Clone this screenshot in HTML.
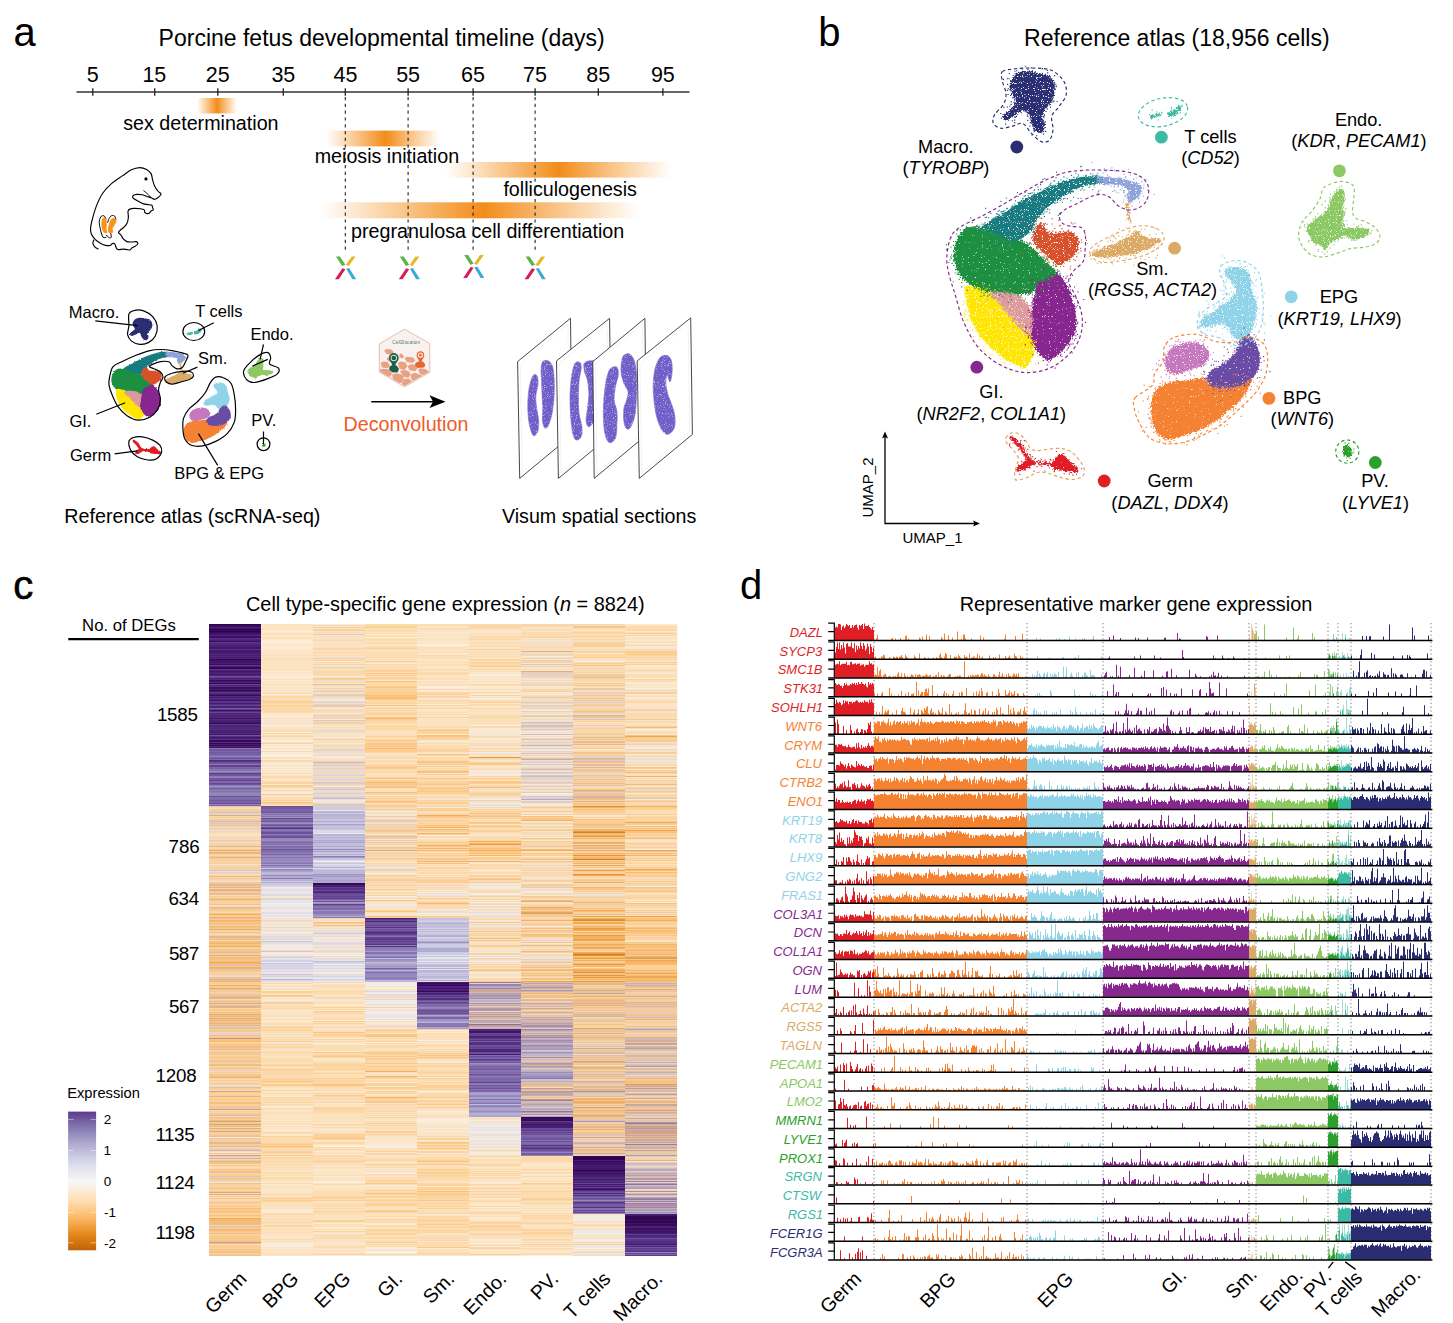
<!DOCTYPE html><html><head><meta charset="utf-8"><title>Figure</title><style>html,body{margin:0;padding:0;background:#fff}svg{display:block}text{font-family:"Liberation Sans",sans-serif;white-space:pre}</style></head><body>
<svg width="1453" height="1323" viewBox="0 0 1453 1323" font-family="Liberation Sans, sans-serif">
<rect width="1453" height="1323" fill="#fff"/>
<g id="pa">
<text x="13.40" y="45.70" font-size="40">a</text>
<text x="158.60" y="46.00" font-size="23">Porcine fetus developmental timeline (days)</text>
<path d="M76.5 92H689.5" stroke="#333" stroke-width="1.6" fill="none"/>
<path d="M92.8 88.3V95.8M154.7 88.3V95.8M217.8 88.3V95.8M283.3 88.3V95.8M345.3 88.3V95.8M408.1 88.3V95.8M473.1 88.3V95.8M535.1 88.3V95.8M598.3 88.3V95.8M662.9 88.3V95.8" stroke="#222" stroke-width="1.3" fill="none"/>
<text x="86.83" y="82.00" font-size="21.5">5</text>
<text x="142.39" y="82.00" font-size="21.5">15</text>
<text x="205.76" y="82.00" font-size="21.5">25</text>
<text x="271.39" y="82.00" font-size="21.5">35</text>
<text x="333.56" y="82.00" font-size="21.5">45</text>
<text x="396.17" y="82.00" font-size="21.5">55</text>
<text x="461.06" y="82.00" font-size="21.5">65</text>
<text x="523.06" y="82.00" font-size="21.5">75</text>
<text x="586.34" y="82.00" font-size="21.5">85</text>
<text x="650.89" y="82.00" font-size="21.5">95</text>
<defs>
<linearGradient id="g1" x1="0" x2="1" y1="0" y2="0"><stop offset="0" stop-color="#F7931E" stop-opacity="0"/><stop offset="0.50" stop-color="#F28C1A" stop-opacity="1"/><stop offset="1" stop-color="#F7931E" stop-opacity="0"/></linearGradient>
<linearGradient id="g2" x1="0" x2="1" y1="0" y2="0"><stop offset="0" stop-color="#F7931E" stop-opacity="0"/><stop offset="0.52" stop-color="#F28C1A" stop-opacity="1"/><stop offset="1" stop-color="#F7931E" stop-opacity="0"/></linearGradient>
<linearGradient id="g3" x1="0" x2="1" y1="0" y2="0"><stop offset="0" stop-color="#F7931E" stop-opacity="0"/><stop offset="0.50" stop-color="#F28C1A" stop-opacity="1"/><stop offset="1" stop-color="#F7931E" stop-opacity="0"/></linearGradient>
<linearGradient id="g4" x1="0" x2="1" y1="0" y2="0"><stop offset="0" stop-color="#F7931E" stop-opacity="0"/><stop offset="0.51" stop-color="#F28C1A" stop-opacity="1"/><stop offset="1" stop-color="#F7931E" stop-opacity="0"/></linearGradient>
</defs>
<rect x="197" y="98" width="40" height="15.4" fill="url(#g1)"/>
<rect x="326" y="130.6" width="114" height="15.8" fill="url(#g2)"/>
<rect x="446" y="162" width="225" height="15.6" fill="url(#g3)"/>
<rect x="321" y="202.3" width="318" height="16" fill="url(#g4)"/>
<text x="123.16" y="129.80" font-size="19.7">sex determination</text>
<text x="314.67" y="162.90" font-size="19.7">meiosis initiation</text>
<text x="503.40" y="196.40" font-size="19.7">folliculogenesis</text>
<text x="351.02" y="237.80" font-size="19.7">pregranulosa cell differentiation</text>
<path d="M345.3 97V252M408.1 97V252M473.1 97V252M535.1 97V252" stroke="#222" stroke-width="1.1" stroke-dasharray="3.2 3.6" fill="none"/>
<g transform="translate(345.6 267.0)">
<path d="M-9.6-10.6L-5.7-10.6L-0.2-2.2L-3.5-0.9Z" fill="#5DB346"/>
<path d="M6.1-10.6L10-10.6L3.2-0.9L0.2-1.9Z" fill="#E3B92A"/>
<path d="M-3.2 1.3L-0.2 2.2L-6.9 12.3L-10.6 12.3Z" fill="#D81A55"/>
<path d="M0.6 1.8L3.5 0.9L10.6 12.3L6.8 12.3Z" fill="#3FA9D6"/>
</g>
<g transform="translate(409.4 267.0)">
<path d="M-9.6-10.6L-5.7-10.6L-0.2-2.2L-3.5-0.9Z" fill="#5DB346"/>
<path d="M6.1-10.6L10-10.6L3.2-0.9L0.2-1.9Z" fill="#E3B92A"/>
<path d="M-3.2 1.3L-0.2 2.2L-6.9 12.3L-10.6 12.3Z" fill="#D81A55"/>
<path d="M0.6 1.8L3.5 0.9L10.6 12.3L6.8 12.3Z" fill="#3FA9D6"/>
</g>
<g transform="translate(473.8 265.6)">
<path d="M-9.6-10.6L-5.7-10.6L-0.2-2.2L-3.5-0.9Z" fill="#5DB346"/>
<path d="M6.1-10.6L10-10.6L3.2-0.9L0.2-1.9Z" fill="#E3B92A"/>
<path d="M-3.2 1.3L-0.2 2.2L-6.9 12.3L-10.6 12.3Z" fill="#D81A55"/>
<path d="M0.6 1.8L3.5 0.9L10.6 12.3L6.8 12.3Z" fill="#3FA9D6"/>
</g>
<g transform="translate(535.2 267.0)">
<path d="M-9.6-10.6L-5.7-10.6L-0.2-2.2L-3.5-0.9Z" fill="#5DB346"/>
<path d="M6.1-10.6L10-10.6L3.2-0.9L0.2-1.9Z" fill="#E3B92A"/>
<path d="M-3.2 1.3L-0.2 2.2L-6.9 12.3L-10.6 12.3Z" fill="#D81A55"/>
<path d="M0.6 1.8L3.5 0.9L10.6 12.3L6.8 12.3Z" fill="#3FA9D6"/>
</g>
<path d="M139.71 167.56C142.23 167.5 144.63 168.44 146.52 169.45C148.41 170.46 150.04 171.9 151.05 173.61C152.06 175.31 152 177.64 152.56 179.65C153.13 181.67 153.57 183.81 154.45 185.7C155.33 187.59 156.76 189.58 157.85 190.99C158.95 192.4 160.9 193.16 161.03 194.16C161.15 195.17 159.64 196.18 158.61 197.04C157.58 197.89 156.09 199.18 154.83 199.3C153.57 199.43 152.44 198.3 151.05 197.79C149.66 197.29 148.03 196.79 146.52 196.28C145 195.78 143.62 195.08 141.98 194.77C140.34 194.45 138.14 194.27 136.69 194.39C135.24 194.52 133.92 194.96 133.29 195.53C132.66 196.09 132.22 196.91 132.91 197.79C133.6 198.67 135.68 199.81 137.45 200.82C139.21 201.82 141.73 203.21 143.49 203.84C145.26 204.47 146.64 204.34 148.03 204.6C149.41 204.85 151.05 204.85 151.81 205.35C152.56 205.86 152.31 206.86 152.56 207.62C152.81 208.37 153.57 209.32 153.32 209.89C153.07 210.45 151.68 210.52 151.05 211.02C150.42 211.52 150.29 212.49 149.54 212.91C148.78 213.33 147.33 213.64 146.52 213.51C145.7 213.39 145 212.76 144.63 212.15C144.25 211.55 144.94 210.45 144.25 209.89C143.56 209.32 142.11 209 140.47 208.75C138.83 208.5 136.19 208.31 134.42 208.37C132.66 208.44 130.96 208.63 129.89 209.13C128.82 209.63 128.25 210.01 128 211.4C127.75 212.78 128.56 215.43 128.37 217.45C128.19 219.46 127.62 221.85 126.86 223.49C126.11 225.13 124.97 226.14 123.84 227.27C122.71 228.41 120.94 229.41 120.06 230.29C119.18 231.18 118.42 231.81 118.55 232.56C118.67 233.32 120.06 233.82 120.82 234.83C121.57 235.84 122.08 237.48 123.08 238.61C124.09 239.74 125.35 241.07 126.86 241.63C128.37 242.2 130.58 242.01 132.15 242.01C133.73 242.01 135.37 241.32 136.31 241.63C137.26 241.95 138.01 243.14 137.82 243.9C137.63 244.66 136.12 245.54 135.18 246.17C134.23 246.8 133.04 247.05 132.15 247.68C131.27 248.31 130.77 249.63 129.89 249.95C129 250.26 128 249.7 126.86 249.57C125.73 249.44 124.6 249.19 123.08 249.19C121.57 249.19 118.99 249.95 117.79 249.57C116.6 249.19 116.41 247.87 115.9 246.92C115.4 245.98 115.34 244.47 114.77 243.9C114.2 243.33 113.26 243.27 112.5 243.52C111.75 243.77 111.37 245.1 110.23 245.41C109.1 245.73 107.34 245.79 105.7 245.41C104.06 245.03 102.17 244.15 100.41 243.14C98.64 242.14 96.63 240.88 95.12 239.37C93.61 237.85 92.09 235.96 91.34 234.07C90.58 232.18 90.33 230.8 90.58 228.03C90.83 225.26 91.84 221.22 92.85 217.45C93.86 213.67 94.99 209.38 96.63 205.35C98.27 201.32 100.16 196.91 102.68 193.26C105.2 189.6 108.47 186.33 111.75 183.43C115.02 180.53 119.05 178.14 122.33 175.87C125.6 173.61 128.5 171.21 131.4 169.83C134.3 168.44 137.19 167.62 139.71 167.56Z" fill="#fff" stroke="#000" stroke-width="1.15" stroke-linejoin="round"/>
<circle cx="146.0" cy="178.9" r="1.6"/>
<path d="M143.49 190.61C144.12 191.12 146.01 192.5 147.27 193.64C148.53 194.77 150.42 196.79 151.05 197.41" fill="none" stroke="#000" stroke-width="1"/>
<path d="M93.98 239.74C93.79 240.31 92.72 241.95 92.85 243.14C92.98 244.34 93.79 245.92 94.74 246.92C95.68 247.93 97.89 248.81 98.52 249.19" fill="none" stroke="#000" stroke-width="1.1"/>
<path d="M106.46 237.1C105.89 237.12 104.06 238.51 103.05 237.25C102.05 235.99 101.04 232.21 100.41 229.54C99.78 226.87 99.09 223.47 99.27 221.22C99.46 218.98 100.66 216.9 101.54 216.08C102.42 215.27 103.81 215.71 104.57 216.31C105.32 216.92 105.83 219.15 106.08 219.71" fill="none" stroke="#000" stroke-width="1"/>
<path d="M106.08 234.83C106.52 235.27 107.88 237.03 108.72 237.48C109.57 237.92 110.83 238.29 111.14 237.48C111.46 236.66 110.7 233.38 110.61 232.56" fill="none" stroke="#000" stroke-width="1"/>
<path d="M107.59 222.74C107.84 222.04 108.41 219.78 109.1 218.58C109.79 217.38 110.8 215.93 111.75 215.56C112.69 215.18 114.08 215.62 114.77 216.31C115.46 217 115.71 219.15 115.9 219.71" fill="none" stroke="#000" stroke-width="1"/>
<path d="M102.68 218.2C103.39 217.42 105.01 217.04 105.7 218.05C106.39 219.06 106.71 222.33 106.83 224.25C106.96 226.16 106.37 228.13 106.46 229.54C106.54 230.95 107.74 232.18 107.36 232.71C106.98 233.24 105.09 233.37 104.19 232.71C103.28 232.06 102.39 230.45 101.92 228.78C101.45 227.12 101.26 224.5 101.39 222.74C101.52 220.97 101.96 218.98 102.68 218.2Z" fill="#F7931E"/>
<path d="M112.5 218.2C113.38 217.89 114.87 218.08 115.53 218.58C116.18 219.08 116.66 220.03 116.43 221.22C116.21 222.42 114.79 224.5 114.16 225.76C113.53 227.02 112.84 227.71 112.65 228.78C112.46 229.85 113.56 231.47 113.03 232.18C112.5 232.9 110.35 233.41 109.48 233.09C108.61 232.78 107.94 231.64 107.82 230.29C107.69 228.95 108.32 226.64 108.72 225C109.13 223.37 109.6 221.6 110.23 220.47C110.86 219.33 111.62 218.52 112.5 218.2Z" fill="#F7931E"/>
</g>
<g id="pa2">
<defs><filter id="rough2" x="-5%" y="-5%" width="110%" height="110%"><feTurbulence type="fractalNoise" baseFrequency="0.7" numOctaves="2" seed="5" result="n"/><feDisplacementMap in="SourceGraphic" in2="n" scale="2.2" xChannelSelector="R" yChannelSelector="G"/></filter></defs>
<g filter="url(#rough2)">
<path d="M134 322.1C134.4 321.5 134.8 320.3 135.9 319.8C137 319.2 139.1 318.8 140.7 318.8C142.3 318.8 144 319.3 145.4 319.6C146.9 319.9 148.4 319.9 149.4 320.5C150.4 321.2 151.1 322.5 151.3 323.7C151.5 324.9 151.3 326.6 150.8 327.7C150.4 328.8 149.2 329.6 148.5 330.6C147.7 331.5 146.7 332.3 146.6 333.3C146.4 334.3 147.5 335.5 147.5 336.5C147.5 337.4 147.1 338.6 146.6 339C146 339.4 144.7 339.2 144 338.6C143.3 338 142.6 336.6 142.1 335.7C141.6 334.7 141.7 333.5 141.1 332.9C140.6 332.2 139.6 331.6 138.8 331.7C137.9 331.7 137 332.7 135.9 333.3C134.8 333.8 133 334.9 132.1 335C131.3 335.1 130.7 334.4 131 333.8C131.3 333.1 133.2 332.1 134 331.3C134.9 330.5 135.9 329.8 135.9 328.9C136 328 134.9 327 134.5 326.1C134.1 325.3 133.6 324.4 133.6 323.7C133.5 323.1 133.6 322.8 134 322.1Z" fill="#2A2D72" stroke="#2A2D72" stroke-width="2" stroke-linejoin="round"/>
<path d="M122.7 370.9C123.3 370.3 125.7 368.7 127.4 367.6C129.1 366.6 131.2 365.8 132.9 364.9C134.6 363.9 135.8 363.1 137.6 362.1C139.4 361.1 141.8 359.9 143.9 358.9C145.9 358 148 357.2 150.1 356.5C152.2 355.7 154.4 355 156.4 354.5C158.3 353.9 160 353.5 161.8 353.3C163.7 353.2 166.2 353.1 167.3 353.3C168.5 353.5 168.7 354.2 168.7 354.6C168.7 355 168.3 355.3 167.3 355.6C166.3 355.9 164.2 355.9 162.6 356.3C161.1 356.7 159.4 357.3 157.9 357.9C156.5 358.6 155.3 359.3 154 360C152.7 360.8 151.3 361.6 150.1 362.4C148.9 363.2 148 363.9 147 364.9C146 365.8 145.1 366.7 144.2 367.9C143.4 369 143 370.7 141.9 371.8C140.8 372.9 139.1 374 137.6 374.4C136.1 374.9 134.5 374.8 132.9 374.4C131.3 374.1 129.6 372.9 128.2 372.3C126.8 371.8 125.2 371.4 124.3 371.2C123.4 371 122.2 371.5 122.7 370.9Z" fill="#197B82" stroke="#197B82" stroke-width="3" stroke-linejoin="round"/>
<path d="M167.2 353.2C167.9 352.9 170.9 353.4 172.8 353.6C174.7 353.8 176.7 354 178.3 354.3C179.9 354.6 181.3 354.9 182.3 355.4C183.3 355.9 184.1 356.6 184.3 357.2C184.5 357.9 183.9 358.7 183.4 359.3C183 360 182.1 360.7 181.4 361.2C180.7 361.6 179.7 362 179.2 361.9C178.7 361.7 178.3 360.7 178.3 360C178.3 359.4 179.3 358.6 179.1 358C178.8 357.4 177.8 356.9 176.7 356.6C175.7 356.2 174.2 356 172.8 355.9C171.4 355.7 169.2 356.2 168.3 355.7C167.3 355.3 166.4 353.5 167.2 353.2Z" fill="#8FA3DB" stroke="#8FA3DB" stroke-width="3" stroke-linejoin="round"/>
<path d="M112.8 379.2C112.9 377.5 113.5 375.6 114.1 374.3C114.8 372.9 115.8 371.8 116.9 371.1C117.9 370.4 119.3 370.1 120.4 370.1C121.5 370.1 122.2 370.8 123.5 371.1C124.8 371.5 126.6 371.7 128.2 372.2C129.8 372.7 131.3 373.9 132.9 374.3C134.5 374.7 136 374.2 137.6 374.6C139.2 375.1 140.9 376.1 142.3 377.1C143.7 378.1 144.9 379.4 146.2 380.6C147.5 381.7 149.1 383.1 150.1 384.1C151.1 385 152.6 385.4 152.3 386.1C152 386.8 149.8 387.6 148.5 388.2C147.3 388.8 145.8 389.1 144.8 389.8C143.8 390.5 143.6 392 142.4 392.6C141.2 393.1 139.4 392.9 137.6 392.9C135.7 392.9 133.4 392.6 131.3 392.6C129.3 392.5 126.9 392.9 125.1 392.6C123.3 392.2 121.8 391.3 120.4 390.5C119 389.7 117.6 388.7 116.5 387.7C115.4 386.6 114.4 385.6 113.7 384.2C113.1 382.8 112.7 380.8 112.8 379.2Z" fill="#1F8F40" stroke="#1F8F40" stroke-width="3" stroke-linejoin="round"/>
<path d="M142.7 373C143 371.7 144.9 368.9 145.8 368.7C146.7 368.5 147.1 371 147.9 371.6C148.8 372.2 149.7 372.3 150.9 372.3C152 372.4 153.5 371.9 154.8 371.9C156.1 372 157.8 372 158.7 372.6C159.6 373.2 160.1 374.7 160.3 375.7C160.4 376.7 160.2 377.7 159.7 378.5C159.2 379.3 158.1 379.9 157.3 380.6C156.5 381.2 155.6 381.9 154.8 382.4C154 382.9 153.4 383.6 152.6 383.5C151.8 383.4 151.1 382.4 150.1 381.7C149.2 381 148 380 147 379.2C145.9 378.3 144.6 377.5 143.9 376.5C143.1 375.5 142.4 374.3 142.7 373Z" fill="#D9512C" stroke="#D9512C" stroke-width="3" stroke-linejoin="round"/>
<path d="M117.5 390.3C118 389.9 119 390.3 120.4 390.7C121.8 391 124.4 391.7 125.9 392.4C127.3 393.2 127.8 394.1 129 395.2C130.2 396.4 131.6 398 132.9 399.4C134.2 400.8 135.4 402.3 136.8 403.6C138.3 404.9 140.4 405.9 141.5 407.1C142.6 408.3 143 409.4 143.2 410.6C143.4 411.8 143.3 413 142.8 414.2C142.2 415.4 141.1 417.2 140.1 417.7C139.1 418.2 138 417.4 136.8 417C135.6 416.6 134.3 416.1 132.9 415.3C131.5 414.4 129.8 413.3 128.2 412.1C126.6 410.9 124.9 409.4 123.5 407.9C122.1 406.4 120.9 404.8 120 403C119.1 401.3 118.5 399.1 118 397.5C117.6 395.8 117.4 394.5 117.3 393.3C117.2 392.1 117 390.8 117.5 390.3Z" fill="#FFE600" stroke="#FFE600" stroke-width="3" stroke-linejoin="round"/>
<path d="M125.9 392.4C126.3 392 129.5 392.3 131.3 392.4C133.2 392.5 135.1 392.3 136.8 393.1C138.5 393.9 140.5 395.8 141.5 397.3C142.5 398.8 142.8 400.6 142.8 402.2C142.9 403.8 142.7 406.6 141.7 406.9C140.7 407.1 138.3 404.8 136.8 403.6C135.4 402.4 134.2 400.8 132.9 399.4C131.6 398 130.2 396.4 129 395.2C127.8 394.1 125.5 392.9 125.9 392.4Z" fill="#DD9A9E" stroke="#DD9A9E" stroke-width="3" stroke-linejoin="round"/>
<path d="M144.6 389.6C145.5 388.7 147.3 388.5 148.5 387.9C149.8 387.3 151.2 386 152.2 386.1C153.3 386.3 154.1 387.8 155 388.9C155.8 390.1 156.7 391.5 157.3 393.1C158 394.8 158.6 397 158.9 398.7C159.2 400.5 159.5 402.1 159.3 403.6C159.1 405.1 158.4 406.5 157.7 407.8C157 409.1 156.1 410.2 155 411.3C153.9 412.3 152.2 413.5 151.1 414.2C149.9 414.9 148.9 415.4 147.9 415.3C147 415.1 146.2 414.4 145.4 413.5C144.6 412.6 143.8 411.2 143.1 410C142.4 408.9 141.5 407.8 141.4 406.5C141.2 405.3 142.1 403.9 142.3 402.3C142.5 400.8 142.5 399 142.7 397.5C142.9 395.9 143.1 394.6 143.5 393.3C143.8 392 143.8 390.5 144.6 389.6Z" fill="#87288F" stroke="#87288F" stroke-width="3" stroke-linejoin="round"/>
<path d="M165.7 380.7C166.3 380 168.8 379.1 170.3 378.4C171.8 377.7 173.2 377.2 174.7 376.4C176.1 375.6 177.8 374.7 179.1 373.8C180.3 373 181.4 371.6 182.1 371.5C182.9 371.4 182.7 372.7 183.5 373.1C184.2 373.6 185.3 374 186.5 374.4C187.8 374.7 190.9 374.8 191.1 375.4C191.3 376 189.1 377.1 187.8 377.9C186.6 378.7 184.9 379.5 183.5 380.1C182 380.6 180.5 381.1 179.1 381.5C177.6 381.8 176.1 381.9 174.7 382.1C173.2 382.3 171.6 382.7 170.3 382.7C168.9 382.7 167.3 382.5 166.6 382.2C165.8 381.9 165.1 381.3 165.7 380.7Z" fill="#DDAA66" stroke="#DDAA66" stroke-width="2" stroke-linejoin="round"/>
<path d="M179.5 362.7C179.6 361.9 180.3 361.8 180.7 362.5C181 363.2 181 365.5 181.3 367.1C181.7 368.6 182.5 371 182.5 371.8C182.5 372.6 181.7 372.7 181.3 372C181 371.3 180.5 368.9 180.2 367.3C179.9 365.8 179.4 363.5 179.5 362.7Z" fill="#DDAA66" stroke="#DDAA66" stroke-width="0.6" stroke-linejoin="round"/>
<path d="M187.4 333.7C187.7 333.4 188.9 333.1 189.7 332.9C190.4 332.7 191.6 332.6 192 332.7C192.4 332.8 192.5 333.2 192.2 333.5C191.8 333.8 190.7 334.1 189.9 334.3C189.1 334.5 188 334.8 187.6 334.7C187.2 334.6 187.1 334 187.4 333.7Z" fill="#3CBBA4" stroke="#3CBBA4" stroke-width="1.4" stroke-linejoin="round"/>
<path d="M194.9 332.5C195.2 332.1 196.4 331.8 197.3 331.3C198.1 330.8 199.3 329.7 199.9 329.5C200.5 329.3 201.1 329.6 200.9 330.1C200.7 330.6 199.5 331.9 198.8 332.5C198.1 333.1 197.4 333.7 196.7 333.9C196.1 334.1 195.4 333.9 195.1 333.7C194.8 333.5 194.5 332.9 194.9 332.5Z" fill="#3CBBA4" stroke="#3CBBA4" stroke-width="1.6" stroke-linejoin="round"/>
<path d="M215.3 385.2C215.9 384.6 218.3 384.1 219.7 384.1C221.1 384.1 222.7 384.5 223.7 385.2C224.7 385.8 225.2 386.8 225.6 388C226.1 389.1 225.8 390.8 226.1 392C226.5 393.2 227.3 394 227.6 395.3C228 396.5 228.3 398 228.2 399.3C228.1 400.6 227.4 402.1 226.8 403.3C226.3 404.6 225.7 405.7 224.9 406.6C224 407.4 222.9 408.2 221.9 408.4C220.9 408.5 219.6 408.2 218.7 407.5C217.9 406.9 217.7 405.1 216.7 404.3C215.8 403.6 214.1 403.1 212.8 403C211.5 403 210.1 403.8 208.8 403.9C207.6 404.1 205.7 404.3 205.2 403.9C204.7 403.5 205.1 402.1 205.9 401.3C206.6 400.6 208.5 400 209.8 399.3C211.1 398.6 212.5 397.7 213.8 396.9C215.1 396.1 216.7 395.3 217.7 394.4C218.7 393.6 219.7 392.9 219.7 392C219.7 391.1 218.4 390 217.7 389.2C217.1 388.4 216.2 387.8 215.8 387.2C215.3 386.5 214.6 385.7 215.3 385.2Z" fill="#8FD3E8" stroke="#8FD3E8" stroke-width="3" stroke-linejoin="round"/>
<path d="M185.4 428.4C185.8 426.8 186.6 425.4 188.1 424.4C189.5 423.4 192 422.7 194 422.3C196 421.9 198 422.1 199.9 421.9C201.9 421.7 204.2 420.9 205.9 421.1C207.5 421.4 208.3 423 209.8 423.6C211.3 424.1 212.9 424.5 214.8 424.5C216.6 424.5 219 424.2 220.9 423.7C222.8 423.2 225.7 421 226 421.5C226.4 422.1 224.2 425.4 222.9 426.9C221.5 428.5 219.7 429.6 217.9 431C216.1 432.3 214.1 433.8 212 435C209.9 436.2 207.4 437.4 205.1 438.3C202.7 439.1 200.1 439.7 198 440.3C195.8 440.8 193.8 441.7 192 441.5C190.3 441.3 188.5 440.3 187.4 439.1C186.3 437.9 185.7 436 185.4 434.2C185.1 432.4 185 430 185.4 428.4Z" fill="#F58231" stroke="#F58231" stroke-width="3" stroke-linejoin="round"/>
<path d="M190.8 415.5C191 414.2 191.8 412.4 193 411.4C194.2 410.5 196.1 410 198 409.6C199.8 409.3 202.2 408.9 203.9 409.2C205.6 409.5 207.3 410.5 208 411.4C208.8 412.3 209 413.7 208.5 414.7C208 415.6 206.5 416.6 205.1 417.2C203.6 417.9 201.5 418.1 199.9 418.5C198.4 418.9 197.3 419.6 196 419.7C194.6 419.7 192.7 419.6 191.8 418.9C191 418.2 190.6 416.7 190.8 415.5Z" fill="#C678BE" stroke="#C678BE" stroke-width="3" stroke-linejoin="round"/>
<path d="M224.7 406.8C225.8 406.9 227 408.6 227.8 409.8C228.6 411 229.1 412.5 229.3 413.9C229.5 415.2 229.4 416.7 228.8 417.9C228.2 419.1 227.2 420.3 225.8 421.3C224.5 422.3 222.7 423.2 220.9 423.7C219.1 424.3 216.6 424.5 214.8 424.5C212.9 424.5 211 424.3 209.8 423.7C208.6 423.1 207.6 422 207.6 421.1C207.6 420.2 208.6 419.1 209.8 418.3C211 417.5 213.2 417.2 214.8 416.3C216.3 415.4 218.1 414.2 219.2 413C220.3 411.9 220.3 410.4 221.2 409.4C222.1 408.4 223.5 406.8 224.7 406.8Z" fill="#6B4BA5" stroke="#6B4BA5" stroke-width="3" stroke-linejoin="round"/>
<path d="M133.4 440.7C133.6 440.6 134.6 440.9 135.3 441.4C136.1 441.8 137.1 442.8 137.8 443.6C138.4 444.4 138.9 445.3 139.4 446.1C139.9 446.9 140.3 447.8 141 448.3C141.7 448.9 142.5 449.2 143.4 449.4C144.4 449.7 145.6 449.7 146.7 449.8C147.8 449.8 149.1 450.1 149.9 449.8C150.7 449.5 150.9 448.4 151.5 448C152.2 447.5 153.3 447 154 447.1C154.7 447.2 155.1 448.1 155.8 448.7C156.4 449.3 157.1 450 157.8 450.5C158.5 451.1 159.5 451.5 159.8 452C160.1 452.5 160.4 453.4 159.8 453.6C159.2 453.8 157.5 453.4 156.4 453.2C155.3 453.1 154.1 453 153.2 452.9C152.2 452.7 151.3 452.8 150.7 452.5C150.1 452.2 150.3 451.5 149.5 451.3C148.7 451 147 451 145.9 450.8C144.8 450.7 143.8 450.2 143 450.3C142.2 450.4 141.8 451 141 451.4C140.3 451.8 139.4 452.6 138.6 452.9C137.8 453.2 136.5 453.4 136.2 453.2C135.8 453 136 452.2 136.4 451.6C136.8 451 138 450.2 138.6 449.8C139.1 449.4 139.9 449.6 139.8 449.1C139.7 448.5 138.8 447.3 138.2 446.5C137.6 445.6 136.9 444.7 136.2 443.9C135.5 443.2 134.4 442.6 134 442.1C133.5 441.6 133.2 440.8 133.4 440.7Z" fill="#E01E26" stroke="#E01E26" stroke-width="1.6" stroke-linejoin="round"/>
<path d="M260.7 359.3C261.3 359.1 262 359.2 262.4 359.6C262.7 360 262.7 361 262.6 361.7C262.6 362.5 262.1 363.5 262.1 364.3C262.1 365.2 262.4 366 262.4 366.9C262.3 367.7 261.7 368.8 261.8 369.5C262 370.2 262.5 370.9 263.4 371.2C264.3 371.4 265.6 370.9 267 371C268.4 371 271 371.3 271.7 371.6C272.4 371.9 271.7 372.5 271.2 373C270.7 373.4 269.6 374 268.6 374.3C267.6 374.5 266.3 374.6 265.4 374.5C264.4 374.3 263.7 373.4 262.8 373.4C261.8 373.4 260.7 374.3 259.7 374.7C258.6 375.1 257.2 375.5 256.5 376C255.9 376.5 256 377.7 255.5 377.7C255 377.7 254.1 376.6 253.3 376.2C252.5 375.8 251.4 375.8 250.7 375.3C250.1 374.9 249.8 374 249.4 373.3C249 372.6 248.3 371.8 248.4 371.2C248.5 370.5 249 370 249.8 369.5C250.6 368.9 252 368.3 252.9 367.7C253.9 367.2 254.8 366.7 255.5 366C256.2 365.3 256.5 364.3 257.1 363.5C257.6 362.6 258 361.6 258.6 360.9C259.2 360.2 260.1 359.5 260.7 359.3Z" fill="#8CC863" stroke="#8CC863" stroke-width="2.2" stroke-linejoin="round"/>
<rect x="262" y="443" width="3.4" height="3.6" fill="#2CA02C"/>
</g>
<g fill="none" stroke="#000" stroke-width="1.2">
<path d="M128.9 314.1C129.9 311.6 132.2 310.8 134.7 310.3C137.2 309.7 140.7 309.9 143.7 310.9C146.7 312 150.4 314.2 152.7 316.7C154.9 319.2 156.8 322.5 157.2 325.7C157.6 328.9 156.7 333.2 155.3 336C153.9 338.8 151.4 341 148.8 342.4C146.3 343.8 142.7 344.6 139.8 344.3C137 344.1 133.5 342.7 131.5 341.1C129.5 339.5 128.1 337.3 127.6 334.7C127.2 332.1 128.7 329.1 128.9 325.7C129.1 322.3 128 316.7 128.9 314.1Z"/>
<path d="M109.6 377.1C110.3 374.1 110.8 369.4 112.9 366.8C114.9 364.3 118 363.6 121.9 361.7C125.7 359.8 131.5 357.1 136 355.3C140.5 353.4 144.8 351.7 148.8 350.8C152.9 349.8 156.3 349.5 160.4 349.5C164.5 349.5 169.4 350.1 173.3 350.8C177.1 351.4 181.1 352.6 183.5 353.3C186 354.1 187.7 353.9 188 355.3C188.4 356.7 186.4 359.7 185.5 361.7C184.5 363.7 183.7 366.3 182.3 367.5C180.9 368.7 178.8 369.1 177.1 368.8C175.4 368.4 173.4 366.7 172 365.6C170.6 364.4 170.7 362.3 168.8 361.7C166.8 361.1 163.3 361.2 160.4 361.7C157.5 362.2 153.2 364.1 151.4 364.9C149.6 365.8 149.1 366.2 149.5 366.8C149.9 367.5 152.2 367.9 154 368.8C155.8 369.6 158.9 370.6 160.4 372C161.9 373.4 163 375.4 163 377.1C163 378.8 161.2 380.1 160.4 382.3C159.7 384.4 158.5 387.2 158.5 390C158.5 392.8 160.5 395.8 160.4 399C160.3 402.2 159.6 406.3 157.8 409.3C156.1 412.3 153.3 415.1 150.1 417C146.9 418.8 142.4 420.4 138.6 420.2C134.7 420 130.4 417.9 127 415.7C123.6 413.4 120.5 410.1 118 406.7C115.5 403.3 113.7 398.8 112.2 395.1C110.7 391.5 109.4 387.8 109 384.8C108.6 381.8 109 380.1 109.6 377.1Z"/>
<path d="M164.9 377.1C165.8 375.6 169.1 374.2 172 373.3C174.9 372.3 179 371.6 182.3 371.3C185.5 371.1 189.4 371.1 191.3 372C193.1 372.8 193.6 375.2 193.2 376.5C192.8 377.8 190.9 378.7 188.7 379.7C186.4 380.7 182.5 381.5 179.7 382.3C176.9 383 174.1 384.2 172 384.2C169.8 384.2 168 383.4 166.8 382.3C165.7 381.1 164.1 378.6 164.9 377.1Z"/>
<path d="M215.7 377.1C217.8 376.4 220.8 376.7 223.4 377.8C226 378.8 229.3 380.7 231.1 383.5C232.9 386.4 233.6 390.8 234.3 395.1C235.1 399.4 235.6 404.8 235.6 409.3C235.6 413.8 235.7 418 234.3 422.1C232.9 426.2 230.4 430.5 227.2 433.7C224.1 436.9 219.8 439.4 215.7 441.4C211.6 443.4 206.9 445.2 202.8 445.9C198.8 446.5 194.3 446.4 191.3 445.2C188.3 444.1 186.2 441.6 184.8 438.8C183.4 436 183.1 432 182.9 428.5C182.7 425.1 182.6 421.5 183.5 418.3C184.5 415 186.3 412 188.7 409.3C191 406.5 194.9 404.3 197.7 401.5C200.5 398.8 203.3 395.8 205.4 392.5C207.5 389.3 208.8 384.8 210.5 382.3C212.3 379.7 213.5 377.9 215.7 377.1Z"/>
<path d="M128.9 441.4C129.3 439.2 131.2 438.3 133.4 437.5C135.7 436.8 139.2 436.5 142.4 436.9C145.6 437.3 149.8 438.7 152.7 440.1C155.6 441.5 158.3 443.3 159.8 445.2C161.3 447.2 162.2 449.4 161.7 451.7C161.2 453.9 158.9 457.3 156.6 458.7C154.2 460.1 150.8 460.3 147.6 460C144.3 459.7 140.1 458.4 137.3 456.8C134.5 455.2 132.2 453 130.8 450.4C129.5 447.8 128.5 443.5 128.9 441.4Z"/>
<path d="M243.7 370.9C244.3 368 247.7 365 250.4 362.3C253.2 359.5 257.2 356.2 260.1 354.6C263 353 266 352.2 267.8 352.6C269.5 353.1 270.3 355.5 270.7 357.5C271 359.4 268.4 362.4 269.7 364.2C271 366 277.1 366.4 278.4 368C279.7 369.7 279.2 372.1 277.4 373.8C275.6 375.6 271.6 377.2 267.8 378.6C263.9 380.1 257.8 382.3 254.3 382.5C250.7 382.7 248.3 381.5 246.6 379.6C244.8 377.7 243 373.8 243.7 370.9Z"/>
<ellipse cx="193.8" cy="331.5" rx="10.9" ry="9"/><circle cx="263.5" cy="444.2" r="6.4"/>
<path d="M95.3 320.8L137.7 325.7M213.8 322.8L198.4 330.5M263.5 344.5L260.1 359.4M252.4 366.1L267.8 359.4M197.4 367.1L183 373.3M96.3 414.3L125.2 402.7M114.6 453.8L137.7 450.9M198.4 433.6L217.7 465.4M263.5 431.6V444.2"/>
</g>
<text x="68.84" y="317.90" font-size="16.5">Macro.</text>
<text x="195.13" y="317.40" font-size="16.5">T cells</text>
<text x="250.44" y="339.70" font-size="16.5">Endo.</text>
<text x="198.06" y="364.20" font-size="16.5">Sm.</text>
<text x="69.38" y="427.40" font-size="16.5">GI.</text>
<text x="251.34" y="425.90" font-size="16.5">PV.</text>
<text x="69.97" y="460.60" font-size="16.5">Germ</text>
<text x="174.24" y="479.20" font-size="16.5">BPG &amp; EPG</text>
<text x="64.37" y="522.50" font-size="19.7">Reference atlas (scRNA-seq)</text>
<text x="501.90" y="522.70" font-size="19.7">Visum spatial sections</text>
<text x="343.57" y="431.00" font-size="19.7" fill="#F15A29">Deconvolution</text>
<path d="M371.3 401.7H438" stroke="#000" stroke-width="1.6" fill="none"/><path d="M445.5 401.7L429.5 395.3L433 401.7L429.5 408.1Z"/>
<defs><filter id="bl" x="-10%" y="-10%" width="120%" height="120%"><feGaussianBlur stdDeviation="0.35"/></filter></defs>
<g filter="url(#bl)">
<polygon points="404.5,329.1 429.8,343.5 429.8,372.2 404.5,386.9 379.4,372.2 379.4,343.8" fill="#F8F1EF" stroke="#E2BFB0" stroke-width="1"/>
<clipPath id="hx"><polygon points="404.5,329.9 429.1,343.9 429.1,371.7 404.5,386.0 380.1,371.7 380.1,344.2"/></clipPath>
<g clip-path="url(#hx)">
<polygon points="384.2,350.6 386.4,348.9 391.5,349.5 393.8,352.3 391.0,354.6 386.4,354.0" fill="#E6A283"/>
<polygon points="399.5,354.0 401.7,353.4 404.0,356.3 402.9,358.5 399.5,357.4" fill="#E6A283"/>
<polygon points="404.6,358.0 407.4,356.8 413.1,357.4 415.4,360.8 412.0,363.1 406.8,362.0" fill="#E6A283"/>
<polygon points="380.8,363.1 383.0,361.4 387.6,362.0 389.8,365.4 387.6,368.2 381.9,367.6" fill="#E6A283"/>
<polygon points="397.8,363.1 401.2,361.4 405.7,362.5 407.4,366.5 404.6,369.9 399.5,368.8" fill="#E6A283"/>
<polygon points="407.4,365.9 410.8,364.2 415.9,364.8 417.6,368.2 415.4,371.0 409.7,370.5" fill="#E6A283"/>
<polygon points="378.5,369.9 383.0,368.8 388.7,369.3 392.1,373.3 390.4,376.7 387.0,376.7 378.5,374.4" fill="#E6A283"/>
<polygon points="400.0,371.0 404.0,369.9 408.5,371.0 410.8,374.4 408.5,377.8 403.4,376.7" fill="#E6A283"/>
<polygon points="418.2,369.3 421.0,368.2 425.6,369.3 430.1,372.2 430.1,376.7 419.9,373.9" fill="#E6A283"/>
<polygon points="392.1,374.4 396.6,373.3 401.7,374.4 404.0,377.8 402.3,382.4 397.2,383.5 392.7,379.0" fill="#E6A283"/>
<polygon points="410.8,374.4 414.8,372.7 419.3,374.4 424.4,376.7 414.8,382.4 410.8,378.4" fill="#E6A283"/>
<polygon points="404.0,379.0 408.5,378.4 414.2,382.9 405.1,388.0 401.7,384.1" fill="#E6A283"/>
<polygon points="386.4,359.1 388.7,356.8 390.4,359.7 389.3,362.0" fill="#E6A283"/>
<polygon points="381.3,376.7 391.0,377.8 396.6,384.1 387.0,382.4" fill="#E6A283"/>
<polygon points="418.8,374.4 426.7,376.7 421.0,380.1" fill="#E6A283"/>
</g>
<polygon points="389.3,367.1 392.7,364.5 396.6,365.4 398.9,368.8 397.8,372.2 392.7,372.4 389.3,369.9" fill="#1F5C4A"/>
<polygon points="390.1,360.8 397.5,360.8 394.9,365.4 392.7,365.4" fill="#1F5C4A"/>
<circle cx="393.81" cy="357.98" r="4.9" fill="#1F5C4A"/><circle cx="393.81" cy="357.98" r="3.2" fill="#E8DCCB"/><circle cx="393.81" cy="357.98" r="2.3" fill="#1F5C4A"/>
<polygon points="415.4,363.1 418.2,361.4 423.3,361.7 425.3,364.8 424.1,367.6 417.6,367.9 415.1,365.4" fill="#E8662E"/>
<polygon points="417.5,357.4 423.4,357.4 421.3,362.2 419.6,362.2" fill="#E8662E"/>
<circle cx="420.45" cy="355.15" r="3.8" fill="#E8662E"/><circle cx="420.45" cy="355.15" r="2.6" fill="#FBE6D8"/><circle cx="420.45" cy="355.15" r="1.3" fill="#E8662E"/>
<text x="406.17" y="344.49" font-size="4.9" text-anchor="middle" fill="#5E7D75">Cell2location</text>
</g>
<defs><filter id="tis" x="-10%" y="-10%" width="120%" height="120%"><feTurbulence type="fractalNoise" baseFrequency="0.9" numOctaves="2" seed="2" result="n"/><feColorMatrix in="n" type="matrix" values="0 0 0 0 1  0 0 0 0 1  0 0 0 0 1  2.4 0 0 0 -1.45" result="w"/><feComposite in="w" in2="SourceGraphic" operator="in" result="ws"/><feMerge><feMergeNode in="SourceGraphic"/><feMergeNode in="ws"/></feMerge><feGaussianBlur stdDeviation="0.3"/></filter></defs>
<polygon points="517.6,361.6 570.5,318.3 571.9,435.1 519.7,478.4" fill="#fff" stroke="#333" stroke-width="0.9"/>
<polygon points="520.3,364.2 567.9,323.9 569.2,432.5 522.2,472.8" fill="none" stroke="#EEEDF6" stroke-width="0.7"/>
<g filter="url(#tis)">
<path d="M533.7 374.9C534.8 373.8 536.5 374.7 537.2 376.3C537.9 378 538.1 381.5 537.9 384.7C537.6 388 536 392.2 535.8 395.9C535.5 399.6 536 403.1 536.5 407.1C536.9 411.1 538.3 415.7 538.6 419.7C538.8 423.6 538.7 428.2 537.9 430.9C537.1 433.6 535 436.2 533.7 435.8C532.4 435.3 531.1 431.7 530.2 428.1C529.2 424.5 528.4 419.2 528.1 414.1C527.7 409 527.7 402.4 528.1 397.3C528.4 392.2 529.2 387.1 530.2 383.3C531.1 379.6 532.5 376.1 533.7 374.9Z" fill="#6F5FCA" stroke="#8A68CC" stroke-width="0.7"/>
<path d="M542.8 361.6C544 360.2 546.7 360.1 548.4 360.9C550 361.8 551.6 363.3 552.6 366.5C553.5 369.8 554 375.4 554.2 380.5C554.5 385.7 554.3 391.7 554 397.3C553.6 402.9 552.8 409.4 551.9 414.1C550.9 418.8 549.5 422.9 548.4 425.3C547.2 427.6 545.8 428.8 544.9 428.1C543.9 427.4 542.8 424.3 542.5 421.1C542.1 417.8 542.8 412.9 542.8 408.5C542.7 404.1 542.2 399.2 542.1 394.5C541.9 389.8 541.8 384.7 541.6 380.5C541.5 376.3 540.9 372.5 541.1 369.3C541.3 366.2 541.6 363 542.8 361.6Z" fill="#6F5FCA" stroke="#8A68CC" stroke-width="0.7"/>
</g>
<polygon points="556.5,360.9 609.6,318.3 611.0,435.1 558.4,478.4" fill="#fff" stroke="#333" stroke-width="0.9"/>
<polygon points="559.2,363.6 607.0,323.9 608.3,432.5 561.0,472.8" fill="none" stroke="#EEEDF6" stroke-width="0.7"/>
<g filter="url(#tis)">
<path d="M574.9 363.7C576.3 361.2 578.8 361.6 579.8 362.3C580.9 363 581.3 364.9 581.2 367.9C581.1 371 579.6 375.6 579.1 380.5C578.7 385.4 578.4 391.7 578.4 397.3C578.4 402.9 578.5 409.2 579.1 414.1C579.7 419 581.6 422.9 581.9 426.7C582.3 430.4 582.2 434.3 581.2 436.5C580.3 438.7 577.7 440.4 576.3 440C574.9 439.5 573.8 437.5 572.8 433.7C571.9 429.8 571.2 422.9 570.7 416.9C570.3 410.8 569.9 403.8 570 397.3C570.2 390.8 570.6 383.3 571.4 377.7C572.2 372.1 573.5 366.3 574.9 363.7Z" fill="#6F5FCA" stroke="#8A68CC" stroke-width="0.7"/>
<path d="M584 363.7C584.7 361.9 587.2 361.2 588.9 360.9C590.7 360.7 593.3 359.5 594.5 362.3C595.7 365.1 595.7 371 595.9 377.7C596.1 384.5 596.1 395.9 595.9 402.9C595.7 409.9 595.7 415.7 594.5 419.7C593.3 423.6 590.3 426.4 588.9 426.7C587.5 426.9 586.4 424.1 586.1 421.1C585.9 418.1 587.1 412.9 587.5 408.5C588 404.1 588.9 399.2 588.9 394.5C588.9 389.8 588.2 384.3 587.5 380.5C586.8 376.8 585.3 374.9 584.7 372.1C584.1 369.3 583.3 365.6 584 363.7Z" fill="#6F5FCA" stroke="#8A68CC" stroke-width="0.7"/>
</g>
<polygon points="592.8,361.6 644.9,318.3 646.3,435.1 594.2,478.4" fill="#fff" stroke="#333" stroke-width="0.9"/>
<polygon points="595.5,364.2 642.3,323.9 643.6,432.5 596.8,472.8" fill="none" stroke="#EEEDF6" stroke-width="0.7"/>
<g filter="url(#tis)">
<path d="M611.3 367.9C612.7 367.1 615.7 366.1 616.9 367.2C618.1 368.4 618.5 371.8 618.3 374.9C618.1 378.1 616.2 381.9 615.5 386.1C614.8 390.3 613.9 395.9 614.1 400.1C614.3 404.3 616.4 407.1 616.9 411.3C617.4 415.5 617.1 420.9 616.9 425.3C616.7 429.7 616.7 435 615.5 437.9C614.3 440.8 611.5 443 609.9 442.8C608.3 442.5 606.7 439.8 605.7 436.5C604.7 433.1 604 428.1 603.6 422.5C603.3 416.9 603.3 409.4 603.6 402.9C604 396.4 604.9 388.4 605.7 383.3C606.5 378.2 607.6 374.7 608.5 372.1C609.4 369.6 609.9 368.8 611.3 367.9Z" fill="#6F5FCA" stroke="#8A68CC" stroke-width="0.7"/>
<path d="M623.9 355.3C625.2 354.2 627.7 353 629.5 354C631.2 354.9 633.2 357.4 634.4 360.9C635.5 364.4 636.1 369.3 636.5 374.9C636.8 380.5 636.7 388 636.5 394.5C636.2 401 636 408.7 635.1 414.1C634.1 419.5 632.3 424.2 630.9 426.7C629.5 429.1 627.8 429.7 626.7 428.8C625.5 427.8 624.3 424.5 623.9 421.1C623.4 417.7 623.4 412 623.9 408.5C624.3 405 626 402.9 626.7 400.1C627.4 397.3 628.5 394.5 628.1 391.7C627.6 388.9 625 386.6 623.9 383.3C622.7 380.1 621.4 375.9 621.1 372.1C620.7 368.4 621.3 363.7 621.8 360.9C622.2 358.1 622.6 356.5 623.9 355.3Z" fill="#6F5FCA" stroke="#8A68CC" stroke-width="0.7"/>
</g>
<polygon points="637.2,360.9 690.7,317.9 692.4,434.4 639.3,478.4" fill="#fff" stroke="#333" stroke-width="0.9"/>
<polygon points="639.9,363.5 688.2,323.5 689.7,431.8 641.8,472.8" fill="none" stroke="#EEEDF6" stroke-width="0.7"/>
<g filter="url(#tis)">
<path d="M660.2 357.4C662.2 355.4 665.4 355 667.2 355.6C669.1 356.2 670.6 358.2 671.4 360.9C672.2 363.7 672.4 368.6 672.1 372.1C671.9 375.6 670.9 381.5 670 381.9C669.2 382.4 667.9 374.7 667.2 374.9C666.5 375.2 665.7 380.1 665.8 383.3C666 386.6 666.9 390.8 667.9 394.5C669 398.2 671 402 672.1 405.7C673.3 409.4 674.6 413.2 674.9 416.9C675.3 420.6 675.4 425.2 674.2 428.1C673.1 431 670 434.1 667.9 434.4C665.8 434.6 663.5 432.4 661.6 429.5C659.8 426.6 658 421.8 656.7 416.9C655.5 412 654.5 405.7 654 400.1C653.4 394.5 653 388.7 653.3 383.3C653.5 378 654.2 372.2 655.3 367.9C656.5 363.6 658.3 359.5 660.2 357.4Z" fill="#6F5FCA" stroke="#8A68CC" stroke-width="0.7"/>
</g>
</g>
<g id="pb">
<text x="818.30" y="45.70" font-size="40">b</text>
<text x="1024.10" y="46.20" font-size="23">Reference atlas (18,956 cells)</text>
<defs><filter id="rough" x="-5%" y="-5%" width="110%" height="110%"><feTurbulence type="fractalNoise" baseFrequency="0.55" numOctaves="2" seed="3" result="n"/><feDisplacementMap in="SourceGraphic" in2="n" scale="5" xChannelSelector="R" yChannelSelector="G" result="d"/><feTurbulence type="fractalNoise" baseFrequency="0.85" numOctaves="1" seed="8" result="m"/><feColorMatrix in="m" type="matrix" values="0 0 0 0 1  0 0 0 0 1  0 0 0 0 1  0 0 9 0 -6.1" result="w"/><feComposite in="w" in2="d" operator="in" result="ws"/><feMerge><feMergeNode in="d"/><feMergeNode in="ws"/></feMerge></filter><filter id="roughs" x="-5%" y="-5%" width="110%" height="110%"><feTurbulence type="fractalNoise" baseFrequency="0.55" numOctaves="2" seed="3" result="n"/><feDisplacementMap in="SourceGraphic" in2="n" scale="5" xChannelSelector="R" yChannelSelector="G" result="d"/><feTurbulence type="fractalNoise" baseFrequency="0.85" numOctaves="1" seed="8" result="m"/><feColorMatrix in="m" type="matrix" values="0 0 0 0 1  0 0 0 0 1  0 0 0 0 1  0 0 9 0 -5.55" result="w"/><feComposite in="w" in2="d" operator="in" result="ws"/><feMerge><feMergeNode in="d"/><feMergeNode in="ws"/></feMerge></filter></defs>
<g filter="url(#rough)">
<path d="M953.7 253.2C953.8 248.3 955.4 242.7 957.2 238.8C959 234.8 961.6 231.6 964.4 229.5C967.1 227.4 970.8 226.4 973.7 226.4C976.6 226.4 978.5 228.5 981.9 229.5C985.4 230.5 990.2 231 994.3 232.6C998.5 234.1 1002.6 237.6 1006.7 238.8C1010.8 240 1015 238.4 1019.1 239.8C1023.2 241.2 1027.7 244.1 1031.5 247C1035.3 250 1038.4 253.9 1041.8 257.4C1045.3 260.8 1049.5 264.9 1052.1 267.7C1054.8 270.4 1058.6 271.8 1057.9 273.9C1057.2 275.9 1051.3 278.3 1048 280.1C1044.7 281.9 1040.8 282.5 1038.1 284.6C1035.4 286.8 1035.1 291.3 1031.9 292.9C1028.7 294.4 1024 293.9 1019.1 293.9C1014.2 293.9 1008.1 293 1002.6 292.9C997.1 292.7 990.9 293.9 986.1 292.9C981.3 291.8 977.5 289.1 973.7 286.7C969.9 284.3 966.3 281.5 963.4 278.4C960.4 275.3 957.7 272.3 956.1 268.1C954.5 263.9 953.5 258.1 953.7 253.2Z" fill="#1F8F40"/>
<path d="M1037.7 284.2C1039.9 281.6 1044.7 280.8 1048 279C1051.3 277.3 1054.9 273.4 1057.7 273.9C1060.5 274.4 1062.7 278.7 1064.9 282.1C1067.2 285.6 1069.4 289.7 1071.1 294.5C1072.9 299.3 1074.4 305.9 1075.3 311C1076.1 316.2 1076.8 321 1076.3 325.5C1075.8 330 1074.1 334.1 1072.2 337.9C1070.3 341.7 1067.9 345 1064.9 348.2C1062 351.4 1057.7 354.9 1054.6 356.9C1051.5 358.8 1048.8 360.3 1046.4 360C1043.9 359.6 1041.9 357.4 1039.8 354.8C1037.6 352.2 1035.3 347.9 1033.6 344.5C1031.8 341.1 1029.4 338 1029 334.2C1028.7 330.4 1030.9 326.3 1031.5 321.8C1032.1 317.3 1032 311.8 1032.5 307.3C1033 302.9 1033.7 298.8 1034.6 294.9C1035.5 291.1 1035.5 286.9 1037.7 284.2Z" fill="#87288F"/>
<path d="M1151.7 400.1C1152.8 395.1 1154.8 391 1158.3 387.9C1161.8 384.9 1168 383.1 1172.9 381.8C1177.7 380.6 1182.6 381.2 1187.5 380.6C1192.3 380 1198 377.4 1202 378.2C1206.1 379 1208.1 383.8 1211.8 385.5C1215.4 387.2 1219.4 388.3 1223.9 388.4C1228.4 388.5 1234.4 387.5 1239 386C1243.6 384.5 1250.8 377.8 1251.6 379.4C1252.4 381 1247.1 391 1243.8 395.7C1240.5 400.4 1236.1 403.8 1231.7 407.8C1227.2 411.9 1222.4 416.3 1217.1 420C1211.8 423.6 1205.8 427.1 1200.1 429.7C1194.3 432.3 1187.9 434.2 1182.6 435.8C1177.3 437.4 1172.4 440 1168 439.4C1163.7 438.8 1159.3 435.8 1156.6 432.1C1153.9 428.5 1152.6 422.9 1151.7 417.6C1150.9 412.2 1150.7 405 1151.7 400.1Z" fill="#F58231"/>
<path d="M1248.2 335.2C1250.9 335.4 1254.1 340.7 1256 344.2C1257.9 347.7 1259.2 352.3 1259.6 356.3C1260 360.4 1259.8 364.8 1258.4 368.5C1257 372.2 1254.4 375.8 1251.1 378.7C1247.9 381.6 1243.5 384.4 1239 386C1234.4 387.6 1228.4 388.4 1223.9 388.4C1219.4 388.4 1214.7 387.7 1211.8 386C1208.8 384.3 1206.4 380.9 1206.4 378.2C1206.4 375.5 1208.8 372.1 1211.8 369.7C1214.7 367.3 1220.1 366.3 1223.9 363.6C1227.8 361 1232.2 357.3 1234.8 353.9C1237.5 350.5 1237.5 346.1 1239.7 343C1241.9 339.9 1245.5 335 1248.2 335.2Z" fill="#6B4BA5"/>
<path d="M1010.2 436.3C1010.8 436 1013.3 436.9 1015.2 438.2C1017 439.5 1019.7 442.2 1021.4 444.4C1023.1 446.6 1024.1 449.4 1025.5 451.6C1026.9 453.9 1027.9 456.3 1029.6 457.8C1031.4 459.4 1033.4 460.2 1035.8 460.9C1038.2 461.6 1041.3 461.8 1044.1 461.9C1046.8 462.1 1050.3 462.8 1052.3 461.9C1054.4 461.1 1054.8 458.1 1056.5 456.8C1058.2 455.5 1060.9 454 1062.7 454.3C1064.5 454.6 1065.6 457.2 1067.2 458.8C1068.8 460.5 1070.6 462.5 1072.4 464C1074.1 465.6 1076.7 466.7 1077.5 468.1C1078.4 469.6 1079 472.1 1077.5 472.7C1076.1 473.3 1071.7 472 1068.9 471.6C1066 471.3 1063 471 1060.6 470.6C1058.2 470.3 1056 470.3 1054.4 469.6C1052.9 468.8 1053.4 466.9 1051.3 466.1C1049.2 465.3 1044.8 465.3 1042 464.8C1039.3 464.4 1036.9 463.1 1034.8 463.4C1032.7 463.7 1031.5 465.3 1029.6 466.5C1027.7 467.7 1025.5 469.8 1023.4 470.6C1021.4 471.5 1018.2 472.2 1017.2 471.6C1016.3 471.1 1016.8 468.7 1017.9 467.1C1018.9 465.5 1022 463.1 1023.4 461.9C1024.9 460.7 1026.7 461.4 1026.5 459.9C1026.4 458.3 1024 455.1 1022.4 452.7C1020.9 450.2 1019 447.5 1017.2 445.4C1015.5 443.4 1012.8 441.8 1011.7 440.3C1010.5 438.7 1009.6 436.7 1010.2 436.3Z" fill="#E01E26"/>
<path d="M1344 446C1344.6 445 1345.7 443.8 1346.5 444C1347.3 444.2 1348.2 446.2 1349 447C1349.8 447.8 1351.2 447.7 1351.5 449C1351.8 450.3 1351.5 453.6 1351 455C1350.5 456.4 1349.3 457.3 1348.5 457.5C1347.7 457.7 1346.8 456.5 1346 456C1345.2 455.5 1344 455.5 1343.5 454.5C1343 453.5 1342.9 451.4 1343 450C1343.1 448.6 1343.4 447 1344 446Z" fill="#2CA02C"/>
</g>
<g filter="url(#roughs)">
<path d="M979.9 228.9C981.3 227.1 987.8 222.2 992.3 219.2C996.7 216.2 1002.2 213.7 1006.7 210.9C1011.2 208.2 1014.3 205.6 1019.1 202.7C1023.9 199.7 1030.1 196.1 1035.6 193.4C1041.1 190.6 1046.6 188.3 1052.1 186.1C1057.6 183.9 1063.5 181.7 1068.7 180.1C1073.8 178.6 1078.3 177.4 1083.1 176.8C1087.9 176.3 1094.5 176.2 1097.6 176.8C1100.6 177.5 1101.3 179.5 1101.3 180.6C1101.3 181.7 1100.2 182.6 1097.6 183.4C1094.9 184.3 1089.3 184.5 1085.2 185.7C1081 186.9 1076.6 188.6 1072.8 190.5C1069 192.3 1065.9 194.5 1062.5 196.7C1059 198.9 1055.2 201.3 1052.1 203.7C1049 206.1 1046.5 208.2 1043.9 210.9C1041.3 213.6 1038.9 216.3 1036.7 219.8C1034.4 223.2 1033.4 228.3 1030.5 231.6C1027.5 234.8 1023.1 237.9 1019.1 239.2C1015.1 240.5 1010.8 240.2 1006.7 239.2C1002.6 238.2 998.1 234.6 994.3 233C990.5 231.4 986.4 230.4 984 229.7C981.6 229 978.5 230.6 979.9 228.9Z" fill="#197B82"/>
<path d="M1097.2 176.4C1099.1 175.4 1107.1 177.1 1112 177.7C1116.9 178.2 1122.3 178.8 1126.5 179.7C1130.7 180.6 1134.6 181.6 1137.2 183C1139.9 184.5 1141.9 186.5 1142.4 188.4C1142.9 190.3 1141.4 192.7 1140.1 194.6C1138.8 196.5 1136.6 198.7 1134.7 200C1132.9 201.2 1130.3 202.6 1128.9 202C1127.6 201.5 1126.5 198.6 1126.5 196.7C1126.4 194.8 1129.2 192.4 1128.5 190.7C1127.8 189 1125.1 187.4 1122.3 186.3C1119.6 185.3 1115.7 184.7 1112 184.3C1108.3 183.9 1102.5 185.2 1100 183.9C1097.6 182.6 1095.2 177.5 1097.2 176.4Z" fill="#8FA3DB"/>
<path d="M1032.5 235.1C1033.4 231.2 1038.5 223 1040.8 222.3C1043.1 221.6 1044.1 229.1 1046.4 230.9C1048.6 232.7 1051.2 232.9 1054.2 233C1057.2 233.1 1061.1 231.6 1064.5 231.8C1068 231.9 1072.4 232 1074.9 233.8C1077.3 235.7 1078.6 240 1079 242.9C1079.4 245.8 1078.6 248.8 1077.3 251.2C1076 253.6 1073.3 255.4 1071.1 257.4C1069 259.3 1066.6 261.3 1064.5 262.7C1062.5 264.2 1060.8 266.4 1058.7 266C1056.7 265.7 1054.6 262.8 1052.1 260.7C1049.7 258.5 1046.6 255.8 1043.9 253.2C1041.1 250.7 1037.5 248.4 1035.6 245.4C1033.7 242.4 1031.7 238.9 1032.5 235.1Z" fill="#D9512C"/>
<path d="M966 286.3C967.4 285 970 286.3 973.7 287.3C977.4 288.3 984.4 290.2 988.1 292.5C991.9 294.7 993.3 297.3 996.4 300.7C999.5 304.2 1003.3 309 1006.7 313.1C1010.2 317.2 1013.3 321.7 1017 325.5C1020.8 329.3 1026.6 332.4 1029.4 335.8C1032.3 339.3 1033.4 342.6 1034 346.1C1034.5 349.7 1034.1 353.4 1032.7 356.9C1031.4 360.4 1028.3 365.8 1025.7 367.2C1023.1 368.6 1020.2 366.3 1017 365.1C1013.9 363.9 1010.5 362.4 1006.7 360C1002.9 357.6 998.5 354.3 994.3 350.7C990.2 347.1 985.6 342.8 981.9 338.3C978.3 333.8 975.1 329 972.7 323.8C970.2 318.7 968.7 312.1 967.5 307.3C966.3 302.5 965.7 298.5 965.4 294.9C965.2 291.4 964.7 287.5 966 286.3Z" fill="#FFE600"/>
<path d="M988.1 292.5C989.2 291.1 997.8 292.1 1002.6 292.5C1007.4 292.8 1012.6 292.1 1017 294.5C1021.5 296.9 1026.8 302.4 1029.4 306.9C1032.1 311.4 1032.9 316.7 1032.9 321.4C1033 326.1 1032.5 334.5 1029.8 335.2C1027.2 335.9 1020.9 329.2 1017 325.5C1013.2 321.8 1010.2 317.2 1006.7 313.1C1003.3 309 999.5 304.2 996.4 300.7C993.3 297.3 987.1 293.8 988.1 292.5Z" fill="#DD9A9E"/>
<path d="M1010.8 81.3C1011.8 79.3 1012.8 75.8 1015.6 74.1C1018.4 72.4 1023.7 71.3 1027.7 71.2C1031.7 71.1 1036 72.7 1039.7 73.6C1043.4 74.5 1047.3 74.4 1049.8 76.5C1052.3 78.6 1054 82.5 1054.6 86.1C1055.2 89.7 1054.6 94.7 1053.4 98.2C1052.2 101.6 1049.2 104 1047.4 106.8C1045.6 109.7 1043 112.1 1042.6 115C1042.2 118 1045 121.8 1045 124.7C1045 127.6 1044.1 131.3 1042.6 132.4C1041.1 133.5 1038 132.9 1036.1 131.2C1034.2 129.5 1032.5 125.2 1031.3 122.3C1030.1 119.4 1030.3 115.8 1028.9 113.8C1027.5 111.8 1025.1 110 1022.9 110.2C1020.6 110.4 1018.4 113.4 1015.6 115C1012.8 116.7 1008.1 120.1 1006 120.3C1003.9 120.6 1002.3 118.4 1003.1 116.5C1003.9 114.6 1008.7 111.5 1010.8 109C1012.9 106.6 1015.4 104.4 1015.6 101.8C1015.8 99.2 1013 96 1012 93.4C1011 90.7 1009.8 88.1 1009.6 86.1C1009.4 84.1 1009.8 83.3 1010.8 81.3Z" fill="#2A2D72"/>
<path d="M1150.5 116C1151.3 115.3 1154.1 114.5 1155.8 114.1C1157.6 113.7 1160.2 113.4 1161.1 113.6C1162.1 113.8 1162.4 114.9 1161.6 115.5C1160.8 116.2 1158.1 117 1156.3 117.4C1154.5 117.9 1152 118.7 1151 118.4C1150 118.2 1149.7 116.7 1150.5 116Z" fill="#3CBBA4"/>
<path d="M1167.9 113.1C1168.7 112.1 1171.5 111.4 1173.4 110.2C1175.3 109 1178 106.4 1179.4 105.9C1180.8 105.4 1182.2 106.1 1181.8 107.3C1181.4 108.5 1178.6 111.6 1177 113.1C1175.4 114.6 1173.6 116 1172.2 116.5C1170.8 117 1169.1 116.6 1168.3 116C1167.6 115.4 1167 114.1 1167.9 113.1Z" fill="#3CBBA4"/>
<path d="M1092.2 252.8C1093.9 251.3 1100.7 249.2 1104.8 247.5C1108.8 245.8 1112.8 244.5 1116.8 242.7C1120.8 240.9 1125.4 238.6 1128.8 236.7C1132.3 234.8 1135.3 231.4 1137.3 231.1C1139.3 230.9 1138.9 233.9 1140.9 235C1142.9 236.1 1145.8 237 1149.3 237.9C1152.8 238.8 1161.2 238.9 1161.8 240.3C1162.4 241.7 1156.4 244.5 1152.9 246.3C1149.4 248.2 1144.9 250 1140.9 251.4C1136.9 252.8 1132.9 253.9 1128.8 254.8C1124.8 255.6 1120.8 255.7 1116.8 256.2C1112.8 256.7 1108.4 257.6 1104.8 257.6C1101.1 257.7 1096.7 257.2 1094.6 256.4C1092.5 255.6 1090.5 254.3 1092.2 252.8Z" fill="#DDAA66"/>
<path d="M1125.6 203.3C1125.8 201.7 1127.2 201.4 1127.7 202.9C1128.3 204.3 1128.4 208.9 1128.9 211.9C1129.5 215 1131 219.6 1131 221.2C1131 222.8 1129.6 223.1 1128.9 221.6C1128.3 220.2 1127.4 215.4 1126.9 212.4C1126.3 209.3 1125.5 204.9 1125.6 203.3Z" fill="#DDAA66"/>
<path d="M1225.1 270.1C1226.7 268.5 1232.6 266.9 1236.1 266.9C1239.5 266.9 1243.3 268.1 1245.8 270.1C1248.2 272 1249.6 275.1 1250.6 278.6C1251.6 282 1251 287.1 1251.8 290.7C1252.7 294.4 1254.6 296.8 1255.5 300.5C1256.3 304.1 1257.3 308.6 1256.9 312.6C1256.6 316.7 1254.9 321.1 1253.5 324.7C1252.2 328.4 1250.7 332 1248.7 334.5C1246.7 337 1243.9 339.3 1241.4 339.8C1238.9 340.3 1235.7 339.4 1233.6 337.4C1231.5 335.4 1231.2 329.9 1228.8 327.7C1226.3 325.4 1222.3 324 1219 323.8C1215.8 323.6 1212.4 326 1209.3 326.5C1206.2 326.9 1201.6 327.7 1200.3 326.5C1199.1 325.2 1200.1 321 1202 318.7C1203.9 316.4 1208.5 314.8 1211.8 312.6C1215 310.4 1218.2 307.7 1221.5 305.3C1224.7 302.9 1228.8 300.5 1231.2 298C1233.6 295.6 1236.1 293.4 1236.1 290.7C1236.1 288.1 1232.8 284.7 1231.2 282.2C1229.6 279.8 1227.3 278.2 1226.3 276.2C1225.3 274.1 1223.5 271.6 1225.1 270.1Z" fill="#8FD3E8"/>
<path d="M1165.1 361.2C1165.6 357.5 1167.5 352 1170.5 349C1173.4 346.1 1178.1 344.8 1182.6 343.7C1187.1 342.6 1193 341.6 1197.2 342.5C1201.3 343.4 1205.5 346.3 1207.4 349C1209.3 351.8 1209.8 355.8 1208.6 358.8C1207.4 361.7 1203.6 364.6 1200.1 366.5C1196.6 368.4 1191.2 369 1187.5 370.2C1183.7 371.4 1181.1 373.6 1177.7 373.8C1174.4 374 1169.6 373.5 1167.5 371.4C1165.4 369.3 1164.6 364.9 1165.1 361.2Z" fill="#C678BE"/>
<path d="M1339.4 189.6C1341.1 188.9 1343 189.3 1343.9 190.6C1344.7 191.9 1344.7 195 1344.6 197.6C1344.5 200.1 1343.3 203.2 1343.2 206C1343.1 208.8 1344 211.5 1343.9 214.3C1343.8 217.1 1342 220.4 1342.5 222.7C1343 225.1 1344.4 227.5 1346.7 228.3C1349 229.1 1352.7 227.4 1356.5 227.6C1360.2 227.8 1367.2 228.6 1369 229.7C1370.9 230.8 1369 232.7 1367.6 234.2C1366.2 235.6 1363.3 237.6 1360.7 238.4C1358 239.2 1354.6 239.5 1352 239.1C1349.4 238.6 1347.6 235.5 1345 235.6C1342.4 235.7 1339.4 238.4 1336.6 239.8C1333.8 241.2 1330.1 242.3 1328.2 244C1326.4 245.6 1326.9 249.4 1325.4 249.6C1324 249.7 1321.7 245.9 1319.6 244.7C1317.4 243.4 1314.3 243.4 1312.6 241.9C1310.8 240.3 1310.1 237.6 1309.1 235.3C1308.1 233 1306.1 230.4 1306.3 228.3C1306.5 226.2 1308.1 224.6 1310.1 222.7C1312.1 220.9 1315.9 219 1318.5 217.1C1321 215.3 1323.6 213.9 1325.4 211.5C1327.3 209.2 1328.2 206 1329.6 203.2C1331 200.4 1332.2 197 1333.8 194.8C1335.5 192.5 1337.7 190.3 1339.4 189.6Z" fill="#8CC863"/>
</g>
<g stroke-linecap="square" stroke-width="1.15" fill="none">
<path d="M976.6 226.4h0M978 226.6h0M979.7 226.2h0M974.3 219.4h0M982.8 226.4h0M983.9 226.1h0M983.9 224.4h0M984.7 223h0M987.2 224.8h0M988.2 224.6h0M985.1 217.7h0M986.5 217.3h0M988.6 217.7h0M992.2 220.3h0M985.7 208.4h0M993 218.2h0M990.9 213.3h0M994.9 217.8h0M996.6 218.8h0M997.5 218.2h0M996.6 213.6h0M997.8 214.4h0M998 211.5h0M1001.8 216.3h0M999.2 210.3h0M1001.1 211.6h0M1001.9 211.9h0M1003.4 211.4h0M1006.2 214.1h0M1004.9 210.5h0M1001 201.4h0M1006.7 208.4h0M1007.3 208.6h0M1009.6 210.2h0M1012.5 209.4h0M1011.4 207.1h0M1006.3 198h0M1014.5 204h0M1017.3 206.4h0M1015.5 200.9h0M1018 202.5h0M1019.5 203.9h0M1019.3 202.1h0M1018 196.4h0M1020.9 201.2h0M1017.5 192.6h0M1022.7 198.9h0M1023 198.3h0M1024.1 196.2h0M1025.3 195.6h0M1024.9 192.3h0M1028.3 195.7h0M1028.3 193.5h0M1029.8 193.6h0M1030.7 193.3h0M1032.2 192.9h0M1034.1 195.3h0M1034.4 193h0M1034.1 190.2h0M1034.5 189.8h0M1038.8 193.4h0M1038.5 189.6h0M1037.8 187h0M1040.7 189.4h0M1043.3 191.8h0M1040.6 184.6h0M1044.4 191.1h0M1045.1 188.6h0M1042.9 179.4h0M1048 188.1h0M1044.7 178.5h0M1048.9 186.4h0M1050.1 185.4h0M1050.2 184.8h0M1050.8 183.4h0M1054.5 186.7h0M1054 180.9h0M1054.7 181h0M1057.2 183.7h0M1056.1 177.8h0M1058.6 181.9h0M1056.5 172.1h0M1061.1 182.9h0M1060.9 180h0M1062.8 181.2h0M1063.7 180.8h0M1063.9 176.9h0M1066.2 181.5h0M1067.6 183.1h0M1067 178.2h0M1069.5 181.7h0M1069.4 179.6h0M1071.3 181h0M1072.2 179.4h0M1071.5 175.4h0M1073.9 177.3h0M1075.2 179.5h0M1076.5 179.2h0M1075.8 173.2h0M1078 176.8h0M1078.5 174.9h0M1080.6 178.2h0M1080.7 171h0M1080.5 166.7h0M1081.6 166.2h0M1084.1 178.9h0M1085.3 176.6h0M1086.1 175.4h0M1087.3 179h0M1088.6 177.1h0M1090.8 173.9h0M1092.5 176.9h0M1093.1 176.1h0M1094.5 178.5h0M1095.4 176.3h0M1095.8 175.8h0M1096.9 175.5h0M1099.9 176.2h0M1101.2 177.6h0M1098.5 179.5h0M1102.3 179.4h0M1109.1 182.4h0M1102.2 182h0M1100.3 182h0M1099.4 183.8h0M1097.4 180.9h0M1098.5 191.7h0M1098 193.5h0M1094.2 184.9h0M1092.6 189.7h0M1091.1 184.2h0M1089.9 186h0M1089.1 187.5h0M1087.2 185.2h0M1084.6 184.3h0M1083.3 186.5h0M1084 190.1h0M1082.1 188.5h0M1080.9 190.1h0M1078.9 187.4h0M1077.6 186.6h0M1081.1 198.2h0M1075.9 188.1h0M1074.8 187.7h0M1078.2 198.5h0M1073.4 191.6h0M1073 191.9h0M1073.5 197.2h0M1070.5 193.5h0M1068.2 193.2h0M1067.1 194h0M1070.9 200.7h0M1067.3 198.6h0M1063 194.1h0M1065 198.5h0M1063.5 198.8h0M1060.9 195.9h0M1061.3 199.2h0M1062.3 202.1h0M1060.2 200.5h0M1057.4 200.6h0M1057.5 202.5h0M1054.1 200.3h0M1055.8 203h0M1054.5 203.1h0M1060.5 212.9h0M1059.5 213.6h0M1049.4 202.4h0M1058.3 215.3h0M1048.5 205.2h0M1049.8 209.7h0M1047.8 208.8h0M1047.4 209.3h0M1049.5 213h0M1046.9 211.7h0M1045 212h0M1043.6 213.8h0M1044.4 216.5h0M1039.4 214.8h0M1041.6 218.4h0M1039.9 217.7h0M1045.2 223.3h0M1036.5 219h0M1044.3 225.4h0M1035.6 221h0M1033.1 221.3h0M1036.1 223.8h0M1034.4 224.5h0M1033.9 225.2h0M1035.5 227h0M1034.6 228.2h0M1037.6 230.6h0M1032.2 229.2h0M1033.3 231.6h0M1035.3 233.8h0M1038 239.4h0M1029.2 232.7h0M1024.7 233.1h0M1030 242.9h0M1029.3 243.9h0M1023.5 236.8h0M1022 237.3h0M1021.9 240h0M1020.4 238.8h0M1019.4 238.6h0M1017.5 238.6h0M1017.1 239.6h0M1015.7 240.8h0M1015.2 242.4h0M1013.6 243.4h0M1012.6 241.7h0M1011.6 243.2h0M1009.9 240.5h0M1008.1 240.9h0M1006.9 243.5h0M1003.9 247.3h0M1006 238.6h0M1004.6 238.3h0M1000.8 243.4h0M999.4 244.9h0M1002.7 235.7h0M1000.4 236.5h0M998.1 239.9h0M998.2 237.3h0M991.7 245.8h0M996.8 235.7h0M992.5 240.4h0M993.3 236.6h0M990.7 239.3h0M991.9 232.5h0M990.1 231.6h0M988.8 231.3h0M987.6 230.8h0M986.7 228.6h0M983.5 230.5h0M982.9 235.6h0M980 234.6h0M978.4 229.5h0" stroke="#197B82"/>
<path d="M1092.2 162.5h0M1097.2 174.1h0M1097.9 173h0M1098.7 176.1h0M1103 172.9h0M1104.4 168.9h0M1105.5 170.8h0M1107.3 170.1h0M1107.5 175.1h0M1108.2 177h0M1111.9 167.8h0M1112 179h0M1114.2 169.7h0M1115 170.8h0M1114.8 178.3h0M1118.4 177.2h0M1120.1 177.9h0M1120.4 179.4h0M1124 174.3h0M1125.3 177.3h0M1125.8 176.9h0M1128.7 169.2h0M1130.4 174.8h0M1133.6 179.3h0M1133.5 182.7h0M1136.3 178h0M1139.4 176.5h0M1139 183.5h0M1141.9 181.6h0M1146 179.4h0M1143.8 185.2h0M1143.7 187.8h0M1147.7 190.1h0M1154.3 194.5h0M1142.2 193.2h0M1143.6 196.1h0M1146.7 199.1h0M1140.3 195.7h0M1138.9 197.8h0M1138 198.9h0M1139.5 202.1h0M1133.1 198.6h0M1132.1 201.9h0M1130.5 203h0M1128.3 212.4h0M1129.7 201h0M1123.9 200h0M1124.9 196.4h0M1126 195.4h0M1127.5 194.6h0M1120.3 189.6h0M1123.6 192.1h0M1128.1 188.9h0M1124.1 192.7h0M1124.4 190.6h0M1123.4 190.5h0M1121.9 188.2h0M1121.5 185.2h0M1118.3 192.7h0M1117.8 186.6h0M1115.8 192h0M1114.7 190.3h0M1114.2 186.9h0M1112.8 191.3h0M1112.2 182.5h0M1110.9 186.1h0M1108.3 184.7h0M1106.9 183.3h0M1106.1 182.3h0M1104.6 185h0M1104.3 184.6h0M1100.3 190.2h0M1098.5 190.8h0M1094.7 187.2h0M1098.8 180.8h0M1097.2 180.9h0M1097.2 179.1h0M1091 177.8h0M1093.1 174h0" stroke="#8FA3DB"/>
<path d="M1033.7 232.4h0M1020.9 222.6h0M1026.4 224.2h0M1037.3 228.6h0M1033.4 225.1h0M1039.1 227.2h0M1039.6 226.7h0M1036.1 221.4h0M1038 217.6h0M1040.7 223.8h0M1052.2 218.8h0M1043.7 223.8h0M1047 224.3h0M1058.7 220.4h0M1044.3 228.2h0M1045.8 229.6h0M1047 229.2h0M1049.8 231.2h0M1052 224h0M1052.8 231.1h0M1054.6 228.5h0M1055.5 232.7h0M1055.8 232h0M1059.7 234.6h0M1059.6 226h0M1060.1 225.4h0M1061.9 228.6h0M1063.7 231.4h0M1064.9 232.7h0M1067.1 231.7h0M1068.3 230h0M1068.7 231.1h0M1071.4 222.9h0M1073 223.9h0M1075.2 223h0M1072.2 234.4h0M1074.5 233h0M1084.6 230.2h0M1077.2 236.2h0M1085 234.1h0M1077.4 238.4h0M1076.2 239.7h0M1081.4 239.9h0M1086.4 240.3h0M1081.6 242.2h0M1076.9 244.4h0M1077.8 247.4h0M1080.6 248.4h0M1080.9 250.8h0M1078.7 253h0M1076.8 256.6h0M1072.9 256.6h0M1075.3 260.3h0M1073.6 259.5h0M1069.9 259.3h0M1069.8 261.4h0M1070.5 266.2h0M1070.2 268.8h0M1063.7 266.2h0M1051.3 278.1h0M1056 266.6h0M1056 265.3h0M1055.9 260.3h0M1049.3 265.4h0M1049.2 263h0M1047.2 263.1h0M1047.4 259.9h0M1047.3 258.4h0M1045.7 259.5h0M1046.5 256.8h0M1044 257.2h0M1044 255.8h0M1045.1 253.5h0M1044.6 252.3h0M1043.4 251.6h0M1041.7 252.7h0M1039.6 252.2h0M1034.2 252.9h0M1037.4 246.3h0M1023 253.2h0M1031.5 244h0M1029.9 242.8h0M1031.3 238.2h0M1032.3 237.1h0" stroke="#D9512C"/>
<path d="M946.5 249.8h0M947.1 249h0M951 247h0M946.5 244.8h0M953.4 245.4h0M953.6 241.5h0M956.2 242.1h0M951.1 237.4h0M957.4 236.2h0M956.5 234h0M957.2 230.3h0M957.7 228.7h0M960.3 229.9h0M963.6 231.2h0M963.4 229.9h0M965.4 230.1h0M965.9 229.3h0M966.6 228.1h0M966.4 226.9h0M968.8 227.9h0M969.7 229.1h0M970.6 217.8h0M972.3 222.6h0M974.3 226.8h0M975.6 226.9h0M976.9 225.4h0M978.6 227.3h0M979.7 227.7h0M982.1 224.1h0M984.5 226.9h0M984.3 231.1h0M986.3 229.7h0M987.1 228.4h0M988.1 228.9h0M989.3 228.6h0M991.2 226.2h0M991.5 230.2h0M992.1 231.4h0M995.8 226.1h0M995.5 233.1h0M997.8 230.4h0M998 234.3h0M1000.9 235.5h0M1002.6 235.4h0M1004.1 237.1h0M1007 233.1h0M1004.9 239.4h0M1007 239.4h0M1008.2 237.9h0M1009.3 231.3h0M1013.9 235.8h0M1016.2 239.6h0M1018.9 229.6h0M1018.3 238h0M1020.5 236.2h0M1021.1 238.4h0M1020.8 240.6h0M1022.7 241.7h0M1022.4 243.1h0M1024.4 241.9h0M1026.9 242.3h0M1027.7 244.2h0M1033.9 236h0M1029.4 244.2h0M1033.7 249h0M1037.8 248.9h0M1035.1 252.2h0M1036.2 252.5h0M1036.7 253.2h0M1042 257.1h0M1042.9 258.2h0M1044.2 257.9h0M1043.2 260.8h0M1046.3 258.8h0M1049.6 257.3h0M1048 260h0M1049 261.9h0M1053.3 265.3h0M1053.7 268.3h0M1056.2 266.5h0M1057.3 269.9h0M1057.9 271.4h0M1056.8 272.7h0M1060 273.4h0M1059.7 275h0M1061.8 278.5h0M1055.2 274.7h0M1060.2 284.4h0M1054.2 276.6h0M1053.5 278.2h0M1052.1 276.9h0M1049.8 280.8h0M1049 284.3h0M1046.1 281.6h0M1044.2 279.9h0M1043.1 280.3h0M1042.7 281.7h0M1043.4 288.6h0M1038.4 285.3h0M1041.1 288.6h0M1040.8 289.9h0M1036.2 289.4h0M1035.7 290.7h0M1034.2 290.7h0M1040 298.5h0M1032.4 294.8h0M1030 291.4h0M1025.4 299h0M1022.8 292.6h0M1021.1 295.3h0M1020.2 292.7h0M1018.6 294.7h0M1017.9 296h0M1017.4 295h0M1014.9 292.3h0M1014.5 292.9h0M1011.4 299.8h0M1011.2 294.1h0M1010.2 296.1h0M1008.3 302.3h0M1005.7 294h0M1002.7 296.7h0M1000.1 294.5h0M999.3 295.5h0M998.8 291.4h0M994.8 293.9h0M994.1 292.4h0M992.9 296.1h0M992.3 297.2h0M989.2 295h0M987.8 296.1h0M985.6 292.3h0M984 295.3h0M984 293.2h0M981 296.4h0M981.7 292.5h0M981.2 290.4h0M979.1 289.8h0M974.9 288.3h0M975 286.7h0M973.8 287.5h0M973.5 284.6h0M972.3 285.4h0M967.3 290.3h0M971 283.3h0M968.9 282.9h0M966.5 282.3h0M961.7 286.9h0M961.8 282.6h0M962.5 279.8h0M962.8 277.1h0M959.1 279.3h0M960.3 277.3h0M953.3 281.7h0M958.8 274.6h0M957.2 274.5h0M955.1 273h0M955.6 269.6h0M956.2 267.8h0M953.7 265.5h0M956.9 263.6h0M952.1 263.4h0M948.9 262.5h0M950 260h0M951.3 258.4h0M950.7 256.8h0M951.5 255h0M954.7 254.3h0" stroke="#1F8F40"/>
<path d="M965.9 281.1h0M972.6 281.2h0M972.1 286.9h0M973.6 287.5h0M976.8 283h0M977.3 287.4h0M978.5 287.5h0M979.4 287.8h0M982.9 284.2h0M985.1 289.4h0M987.1 288.3h0M989.4 285.4h0M988.3 291.8h0M990.7 291.8h0M991.1 292.7h0M995 289.8h0M990.8 295.9h0M994.2 294.5h0M993.3 296h0M992.2 298.2h0M997.3 296.8h0M998.7 301.2h0M998.8 302.5h0M999.6 302.3h0M1001.6 306.4h0M1003.9 306.2h0M1001.4 308.8h0M1005.1 307.4h0M1008.4 307.7h0M1005.9 312.5h0M1006.7 312.9h0M1007.4 315.5h0M1012.4 312.7h0M1009.8 316.5h0M1011 316.7h0M1012.7 316.1h0M1012.9 317.2h0M1011.6 319.5h0M1014.8 320.6h0M1015.9 321.3h0M1015.9 324.7h0M1018.1 324.6h0M1022.3 322.6h0M1020.3 327.2h0M1020.2 328.7h0M1019.8 329.8h0M1023.9 326.7h0M1023.7 328.3h0M1024.5 330.9h0M1026.7 331.9h0M1032 327.5h0M1028.8 334h0M1029.1 334.6h0M1030.2 334.9h0M1031.2 336.3h0M1030.8 339.2h0M1031.8 340.1h0M1034.1 340.7h0M1035.8 341.8h0M1036.4 342.2h0M1033.6 346.8h0M1034.2 349.6h0M1034.2 351.3h0M1032.3 352.2h0M1032.2 353.4h0M1038.8 355.9h0M1041.8 360.8h0M1031.1 357.3h0M1035.5 363.6h0M1029.8 360.9h0M1027.7 364.4h0M1032.8 370.4h0M1026.2 365.4h0M1027.1 369.9h0M1024.1 366h0M1022.9 372.5h0M1022.3 368.5h0M1020.3 367.5h0M1017.3 364.9h0M1016.2 364.5h0M1009.7 372.2h0M1012.7 362.4h0M1012.4 361.7h0M1010 364.3h0M1010.8 359.8h0M1008.3 360.1h0M1005.4 362.7h0M1006.3 359.6h0M1003.3 362.5h0M1003.8 358.6h0M1000.9 359.2h0M1000.6 354.9h0M997.1 350.8h0M992.2 355h0M990 355.4h0M993.3 350h0M985.5 353.9h0M989.9 347.9h0M984.3 351.2h0M983.9 346.6h0M979.4 346h0M983.6 339.9h0M982.7 338.3h0M982.9 337.8h0M979.4 339.5h0M980.5 334.1h0M973.5 336.8h0M976.3 331h0M972.6 329.9h0M969.9 327.9h0M967.9 320.9h0M965.8 320.3h0M967.8 319.3h0M970.2 316.9h0M969.1 315.6h0M964.5 316.6h0M966.3 314.5h0M964.3 314.4h0M963.8 312h0M965.6 310.8h0M965.2 310.1h0M967.1 304.6h0M963.2 304.4h0M965.2 303.2h0M965.9 301.5h0M963.2 301.4h0M965.8 296.1h0M964.9 294.1h0M964.5 292.7h0M964.5 290h0M967.3 288.9h0M963.7 285.2h0" stroke="#FFE600"/>
<path d="M983.6 286.8h0M994.1 290.9h0M995.1 293h0M999.7 289h0M1002 284.3h0M1003.8 290.7h0M1006.8 292.3h0M1010.2 288.6h0M1015.4 281.9h0M1024.3 284.9h0M1023.3 288.6h0M1022.2 297.6h0M1024.1 300.2h0M1026.6 304.3h0M1031.5 305.6h0M1030.4 308.2h0M1031.5 309.2h0M1038.5 312.4h0M1044.4 316.9h0M1036.8 319.2h0M1037.7 334.3h0M1031 332.4h0M1030.9 347h0M1025 335.1h0M1019.2 326.4h0M1013.9 327.6h0M1012.5 321.3h0M1003.1 327.3h0M1009.4 316h0M1009.7 314.8h0M1005.9 312h0M996.8 318.5h0M1003.1 310.8h0M1003 306.6h0M1002.2 304.6h0M993.9 310.1h0M998.4 302.9h0M996.7 300.4h0M992.5 296.7h0M987.8 300.1h0M988.7 295.1h0" stroke="#DD9A9E"/>
<path d="M1033.4 279.8h0M1037.4 281.6h0M1038.6 282.4h0M1039.3 281.6h0M1040.9 281.3h0M1045.2 281h0M1047.1 278.6h0M1048.1 277.6h0M1043.7 268.6h0M1049.2 275.2h0M1052 274h0M1055.2 277h0M1054.9 274.9h0M1056.8 273.4h0M1059 271.2h0M1059 275h0M1059.6 277.1h0M1060.5 277.9h0M1063.5 276.7h0M1067.1 276.1h0M1066 278.3h0M1072.4 275.3h0M1070.2 278.2h0M1067 282.3h0M1066.3 287.2h0M1068.7 287.3h0M1074.6 286.9h0M1070.4 290h0M1077.9 291.9h0M1073.1 296h0M1074.9 296.5h0M1076.2 298.4h0M1071.1 300.5h0M1083.7 299.5h0M1077.9 302.9h0M1073.9 305.1h0M1077.5 305.7h0M1076 306.8h0M1075.2 308.6h0M1075.1 315.8h0M1076.5 319.8h0M1076.1 320.8h0M1077.6 322.1h0M1085.5 322.4h0M1077.6 323.6h0M1076.3 324.2h0M1074.4 327.2h0M1074.2 327.9h0M1076.3 331.1h0M1075.7 332h0M1077.4 334.3h0M1074.3 334.2h0M1075.8 335.7h0M1075.7 338.5h0M1074.4 340.1h0M1070 339.4h0M1073 343.8h0M1071 344.1h0M1068.7 344.4h0M1069.8 346h0M1068.4 347.3h0M1068.1 348.2h0M1072.2 353h0M1067 349.9h0M1064.6 352.2h0M1060.9 354.3h0M1061.9 356.5h0M1060.4 355.6h0M1057.1 353.6h0M1056.5 355.3h0M1053.8 355.8h0M1055.1 368.1h0M1050.5 360.6h0M1048.8 359.3h0M1048.8 362h0M1047.2 364.9h0M1045.9 358.1h0M1043.4 360.4h0M1038.5 363h0M1037.2 353h0M1032.9 354.9h0M1037.5 348.5h0M1036.4 347.4h0M1032.4 344.7h0M1033 342.9h0M1030.9 343h0M1025.3 344.6h0M1031.2 338.6h0M1028.5 337.8h0M1028.5 336.7h0M1029.3 335.1h0M1027 333.4h0M1025.1 331.4h0M1026.3 327.9h0M1025.6 327.1h0M1030.2 327.6h0M1031.3 326.3h0M1031.2 323h0M1032.6 319h0M1030.8 316.6h0M1031.2 315.5h0M1029.6 312.4h0M1028.5 310.3h0M1033.8 308.9h0M1032.6 307.5h0M1030 305.7h0M1032.3 304.1h0M1031.9 302.6h0M1032.6 301.8h0M1034.2 300.1h0M1033.8 299.3h0M1032.1 297.7h0M1028.1 295.1h0M1026.9 292.5h0M1031.9 292.7h0M1029.6 290.9h0M1036.5 289.5h0M1036.8 288.8h0M1035 287h0M1037.4 287h0M1032.2 283.3h0M1031 280.2h0" stroke="#87288F"/>
<path d="M1011.2 80.9h0M1007.3 78.7h0M1009 78.7h0M1013.1 77.6h0M1009.3 73.5h0M1015.2 73.8h0M1015 71.2h0M1016.7 70.7h0M1018.6 72.4h0M1022.1 71.7h0M1022.5 68.9h0M1025.3 66.2h0M1027.1 72.6h0M1027.9 69.6h0M1031.3 67.9h0M1032.5 70.8h0M1035.4 71.9h0M1039.7 73.6h0M1042.5 68.6h0M1044.4 75.3h0M1045.5 74.3h0M1047.5 70.5h0M1047.7 72.8h0M1049.4 75.7h0M1054.6 75.6h0M1051.4 80.3h0M1053.6 80.7h0M1054.6 82.8h0M1054.7 84.3h0M1056.1 85h0M1054 86.5h0M1056.2 86.6h0M1054.9 88.8h0M1053.2 95.6h0M1057.1 101.5h0M1054 100.8h0M1053 101.8h0M1050.3 101.7h0M1049.2 101.9h0M1049.5 104.7h0M1050.5 107.1h0M1046.7 106.7h0M1047.3 108.9h0M1046.1 111.5h0M1043.5 111.2h0M1044.4 114.9h0M1044.2 116h0M1043.8 117.7h0M1043 121.2h0M1044.8 122h0M1045 122.3h0M1045.6 131.4h0M1043.6 131.4h0M1043.5 134.1h0M1041.7 132.7h0M1039.2 132.4h0M1036.6 135.7h0M1031.9 135h0M1034.4 131.3h0M1034 130.5h0M1034.1 129.7h0M1033.5 128.5h0M1032.8 126.1h0M1029.8 126h0M1031.9 122.8h0M1030.4 122.6h0M1027.8 120.4h0M1030 118.2h0M1027.9 116.3h0M1030.1 114.8h0M1027.3 115h0M1027.7 112.5h0M1026.6 111.8h0M1025.5 111.7h0M1024 110.8h0M1021.2 109.3h0M1021.3 112.7h0M1019.1 111.3h0M1016.5 116.3h0M1015.6 117.1h0M1014.6 117h0M1014.7 120.1h0M1014.8 122.6h0M1012.3 120.7h0M1008.7 120.2h0M1005.6 124.1h0M1001.4 118.2h0M996.6 112.2h0M1000.8 113.5h0M1003.1 114.5h0M1006.4 112h0M1003.9 107.4h0M1007.4 107h0M1009.8 106.2h0M1012.3 107.5h0M1011.1 104.4h0M1011.3 101.8h0M1014.1 102.4h0M1014.7 100.1h0M1015.6 98.7h0M1012.6 97.9h0M1014 94.4h0M1010.6 95.5h0M1008.1 94.5h0M1011.2 90.8h0M1010.4 90.1h0M1007.6 90.4h0M1008.3 88.7h0M1010.1 87.1h0M1009.9 86h0M1007.6 84.3h0M1003.4 79.3h0" stroke="#2A2D72"/>
<path d="M1149.5 114.5h0M1151.6 115.6h0M1152.2 110h0M1156.9 112h0M1159.3 113.1h0M1161.8 112.3h0M1158.3 120h0M1151.4 118.9h0" stroke="#3CBBA4"/>
<path d="M1168.2 113.2h0M1168.9 113h0M1170.9 111.3h0M1171.3 109.1h0M1171.6 107.3h0M1177.5 107.5h0M1178.2 107.3h0M1178.6 105.3h0M1179.7 106.4h0M1181.8 105.4h0M1179.6 110.2h0M1180.2 112.8h0M1176.9 113.2h0M1176.8 114.1h0M1175.5 115.7h0M1174.4 115.3h0M1168.8 116.2h0" stroke="#3CBBA4"/>
<path d="M1087.4 243.5h0M1092.8 252h0M1093.9 250.8h0M1094.3 249.9h0M1095.6 251.4h0M1097 249.5h0M1098 246.4h0M1098.8 245.6h0M1102.7 249.3h0M1103.6 247.4h0M1104.5 246.3h0M1105.6 246.7h0M1108.1 241.7h0M1111.2 244.9h0M1110.4 240.3h0M1110 237.8h0M1112.5 241.5h0M1113.5 236.3h0M1114.3 236.9h0M1115.7 238.6h0M1118.6 241.6h0M1119.6 240.8h0M1118.8 235.9h0M1122.8 239.9h0M1122.4 237.1h0M1119.3 229.1h0M1125.8 239.3h0M1126.1 238h0M1127.3 238.1h0M1126.8 235.5h0M1128.4 234.6h0M1128.9 231.9h0M1129.7 230.6h0M1133.2 233h0M1134 231.7h0M1135.9 230.4h0M1137.3 232.1h0M1141.3 229.1h0M1139.4 231.5h0M1140.4 232.1h0M1141.1 234.6h0M1145 229.5h0M1146.3 238.6h0M1147.4 238.7h0M1149.7 234.8h0M1151.4 238.1h0M1155 228.1h0M1156 234.3h0M1157.2 238.7h0M1160.3 240h0M1161 240.2h0M1158.7 246h0M1158.1 248.5h0M1154.8 244.6h0M1154.3 247.5h0M1157.5 255.4h0M1154 250.4h0M1156 257.9h0M1149.7 248.3h0M1147.5 248.4h0M1148.2 253.2h0M1149 257.4h0M1144.1 249.3h0M1145.1 259.5h0M1140.3 251h0M1140.7 258.6h0M1141.3 261.6h0M1138.7 263.5h0M1135.3 255.8h0M1133.6 252.2h0M1133.4 255.4h0M1134.2 265h0M1130.8 254.8h0M1126.7 254.9h0M1126 257.8h0M1125.6 259.7h0M1125 262.4h0M1122.5 255h0M1119.8 257.7h0M1119.5 258.6h0M1116.7 256.2h0M1114.3 260.1h0M1112.2 263.9h0M1111.1 262.2h0M1110 259.5h0M1108.9 255.9h0M1108.1 258.5h0M1106.1 255.9h0M1106 257.3h0M1104.6 257.2h0M1103.6 261.2h0M1101.2 262.8h0M1097.3 263.3h0M1095.6 255.6h0M1091.2 258.8h0M1089.3 256.2h0" stroke="#DDAA66"/>
<path d="M1123.4 202.4h0M1128.6 202.6h0M1129.2 203.8h0M1128.3 204.8h0M1132.2 205.8h0M1129.2 207.5h0M1129.4 212h0M1130.2 213h0M1131.2 221.6h0M1126.2 228h0M1126.1 220h0M1127.3 218.3h0M1127.4 211.1h0M1126.6 209.3h0M1126.2 207.5h0M1125.7 204.6h0" stroke="#DDAA66"/>
<path d="M1225.8 268.9h0M1222.2 256h0M1224.9 258.1h0M1228.9 266.6h0M1231.3 267.1h0M1235.1 267.9h0M1236.4 262.5h0M1240.1 263.9h0M1240.5 267.5h0M1241.3 266.5h0M1244.3 267.2h0M1245.5 266.7h0M1246.9 266.2h0M1245.7 270.5h0M1248.3 270.7h0M1247.8 274.3h0M1249.3 273.8h0M1254.6 272.9h0M1248.9 278h0M1250.4 278.8h0M1256.3 279.5h0M1255.9 280.8h0M1253.1 282.4h0M1252 283.1h0M1253.9 284.9h0M1256.1 286.2h0M1252.9 289.5h0M1251 292.4h0M1252.8 292.2h0M1255.9 292.2h0M1251.8 295.7h0M1255.1 296.3h0M1264.3 293.2h0M1258 297.3h0M1256.1 299.1h0M1255.6 301h0M1256.9 301.8h0M1255.6 303.6h0M1255.5 304.9h0M1254.4 305.7h0M1255.5 307.7h0M1257 308.7h0M1259.3 309h0M1256.4 311.3h0M1259.1 313.2h0M1270.8 316.2h0M1261.8 315.2h0M1262.4 318h0M1256.7 319.2h0M1263.9 322.8h0M1265.2 324.6h0M1254.9 322.2h0M1256.4 324.4h0M1253.7 324.6h0M1255.5 326.8h0M1264.5 332.9h0M1252.2 328.8h0M1249.9 330.6h0M1251.2 332.5h0M1255 338.2h0M1249.2 335h0M1247.3 335h0M1249.6 338.8h0M1247.8 338.4h0M1246.7 339h0M1246.2 343.1h0M1243 340.6h0M1241.1 341.7h0M1239.1 344.5h0M1237.3 346.2h0M1232.9 352.3h0M1233.6 344.1h0M1231.1 346.1h0M1232.8 340.1h0M1231.7 337.3h0M1233.1 335.5h0M1230.8 332.9h0M1230.4 331.6h0M1227.5 332h0M1229.2 329.7h0M1222.1 334.2h0M1227.6 329.1h0M1227.1 329h0M1227.9 326h0M1225.3 327.4h0M1224.3 327.3h0M1222.8 328.7h0M1222.8 324.6h0M1220.7 324.9h0M1220.4 322.7h0M1218.7 323.7h0M1217.8 322.4h0M1219.7 337.6h0M1215.2 326.3h0M1216 331.4h0M1212.2 327.3h0M1211.4 327.5h0M1210 330.3h0M1207.7 326.2h0M1207.4 330.3h0M1205.6 333.7h0M1203.9 332.8h0M1201 331.4h0M1199.8 327.8h0M1198.7 327.4h0M1200 326.1h0M1201.3 321.3h0M1201.7 320.2h0M1197.9 314.8h0M1199.2 313.6h0M1199.3 312.1h0M1202.9 314.9h0M1204.4 314.9h0M1205.7 315.1h0M1207 314.1h0M1207.3 311.7h0M1209.6 314.1h0M1212 313.9h0M1208 307.8h0M1208.3 304.1h0M1206.9 300.9h0M1213.7 308.1h0M1215 306.5h0M1219.1 309.3h0M1216.4 303.2h0M1219.9 305.6h0M1219.7 303.9h0M1222.4 302.8h0M1226.1 299.7h0M1230.3 298.1h0M1228.2 295h0M1229.1 293.9h0M1232.8 296.2h0M1235.5 296.8h0M1233.8 294.2h0M1233.5 292.9h0M1236.7 292.7h0M1223 290.6h0M1231.4 291.8h0M1223 294.6h0M1225.1 293.9h0M1226.5 293.7h0M1234.5 287.3h0M1230.9 288.1h0M1224.9 291h0M1232.7 284.5h0M1233.8 282h0M1220.4 290.4h0M1223.9 285.6h0M1226.1 282.1h0M1226.7 279.9h0M1223.2 280.5h0M1220.3 276.1h0M1223.8 273.7h0M1219.5 271.2h0M1224.9 271.3h0" stroke="#8FD3E8"/>
<path d="M1147.3 399.3h0M1148.5 398.4h0M1148.3 396.3h0M1153.5 397.3h0M1152.3 395.5h0M1153.7 392.6h0M1144.2 385.3h0M1149.3 386.5h0M1155.3 387.9h0M1158.9 386.7h0M1159.8 386h0M1160.1 383.5h0M1162.4 384h0M1162.6 381.3h0M1164.9 382.6h0M1169.4 376.2h0M1169.7 372.7h0M1173.3 382h0M1175.1 381.3h0M1178.4 381.1h0M1178.5 373.8h0M1180.5 382.1h0M1181.7 383h0M1182.1 381.2h0M1184.8 380.4h0M1186.4 381.7h0M1190 381.6h0M1190.4 379.3h0M1190.7 374.8h0M1194.2 375.7h0M1196.8 379.5h0M1197 378.2h0M1198.5 379.5h0M1200.9 364.9h0M1201.3 373.7h0M1202.2 376.9h0M1203.3 377.5h0M1204.3 379.1h0M1205.8 378.6h0M1204 381.4h0M1207.4 380h0M1207.9 379.8h0M1209.7 384.4h0M1213.5 386.9h0M1215 386h0M1216.7 383.4h0M1218.4 386.8h0M1220.9 379.8h0M1220.4 385h0M1222 387.7h0M1223.3 386.7h0M1224.4 382h0M1225.2 385.2h0M1226.3 386.5h0M1227.5 386h0M1232.9 385h0M1233.5 384.8h0M1234.7 386.7h0M1235.2 383.8h0M1233.3 374.2h0M1237.6 383.4h0M1238.3 384.3h0M1235.4 374.6h0M1237.2 374.1h0M1243.7 381.4h0M1241.9 374.5h0M1247.6 381.3h0M1246.1 375.7h0M1250.2 380.4h0M1250.9 378.1h0M1251 379.7h0M1251.8 379.7h0M1259.2 381.7h0M1251 380.4h0M1253.4 382h0M1257.1 386.3h0M1251.5 386.5h0M1260.1 393.3h0M1250.7 389.6h0M1247.6 389.3h0M1246.2 391.4h0M1245.7 393.6h0M1245.1 394h0M1246 396.4h0M1243.1 396.8h0M1239.5 399h0M1240.2 401h0M1238.8 401.4h0M1243.2 407.3h0M1237.2 403.2h0M1236.3 404.7h0M1238.7 409.3h0M1235.6 408.6h0M1241.1 416.3h0M1233.5 409.1h0M1233.5 410.9h0M1230.9 410h0M1228.6 408.9h0M1228.2 415.8h0M1227.1 417.1h0M1222.5 416.3h0M1227.2 424.6h0M1221.2 418.8h0M1220.3 419.5h0M1224.7 426h0M1220 422.1h0M1220.9 424.9h0M1215.3 419.9h0M1213.6 422.4h0M1216.9 428.5h0M1217.9 433.3h0M1211.2 424.2h0M1212.2 428.2h0M1208.2 424.5h0M1208.2 426.6h0M1207.6 430.4h0M1206.5 431.2h0M1203.6 428.6h0M1202.1 427.8h0M1201.5 433.1h0M1200.5 433.9h0M1198.8 435h0M1196.3 433.3h0M1196.3 439h0M1194.6 437.4h0M1191.4 431.1h0M1193.7 440.3h0M1190 433.5h0M1189.3 435h0M1188.2 432.1h0M1187.3 435.9h0M1186.8 444.9h0M1182.1 434.5h0M1184.3 442.9h0M1180.2 434.8h0M1179.2 436.6h0M1178.6 437.7h0M1177.1 436h0M1174.1 437.2h0M1174.2 440.5h0M1172.1 438.8h0M1171.4 438.9h0M1170.8 442h0M1169.4 441.5h0M1168.5 439.1h0M1168.2 439h0M1165.6 444.1h0M1166.1 439.8h0M1164.7 439.6h0M1163.3 437h0M1159.9 440.8h0M1159.7 439.2h0M1159.7 436h0M1158.9 436.1h0M1158.5 435h0M1158.9 433h0M1156.9 433.6h0M1156.6 432.7h0M1153.6 432.5h0M1153.8 432.3h0M1142.3 431.2h0M1151.3 426.6h0M1146.2 427.3h0M1152.2 423.9h0M1150.9 423.2h0M1152.6 421.6h0M1151.6 419.9h0M1150.1 418.9h0M1148.8 418.3h0M1150.1 417.2h0M1148.2 414.4h0M1150.7 412.1h0M1138.6 412h0M1152.4 409.8h0M1148.7 408.2h0M1150.5 407.1h0M1149.8 404h0M1143.3 401h0M1153.2 401.5h0" stroke="#F58231"/>
<path d="M1159.1 360.3h0M1162.7 359.1h0M1165.7 358.8h0M1163.8 355.3h0M1164.9 354.1h0M1167.9 351.2h0M1166.1 344.7h0M1169.7 346.1h0M1172.3 348.2h0M1172 345.7h0M1173.9 347.7h0M1173.8 345.8h0M1175 344.4h0M1176.5 346.4h0M1175.8 341.3h0M1177.8 341.3h0M1178.5 339.5h0M1180.3 341.9h0M1183.2 341.7h0M1185.5 343.7h0M1188.3 342.4h0M1189.2 342.3h0M1190 341.9h0M1191.9 344.3h0M1194.2 341.2h0M1195.7 340.8h0M1197.1 343.2h0M1200.2 339.7h0M1202.9 341.1h0M1204.6 339.9h0M1203.5 343.9h0M1203.6 347.5h0M1204.3 347.9h0M1207.7 346.9h0M1205.3 349.6h0M1208.3 351.4h0M1207.7 352.9h0M1213.3 352.7h0M1210.7 354.7h0M1212.5 359.1h0M1208.2 360.1h0M1206.8 359.1h0M1214.6 370.5h0M1206 363.9h0M1203.6 362.5h0M1204.4 364.6h0M1203.5 365.9h0M1201.6 366.4h0M1200.7 366.7h0M1201.5 380.6h0M1195.2 367.5h0M1193.7 367.6h0M1192.3 369h0M1189.7 370.7h0M1189.7 373h0M1188 371h0M1190.3 379.5h0M1184.8 372h0M1185 375.6h0M1182.3 373.1h0M1180.2 371.4h0M1179.9 386.1h0M1176.3 378.1h0M1174.7 374.8h0M1170.5 381.7h0M1169.4 378.2h0M1170.1 373.3h0M1166.2 374.6h0M1161.2 377.1h0M1165 370.5h0M1167.2 368.7h0M1153 369.5h0M1158.5 364.8h0M1156.6 363.5h0M1164.7 362.2h0" stroke="#C678BE"/>
<path d="M1248.5 334.6h0M1249.1 334.4h0M1254.2 334.7h0M1252 337.8h0M1254.2 340.1h0M1255.6 342.7h0M1264.4 339.8h0M1258.8 344.9h0M1256.6 347.8h0M1257.8 349.9h0M1259.3 353h0M1263.6 356.6h0M1264.1 360.7h0M1258.3 361.5h0M1261.2 362.5h0M1259 365.8h0M1270 371.6h0M1261.2 370h0M1257.4 371.2h0M1257.1 372.5h0M1259.8 377.5h0M1254.9 374.8h0M1257.5 377.8h0M1253.6 376.7h0M1252.8 377.5h0M1250 378.1h0M1250.3 379.9h0M1250 382.3h0M1248.4 384.2h0M1246.6 383h0M1245.9 385h0M1244.7 385.6h0M1244.1 386h0M1241.4 383.2h0M1239.6 385.3h0M1239.4 385.6h0M1235.6 385.4h0M1235.1 385.5h0M1234.9 390.3h0M1233.2 387.5h0M1230.8 389.7h0M1230.7 396.7h0M1228.9 386.3h0M1228.2 389.1h0M1226.9 390.8h0M1224.8 386.5h0M1224.2 387.9h0M1222.3 391.2h0M1220.6 400.7h0M1219.9 391.4h0M1219.6 388.2h0M1218.1 388.1h0M1217.7 387.5h0M1212.8 393.5h0M1213.9 389.6h0M1213.4 387.1h0M1212.3 386.3h0M1207.1 390.2h0M1209.3 385.2h0M1205.5 380h0M1204.8 378.5h0M1208.2 376.9h0M1204.1 374.4h0M1204.5 372.2h0M1203.8 371.3h0M1201.5 362h0M1211.4 371h0M1211.4 365.3h0M1213.6 364.8h0M1214.6 361.2h0M1216.3 361.2h0M1218.6 361.7h0M1223.5 366h0M1222.9 362.2h0M1222.8 360.3h0M1225.2 362h0M1225.9 360.6h0M1228 362.7h0M1224 355.7h0M1231.5 359.1h0M1228.4 352.4h0M1232.6 354.6h0M1227.5 349.4h0M1235.1 354.1h0M1224.3 347h0M1234.5 350.8h0M1236.5 349.7h0M1234.7 348.2h0M1238.7 347.3h0M1239.9 346.8h0M1239 344.7h0M1237.4 343.1h0M1239.2 342.1h0M1239.4 341.6h0M1240.4 340.5h0M1242.9 337.6h0M1241.4 334.4h0M1244.8 336.6h0M1244 327.9h0M1247.7 335.5h0" stroke="#6B4BA5"/>
<path d="M1339.3 187.4h0M1341.3 186.1h0M1341.7 189.8h0M1343.5 191.7h0M1345.5 199.3h0M1343.7 202h0M1342 206h0M1346 208.6h0M1344.9 211.5h0M1345 212.8h0M1343.2 216.5h0M1346.5 220.7h0M1343.7 220.9h0M1342 222.3h0M1342 222.9h0M1344.3 224.6h0M1347.4 224.2h0M1348.7 229.4h0M1349.1 227.5h0M1351.9 229.4h0M1352.9 229.2h0M1353.9 224.2h0M1356.6 226.5h0M1358.6 225.6h0M1361.4 224.8h0M1365.5 230h0M1369 228.9h0M1368.4 229.5h0M1371.6 230.6h0M1370.9 233.1h0M1370.1 233.7h0M1368.1 234.5h0M1366.7 234.7h0M1358.4 238.6h0M1356.1 240h0M1354.1 240.2h0M1353.1 239.8h0M1351.6 240.1h0M1348.7 238.2h0M1348.1 236.9h0M1346.2 237.2h0M1344.2 237.7h0M1342.4 237.8h0M1341.3 238.4h0M1338.3 241h0M1335.3 241.5h0M1334.1 245h0M1329.3 243.4h0M1328.6 244.1h0M1328.5 245h0M1327.6 246.3h0M1330.2 247.9h0M1327.3 251.8h0M1324.8 254.1h0M1322.7 252h0M1324.3 248.9h0M1323.9 247h0M1318.3 251.4h0M1318.1 249.5h0M1320.3 244.1h0M1316 245.3h0M1313.4 242.2h0M1312.7 240.2h0M1308.5 241.8h0M1309 240.5h0M1309.6 234.5h0M1308.4 233.1h0M1308.1 231.3h0M1304.4 226.7h0M1304.6 224.9h0M1303 221.5h0M1307.9 224.7h0M1309.5 224.8h0M1314.1 221.3h0M1313.3 219.2h0M1315.1 218.9h0M1315.5 216.8h0M1317.7 213.5h0M1320.4 215.9h0M1321.5 215h0M1321.7 214.8h0M1323.6 213.1h0M1325.3 207.6h0M1322 204.6h0M1328.2 205h0M1325.3 201.1h0M1330 200.1h0M1331 199.2h0M1329.7 197.2h0M1330.6 194.3h0M1335 195.7h0M1334.5 191.7h0M1336.5 190.8h0M1336.8 189.4h0" stroke="#8CC863"/>
<path d="M1010.5 436.6h0M1012.2 436h0M1015.3 439.1h0M1018 441.2h0M1020.8 440.5h0M1024.4 440.6h0M1021.3 444.5h0M1022.9 445.2h0M1023.6 445.5h0M1023.4 447.1h0M1025.1 448.1h0M1027.8 449.3h0M1026.6 451h0M1027.4 453.5h0M1029.6 454.7h0M1030.4 454.9h0M1030.3 457h0M1032 457h0M1032.6 456.7h0M1035.3 458.5h0M1038.5 460.5h0M1039.8 461h0M1041.2 459.3h0M1042.9 461.3h0M1045.1 460.1h0M1050.1 459.2h0M1050.8 460.1h0M1053.3 460h0M1055.5 459.6h0M1056.1 457.4h0M1058 456.4h0M1056.4 451.5h0M1061.8 454.6h0M1064 456h0M1065.3 457.4h0M1066.8 459.3h0M1069.1 459.8h0M1071.2 462.5h0M1072.8 463.6h0M1073.9 463.6h0M1076.1 466.3h0M1077 467.9h0M1081.6 468.7h0M1076.5 474.1h0M1072.9 475.1h0M1069.3 474.1h0M1067.2 470.5h0M1064.2 473.7h0M1061 470h0M1059.3 470.7h0M1054.3 471.6h0M1049.5 468h0M1045 471h0M1041.7 466.3h0M1040.7 464.8h0M1039.5 464.8h0M1039.3 462.9h0M1037.1 466.6h0M1034.7 463.8h0M1034.8 465h0M1033.5 464.4h0M1034 471.1h0M1029.7 467.9h0M1025.5 469.8h0M1019.8 474.3h0M1016 470.9h0M1021.6 461.3h0M1025.9 459.7h0M1026.1 458h0M1024.1 455.8h0M1022.3 453h0M1022.1 451.9h0M1018.4 450.1h0M1018.4 446.2h0M1016.1 444.6h0M1015.6 443.7h0M1013 443h0M1009.5 445.3h0M1009.7 443.8h0M1010.8 439.2h0M1010 437.9h0M1010.5 437.2h0" stroke="#E01E26"/>
<path d="M1345.1 442.8h0M1348.8 443.3h0M1349.2 447.1h0M1350.1 447.8h0M1353.9 449h0M1353.7 452h0M1352.2 453.1h0M1350.5 454.4h0M1350.1 458.3h0M1347.2 460.6h0M1346.3 458h0M1343.8 456h0M1343.7 449.3h0" stroke="#2CA02C"/>
</g>
<g fill="none" stroke-width="1.15" stroke-dasharray="3.4 2.6">
<path d="M946.8 257.4C947.2 251.2 948.6 241.9 951 236.7C953.4 231.6 956.1 229.8 961.3 226.4C966.5 223 975.1 219.7 981.9 216.1C988.8 212.5 995.7 208.7 1002.6 204.7C1009.5 200.8 1016.4 196.3 1023.2 192.3C1030.1 188.4 1037 184.2 1043.9 181C1050.8 177.7 1057.6 174.5 1064.5 172.7C1071.4 170.9 1078.3 170.6 1085.2 170.2C1092.1 169.8 1098.9 170 1105.8 170.2C1112.7 170.5 1120.6 170.6 1126.5 171.7C1132.3 172.8 1137.3 174.4 1140.9 176.8C1144.5 179.3 1147.1 182.3 1148.2 186.1C1149.2 189.9 1148.7 195.9 1147.1 199.6C1145.6 203.2 1142 206.1 1138.9 207.8C1135.8 209.5 1132 210.2 1128.5 209.9C1125.1 209.5 1121.3 207.8 1118.2 205.7C1115.1 203.7 1112.7 199.4 1110 197.5C1107.2 195.6 1104.8 194.6 1101.7 194.4C1098.6 194.2 1095.5 194.9 1091.4 196.5C1087.2 198 1081.4 201.4 1076.9 203.7C1072.4 205.9 1067.5 207.8 1064.5 209.9C1061.6 211.9 1059.7 213.8 1059.4 216.1C1059 218.3 1060.6 221.6 1062.5 223.3C1064.4 225 1067.6 225.7 1070.7 226.4C1073.8 227.1 1078.6 226.1 1081 227.4C1083.5 228.8 1084.5 231 1085.2 234.7C1085.9 238.3 1085.5 244.6 1085.2 249.1C1084.8 253.6 1085.2 257.7 1083.1 261.5C1081 265.3 1075.2 268.4 1072.8 271.8C1070.4 275.3 1068.3 278.4 1068.7 282.1C1069 285.9 1072.8 289.7 1074.9 294.5C1076.9 299.3 1079.8 305.5 1081 311C1082.3 316.6 1082.8 322.1 1082.1 327.6C1081.4 333.1 1079.8 338.9 1076.9 344.1C1074 349.2 1069.3 354.4 1064.5 358.5C1059.7 362.7 1054.2 366.5 1048 368.9C1041.8 371.2 1033.9 372.6 1027.4 372.6C1020.8 372.6 1015 371.2 1008.8 368.9C1002.6 366.5 995.7 362.7 990.2 358.5C984.7 354.4 980.2 350.3 975.7 344.1C971.3 337.9 966.8 329.6 963.4 321.4C959.9 313.1 957.5 302.4 955.1 294.5C952.7 286.6 950.3 280.1 948.9 273.9C947.5 267.7 946.5 263.6 946.8 257.4Z" stroke="#87288F"/>
<path d="M1002.4 71.7C1004.6 69.6 1010.2 69.4 1015.6 68.8C1021 68.2 1028.9 67.8 1034.9 68.1C1040.9 68.3 1046.9 68.3 1051.8 70.5C1056.6 72.7 1061.4 77.3 1063.8 81.3C1066.2 85.3 1067 90.3 1066.2 94.6C1065.4 98.8 1061.4 103 1059 106.6C1056.6 110.2 1052.8 112.4 1051.8 116.2C1050.8 120.1 1053.4 125.5 1053 129.5C1052.6 133.5 1051.4 138.3 1049.3 140.3C1047.3 142.3 1043.9 142.7 1040.9 141.5C1037.9 140.3 1034.3 136.1 1031.3 133.1C1028.3 130.1 1025.9 124.7 1022.9 123.5C1019.8 122.3 1016.8 125.1 1013.2 125.9C1009.6 126.7 1004.5 128.7 1001.2 128.3C997.9 127.9 994.6 125.7 993.5 123.5C992.3 121.3 992.7 118.3 994.4 115C996.1 111.8 1001.7 107.8 1003.6 104.2C1005.5 100.6 1006.2 97.2 1006 93.4C1005.8 89.5 1003 84.9 1002.4 81.3C1001.8 77.7 1000.2 73.8 1002.4 71.7Z" stroke="#2A2D72"/>
<path d="M1090.3 254.8C1089.1 252.1 1089.5 249.3 1092.7 246.3C1095.9 243.3 1103.5 239.7 1109.6 236.7C1115.6 233.7 1122.8 230.1 1128.8 228.3C1134.9 226.4 1140.5 225.4 1145.7 225.8C1150.9 226.2 1157.1 228.3 1160.2 230.7C1163.2 233.1 1164.6 237.1 1163.8 240.3C1163 243.5 1159.6 247.1 1155.3 249.9C1151.1 252.7 1144.9 255.2 1138.5 257.2C1132.1 259.1 1123.2 260.7 1116.8 261.5C1110.4 262.3 1104.3 263.1 1099.9 262C1095.5 260.9 1091.5 257.4 1090.3 254.8Z" stroke="#DDAA66"/>
<path d="M1220.7 266.4C1222.6 264.3 1227 261.8 1231.2 261.1C1235.4 260.4 1241.3 260.4 1245.8 262.1C1250.2 263.8 1255.3 267.3 1257.9 271.3C1260.5 275.3 1260.7 279.8 1261.6 285.9C1262.5 292 1263.3 301.3 1263.3 307.7C1263.3 314.2 1262.9 319.9 1261.6 324.7C1260.3 329.6 1258.5 333.5 1255.5 336.9C1252.5 340.3 1247.4 344.2 1243.3 345.4C1239.3 346.6 1235.6 345.6 1231.2 344.2C1226.7 342.8 1221.1 338.5 1216.6 336.9C1212.2 335.3 1207.7 336.3 1204.5 334.5C1201.2 332.6 1197.8 329.4 1197.2 326C1196.6 322.5 1198 317.5 1200.8 313.8C1203.7 310.2 1209.9 307.1 1214.2 304.1C1218.4 301.1 1224.7 299.2 1226.3 295.6C1228 292 1224.9 285.9 1223.9 282.2C1222.9 278.6 1220.8 276.4 1220.3 273.7C1219.7 271.1 1218.9 268.5 1220.7 266.4Z" stroke="#8FD3E8"/>
<path d="M1135.2 397.6C1138.3 394 1149 389.5 1152.2 385.5C1155.5 381.4 1152.8 377.4 1154.7 373.3C1156.5 369.3 1161.5 365.6 1163.2 361.2C1164.8 356.7 1162.4 350.7 1164.4 346.6C1166.4 342.6 1169.8 338.9 1175.3 336.9C1180.8 334.9 1190.3 333.7 1197.2 334.5C1204.1 335.3 1210.1 340.5 1216.6 341.8C1223.1 343 1230.8 342.6 1236.1 341.8C1241.3 340.9 1243.7 336.7 1248.2 336.9C1252.7 337.1 1259.5 339.7 1262.8 343C1266 346.2 1267.2 350.9 1267.6 356.3C1268 361.8 1267.2 369.7 1265.2 375.8C1263.2 381.8 1259.5 387.5 1255.5 392.8C1251.4 398 1246.6 402.1 1240.9 407.4C1235.2 412.6 1228.8 419.3 1221.5 424.4C1214.2 429.4 1205.3 434.5 1197.2 437.7C1189.1 441 1180.6 443.6 1172.9 443.8C1165.2 444 1156.7 442.6 1151 438.9C1145.4 435.3 1141.7 427.2 1138.9 421.9C1136 416.7 1134.6 411.4 1134 407.4C1133.4 403.3 1132.2 401.3 1135.2 397.6Z" stroke="#F58231"/>
<path d="M1328.2 185C1331 183.7 1335.9 181.9 1339.4 181.5C1342.9 181.2 1346.8 181.9 1349.2 182.9C1351.6 184 1353.4 184.7 1354.1 187.8C1354.8 190.9 1353.6 197.6 1353.4 201.8C1353.2 206 1352.2 210.2 1352.7 212.9C1353.2 215.7 1354 217 1356.2 218.5C1358.4 220 1362.7 220.4 1366 222C1369.2 223.7 1373.4 225.9 1375.7 228.3C1378.1 230.8 1379.9 234.1 1379.9 236.7C1379.9 239.3 1378.3 241.9 1375.7 243.7C1373.2 245.4 1368.8 246.4 1364.6 247.2C1360.4 248 1355.2 247.5 1350.6 248.6C1345.9 249.6 1341.3 252.1 1336.6 253.5C1332 254.9 1327.1 256.8 1322.7 257C1318.2 257.1 1313.6 256.1 1310.1 254.2C1306.6 252.2 1303.6 248.2 1301.7 245.1C1299.8 241.9 1298.6 239 1298.6 235.3C1298.6 231.6 1299.6 226.7 1301.7 222.7C1303.8 218.8 1308.4 215.5 1311.5 211.5C1314.5 207.6 1318 202.7 1319.9 199C1321.7 195.2 1321.3 191.5 1322.7 189.2C1324 186.9 1325.4 186.3 1328.2 185Z" stroke="#8CC863"/>
<path d="M1005.9 438.2C1006.6 436.5 1008.8 433.7 1011 433C1013.3 432.3 1016.9 432.9 1019.3 434.1C1021.7 435.3 1023.6 437.9 1025.5 440.3C1027.4 442.7 1028.6 446.8 1030.7 448.5C1032.7 450.2 1035 450.5 1037.9 450.6C1040.8 450.7 1044.4 449.5 1048.2 449.1C1052 448.8 1056.8 448.1 1060.6 448.5C1064.4 448.9 1067.8 449.7 1070.9 451.6C1074 453.5 1076.9 457 1079.2 459.9C1081.4 462.8 1083.8 466.4 1084.3 469.2C1084.9 471.9 1084.2 474.7 1082.3 476.4C1080.4 478.1 1076.6 479.3 1073 479.5C1069.4 479.7 1064.7 478.5 1060.6 477.4C1056.5 476.4 1052 474.2 1048.2 473.3C1044.4 472.4 1041 471.7 1037.9 472.3C1034.8 472.8 1032.4 475.2 1029.6 476.4C1026.9 477.6 1023.8 479 1021.4 479.5C1019 480 1016.3 480.7 1015.2 479.5C1014.1 478.3 1014.4 474.8 1014.8 472.3C1015.1 469.7 1016.7 466.4 1017.2 464C1017.8 461.6 1019 460.2 1018.3 457.8C1017.6 455.4 1015 452 1013.1 449.6C1011.2 447.1 1008.1 445.3 1006.9 443.4C1005.7 441.5 1005.2 439.9 1005.9 438.2Z" stroke="#E0A060"/>
<ellipse cx="1163" cy="112.2" rx="25" ry="14" transform="rotate(-12 1163 112.2)" stroke="#3CBBA4"/>
<circle cx="1347.3" cy="451.6" r="11.6" stroke="#2CA02C"/>
</g>
<circle cx="1016.8" cy="147.0" r="6.4" fill="#2A2D72"/>
<circle cx="1161.4" cy="137.2" r="6.4" fill="#3CBBA4"/>
<circle cx="1339.4" cy="170.8" r="6.4" fill="#8CC863"/>
<circle cx="1174.6" cy="248.2" r="6.4" fill="#DDAA66"/>
<circle cx="1291.2" cy="296.8" r="6.4" fill="#8FD3E8"/>
<circle cx="1268.9" cy="398.4" r="6.4" fill="#F58231"/>
<circle cx="976.8" cy="367.2" r="6.4" fill="#87288F"/>
<circle cx="1104.2" cy="481.0" r="6.4" fill="#E01E26"/>
<circle cx="1375.3" cy="462.5" r="6.4" fill="#2CA02C"/>
<text x="918.07" y="153.10" font-size="18.2">Macro.</text>
<text x="902.50" y="174.00" font-size="18.2">(<tspan font-style="italic">TYROBP</tspan>)</text>
<text x="1184.30" y="143.20" font-size="18.2">T cells</text>
<text x="1181.15" y="164.40" font-size="18.2">(<tspan font-style="italic">CD52</tspan>)</text>
<text x="1334.89" y="125.60" font-size="18.2">Endo.</text>
<text x="1291.23" y="146.60" font-size="18.2">(<tspan font-style="italic">KDR</tspan>, <tspan font-style="italic">PECAM1</tspan>)</text>
<text x="1136.23" y="275.20" font-size="18.2">Sm.</text>
<text x="1088.04" y="295.70" font-size="18.2">(<tspan font-style="italic">RGS5</tspan>, <tspan font-style="italic">ACTA2</tspan>)</text>
<text x="1319.71" y="302.90" font-size="18.2">EPG</text>
<text x="1277.54" y="324.70" font-size="18.2">(<tspan font-style="italic">KRT19, LHX9</tspan>)</text>
<text x="1283.01" y="403.70" font-size="18.2">BPG</text>
<text x="1270.45" y="425.10" font-size="18.2">(<tspan font-style="italic">WNT6</tspan>)</text>
<text x="979.24" y="397.80" font-size="18.2">GI.</text>
<text x="916.53" y="420.00" font-size="18.2">(<tspan font-style="italic">NR2F2</tspan>, <tspan font-style="italic">COL1A1</tspan>)</text>
<text x="1147.39" y="487.00" font-size="18.2">Germ</text>
<text x="1111.33" y="508.70" font-size="18.2">(<tspan font-style="italic">DAZL</tspan>, <tspan font-style="italic">DDX4</tspan>)</text>
<text x="1361.24" y="487.00" font-size="18.2">PV.</text>
<text x="1341.92" y="508.70" font-size="18.2">(<tspan font-style="italic">LYVE1</tspan>)</text>
<path d="M885 434V523.5H977" stroke="#000" stroke-width="1.3" fill="none"/>
<path d="M885 431.5L882 438.5L885 437L888 438.5ZM980 523.5L973 520.5L974.5 523.5L973 526.5Z" fill="#000"/>
<text x="902.54" y="542.90" font-size="15">UMAP_1</text>
<text x="0" y="0" font-size="15" text-anchor="middle" transform="translate(872.8 487.5) rotate(-90)">UMAP_2</text>
</g>
<g id="pc">
<text x="13.30" y="599.3" font-size="40" stroke="#000" stroke-width="0.6">c</text>
<text x="246.00" y="611.30" font-size="19.9">Cell type-specific gene expression (<tspan font-style="italic">n</tspan> = 8824)</text>
<text x="82.12" y="631.20" font-size="16.7">No. of DEGs</text>
<path d="M68.3 639.2H198.8" stroke="#000" stroke-width="2.3"/>
<text x="156.99" y="721.40" font-size="18.8" letter-spacing="-0.31">1585</text>
<text x="168.56" y="853.00" font-size="18.8" letter-spacing="-0.11">786</text>
<text x="168.56" y="904.50" font-size="18.8" letter-spacing="-0.40">634</text>
<text x="169.05" y="960.10" font-size="18.8" letter-spacing="-0.63">587</text>
<text x="169.05" y="1012.50" font-size="18.8" letter-spacing="-0.43">567</text>
<text x="155.39" y="1082.10" font-size="18.8" letter-spacing="-0.12">1208</text>
<text x="155.39" y="1141.20" font-size="18.8" letter-spacing="-0.39">1135</text>
<text x="155.39" y="1188.70" font-size="18.8" letter-spacing="-0.36">1124</text>
<text x="155.39" y="1238.60" font-size="18.8" letter-spacing="-0.27">1198</text>
<rect x="209.2" y="624" width="468.0" height="632" fill="#FBDDB8"/>
<g shape-rendering="crispEdges">
<path d="M209.2 624h52v1h-52zM209.2 629h52v1h-52zM209.2 690h52v1h-52zM573.2 1157h52v1h-52zM573.2 1159h52v1h-52zM573.2 1170h52v1h-52zM625.2 1218h52v1h-52z" fill="#300654"/>
<path d="M209.2 625h52v1h-52zM209.2 630h52v1h-52zM209.2 632h52v1h-52zM209.2 680h52v1h-52zM209.2 695h52v1h-52zM209.2 723h52v1h-52zM209.2 745h52v1h-52zM313.2 884h52v1h-52zM417.2 983h52v1h-52zM521.2 1119h52v1h-52zM625.2 1224h52v2h-52zM625.2 1229h52v1h-52z" fill="#360C5A"/>
<path d="M209.2 626h52v1h-52zM209.2 637h52v1h-52zM209.2 641h52v1h-52zM209.2 664h52v1h-52zM209.2 687h52v2h-52zM521.2 1118h52v1h-52zM573.2 1164h52v1h-52zM625.2 1220h52v1h-52z" fill="#3C0C60"/>
<path d="M209.2 627h52v1h-52zM209.2 639h52v1h-52zM209.2 658h52v1h-52zM209.2 682h52v1h-52zM313.2 892h52v1h-52zM365.2 932h52v1h-52zM417.2 986h52v1h-52zM417.2 994h52v1h-52z" fill="#4E247E"/>
<path d="M209.2 628h52v1h-52zM209.2 633h52v1h-52zM209.2 636h52v1h-52zM209.2 660h52v1h-52zM209.2 700h52v1h-52zM209.2 710h52v1h-52zM209.2 718h52v1h-52zM417.2 984h52v1h-52zM469.2 1032h52v1h-52zM573.2 1163h52v1h-52zM573.2 1171h52v1h-52zM573.2 1173h52v1h-52zM573.2 1189h52v1h-52zM625.2 1223h52v1h-52zM625.2 1232h52v1h-52z" fill="#3C1266"/>
<path d="M209.2 631h52v1h-52zM573.2 1158h52v1h-52z" fill="#30004E"/>
<path d="M209.2 634h52v1h-52zM209.2 652h52v1h-52zM209.2 657h52v1h-52zM209.2 703h52v1h-52zM417.2 982h52v1h-52zM573.2 1167h52v1h-52zM625.2 1244h52v1h-52z" fill="#481872"/>
<path d="M209.2 635h52v1h-52zM209.2 670h52v1h-52zM209.2 673h52v1h-52zM209.2 675h52v1h-52zM209.2 685h52v1h-52zM209.2 699h52v1h-52zM209.2 707h52v1h-52zM209.2 713h52v1h-52zM209.2 716h52v1h-52zM209.2 730h52v1h-52zM209.2 746h52v1h-52zM313.2 885h52v1h-52zM365.2 921h52v1h-52zM417.2 989h52v1h-52zM469.2 1030h52v1h-52zM469.2 1037h52v1h-52zM469.2 1049h52v1h-52zM521.2 1123h52v1h-52zM573.2 1180h52v1h-52zM573.2 1193h52v1h-52zM625.2 1235h52v1h-52zM625.2 1246h52v1h-52z" fill="#4E2478"/>
<path d="M209.2 638h52v1h-52zM469.2 1059h52v1h-52z" fill="#5A308A"/>
<path d="M209.2 640h52v1h-52zM209.2 653h52v1h-52zM209.2 655h52v1h-52zM209.2 663h52v1h-52zM209.2 666h52v1h-52zM209.2 689h52v1h-52zM209.2 697h52v1h-52zM209.2 706h52v1h-52zM209.2 720h52v2h-52zM209.2 726h52v1h-52zM209.2 731h52v2h-52zM209.2 738h52v1h-52zM417.2 990h52v1h-52zM417.2 993h52v1h-52zM469.2 1054h52v1h-52zM573.2 1165h52v1h-52zM573.2 1175h52v2h-52zM573.2 1182h52v1h-52zM573.2 1186h52v1h-52zM625.2 1214h52v1h-52zM625.2 1227h52v1h-52zM625.2 1230h52v1h-52z" fill="#481E72"/>
<path d="M209.2 642h52v1h-52zM209.2 649h52v1h-52zM209.2 739h52v1h-52zM365.2 944h52v1h-52zM417.2 992h52v1h-52zM417.2 996h52v1h-52zM469.2 1042h52v1h-52zM521.2 1130h52v1h-52zM521.2 1145h52v1h-52zM573.2 1202h52v1h-52zM625.2 1251h52v1h-52z" fill="#5A3684"/>
<path d="M209.2 643h52v1h-52zM209.2 696h52v1h-52zM209.2 733h52v1h-52zM625.2 1241h52v1h-52z" fill="#542A84"/>
<path d="M209.2 644h52v1h-52zM209.2 693h52v1h-52zM209.2 725h52v1h-52zM209.2 727h52v1h-52zM417.2 999h52v1h-52zM469.2 1050h52v1h-52zM573.2 1177h52v1h-52zM625.2 1236h52v1h-52zM625.2 1243h52v1h-52z" fill="#4E2A7E"/>
<path d="M209.2 645h52v1h-52zM209.2 672h52v1h-52zM365.2 918h52v1h-52zM469.2 1036h52v1h-52zM469.2 1051h52v1h-52zM521.2 1126h52v2h-52zM573.2 1160h52v1h-52zM625.2 1233h52v1h-52z" fill="#481E78"/>
<path d="M209.2 646h52v1h-52zM625.2 1226h52v1h-52z" fill="#4E1E78"/>
<path d="M209.2 647h52v1h-52zM209.2 661h52v1h-52zM209.2 691h52v1h-52zM573.2 1174h52v1h-52zM573.2 1179h52v1h-52z" fill="#421866"/>
<path d="M209.2 648h52v1h-52z" fill="#421872"/>
<path d="M209.2 650h52v2h-52zM209.2 674h52v1h-52zM209.2 681h52v1h-52zM209.2 722h52v1h-52zM209.2 737h52v1h-52zM313.2 886h52v1h-52zM417.2 988h52v1h-52zM573.2 1166h52v1h-52zM573.2 1168h52v1h-52zM573.2 1184h52v1h-52zM573.2 1188h52v1h-52zM625.2 1215h52v1h-52z" fill="#42186C"/>
<path d="M209.2 654h52v1h-52zM209.2 656h52v1h-52zM209.2 698h52v1h-52zM209.2 728h52v2h-52zM469.2 1029h52v1h-52z" fill="#4E2A78"/>
<path d="M209.2 659h52v1h-52zM209.2 667h52v2h-52zM209.2 683h52v1h-52zM209.2 743h52v1h-52zM313.2 883h52v1h-52zM521.2 1117h52v1h-52zM573.2 1156h52v1h-52zM625.2 1216h52v1h-52z" fill="#360654"/>
<path d="M209.2 662h52v1h-52zM209.2 747h52v1h-52zM469.2 1031h52v1h-52z" fill="#42126C"/>
<path d="M209.2 665h52v1h-52zM313.2 898h52v1h-52zM365.2 919h52v1h-52zM365.2 934h52v1h-52zM365.2 941h52v1h-52zM469.2 1034h52v1h-52zM625.2 1234h52v1h-52zM625.2 1250h52v1h-52z" fill="#603C90"/>
<path d="M209.2 669h52v1h-52z" fill="#5A3084"/>
<path d="M209.2 671h52v1h-52zM209.2 734h52v1h-52zM521.2 1124h52v1h-52zM573.2 1162h52v1h-52zM573.2 1169h52v1h-52zM625.2 1228h52v1h-52z" fill="#421266"/>
<path d="M209.2 676h52v1h-52zM209.2 762h52v1h-52zM261.2 832h52v1h-52zM261.2 849h52v1h-52zM313.2 901h52v1h-52zM417.2 997h52v1h-52zM469.2 1039h52v1h-52zM469.2 1046h52v1h-52zM469.2 1052h52v1h-52zM469.2 1074h52v1h-52z" fill="#6C4E96"/>
<path d="M209.2 677h52v1h-52zM209.2 684h52v1h-52zM209.2 765h52v1h-52zM573.2 1203h52v1h-52z" fill="#664290"/>
<path d="M209.2 678h52v1h-52zM209.2 694h52v1h-52zM209.2 744h52v1h-52zM521.2 1125h52v1h-52z" fill="#481E6C"/>
<path d="M209.2 679h52v1h-52zM209.2 711h52v1h-52zM209.2 714h52v1h-52zM209.2 717h52v1h-52zM209.2 719h52v1h-52zM209.2 760h52v1h-52zM469.2 1043h52v1h-52zM573.2 1190h52v1h-52zM625.2 1237h52v1h-52z" fill="#542A7E"/>
<path d="M209.2 686h52v1h-52zM209.2 742h52v1h-52zM365.2 927h52v1h-52zM417.2 998h52v1h-52zM573.2 1195h52v1h-52z" fill="#54307E"/>
<path d="M209.2 692h52v1h-52zM521.2 1121h52v1h-52z" fill="#5A3C84"/>
<path d="M209.2 701h52v2h-52zM209.2 724h52v1h-52zM209.2 761h52v1h-52zM261.2 828h52v1h-52zM313.2 889h52v1h-52zM365.2 939h52v1h-52zM469.2 1040h52v1h-52zM573.2 1185h52v1h-52zM625.2 1239h52v2h-52z" fill="#5A368A"/>
<path d="M209.2 704h52v1h-52zM313.2 888h52v1h-52zM313.2 891h52v1h-52zM365.2 946h52v1h-52zM469.2 1044h52v1h-52zM521.2 1148h52v1h-52zM573.2 1178h52v1h-52zM573.2 1181h52v1h-52zM573.2 1207h52v1h-52zM625.2 1242h52v1h-52z" fill="#543084"/>
<path d="M209.2 705h52v1h-52zM209.2 712h52v1h-52zM209.2 783h52v1h-52zM209.2 803h52v1h-52zM261.2 827h52v1h-52zM313.2 893h52v1h-52zM365.2 937h52v1h-52zM365.2 943h52v1h-52zM469.2 1033h52v1h-52zM521.2 1129h52v1h-52zM521.2 1147h52v1h-52zM573.2 1191h52v1h-52zM573.2 1210h52v1h-52zM573.2 1212h52v1h-52zM625.2 1245h52v1h-52zM625.2 1249h52v1h-52zM625.2 1253h52v1h-52z" fill="#664896"/>
<path d="M209.2 708h52v1h-52zM209.2 750h52v1h-52zM261.2 807h52v1h-52zM365.2 923h52v1h-52zM365.2 930h52v1h-52zM521.2 1133h52v1h-52zM573.2 1204h52v1h-52z" fill="#725A9C"/>
<path d="M209.2 709h52v1h-52z" fill="#5A3C8A"/>
<path d="M209.2 715h52v1h-52z" fill="#482472"/>
<path d="M209.2 735h52v1h-52zM209.2 778h52v1h-52zM261.2 833h52v1h-52zM313.2 894h52v1h-52zM313.2 897h52v1h-52zM365.2 924h52v1h-52zM365.2 940h52v1h-52zM469.2 1045h52v1h-52zM521.2 1138h52v1h-52zM521.2 1150h52v1h-52zM573.2 1192h52v1h-52zM573.2 1198h52v1h-52z" fill="#6C549C"/>
<path d="M209.2 736h52v1h-52z" fill="#542A8A"/>
<path d="M209.2 740h52v2h-52zM417.2 985h52v1h-52zM417.2 991h52v1h-52zM521.2 1120h52v1h-52zM573.2 1161h52v1h-52zM625.2 1219h52v1h-52zM625.2 1222h52v1h-52z" fill="#36065A"/>
<path d="M209.2 748h52v1h-52zM209.2 769h52v1h-52zM209.2 772h52v1h-52zM209.2 785h52v1h-52zM209.2 787h52v1h-52zM261.2 830h52v1h-52zM261.2 834h52v1h-52zM261.2 857h52v1h-52zM261.2 863h52v1h-52zM261.2 878h52v1h-52zM313.2 906h52v1h-52zM313.2 911h52v3h-52zM365.2 947h52v2h-52zM417.2 1023h52v2h-52zM469.2 1065h52v1h-52zM469.2 1070h52v1h-52zM469.2 1073h52v1h-52zM469.2 1076h52v1h-52zM469.2 1089h52v1h-52zM521.2 1078h52v1h-52zM625.2 1199h52v1h-52z" fill="#8A78B4"/>
<path d="M209.2 749h52v1h-52zM469.2 1085h52v1h-52zM521.2 1146h52v1h-52z" fill="#7254A2"/>
<path d="M209.2 751h52v1h-52zM209.2 757h52v1h-52zM209.2 799h52v1h-52zM261.2 824h52v1h-52zM261.2 851h52v1h-52zM469.2 1079h52v1h-52zM469.2 1081h52v1h-52zM521.2 1136h52v1h-52zM521.2 1151h52v1h-52zM573.2 1197h52v1h-52z" fill="#7866A8"/>
<path d="M209.2 752h52v1h-52zM209.2 763h52v1h-52zM209.2 779h52v1h-52zM209.2 800h52v1h-52zM261.2 812h52v1h-52zM313.2 905h52v1h-52zM469.2 1041h52v1h-52zM469.2 1057h52v1h-52zM469.2 1062h52v1h-52zM521.2 1153h52v1h-52zM573.2 1194h52v1h-52zM573.2 1196h52v1h-52zM573.2 1199h52v1h-52zM573.2 1206h52v1h-52zM625.2 1247h52v1h-52z" fill="#725AA2"/>
<path d="M209.2 753h52v1h-52zM521.2 1131h52v1h-52zM573.2 1205h52v1h-52z" fill="#7260A2"/>
<path d="M209.2 754h52v1h-52zM209.2 768h52v1h-52zM209.2 788h52v1h-52zM209.2 801h52v1h-52zM209.2 805h52v1h-52zM261.2 811h52v1h-52zM261.2 854h52v1h-52zM313.2 899h52v1h-52zM365.2 935h52v1h-52zM417.2 1009h52v1h-52zM417.2 1018h52v1h-52zM469.2 1066h52v1h-52zM521.2 1144h52v1h-52zM521.2 1154h52v1h-52zM573.2 1201h52v1h-52zM573.2 1211h52v1h-52z" fill="#7860A2"/>
<path d="M209.2 755h52v1h-52zM261.2 820h52v1h-52zM365.2 972h52v1h-52zM469.2 1058h52v1h-52zM521.2 1135h52v1h-52z" fill="#7E6CAE"/>
<path d="M209.2 756h52v1h-52zM209.2 777h52v1h-52zM209.2 794h52v2h-52zM261.2 862h52v1h-52zM261.2 869h52v1h-52zM365.2 956h52v1h-52zM365.2 973h52v1h-52zM365.2 977h52v1h-52zM417.2 1008h52v1h-52zM469.2 1096h52v1h-52zM521.2 1029h52v1h-52zM521.2 1152h52v1h-52zM573.2 1213h52v1h-52zM625.2 1252h52v1h-52z" fill="#9084BA"/>
<path d="M209.2 758h52v1h-52zM209.2 774h52v2h-52zM209.2 784h52v1h-52zM261.2 808h52v1h-52zM261.2 821h52v1h-52zM365.2 942h52v1h-52zM417.2 1000h52v1h-52zM417.2 1003h52v1h-52zM417.2 1010h52v1h-52zM469.2 1069h52v1h-52zM521.2 1139h52v1h-52zM521.2 1149h52v1h-52z" fill="#72549C"/>
<path d="M209.2 759h52v1h-52zM209.2 767h52v1h-52zM209.2 797h52v1h-52zM261.2 809h52v1h-52zM261.2 819h52v1h-52zM313.2 909h52v1h-52zM417.2 1001h52v1h-52zM469.2 1055h52v1h-52zM469.2 1080h52v1h-52zM469.2 1091h52v1h-52zM521.2 1142h52v2h-52z" fill="#7E6CA8"/>
<path d="M209.2 764h52v1h-52zM209.2 776h52v1h-52zM261.2 852h52v1h-52zM313.2 917h52v1h-52zM469.2 982h52v1h-52z" fill="#8A78AE"/>
<path d="M209.2 766h52v1h-52zM209.2 773h52v1h-52zM365.2 933h52v1h-52zM365.2 938h52v1h-52zM521.2 1132h52v1h-52zM625.2 1248h52v1h-52zM625.2 1255h52v1h-52z" fill="#603C8A"/>
<path d="M209.2 770h52v1h-52zM209.2 789h52v1h-52zM209.2 791h52v1h-52zM209.2 798h52v1h-52zM261.2 814h52v1h-52zM261.2 816h52v1h-52zM261.2 829h52v1h-52zM261.2 841h52v1h-52zM261.2 844h52v1h-52zM261.2 847h52v1h-52zM261.2 850h52v1h-52zM261.2 865h52v1h-52zM365.2 936h52v1h-52zM365.2 952h52v2h-52zM417.2 1006h52v1h-52zM417.2 1014h52v1h-52zM417.2 1026h52v1h-52zM469.2 1071h52v1h-52zM469.2 1077h52v1h-52zM469.2 1099h52v1h-52zM521.2 1140h52v1h-52zM573.2 1208h52v2h-52z" fill="#8472AE"/>
<path d="M209.2 771h52v1h-52zM365.2 959h52v1h-52zM365.2 976h52v1h-52zM469.2 1111h52v1h-52z" fill="#9690C0"/>
<path d="M209.2 780h52v1h-52zM313.2 887h52v1h-52zM313.2 896h52v1h-52zM313.2 904h52v1h-52zM417.2 1002h52v1h-52zM469.2 1047h52v1h-52zM469.2 1082h52v1h-52zM573.2 1187h52v1h-52z" fill="#604290"/>
<path d="M209.2 781h52v2h-52zM209.2 802h52v1h-52zM261.2 846h52v1h-52zM313.2 908h52v1h-52zM417.2 1005h52v1h-52zM417.2 1017h52v1h-52zM469.2 1061h52v1h-52zM469.2 1067h52v2h-52zM469.2 1072h52v1h-52zM469.2 1075h52v1h-52zM469.2 1078h52v1h-52zM469.2 1087h52v1h-52z" fill="#7E66A8"/>
<path d="M209.2 786h52v1h-52zM365.2 966h52v1h-52z" fill="#9C96C6"/>
<path d="M209.2 790h52v1h-52zM261.2 813h52v1h-52zM261.2 826h52v1h-52zM365.2 945h52v1h-52zM365.2 949h52v2h-52zM469.2 1106h52v1h-52z" fill="#907EB4"/>
<path d="M209.2 792h52v1h-52zM261.2 848h52v1h-52zM261.2 853h52v1h-52zM313.2 856h52v1h-52zM417.2 1025h52v1h-52zM469.2 1083h52v2h-52zM521.2 1155h52v1h-52zM625.2 1123h52v1h-52z" fill="#8A7EB4"/>
<path d="M209.2 793h52v1h-52zM261.2 815h52v1h-52zM261.2 822h52v1h-52zM365.2 969h52v1h-52zM365.2 975h52v1h-52zM417.2 1007h52v1h-52zM417.2 1016h52v1h-52zM469.2 1095h52v1h-52zM469.2 1105h52v1h-52zM573.2 1200h52v1h-52z" fill="#968ABA"/>
<path d="M209.2 796h52v1h-52zM261.2 825h52v1h-52zM261.2 836h52v1h-52zM365.2 922h52v1h-52z" fill="#6C5496"/>
<path d="M209.2 804h52v1h-52zM261.2 856h52v1h-52zM261.2 859h52v1h-52zM365.2 974h52v1h-52zM365.2 979h52v1h-52zM469.2 1102h52v1h-52zM521.2 1072h52v1h-52z" fill="#968AC0"/>
<path d="M209.2 806h52v1h-52zM365.2 837h52v1h-52zM521.2 702h52v1h-52zM521.2 792h52v1h-52zM573.2 1088h52v1h-52zM573.2 1094h52v1h-52zM625.2 982h52v1h-52zM625.2 1032h52v1h-52zM625.2 1059h52v1h-52zM625.2 1114h52v1h-52zM625.2 1149h52v1h-52z" fill="#E4CCBA"/>
<path d="M209.2 807h52v1h-52zM209.2 818h52v1h-52zM209.2 848h52v1h-52zM209.2 855h52v1h-52zM209.2 931h52v1h-52zM209.2 975h52v1h-52zM209.2 1066h52v1h-52zM209.2 1073h52v1h-52zM209.2 1186h52v1h-52zM209.2 1217h52v1h-52zM261.2 696h52v1h-52zM261.2 709h52v2h-52zM261.2 804h52v1h-52zM261.2 1072h52v1h-52zM261.2 1097h52v1h-52zM261.2 1161h52v1h-52zM261.2 1178h52v1h-52zM261.2 1226h52v1h-52zM313.2 625h52v1h-52zM313.2 671h52v1h-52zM313.2 710h52v1h-52zM313.2 991h52v1h-52zM313.2 1009h52v1h-52zM313.2 1033h52v1h-52zM313.2 1036h52v1h-52zM313.2 1063h52v1h-52zM313.2 1125h52v1h-52zM313.2 1142h52v1h-52zM313.2 1147h52v1h-52zM313.2 1198h52v1h-52zM365.2 625h52v1h-52zM365.2 630h52v1h-52zM365.2 647h52v1h-52zM365.2 703h52v1h-52zM365.2 714h52v1h-52zM365.2 728h52v2h-52zM365.2 752h52v1h-52zM365.2 771h52v1h-52zM365.2 790h52v1h-52zM365.2 860h52v1h-52zM365.2 875h52v1h-52zM365.2 893h52v1h-52zM365.2 1026h52v1h-52zM365.2 1032h52v1h-52zM365.2 1045h52v1h-52zM365.2 1065h52v1h-52zM365.2 1197h52v1h-52zM365.2 1199h52v1h-52zM365.2 1205h52v2h-52zM365.2 1216h52v1h-52zM365.2 1230h52v1h-52zM365.2 1244h52v1h-52zM417.2 625h52v1h-52zM417.2 692h52v1h-52zM417.2 714h52v1h-52zM417.2 727h52v1h-52zM417.2 743h52v1h-52zM417.2 748h52v1h-52zM417.2 819h52v1h-52zM417.2 824h52v1h-52zM417.2 841h52v1h-52zM417.2 851h52v1h-52zM417.2 870h52v1h-52zM417.2 1056h52v1h-52zM417.2 1058h52v1h-52zM417.2 1067h52v1h-52zM417.2 1083h52v1h-52zM417.2 1094h52v1h-52zM417.2 1149h52v1h-52zM417.2 1159h52v1h-52zM417.2 1170h52v2h-52zM417.2 1174h52v1h-52zM417.2 1177h52v1h-52zM417.2 1197h52v1h-52zM417.2 1206h52v1h-52zM417.2 1213h52v1h-52zM417.2 1219h52v1h-52zM417.2 1231h52v1h-52zM469.2 779h52v1h-52zM469.2 792h52v1h-52zM469.2 814h52v1h-52zM469.2 820h52v1h-52zM469.2 825h52v1h-52zM469.2 827h52v1h-52zM469.2 854h52v1h-52zM469.2 868h52v1h-52zM469.2 1175h52v1h-52zM469.2 1213h52v1h-52zM469.2 1222h52v1h-52zM469.2 1247h52v1h-52zM521.2 689h52v1h-52zM521.2 917h52v2h-52zM521.2 1159h52v1h-52zM521.2 1184h52v1h-52zM521.2 1218h52v1h-52zM521.2 1239h52v1h-52zM573.2 656h52v1h-52zM573.2 696h52v1h-52zM573.2 708h52v1h-52zM573.2 731h52v2h-52zM573.2 735h52v1h-52zM573.2 740h52v1h-52zM573.2 877h52v1h-52zM573.2 1018h52v1h-52zM573.2 1027h52v1h-52zM573.2 1047h52v1h-52zM573.2 1097h52v1h-52zM625.2 630h52v1h-52zM625.2 650h52v1h-52zM625.2 653h52v1h-52zM625.2 670h52v1h-52zM625.2 966h52v1h-52zM625.2 1067h52v1h-52z" fill="#FCD8A2"/>
<path d="M209.2 808h52v1h-52zM209.2 830h52v1h-52zM209.2 839h52v1h-52zM209.2 905h52v1h-52zM209.2 976h52v1h-52zM209.2 1085h52v1h-52zM209.2 1110h52v1h-52zM209.2 1154h52v1h-52zM209.2 1195h52v1h-52zM209.2 1244h52v1h-52zM261.2 638h52v1h-52zM261.2 658h52v2h-52zM261.2 692h52v2h-52zM261.2 712h52v1h-52zM261.2 742h52v1h-52zM261.2 757h52v1h-52zM261.2 777h52v1h-52zM261.2 790h52v1h-52zM261.2 797h52v1h-52zM261.2 986h52v1h-52zM261.2 1006h52v1h-52zM261.2 1015h52v1h-52zM261.2 1023h52v2h-52zM261.2 1032h52v1h-52zM261.2 1040h52v1h-52zM261.2 1045h52v1h-52zM261.2 1051h52v1h-52zM261.2 1053h52v1h-52zM261.2 1055h52v1h-52zM261.2 1058h52v2h-52zM261.2 1068h52v1h-52zM261.2 1086h52v1h-52zM261.2 1098h52v1h-52zM261.2 1100h52v1h-52zM261.2 1112h52v1h-52zM261.2 1133h52v1h-52zM261.2 1139h52v1h-52zM261.2 1141h52v1h-52zM261.2 1150h52v1h-52zM261.2 1160h52v1h-52zM261.2 1162h52v1h-52zM261.2 1166h52v1h-52zM261.2 1177h52v1h-52zM261.2 1179h52v1h-52zM261.2 1186h52v1h-52zM261.2 1203h52v1h-52zM261.2 1205h52v1h-52zM261.2 1219h52v1h-52zM261.2 1222h52v2h-52zM261.2 1254h52v1h-52zM313.2 632h52v1h-52zM313.2 644h52v1h-52zM313.2 659h52v1h-52zM313.2 668h52v1h-52zM313.2 675h52v1h-52zM313.2 682h52v1h-52zM313.2 686h52v1h-52zM313.2 697h52v1h-52zM313.2 703h52v1h-52zM313.2 712h52v1h-52zM313.2 721h52v1h-52zM313.2 727h52v1h-52zM313.2 730h52v1h-52zM313.2 740h52v1h-52zM313.2 746h52v1h-52zM313.2 920h52v1h-52zM313.2 987h52v1h-52zM313.2 993h52v1h-52zM313.2 998h52v1h-52zM313.2 1002h52v1h-52zM313.2 1006h52v1h-52zM313.2 1013h52v2h-52zM313.2 1047h52v1h-52zM313.2 1049h52v1h-52zM313.2 1053h52v1h-52zM313.2 1077h52v1h-52zM313.2 1087h52v2h-52zM313.2 1099h52v1h-52zM313.2 1113h52v1h-52zM313.2 1158h52v2h-52zM313.2 1163h52v1h-52zM313.2 1203h52v1h-52zM313.2 1214h52v1h-52zM313.2 1224h52v1h-52zM313.2 1226h52v1h-52zM313.2 1229h52v1h-52zM313.2 1247h52v1h-52zM365.2 640h52v1h-52zM365.2 646h52v1h-52zM365.2 649h52v1h-52zM365.2 662h52v1h-52zM365.2 672h52v1h-52zM365.2 701h52v1h-52zM365.2 707h52v1h-52zM365.2 709h52v1h-52zM365.2 715h52v1h-52zM365.2 723h52v1h-52zM365.2 727h52v1h-52zM365.2 734h52v1h-52zM365.2 737h52v1h-52zM365.2 742h52v1h-52zM365.2 755h52v1h-52zM365.2 760h52v3h-52zM365.2 797h52v1h-52zM365.2 813h52v1h-52zM365.2 851h52v1h-52zM365.2 857h52v1h-52zM365.2 861h52v1h-52zM365.2 1040h52v1h-52zM365.2 1064h52v1h-52zM365.2 1080h52v2h-52zM365.2 1092h52v1h-52zM365.2 1110h52v1h-52zM365.2 1128h52v2h-52zM365.2 1135h52v1h-52zM365.2 1138h52v1h-52zM365.2 1150h52v1h-52zM365.2 1157h52v1h-52zM365.2 1165h52v3h-52zM365.2 1177h52v1h-52zM365.2 1182h52v1h-52zM365.2 1184h52v1h-52zM365.2 1212h52v1h-52zM365.2 1221h52v1h-52zM365.2 1225h52v1h-52zM365.2 1240h52v1h-52zM417.2 628h52v2h-52zM417.2 647h52v1h-52zM417.2 662h52v1h-52zM417.2 669h52v2h-52zM417.2 702h52v1h-52zM417.2 712h52v1h-52zM417.2 757h52v1h-52zM417.2 759h52v1h-52zM417.2 769h52v1h-52zM417.2 776h52v2h-52zM417.2 840h52v1h-52zM417.2 875h52v1h-52zM417.2 901h52v1h-52zM417.2 1033h52v1h-52zM417.2 1035h52v1h-52zM417.2 1041h52v1h-52zM417.2 1080h52v1h-52zM417.2 1093h52v1h-52zM417.2 1102h52v1h-52zM417.2 1110h52v1h-52zM417.2 1115h52v2h-52zM417.2 1144h52v1h-52zM417.2 1147h52v1h-52zM417.2 1156h52v2h-52zM417.2 1162h52v1h-52zM417.2 1167h52v1h-52zM417.2 1178h52v1h-52zM417.2 1180h52v1h-52zM417.2 1201h52v1h-52zM417.2 1207h52v1h-52zM417.2 1228h52v1h-52zM417.2 1233h52v1h-52zM417.2 1242h52v1h-52zM417.2 1250h52v1h-52zM417.2 1254h52v1h-52zM469.2 624h52v1h-52zM469.2 633h52v1h-52zM469.2 637h52v2h-52zM469.2 642h52v1h-52zM469.2 646h52v1h-52zM469.2 651h52v1h-52zM469.2 653h52v1h-52zM469.2 664h52v1h-52zM469.2 671h52v1h-52zM469.2 681h52v1h-52zM469.2 700h52v1h-52zM469.2 705h52v1h-52zM469.2 709h52v1h-52zM469.2 711h52v1h-52zM469.2 721h52v1h-52zM469.2 737h52v1h-52zM469.2 754h52v1h-52zM469.2 759h52v1h-52zM469.2 797h52v1h-52zM469.2 810h52v1h-52zM469.2 832h52v2h-52zM469.2 836h52v2h-52zM469.2 839h52v1h-52zM469.2 881h52v1h-52zM469.2 943h52v1h-52zM469.2 947h52v1h-52zM469.2 962h52v1h-52zM469.2 1121h52v1h-52zM469.2 1155h52v1h-52zM469.2 1162h52v1h-52zM469.2 1166h52v1h-52zM469.2 1189h52v1h-52zM469.2 1208h52v1h-52zM469.2 1224h52v1h-52zM469.2 1237h52v1h-52zM521.2 627h52v1h-52zM521.2 634h52v1h-52zM521.2 648h52v1h-52zM521.2 682h52v1h-52zM521.2 713h52v1h-52zM521.2 740h52v1h-52zM521.2 869h52v1h-52zM521.2 882h52v1h-52zM521.2 968h52v1h-52zM521.2 977h52v1h-52zM521.2 998h52v1h-52zM521.2 1156h52v1h-52zM521.2 1162h52v1h-52zM521.2 1172h52v1h-52zM521.2 1185h52v1h-52zM521.2 1187h52v1h-52zM521.2 1190h52v1h-52zM521.2 1192h52v1h-52zM521.2 1194h52v2h-52zM521.2 1213h52v1h-52zM521.2 1217h52v1h-52zM521.2 1219h52v1h-52zM521.2 1222h52v1h-52zM521.2 1228h52v1h-52zM521.2 1242h52v1h-52zM573.2 647h52v1h-52zM573.2 671h52v1h-52zM573.2 673h52v1h-52zM573.2 682h52v1h-52zM573.2 726h52v1h-52zM573.2 786h52v1h-52zM573.2 883h52v1h-52zM573.2 1065h52v1h-52zM625.2 642h52v1h-52zM625.2 656h52v1h-52zM625.2 667h52v1h-52zM625.2 674h52v2h-52zM625.2 680h52v2h-52zM625.2 713h52v1h-52zM625.2 717h52v1h-52zM625.2 725h52v1h-52zM625.2 733h52v1h-52zM625.2 750h52v1h-52zM625.2 755h52v1h-52zM625.2 775h52v1h-52zM625.2 811h52v3h-52zM625.2 839h52v1h-52zM625.2 845h52v1h-52zM625.2 856h52v2h-52zM625.2 862h52v1h-52zM625.2 894h52v1h-52zM625.2 913h52v1h-52z" fill="#FCDEB4"/>
<path d="M209.2 809h52v1h-52zM209.2 865h52v1h-52zM209.2 872h52v1h-52zM209.2 1174h52v1h-52zM313.2 658h52v1h-52zM313.2 717h52v1h-52zM313.2 750h52v1h-52zM313.2 784h52v1h-52zM365.2 1007h52v1h-52zM573.2 706h52v1h-52zM573.2 851h52v1h-52zM573.2 1145h52v1h-52z" fill="#F0D2B4"/>
<path d="M209.2 810h52v1h-52zM209.2 860h52v1h-52zM209.2 956h52v1h-52zM209.2 1177h52v1h-52zM365.2 831h52v1h-52zM417.2 842h52v1h-52zM417.2 898h52v1h-52zM469.2 794h52v1h-52zM521.2 914h52v1h-52zM521.2 965h52v1h-52zM573.2 1056h52v1h-52zM625.2 798h52v1h-52zM625.2 1014h52v1h-52zM625.2 1021h52v1h-52z" fill="#F0CCA2"/>
<path d="M209.2 811h52v1h-52zM209.2 891h52v1h-52zM573.2 704h52v1h-52zM573.2 1073h52v1h-52zM625.2 1034h52v1h-52z" fill="#F0CCAE"/>
<path d="M209.2 812h52v1h-52zM209.2 977h52v1h-52zM573.2 799h52v1h-52z" fill="#EAC09C"/>
<path d="M209.2 813h52v1h-52z" fill="#E4D2BA"/>
<path d="M209.2 814h52v1h-52zM313.2 777h52v1h-52zM521.2 683h52v2h-52zM521.2 703h52v1h-52zM521.2 708h52v1h-52zM573.2 690h52v1h-52z" fill="#EAD8C6"/>
<path d="M209.2 815h52v1h-52zM573.2 1153h52v1h-52zM625.2 1140h52v1h-52z" fill="#CCAEA2"/>
<path d="M209.2 816h52v1h-52zM209.2 837h52v1h-52zM313.2 714h52v1h-52zM313.2 780h52v1h-52zM365.2 859h52v1h-52zM521.2 654h52v1h-52zM521.2 677h52v1h-52zM573.2 713h52v1h-52zM573.2 718h52v1h-52zM573.2 1022h52v1h-52zM573.2 1079h52v1h-52zM573.2 1155h52v1h-52zM625.2 781h52v1h-52zM625.2 783h52v1h-52zM625.2 790h52v1h-52zM625.2 803h52v1h-52zM625.2 852h52v1h-52zM625.2 1092h52v1h-52z" fill="#F0D8BA"/>
<path d="M209.2 817h52v1h-52zM209.2 841h52v1h-52zM209.2 854h52v1h-52zM209.2 868h52v1h-52zM209.2 879h52v1h-52zM209.2 902h52v1h-52zM209.2 992h52v1h-52zM209.2 1011h52v1h-52zM209.2 1089h52v1h-52zM209.2 1093h52v1h-52zM209.2 1098h52v1h-52zM209.2 1104h52v1h-52zM209.2 1213h52v1h-52zM209.2 1225h52v1h-52zM209.2 1234h52v1h-52zM209.2 1248h52v1h-52zM209.2 1253h52v1h-52zM261.2 706h52v1h-52zM261.2 782h52v1h-52zM261.2 786h52v1h-52zM261.2 803h52v1h-52zM261.2 992h52v1h-52zM261.2 1030h52v1h-52zM261.2 1065h52v1h-52zM261.2 1082h52v1h-52zM261.2 1090h52v1h-52zM261.2 1151h52v1h-52zM313.2 629h52v2h-52zM313.2 664h52v1h-52zM313.2 690h52v1h-52zM313.2 1023h52v1h-52zM313.2 1039h52v1h-52zM313.2 1055h52v1h-52zM313.2 1066h52v1h-52zM313.2 1068h52v1h-52zM313.2 1073h52v1h-52zM313.2 1107h52v1h-52zM313.2 1139h52v1h-52zM313.2 1161h52v1h-52zM313.2 1200h52v1h-52zM313.2 1211h52v1h-52zM313.2 1254h52v1h-52zM365.2 626h52v1h-52zM365.2 648h52v1h-52zM365.2 669h52v1h-52zM365.2 682h52v1h-52zM365.2 691h52v1h-52zM365.2 693h52v1h-52zM365.2 702h52v1h-52zM365.2 720h52v1h-52zM365.2 766h52v1h-52zM365.2 780h52v1h-52zM365.2 785h52v1h-52zM365.2 800h52v1h-52zM365.2 832h52v1h-52zM365.2 885h52v1h-52zM365.2 1041h52v1h-52zM365.2 1052h52v1h-52zM365.2 1069h52v2h-52zM365.2 1084h52v2h-52zM365.2 1117h52v1h-52zM365.2 1123h52v1h-52zM365.2 1132h52v1h-52zM365.2 1151h52v1h-52zM365.2 1164h52v1h-52zM365.2 1194h52v1h-52zM365.2 1200h52v1h-52zM365.2 1229h52v1h-52zM365.2 1233h52v2h-52zM417.2 694h52v1h-52zM417.2 705h52v1h-52zM417.2 717h52v1h-52zM417.2 749h52v1h-52zM417.2 755h52v1h-52zM417.2 782h52v2h-52zM417.2 787h52v1h-52zM417.2 789h52v1h-52zM417.2 793h52v1h-52zM417.2 809h52v1h-52zM417.2 820h52v1h-52zM417.2 823h52v1h-52zM417.2 868h52v1h-52zM417.2 879h52v1h-52zM417.2 885h52v1h-52zM417.2 1045h52v1h-52zM417.2 1053h52v2h-52zM417.2 1065h52v1h-52zM417.2 1072h52v1h-52zM417.2 1107h52v1h-52zM417.2 1138h52v1h-52zM417.2 1173h52v1h-52zM417.2 1184h52v1h-52zM417.2 1198h52v1h-52zM417.2 1226h52v1h-52zM417.2 1230h52v1h-52zM417.2 1253h52v1h-52zM469.2 627h52v1h-52zM469.2 649h52v1h-52zM469.2 659h52v1h-52zM469.2 662h52v1h-52zM469.2 684h52v1h-52zM469.2 762h52v1h-52zM469.2 778h52v1h-52zM469.2 800h52v1h-52zM469.2 809h52v1h-52zM469.2 811h52v1h-52zM469.2 818h52v1h-52zM469.2 830h52v1h-52zM469.2 846h52v1h-52zM469.2 946h52v1h-52zM469.2 1164h52v1h-52zM469.2 1173h52v1h-52zM469.2 1191h52v1h-52zM469.2 1223h52v1h-52zM521.2 625h52v1h-52zM521.2 637h52v1h-52zM521.2 827h52v1h-52zM521.2 843h52v1h-52zM521.2 857h52v1h-52zM521.2 1014h52v1h-52zM521.2 1169h52v1h-52zM521.2 1223h52v1h-52zM521.2 1232h52v1h-52zM521.2 1244h52v1h-52zM573.2 632h52v1h-52zM573.2 636h52v1h-52zM573.2 639h52v1h-52zM573.2 643h52v1h-52zM573.2 646h52v1h-52zM573.2 674h52v1h-52zM573.2 693h52v1h-52zM573.2 736h52v1h-52zM573.2 747h52v1h-52zM573.2 780h52v1h-52zM573.2 784h52v1h-52zM573.2 839h52v1h-52zM573.2 872h52v1h-52zM573.2 885h52v1h-52zM573.2 900h52v1h-52zM573.2 903h52v1h-52zM573.2 905h52v1h-52zM573.2 912h52v1h-52zM573.2 1023h52v1h-52zM573.2 1025h52v1h-52zM573.2 1034h52v1h-52zM573.2 1045h52v1h-52zM573.2 1070h52v1h-52zM573.2 1106h52v1h-52zM573.2 1130h52v1h-52zM625.2 651h52v1h-52zM625.2 659h52v1h-52zM625.2 664h52v1h-52zM625.2 778h52v1h-52zM625.2 780h52v1h-52zM625.2 808h52v1h-52zM625.2 817h52v1h-52zM625.2 843h52v1h-52zM625.2 854h52v1h-52zM625.2 884h52v1h-52zM625.2 892h52v1h-52zM625.2 923h52v1h-52zM625.2 929h52v1h-52zM625.2 934h52v1h-52zM625.2 937h52v1h-52zM625.2 968h52v1h-52zM625.2 1023h52v1h-52zM625.2 1061h52v1h-52zM625.2 1159h52v1h-52z" fill="#FCD29C"/>
<path d="M209.2 819h52v1h-52zM209.2 828h52v1h-52zM209.2 867h52v1h-52zM209.2 1170h52v1h-52zM209.2 1239h52v1h-52zM365.2 1030h52v1h-52zM417.2 810h52v1h-52zM417.2 917h52v1h-52zM521.2 885h52v1h-52zM521.2 897h52v1h-52zM521.2 940h52v1h-52zM573.2 676h52v1h-52zM573.2 822h52v1h-52zM573.2 827h52v1h-52zM573.2 871h52v1h-52zM573.2 1040h52v1h-52zM625.2 768h52v1h-52zM625.2 795h52v1h-52zM625.2 1035h52v1h-52zM625.2 1103h52v1h-52z" fill="#F6CC9C"/>
<path d="M209.2 820h52v1h-52zM209.2 840h52v1h-52zM209.2 878h52v1h-52zM209.2 1083h52v1h-52zM209.2 1232h52v1h-52zM521.2 672h52v1h-52zM521.2 716h52v1h-52zM521.2 1096h52v1h-52zM573.2 702h52v1h-52zM573.2 712h52v1h-52zM573.2 725h52v1h-52zM573.2 760h52v1h-52zM573.2 1072h52v1h-52zM573.2 1139h52v1h-52zM573.2 1146h52v1h-52zM625.2 1054h52v1h-52z" fill="#EACCB4"/>
<path d="M209.2 821h52v1h-52zM209.2 965h52v1h-52zM209.2 998h52v1h-52zM209.2 1049h52v1h-52zM209.2 1229h52v1h-52zM469.2 1013h52v1h-52zM521.2 1021h52v1h-52zM573.2 1096h52v1h-52z" fill="#E4BA96"/>
<path d="M209.2 822h52v1h-52zM209.2 1156h52v1h-52zM313.2 634h52v1h-52zM313.2 765h52v1h-52zM313.2 783h52v1h-52zM365.2 816h52v1h-52zM365.2 869h52v1h-52zM521.2 660h52v1h-52zM521.2 1005h52v1h-52zM573.2 1013h52v1h-52zM625.2 1171h52v1h-52z" fill="#E4CCC0"/>
<path d="M209.2 823h52v1h-52zM209.2 964h52v1h-52zM209.2 1149h52v1h-52zM521.2 664h52v1h-52zM521.2 1068h52v1h-52zM573.2 1093h52v1h-52zM625.2 1031h52v1h-52z" fill="#E4C6B4"/>
<path d="M209.2 824h52v1h-52zM209.2 883h52v1h-52zM209.2 953h52v1h-52zM209.2 986h52v1h-52zM209.2 1013h52v1h-52zM313.2 695h52v1h-52zM313.2 705h52v1h-52zM521.2 674h52v1h-52zM521.2 705h52v1h-52zM521.2 768h52v1h-52zM521.2 1061h52v1h-52zM573.2 781h52v1h-52zM573.2 1051h52v1h-52zM573.2 1122h52v1h-52zM625.2 1057h52v1h-52zM625.2 1119h52v1h-52z" fill="#EACCAE"/>
<path d="M209.2 825h52v1h-52z" fill="#DECCBA"/>
<path d="M209.2 826h52v1h-52zM209.2 892h52v1h-52zM209.2 915h52v1h-52zM209.2 919h52v1h-52zM209.2 930h52v1h-52zM209.2 982h52v1h-52zM209.2 1043h52v1h-52zM209.2 1056h52v1h-52zM209.2 1059h52v1h-52zM209.2 1080h52v1h-52zM209.2 1095h52v1h-52zM209.2 1105h52v1h-52zM209.2 1111h52v1h-52zM209.2 1129h52v1h-52zM209.2 1132h52v1h-52zM209.2 1141h52v1h-52zM209.2 1145h52v1h-52zM209.2 1203h52v1h-52zM209.2 1210h52v1h-52zM209.2 1228h52v1h-52zM209.2 1247h52v1h-52zM261.2 785h52v1h-52zM261.2 794h52v1h-52zM261.2 1041h52v1h-52zM261.2 1147h52v1h-52zM261.2 1152h52v1h-52zM261.2 1198h52v1h-52zM313.2 923h52v1h-52zM313.2 1011h52v1h-52zM313.2 1021h52v1h-52zM313.2 1078h52v1h-52zM313.2 1109h52v1h-52zM313.2 1137h52v1h-52zM313.2 1197h52v1h-52zM365.2 661h52v1h-52zM365.2 675h52v1h-52zM365.2 689h52v1h-52zM365.2 692h52v1h-52zM365.2 694h52v1h-52zM365.2 719h52v1h-52zM365.2 741h52v1h-52zM365.2 749h52v1h-52zM365.2 751h52v1h-52zM365.2 781h52v1h-52zM365.2 796h52v1h-52zM365.2 798h52v1h-52zM365.2 805h52v2h-52zM365.2 910h52v1h-52zM365.2 917h52v1h-52zM365.2 1066h52v1h-52zM365.2 1101h52v1h-52zM365.2 1210h52v1h-52zM365.2 1242h52v1h-52zM417.2 764h52v1h-52zM417.2 774h52v1h-52zM417.2 790h52v1h-52zM417.2 802h52v2h-52zM417.2 826h52v1h-52zM417.2 831h52v1h-52zM417.2 844h52v1h-52zM417.2 1085h52v1h-52zM417.2 1087h52v1h-52zM417.2 1097h52v1h-52zM417.2 1101h52v1h-52zM417.2 1145h52v1h-52zM417.2 1164h52v1h-52zM417.2 1220h52v1h-52zM469.2 666h52v1h-52zM469.2 783h52v1h-52zM469.2 831h52v1h-52zM469.2 847h52v1h-52zM469.2 851h52v1h-52zM469.2 964h52v1h-52zM469.2 1226h52v1h-52zM521.2 845h52v1h-52zM521.2 1183h52v1h-52zM521.2 1199h52v1h-52zM573.2 645h52v1h-52zM573.2 683h52v1h-52zM573.2 721h52v1h-52zM573.2 754h52v1h-52zM573.2 810h52v3h-52zM573.2 821h52v1h-52zM573.2 941h52v1h-52zM573.2 961h52v1h-52zM573.2 986h52v1h-52zM573.2 994h52v1h-52zM573.2 1006h52v1h-52zM573.2 1060h52v1h-52zM573.2 1118h52v1h-52zM573.2 1128h52v1h-52zM625.2 633h52v1h-52zM625.2 657h52v1h-52zM625.2 662h52v1h-52zM625.2 710h52v1h-52zM625.2 741h52v1h-52zM625.2 753h52v1h-52zM625.2 805h52v1h-52zM625.2 814h52v1h-52zM625.2 829h52v1h-52zM625.2 835h52v1h-52zM625.2 867h52v1h-52zM625.2 883h52v1h-52zM625.2 917h52v1h-52zM625.2 924h52v1h-52zM625.2 942h52v2h-52zM625.2 965h52v1h-52zM625.2 967h52v1h-52zM625.2 969h52v1h-52zM625.2 994h52v1h-52zM625.2 1008h52v1h-52zM625.2 1010h52v1h-52zM625.2 1022h52v1h-52zM625.2 1077h52v1h-52z" fill="#FCCC90"/>
<path d="M209.2 827h52v1h-52zM209.2 1164h52v1h-52zM261.2 704h52v1h-52zM261.2 735h52v1h-52zM261.2 773h52v1h-52zM261.2 993h52v1h-52zM261.2 1007h52v1h-52zM261.2 1019h52v1h-52zM261.2 1061h52v2h-52zM261.2 1066h52v1h-52zM261.2 1075h52v1h-52zM261.2 1083h52v1h-52zM261.2 1093h52v1h-52zM261.2 1101h52v1h-52zM261.2 1108h52v1h-52zM261.2 1121h52v1h-52zM261.2 1137h52v1h-52zM261.2 1142h52v1h-52zM261.2 1159h52v1h-52zM261.2 1175h52v1h-52zM261.2 1213h52v1h-52zM261.2 1229h52v1h-52zM313.2 655h52v1h-52zM313.2 670h52v1h-52zM313.2 747h52v1h-52zM313.2 992h52v1h-52zM313.2 1045h52v2h-52zM313.2 1048h52v1h-52zM313.2 1050h52v1h-52zM313.2 1062h52v1h-52zM313.2 1067h52v1h-52zM313.2 1070h52v1h-52zM313.2 1072h52v1h-52zM313.2 1075h52v1h-52zM313.2 1110h52v1h-52zM313.2 1117h52v1h-52zM313.2 1124h52v1h-52zM313.2 1157h52v1h-52zM313.2 1192h52v1h-52zM313.2 1199h52v1h-52zM313.2 1204h52v1h-52zM313.2 1213h52v1h-52zM313.2 1236h52v1h-52zM365.2 624h52v1h-52zM365.2 631h52v1h-52zM365.2 633h52v1h-52zM365.2 638h52v2h-52zM365.2 642h52v1h-52zM365.2 652h52v2h-52zM365.2 674h52v1h-52zM365.2 685h52v1h-52zM365.2 764h52v1h-52zM365.2 772h52v1h-52zM365.2 854h52v1h-52zM365.2 1037h52v1h-52zM365.2 1046h52v1h-52zM365.2 1089h52v1h-52zM365.2 1096h52v1h-52zM365.2 1121h52v1h-52zM365.2 1127h52v1h-52zM365.2 1187h52v1h-52zM365.2 1191h52v1h-52zM365.2 1220h52v1h-52zM365.2 1232h52v1h-52zM365.2 1237h52v1h-52zM417.2 656h52v1h-52zM417.2 658h52v1h-52zM417.2 672h52v1h-52zM417.2 679h52v1h-52zM417.2 684h52v1h-52zM417.2 708h52v1h-52zM417.2 804h52v1h-52zM417.2 854h52v1h-52zM417.2 1046h52v1h-52zM417.2 1052h52v1h-52zM417.2 1071h52v1h-52zM417.2 1074h52v1h-52zM417.2 1106h52v1h-52zM417.2 1204h52v1h-52zM417.2 1211h52v1h-52zM417.2 1222h52v1h-52zM417.2 1235h52v1h-52zM417.2 1237h52v1h-52zM417.2 1246h52v1h-52zM469.2 643h52v1h-52zM469.2 656h52v1h-52zM469.2 668h52v1h-52zM469.2 708h52v1h-52zM469.2 717h52v1h-52zM469.2 880h52v1h-52zM469.2 918h52v1h-52zM469.2 1118h52v1h-52zM469.2 1159h52v2h-52zM469.2 1169h52v1h-52zM469.2 1196h52v1h-52zM469.2 1200h52v1h-52zM469.2 1216h52v1h-52zM469.2 1234h52v1h-52zM521.2 649h52v1h-52zM521.2 1157h52v1h-52zM521.2 1161h52v1h-52zM521.2 1188h52v1h-52zM521.2 1202h52v1h-52zM521.2 1235h52v2h-52zM573.2 720h52v1h-52zM573.2 751h52v1h-52zM573.2 1043h52v1h-52zM573.2 1235h52v1h-52zM625.2 626h52v1h-52zM625.2 848h52v1h-52zM625.2 1157h52v1h-52z" fill="#FCDEAE"/>
<path d="M209.2 829h52v1h-52zM313.2 696h52v1h-52zM313.2 702h52v1h-52zM313.2 803h52v1h-52zM313.2 974h52v1h-52zM521.2 777h52v1h-52zM521.2 886h52v1h-52z" fill="#DED8DE"/>
<path d="M209.2 831h52v1h-52zM261.2 939h52v1h-52zM521.2 781h52v1h-52zM625.2 1182h52v1h-52z" fill="#E4D8D2"/>
<path d="M209.2 832h52v1h-52zM209.2 843h52v1h-52zM209.2 847h52v1h-52zM209.2 861h52v1h-52zM209.2 866h52v1h-52zM209.2 880h52v1h-52zM209.2 897h52v1h-52zM209.2 933h52v2h-52zM209.2 972h52v1h-52zM209.2 999h52v1h-52zM209.2 1008h52v1h-52zM209.2 1032h52v1h-52zM209.2 1055h52v1h-52zM209.2 1081h52v2h-52zM209.2 1116h52v1h-52zM209.2 1127h52v1h-52zM209.2 1159h52v1h-52zM209.2 1190h52v1h-52zM209.2 1204h52v1h-52zM261.2 697h52v1h-52zM261.2 700h52v1h-52zM261.2 703h52v1h-52zM261.2 708h52v1h-52zM261.2 711h52v1h-52zM261.2 733h52v1h-52zM261.2 751h52v1h-52zM261.2 760h52v1h-52zM261.2 787h52v1h-52zM261.2 1008h52v1h-52zM261.2 1027h52v1h-52zM261.2 1029h52v1h-52zM261.2 1039h52v1h-52zM261.2 1046h52v2h-52zM261.2 1052h52v1h-52zM261.2 1064h52v1h-52zM261.2 1074h52v1h-52zM261.2 1102h52v1h-52zM261.2 1104h52v1h-52zM261.2 1132h52v1h-52zM261.2 1157h52v2h-52zM261.2 1164h52v1h-52zM261.2 1194h52v1h-52zM261.2 1199h52v1h-52zM261.2 1221h52v1h-52zM313.2 640h52v1h-52zM313.2 652h52v1h-52zM313.2 674h52v1h-52zM313.2 982h52v1h-52zM313.2 1018h52v1h-52zM313.2 1027h52v1h-52zM313.2 1041h52v1h-52zM313.2 1054h52v1h-52zM313.2 1065h52v1h-52zM313.2 1081h52v1h-52zM313.2 1083h52v1h-52zM313.2 1090h52v1h-52zM313.2 1093h52v1h-52zM313.2 1096h52v1h-52zM313.2 1098h52v1h-52zM313.2 1111h52v1h-52zM313.2 1143h52v1h-52zM313.2 1149h52v1h-52zM313.2 1155h52v2h-52zM313.2 1160h52v1h-52zM313.2 1193h52v1h-52zM313.2 1196h52v1h-52zM313.2 1206h52v1h-52zM313.2 1208h52v1h-52zM313.2 1235h52v1h-52zM313.2 1238h52v1h-52zM313.2 1246h52v1h-52zM365.2 628h52v1h-52zM365.2 636h52v1h-52zM365.2 657h52v1h-52zM365.2 684h52v1h-52zM365.2 688h52v1h-52zM365.2 690h52v1h-52zM365.2 700h52v1h-52zM365.2 710h52v1h-52zM365.2 712h52v1h-52zM365.2 721h52v2h-52zM365.2 739h52v1h-52zM365.2 788h52v1h-52zM365.2 804h52v1h-52zM365.2 849h52v1h-52zM365.2 856h52v1h-52zM365.2 881h52v2h-52zM365.2 1031h52v1h-52zM365.2 1043h52v1h-52zM365.2 1047h52v1h-52zM365.2 1051h52v1h-52zM365.2 1054h52v2h-52zM365.2 1061h52v1h-52zM365.2 1067h52v2h-52zM365.2 1099h52v1h-52zM365.2 1104h52v1h-52zM365.2 1125h52v1h-52zM365.2 1154h52v1h-52zM365.2 1160h52v1h-52zM365.2 1181h52v1h-52zM365.2 1201h52v1h-52zM365.2 1203h52v1h-52zM365.2 1219h52v1h-52zM365.2 1222h52v1h-52zM365.2 1226h52v1h-52zM365.2 1231h52v1h-52zM365.2 1238h52v1h-52zM365.2 1254h52v1h-52zM417.2 673h52v1h-52zM417.2 689h52v1h-52zM417.2 697h52v1h-52zM417.2 700h52v1h-52zM417.2 746h52v1h-52zM417.2 758h52v1h-52zM417.2 760h52v1h-52zM417.2 781h52v1h-52zM417.2 786h52v1h-52zM417.2 794h52v1h-52zM417.2 813h52v2h-52zM417.2 843h52v1h-52zM417.2 867h52v1h-52zM417.2 905h52v1h-52zM417.2 1049h52v1h-52zM417.2 1082h52v1h-52zM417.2 1088h52v1h-52zM417.2 1096h52v1h-52zM417.2 1100h52v1h-52zM417.2 1103h52v1h-52zM417.2 1136h52v1h-52zM417.2 1154h52v1h-52zM417.2 1158h52v1h-52zM417.2 1163h52v1h-52zM417.2 1176h52v1h-52zM417.2 1183h52v1h-52zM417.2 1199h52v1h-52zM417.2 1205h52v1h-52zM417.2 1216h52v3h-52zM417.2 1221h52v1h-52zM417.2 1227h52v1h-52zM417.2 1238h52v1h-52zM417.2 1245h52v1h-52zM469.2 626h52v1h-52zM469.2 639h52v1h-52zM469.2 660h52v1h-52zM469.2 663h52v1h-52zM469.2 669h52v1h-52zM469.2 701h52v1h-52zM469.2 704h52v1h-52zM469.2 718h52v1h-52zM469.2 723h52v1h-52zM469.2 736h52v1h-52zM469.2 748h52v1h-52zM469.2 758h52v1h-52zM469.2 776h52v1h-52zM469.2 785h52v2h-52zM469.2 789h52v1h-52zM469.2 795h52v1h-52zM469.2 812h52v1h-52zM469.2 838h52v1h-52zM469.2 859h52v1h-52zM469.2 865h52v1h-52zM469.2 872h52v1h-52zM469.2 891h52v1h-52zM469.2 906h52v1h-52zM469.2 919h52v1h-52zM469.2 941h52v1h-52zM469.2 967h52v1h-52zM469.2 978h52v1h-52zM469.2 1165h52v1h-52zM469.2 1171h52v1h-52zM469.2 1177h52v1h-52zM469.2 1184h52v2h-52zM469.2 1188h52v1h-52zM469.2 1197h52v1h-52zM469.2 1201h52v1h-52zM469.2 1206h52v1h-52zM469.2 1221h52v1h-52zM469.2 1225h52v1h-52zM469.2 1227h52v4h-52zM469.2 1235h52v1h-52zM521.2 633h52v1h-52zM521.2 700h52v1h-52zM521.2 842h52v1h-52zM521.2 872h52v2h-52zM521.2 925h52v1h-52zM521.2 938h52v1h-52zM521.2 980h52v1h-52zM521.2 1001h52v1h-52zM521.2 1010h52v1h-52zM521.2 1158h52v1h-52zM521.2 1176h52v1h-52zM521.2 1193h52v1h-52zM521.2 1200h52v1h-52zM521.2 1203h52v1h-52zM521.2 1215h52v2h-52zM521.2 1229h52v1h-52zM521.2 1234h52v1h-52zM521.2 1246h52v1h-52zM521.2 1248h52v1h-52zM521.2 1254h52v1h-52zM573.2 628h52v1h-52zM573.2 637h52v1h-52zM573.2 654h52v2h-52zM573.2 679h52v2h-52zM573.2 699h52v1h-52zM573.2 701h52v1h-52zM573.2 746h52v1h-52zM573.2 773h52v1h-52zM573.2 813h52v1h-52zM573.2 828h52v1h-52zM573.2 866h52v1h-52zM573.2 931h52v1h-52zM573.2 951h52v1h-52zM573.2 1054h52v1h-52zM573.2 1138h52v1h-52zM573.2 1225h52v1h-52zM573.2 1242h52v1h-52zM625.2 627h52v1h-52zM625.2 629h52v1h-52zM625.2 635h52v1h-52zM625.2 645h52v1h-52zM625.2 655h52v1h-52zM625.2 701h52v2h-52zM625.2 721h52v1h-52zM625.2 773h52v1h-52zM625.2 816h52v1h-52zM625.2 819h52v2h-52zM625.2 827h52v1h-52zM625.2 833h52v1h-52zM625.2 842h52v1h-52zM625.2 865h52v1h-52zM625.2 896h52v1h-52zM625.2 898h52v1h-52zM625.2 926h52v1h-52zM625.2 1024h52v1h-52zM625.2 1033h52v1h-52zM625.2 1096h52v1h-52z" fill="#FCD8A8"/>
<path d="M209.2 833h52v1h-52zM261.2 1063h52v1h-52zM313.2 665h52v1h-52zM313.2 683h52v1h-52zM365.2 823h52v1h-52zM365.2 888h52v1h-52zM365.2 1075h52v1h-52zM417.2 765h52v1h-52zM417.2 767h52v1h-52zM417.2 908h52v1h-52zM417.2 1132h52v1h-52zM469.2 761h52v1h-52zM469.2 862h52v1h-52zM469.2 968h52v1h-52zM469.2 976h52v1h-52zM521.2 678h52v1h-52zM521.2 688h52v1h-52zM521.2 717h52v1h-52zM521.2 749h52v1h-52zM521.2 754h52v1h-52zM521.2 831h52v1h-52zM573.2 1226h52v1h-52zM573.2 1229h52v1h-52zM625.2 751h52v1h-52zM625.2 915h52v1h-52z" fill="#F6E4C6"/>
<path d="M209.2 834h52v1h-52zM261.2 624h52v1h-52zM261.2 663h52v1h-52zM261.2 669h52v1h-52zM261.2 681h52v1h-52zM261.2 684h52v1h-52zM261.2 1036h52v1h-52zM261.2 1103h52v1h-52zM261.2 1105h52v1h-52zM261.2 1115h52v1h-52zM261.2 1156h52v1h-52zM261.2 1165h52v1h-52zM261.2 1176h52v1h-52zM261.2 1204h52v1h-52zM261.2 1228h52v1h-52zM261.2 1249h52v1h-52zM313.2 1008h52v1h-52zM313.2 1061h52v1h-52zM313.2 1076h52v1h-52zM313.2 1106h52v1h-52zM313.2 1114h52v1h-52zM313.2 1167h52v1h-52zM313.2 1183h52v1h-52zM313.2 1190h52v1h-52zM365.2 635h52v1h-52zM365.2 641h52v1h-52zM365.2 651h52v1h-52zM365.2 733h52v1h-52zM365.2 877h52v1h-52zM365.2 1048h52v1h-52zM365.2 1119h52v1h-52zM365.2 1175h52v1h-52zM417.2 719h52v1h-52zM417.2 864h52v1h-52zM417.2 1069h52v1h-52zM469.2 652h52v1h-52zM469.2 661h52v1h-52zM469.2 679h52v1h-52zM469.2 714h52v1h-52zM469.2 749h52v1h-52zM469.2 1157h52v1h-52zM469.2 1231h52v1h-52zM521.2 1201h52v1h-52zM573.2 666h52v1h-52zM625.2 638h52v1h-52z" fill="#FCE4BA"/>
<path d="M209.2 835h52v1h-52zM209.2 1152h52v1h-52zM261.2 625h52v2h-52zM261.2 636h52v1h-52zM261.2 645h52v1h-52zM261.2 656h52v2h-52zM261.2 662h52v1h-52zM261.2 667h52v1h-52zM261.2 686h52v5h-52zM261.2 695h52v1h-52zM261.2 723h52v1h-52zM261.2 728h52v1h-52zM261.2 762h52v1h-52zM261.2 770h52v1h-52zM261.2 788h52v1h-52zM261.2 896h52v1h-52zM261.2 997h52v1h-52zM261.2 1011h52v1h-52zM261.2 1020h52v1h-52zM261.2 1022h52v1h-52zM261.2 1035h52v1h-52zM261.2 1043h52v1h-52zM261.2 1049h52v2h-52zM261.2 1095h52v1h-52zM261.2 1111h52v1h-52zM261.2 1125h52v2h-52zM261.2 1131h52v1h-52zM261.2 1134h52v1h-52zM261.2 1154h52v1h-52zM261.2 1171h52v1h-52zM261.2 1180h52v2h-52zM261.2 1188h52v2h-52zM261.2 1191h52v2h-52zM261.2 1195h52v1h-52zM261.2 1202h52v1h-52zM261.2 1206h52v1h-52zM261.2 1220h52v1h-52zM261.2 1237h52v2h-52zM261.2 1251h52v1h-52zM261.2 1253h52v1h-52zM313.2 628h52v1h-52zM313.2 637h52v1h-52zM313.2 646h52v1h-52zM313.2 693h52v1h-52zM313.2 707h52v1h-52zM313.2 726h52v1h-52zM313.2 735h52v2h-52zM313.2 927h52v1h-52zM313.2 989h52v1h-52zM313.2 1015h52v1h-52zM313.2 1022h52v1h-52zM313.2 1026h52v1h-52zM313.2 1029h52v1h-52zM313.2 1040h52v1h-52zM313.2 1060h52v1h-52zM313.2 1071h52v1h-52zM313.2 1092h52v1h-52zM313.2 1101h52v1h-52zM313.2 1104h52v1h-52zM313.2 1118h52v1h-52zM313.2 1132h52v1h-52zM313.2 1165h52v2h-52zM313.2 1169h52v1h-52zM313.2 1173h52v2h-52zM313.2 1189h52v1h-52zM313.2 1202h52v1h-52zM313.2 1207h52v1h-52zM313.2 1218h52v2h-52zM313.2 1222h52v1h-52zM313.2 1225h52v1h-52zM313.2 1232h52v3h-52zM313.2 1241h52v1h-52zM313.2 1250h52v1h-52zM365.2 645h52v1h-52zM365.2 658h52v1h-52zM365.2 680h52v1h-52zM365.2 704h52v1h-52zM365.2 730h52v1h-52zM365.2 774h52v1h-52zM365.2 779h52v1h-52zM365.2 862h52v1h-52zM365.2 867h52v1h-52zM365.2 894h52v1h-52zM365.2 913h52v1h-52zM365.2 1021h52v1h-52zM365.2 1073h52v1h-52zM365.2 1103h52v1h-52zM365.2 1116h52v1h-52zM365.2 1170h52v2h-52zM365.2 1176h52v1h-52zM365.2 1195h52v1h-52zM365.2 1207h52v3h-52zM365.2 1227h52v2h-52zM365.2 1250h52v1h-52zM417.2 627h52v1h-52zM417.2 631h52v1h-52zM417.2 634h52v1h-52zM417.2 636h52v1h-52zM417.2 639h52v2h-52zM417.2 648h52v1h-52zM417.2 660h52v1h-52zM417.2 668h52v1h-52zM417.2 671h52v1h-52zM417.2 675h52v1h-52zM417.2 682h52v2h-52zM417.2 699h52v1h-52zM417.2 709h52v1h-52zM417.2 715h52v1h-52zM417.2 722h52v1h-52zM417.2 775h52v1h-52zM417.2 795h52v1h-52zM417.2 799h52v1h-52zM417.2 852h52v1h-52zM417.2 876h52v1h-52zM417.2 1036h52v1h-52zM417.2 1038h52v1h-52zM417.2 1044h52v1h-52zM417.2 1060h52v1h-52zM417.2 1075h52v1h-52zM417.2 1114h52v1h-52zM417.2 1127h52v1h-52zM417.2 1130h52v1h-52zM417.2 1135h52v1h-52zM417.2 1166h52v1h-52zM417.2 1215h52v1h-52zM417.2 1251h52v1h-52zM417.2 1255h52v1h-52zM469.2 631h52v1h-52zM469.2 634h52v2h-52zM469.2 640h52v1h-52zM469.2 650h52v1h-52zM469.2 655h52v1h-52zM469.2 667h52v1h-52zM469.2 670h52v1h-52zM469.2 672h52v2h-52zM469.2 677h52v1h-52zM469.2 707h52v1h-52zM469.2 710h52v1h-52zM469.2 712h52v2h-52zM469.2 722h52v1h-52zM469.2 733h52v1h-52zM469.2 735h52v1h-52zM469.2 766h52v2h-52zM469.2 784h52v1h-52zM469.2 819h52v1h-52zM469.2 869h52v1h-52zM469.2 874h52v1h-52zM469.2 883h52v1h-52zM469.2 923h52v1h-52zM469.2 1163h52v1h-52zM469.2 1172h52v1h-52zM469.2 1174h52v1h-52zM469.2 1180h52v2h-52zM469.2 1193h52v1h-52zM469.2 1202h52v2h-52zM469.2 1214h52v1h-52zM469.2 1219h52v1h-52zM469.2 1232h52v1h-52zM469.2 1236h52v1h-52zM469.2 1238h52v1h-52zM469.2 1241h52v1h-52zM469.2 1252h52v1h-52zM469.2 1255h52v1h-52zM521.2 657h52v1h-52zM521.2 663h52v1h-52zM521.2 665h52v1h-52zM521.2 667h52v1h-52zM521.2 670h52v1h-52zM521.2 693h52v1h-52zM521.2 699h52v1h-52zM521.2 747h52v1h-52zM521.2 771h52v1h-52zM521.2 795h52v1h-52zM521.2 803h52v1h-52zM521.2 821h52v1h-52zM521.2 835h52v1h-52zM521.2 851h52v2h-52zM521.2 877h52v1h-52zM521.2 903h52v1h-52zM521.2 1164h52v1h-52zM521.2 1166h52v1h-52zM521.2 1168h52v1h-52zM521.2 1178h52v1h-52zM521.2 1205h52v1h-52zM521.2 1207h52v1h-52zM521.2 1212h52v1h-52zM521.2 1238h52v1h-52zM521.2 1241h52v1h-52zM521.2 1245h52v1h-52zM573.2 630h52v1h-52zM573.2 638h52v1h-52zM573.2 658h52v1h-52zM573.2 691h52v1h-52zM573.2 1228h52v1h-52zM625.2 625h52v1h-52zM625.2 639h52v1h-52zM625.2 644h52v1h-52zM625.2 648h52v1h-52zM625.2 658h52v1h-52zM625.2 660h52v2h-52zM625.2 665h52v1h-52zM625.2 672h52v1h-52zM625.2 684h52v2h-52zM625.2 687h52v1h-52zM625.2 691h52v1h-52zM625.2 694h52v1h-52zM625.2 699h52v1h-52zM625.2 703h52v2h-52zM625.2 720h52v1h-52zM625.2 815h52v1h-52zM625.2 840h52v1h-52zM625.2 909h52v1h-52zM625.2 940h52v1h-52z" fill="#FCE4C6"/>
<path d="M209.2 836h52v1h-52zM313.2 698h52v1h-52zM313.2 742h52v1h-52zM365.2 841h52v1h-52zM469.2 1141h52v1h-52z" fill="#F0DED2"/>
<path d="M209.2 838h52v1h-52zM209.2 859h52v1h-52zM209.2 875h52v1h-52zM209.2 877h52v1h-52zM209.2 1157h52v1h-52zM261.2 983h52v1h-52zM313.2 672h52v1h-52zM313.2 745h52v1h-52zM313.2 930h52v1h-52zM417.2 731h52v1h-52zM469.2 933h52v1h-52zM521.2 647h52v1h-52zM521.2 910h52v1h-52zM521.2 972h52v1h-52zM573.2 841h52v1h-52zM573.2 896h52v1h-52zM625.2 764h52v1h-52zM625.2 879h52v1h-52zM625.2 1051h52v1h-52z" fill="#F6D8AE"/>
<path d="M209.2 842h52v1h-52zM313.2 729h52v1h-52zM313.2 752h52v1h-52zM313.2 944h52v1h-52zM313.2 952h52v1h-52zM521.2 741h52v1h-52zM521.2 743h52v1h-52zM521.2 844h52v1h-52zM573.2 1251h52v1h-52zM625.2 1075h52v1h-52z" fill="#EADED2"/>
<path d="M209.2 844h52v1h-52zM209.2 1140h52v1h-52zM313.2 627h52v1h-52zM313.2 688h52v1h-52zM313.2 691h52v1h-52zM365.2 824h52v1h-52zM521.2 691h52v1h-52zM521.2 727h52v1h-52zM573.2 755h52v1h-52zM573.2 1141h52v1h-52zM625.2 1012h52v1h-52zM625.2 1158h52v1h-52z" fill="#EAD2BA"/>
<path d="M209.2 845h52v1h-52zM209.2 862h52v1h-52zM209.2 888h52v1h-52zM209.2 947h52v1h-52zM209.2 984h52v1h-52zM209.2 1063h52v1h-52zM209.2 1133h52v1h-52zM209.2 1166h52v1h-52zM209.2 1173h52v1h-52zM209.2 1207h52v1h-52zM209.2 1235h52v1h-52zM261.2 701h52v1h-52zM261.2 705h52v1h-52zM261.2 743h52v1h-52zM261.2 800h52v1h-52zM261.2 991h52v1h-52zM261.2 1026h52v1h-52zM261.2 1078h52v1h-52zM261.2 1084h52v1h-52zM261.2 1136h52v1h-52zM261.2 1143h52v1h-52zM261.2 1145h52v1h-52zM261.2 1200h52v2h-52zM313.2 660h52v1h-52zM313.2 1007h52v1h-52zM313.2 1064h52v1h-52zM313.2 1080h52v1h-52zM313.2 1135h52v2h-52zM313.2 1220h52v1h-52zM313.2 1231h52v1h-52zM365.2 627h52v1h-52zM365.2 671h52v1h-52zM365.2 708h52v1h-52zM365.2 736h52v1h-52zM365.2 757h52v1h-52zM365.2 826h52v3h-52zM365.2 876h52v1h-52zM365.2 895h52v1h-52zM365.2 1083h52v1h-52zM365.2 1180h52v1h-52zM365.2 1190h52v1h-52zM417.2 732h52v1h-52zM417.2 739h52v1h-52zM417.2 770h52v1h-52zM417.2 792h52v1h-52zM417.2 881h52v1h-52zM417.2 1029h52v1h-52zM417.2 1076h52v1h-52zM417.2 1078h52v1h-52zM417.2 1086h52v1h-52zM417.2 1089h52v1h-52zM417.2 1139h52v1h-52zM417.2 1146h52v1h-52zM417.2 1152h52v1h-52zM417.2 1160h52v1h-52zM417.2 1185h52v1h-52zM417.2 1188h52v1h-52zM417.2 1192h52v1h-52zM417.2 1195h52v1h-52zM469.2 665h52v1h-52zM469.2 695h52v1h-52zM469.2 857h52v1h-52zM469.2 896h52v1h-52zM469.2 1194h52v1h-52zM469.2 1248h52v1h-52zM469.2 1254h52v1h-52zM521.2 814h52v1h-52zM521.2 817h52v1h-52zM521.2 862h52v1h-52zM521.2 1191h52v1h-52zM521.2 1230h52v1h-52zM521.2 1233h52v1h-52zM573.2 678h52v1h-52zM573.2 709h52v2h-52zM573.2 738h52v1h-52zM573.2 800h52v1h-52zM573.2 802h52v1h-52zM573.2 820h52v1h-52zM573.2 881h52v1h-52zM573.2 917h52v1h-52zM573.2 985h52v1h-52zM573.2 1026h52v1h-52zM573.2 1104h52v1h-52zM573.2 1123h52v1h-52zM625.2 679h52v1h-52zM625.2 726h52v1h-52zM625.2 744h52v1h-52zM625.2 792h52v1h-52zM625.2 818h52v1h-52zM625.2 863h52v1h-52zM625.2 873h52v1h-52zM625.2 897h52v1h-52zM625.2 939h52v1h-52zM625.2 988h52v1h-52zM625.2 993h52v1h-52zM625.2 1027h52v1h-52zM625.2 1036h52v1h-52z" fill="#FCD296"/>
<path d="M209.2 846h52v1h-52zM209.2 907h52v1h-52zM209.2 917h52v1h-52zM573.2 801h52v1h-52zM573.2 1062h52v1h-52z" fill="#E4B48A"/>
<path d="M209.2 849h52v1h-52zM209.2 910h52v1h-52zM209.2 922h52v1h-52zM209.2 925h52v1h-52zM209.2 983h52v1h-52zM209.2 1010h52v1h-52zM209.2 1058h52v1h-52zM209.2 1072h52v1h-52zM209.2 1088h52v1h-52zM209.2 1113h52v1h-52zM209.2 1165h52v1h-52zM209.2 1175h52v1h-52zM209.2 1179h52v1h-52zM209.2 1216h52v1h-52zM209.2 1237h52v1h-52zM209.2 1245h52v1h-52zM261.2 1069h52v1h-52zM261.2 1144h52v1h-52zM261.2 1155h52v1h-52zM313.2 1095h52v1h-52zM313.2 1221h52v1h-52zM365.2 686h52v1h-52zM365.2 699h52v1h-52zM365.2 726h52v1h-52zM365.2 740h52v1h-52zM365.2 750h52v1h-52zM365.2 768h52v1h-52zM365.2 840h52v1h-52zM365.2 1088h52v1h-52zM365.2 1098h52v1h-52zM365.2 1196h52v1h-52zM417.2 853h52v1h-52zM417.2 855h52v1h-52zM417.2 1143h52v1h-52zM417.2 1169h52v1h-52zM417.2 1172h52v1h-52zM417.2 1189h52v1h-52zM417.2 1224h52v1h-52zM469.2 823h52v1h-52zM521.2 807h52v1h-52zM521.2 830h52v1h-52zM521.2 855h52v1h-52zM573.2 657h52v1h-52zM573.2 823h52v1h-52zM573.2 879h52v1h-52zM573.2 959h52v1h-52zM573.2 980h52v1h-52zM573.2 997h52v1h-52zM573.2 1032h52v1h-52zM573.2 1063h52v1h-52zM573.2 1148h52v1h-52zM625.2 770h52v1h-52zM625.2 807h52v1h-52zM625.2 860h52v1h-52zM625.2 875h52v1h-52zM625.2 891h52v1h-52zM625.2 910h52v1h-52zM625.2 997h52v1h-52z" fill="#FCCC8A"/>
<path d="M209.2 850h52v1h-52zM573.2 882h52v1h-52z" fill="#EAAE6C"/>
<path d="M209.2 851h52v1h-52zM209.2 1036h52v1h-52zM209.2 1078h52v1h-52zM209.2 1094h52v1h-52zM209.2 1097h52v1h-52zM209.2 1148h52v1h-52zM261.2 702h52v1h-52zM261.2 736h52v1h-52zM261.2 783h52v1h-52zM261.2 996h52v1h-52zM261.2 1002h52v1h-52zM261.2 1070h52v1h-52zM261.2 1079h52v2h-52zM313.2 997h52v1h-52zM313.2 1034h52v1h-52zM313.2 1069h52v1h-52zM313.2 1086h52v1h-52zM313.2 1102h52v1h-52zM313.2 1134h52v1h-52zM365.2 670h52v1h-52zM365.2 747h52v1h-52zM365.2 765h52v1h-52zM365.2 777h52v1h-52zM365.2 793h52v1h-52zM365.2 835h52v1h-52zM365.2 1078h52v1h-52zM365.2 1093h52v1h-52zM365.2 1134h52v1h-52zM365.2 1153h52v1h-52zM417.2 693h52v1h-52zM417.2 696h52v1h-52zM417.2 729h52v1h-52zM417.2 733h52v1h-52zM417.2 750h52v2h-52zM417.2 821h52v1h-52zM417.2 834h52v1h-52zM417.2 860h52v1h-52zM417.2 907h52v1h-52zM417.2 1063h52v1h-52zM417.2 1151h52v1h-52zM417.2 1175h52v1h-52zM417.2 1187h52v1h-52zM417.2 1196h52v1h-52zM417.2 1203h52v1h-52zM469.2 702h52v1h-52zM469.2 793h52v1h-52zM469.2 875h52v1h-52zM469.2 909h52v1h-52zM469.2 966h52v1h-52zM469.2 1212h52v1h-52zM469.2 1233h52v1h-52zM521.2 696h52v1h-52zM521.2 865h52v1h-52zM521.2 868h52v1h-52zM521.2 905h52v1h-52zM521.2 923h52v1h-52zM521.2 971h52v1h-52zM521.2 976h52v1h-52zM521.2 1198h52v1h-52zM573.2 672h52v1h-52zM573.2 697h52v1h-52zM573.2 763h52v1h-52zM573.2 808h52v1h-52zM573.2 817h52v1h-52zM573.2 987h52v1h-52zM573.2 1084h52v1h-52zM573.2 1244h52v1h-52zM625.2 693h52v1h-52zM625.2 738h52v1h-52zM625.2 809h52v1h-52zM625.2 844h52v1h-52zM625.2 907h52v1h-52zM625.2 922h52v1h-52zM625.2 938h52v1h-52z" fill="#FCD2A2"/>
<path d="M209.2 852h52v1h-52zM573.2 996h52v1h-52zM573.2 1005h52v1h-52zM573.2 1067h52v1h-52zM573.2 1089h52v1h-52z" fill="#DEB496"/>
<path d="M209.2 853h52v1h-52zM209.2 989h52v1h-52zM625.2 1136h52v1h-52z" fill="#EABA8A"/>
<path d="M209.2 856h52v1h-52zM209.2 949h52v1h-52zM209.2 1009h52v1h-52zM209.2 1037h52v1h-52zM209.2 1044h52v1h-52zM209.2 1188h52v1h-52zM209.2 1191h52v1h-52zM209.2 1196h52v1h-52zM209.2 1250h52v2h-52zM261.2 802h52v1h-52zM261.2 1081h52v1h-52zM261.2 1146h52v1h-52zM313.2 1032h52v1h-52zM313.2 1052h52v1h-52zM313.2 1056h52v1h-52zM313.2 1085h52v1h-52zM313.2 1138h52v1h-52zM365.2 681h52v1h-52zM365.2 696h52v1h-52zM365.2 717h52v1h-52zM365.2 744h52v1h-52zM365.2 767h52v1h-52zM365.2 784h52v1h-52zM365.2 842h52v1h-52zM365.2 858h52v1h-52zM365.2 1034h52v1h-52zM365.2 1056h52v1h-52zM365.2 1131h52v1h-52zM365.2 1204h52v1h-52zM417.2 754h52v1h-52zM417.2 761h52v1h-52zM417.2 778h52v1h-52zM417.2 788h52v1h-52zM417.2 817h52v1h-52zM417.2 859h52v1h-52zM417.2 1055h52v1h-52zM417.2 1142h52v1h-52zM417.2 1194h52v1h-52zM417.2 1200h52v1h-52zM417.2 1247h52v1h-52zM469.2 764h52v1h-52zM469.2 781h52v1h-52zM469.2 852h52v1h-52zM469.2 858h52v1h-52zM573.2 685h52v1h-52zM573.2 888h52v1h-52zM573.2 942h52v1h-52zM573.2 968h52v1h-52zM573.2 1125h52v1h-52zM625.2 719h52v1h-52zM625.2 851h52v1h-52zM625.2 905h52v1h-52zM625.2 921h52v1h-52zM625.2 935h52v1h-52zM625.2 945h52v1h-52zM625.2 948h52v1h-52zM625.2 974h52v1h-52zM625.2 990h52v1h-52zM625.2 1011h52v1h-52zM625.2 1153h52v1h-52z" fill="#FCC684"/>
<path d="M209.2 857h52v1h-52zM209.2 1146h52v1h-52zM521.2 999h52v1h-52zM573.2 737h52v1h-52zM573.2 1110h52v1h-52z" fill="#E4BA90"/>
<path d="M209.2 858h52v1h-52zM209.2 900h52v1h-52zM209.2 928h52v1h-52zM209.2 1068h52v1h-52zM209.2 1118h52v1h-52zM209.2 1178h52v1h-52zM209.2 1231h52v1h-52zM209.2 1254h52v1h-52zM313.2 678h52v1h-52zM365.2 783h52v1h-52zM365.2 787h52v1h-52zM365.2 801h52v1h-52zM365.2 1063h52v1h-52zM365.2 1102h52v1h-52zM417.2 791h52v1h-52zM417.2 816h52v1h-52zM417.2 1104h52v1h-52zM469.2 763h52v1h-52zM469.2 782h52v1h-52zM521.2 818h52v1h-52zM521.2 930h52v1h-52zM573.2 867h52v1h-52zM573.2 946h52v1h-52zM625.2 823h52v1h-52zM625.2 837h52v1h-52z" fill="#FCC68A"/>
<path d="M209.2 863h52v1h-52zM209.2 935h52v1h-52zM209.2 993h52v1h-52zM209.2 1062h52v1h-52zM209.2 1214h52v1h-52zM365.2 745h52v1h-52zM365.2 1100h52v1h-52zM417.2 763h52v1h-52zM417.2 800h52v1h-52zM469.2 899h52v1h-52zM469.2 981h52v1h-52zM469.2 1006h52v1h-52zM521.2 661h52v1h-52zM521.2 974h52v1h-52zM573.2 840h52v1h-52zM573.2 852h52v1h-52zM573.2 913h52v1h-52zM625.2 914h52v1h-52zM625.2 1052h52v1h-52z" fill="#F6D2A2"/>
<path d="M209.2 864h52v1h-52zM261.2 724h52v1h-52zM261.2 765h52v1h-52zM261.2 789h52v1h-52zM261.2 907h52v1h-52zM261.2 919h52v1h-52zM261.2 925h52v1h-52zM313.2 626h52v1h-52zM313.2 641h52v1h-52zM313.2 645h52v1h-52zM313.2 666h52v1h-52zM313.2 677h52v1h-52zM313.2 733h52v1h-52zM313.2 948h52v1h-52zM365.2 732h52v1h-52zM365.2 815h52v1h-52zM365.2 868h52v1h-52zM365.2 902h52v1h-52zM365.2 998h52v1h-52zM417.2 812h52v1h-52zM417.2 884h52v1h-52zM417.2 909h52v1h-52zM417.2 914h52v1h-52zM469.2 676h52v1h-52zM469.2 808h52v1h-52zM469.2 897h52v1h-52zM469.2 911h52v1h-52zM469.2 949h52v1h-52zM521.2 668h52v1h-52zM521.2 721h52v1h-52zM521.2 763h52v1h-52zM521.2 790h52v1h-52zM521.2 809h52v1h-52zM521.2 822h52v1h-52zM521.2 828h52v1h-52zM521.2 878h52v1h-52zM573.2 648h52v1h-52zM573.2 1237h52v1h-52zM573.2 1245h52v1h-52zM625.2 689h52v1h-52zM625.2 711h52v2h-52zM625.2 758h52v1h-52zM625.2 766h52v1h-52zM625.2 774h52v1h-52zM625.2 941h52v1h-52z" fill="#F6E4CC"/>
<path d="M209.2 869h52v1h-52zM209.2 974h52v1h-52zM209.2 1070h52v1h-52zM209.2 1084h52v1h-52zM521.2 755h52v1h-52zM573.2 1136h52v1h-52zM625.2 1025h52v1h-52z" fill="#F0D2BA"/>
<path d="M209.2 870h52v1h-52zM521.2 1015h52v1h-52zM625.2 1013h52v1h-52z" fill="#D8C6C6"/>
<path d="M209.2 871h52v1h-52zM209.2 906h52v1h-52zM313.2 760h52v1h-52zM313.2 773h52v1h-52zM313.2 776h52v1h-52zM313.2 785h52v1h-52zM313.2 928h52v1h-52zM365.2 866h52v1h-52zM469.2 791h52v1h-52zM469.2 924h52v1h-52zM521.2 760h52v1h-52zM521.2 960h52v1h-52zM625.2 765h52v1h-52z" fill="#F0DEC6"/>
<path d="M209.2 873h52v1h-52zM313.2 704h52v1h-52zM313.2 722h52v1h-52zM313.2 768h52v1h-52zM365.2 844h52v1h-52zM469.2 1011h52v1h-52zM521.2 673h52v1h-52zM521.2 685h52v1h-52zM521.2 786h52v1h-52zM521.2 1007h52v1h-52zM521.2 1028h52v1h-52zM625.2 1116h52v1h-52zM625.2 1162h52v1h-52zM625.2 1190h52v1h-52z" fill="#EAD2C0"/>
<path d="M209.2 874h52v1h-52zM261.2 795h52v1h-52zM261.2 1048h52v1h-52zM313.2 631h52v1h-52zM313.2 919h52v1h-52zM313.2 1016h52v1h-52zM365.2 874h52v1h-52zM365.2 906h52v1h-52zM365.2 986h52v1h-52zM365.2 1108h52v1h-52zM365.2 1122h52v1h-52zM417.2 866h52v1h-52zM417.2 1059h52v1h-52zM417.2 1081h52v1h-52zM469.2 756h52v1h-52zM521.2 626h52v1h-52zM521.2 630h52v1h-52zM521.2 646h52v1h-52zM521.2 833h52v1h-52zM521.2 1253h52v1h-52zM573.2 745h52v1h-52zM573.2 886h52v1h-52zM625.2 728h52v1h-52zM625.2 802h52v1h-52zM625.2 899h52v1h-52z" fill="#FCDEC0"/>
<path d="M209.2 876h52v1h-52zM209.2 952h52v1h-52zM209.2 1065h52v1h-52zM209.2 1220h52v1h-52zM365.2 718h52v1h-52zM521.2 934h52v1h-52zM625.2 826h52v1h-52zM625.2 978h52v1h-52zM625.2 980h52v1h-52z" fill="#F6BA6C"/>
<path d="M209.2 881h52v1h-52zM209.2 1182h52v1h-52zM261.2 627h52v3h-52zM261.2 633h52v1h-52zM261.2 637h52v1h-52zM261.2 650h52v1h-52zM261.2 652h52v1h-52zM261.2 660h52v1h-52zM261.2 664h52v3h-52zM261.2 668h52v1h-52zM261.2 670h52v1h-52zM261.2 672h52v1h-52zM261.2 683h52v1h-52zM261.2 713h52v1h-52zM261.2 727h52v1h-52zM261.2 748h52v1h-52zM261.2 758h52v1h-52zM261.2 768h52v1h-52zM261.2 775h52v1h-52zM261.2 805h52v1h-52zM261.2 928h52v1h-52zM261.2 982h52v1h-52zM261.2 985h52v1h-52zM261.2 1001h52v1h-52zM261.2 1009h52v1h-52zM261.2 1033h52v1h-52zM261.2 1038h52v1h-52zM261.2 1054h52v1h-52zM261.2 1056h52v2h-52zM261.2 1067h52v1h-52zM261.2 1087h52v1h-52zM261.2 1089h52v1h-52zM261.2 1092h52v1h-52zM261.2 1094h52v1h-52zM261.2 1114h52v1h-52zM261.2 1117h52v3h-52zM261.2 1127h52v2h-52zM261.2 1163h52v1h-52zM261.2 1169h52v2h-52zM261.2 1174h52v1h-52zM261.2 1187h52v1h-52zM261.2 1193h52v1h-52zM261.2 1196h52v1h-52zM261.2 1207h52v1h-52zM261.2 1217h52v1h-52zM261.2 1224h52v1h-52zM261.2 1227h52v1h-52zM261.2 1230h52v2h-52zM261.2 1233h52v2h-52zM261.2 1240h52v3h-52zM261.2 1247h52v1h-52zM261.2 1250h52v1h-52zM261.2 1252h52v1h-52zM313.2 638h52v1h-52zM313.2 650h52v1h-52zM313.2 653h52v1h-52zM313.2 663h52v1h-52zM313.2 687h52v1h-52zM313.2 725h52v1h-52zM313.2 741h52v1h-52zM313.2 988h52v1h-52zM313.2 995h52v1h-52zM313.2 1001h52v1h-52zM313.2 1003h52v2h-52zM313.2 1030h52v1h-52zM313.2 1042h52v1h-52zM313.2 1058h52v1h-52zM313.2 1074h52v1h-52zM313.2 1089h52v1h-52zM313.2 1105h52v1h-52zM313.2 1115h52v2h-52zM313.2 1120h52v1h-52zM313.2 1123h52v1h-52zM313.2 1131h52v1h-52zM313.2 1141h52v1h-52zM313.2 1144h52v1h-52zM313.2 1148h52v1h-52zM313.2 1152h52v1h-52zM313.2 1168h52v1h-52zM313.2 1171h52v2h-52zM313.2 1177h52v3h-52zM313.2 1185h52v1h-52zM313.2 1187h52v2h-52zM313.2 1194h52v1h-52zM313.2 1201h52v1h-52zM313.2 1209h52v1h-52zM313.2 1215h52v2h-52zM313.2 1242h52v1h-52zM313.2 1249h52v1h-52zM313.2 1251h52v1h-52zM365.2 629h52v1h-52zM365.2 632h52v1h-52zM365.2 650h52v1h-52zM365.2 660h52v1h-52zM365.2 665h52v1h-52zM365.2 668h52v1h-52zM365.2 738h52v1h-52zM365.2 753h52v1h-52zM365.2 763h52v1h-52zM365.2 803h52v1h-52zM365.2 818h52v1h-52zM365.2 834h52v1h-52zM365.2 845h52v1h-52zM365.2 989h52v1h-52zM365.2 1033h52v1h-52zM365.2 1039h52v1h-52zM365.2 1049h52v2h-52zM365.2 1079h52v1h-52zM365.2 1095h52v1h-52zM365.2 1112h52v1h-52zM365.2 1118h52v1h-52zM365.2 1126h52v1h-52zM365.2 1136h52v1h-52zM365.2 1140h52v1h-52zM365.2 1142h52v1h-52zM365.2 1148h52v1h-52zM365.2 1158h52v1h-52zM365.2 1163h52v1h-52zM365.2 1169h52v1h-52zM365.2 1198h52v1h-52zM365.2 1214h52v2h-52zM365.2 1235h52v1h-52zM365.2 1239h52v1h-52zM365.2 1243h52v1h-52zM417.2 630h52v1h-52zM417.2 635h52v1h-52zM417.2 642h52v1h-52zM417.2 657h52v1h-52zM417.2 663h52v1h-52zM417.2 665h52v2h-52zM417.2 676h52v2h-52zM417.2 695h52v1h-52zM417.2 711h52v1h-52zM417.2 720h52v2h-52zM417.2 726h52v1h-52zM417.2 728h52v1h-52zM417.2 742h52v1h-52zM417.2 744h52v1h-52zM417.2 753h52v1h-52zM417.2 828h52v1h-52zM417.2 869h52v1h-52zM417.2 871h52v1h-52zM417.2 874h52v1h-52zM417.2 897h52v1h-52zM417.2 900h52v1h-52zM417.2 1031h52v1h-52zM417.2 1043h52v1h-52zM417.2 1047h52v1h-52zM417.2 1068h52v1h-52zM417.2 1090h52v1h-52zM417.2 1105h52v1h-52zM417.2 1125h52v1h-52zM417.2 1137h52v1h-52zM417.2 1141h52v1h-52zM417.2 1181h52v2h-52zM417.2 1209h52v1h-52zM417.2 1244h52v1h-52zM417.2 1249h52v1h-52zM469.2 641h52v1h-52zM469.2 644h52v1h-52zM469.2 657h52v2h-52zM469.2 685h52v1h-52zM469.2 693h52v1h-52zM469.2 703h52v1h-52zM469.2 719h52v1h-52zM469.2 765h52v1h-52zM469.2 821h52v1h-52zM469.2 871h52v1h-52zM469.2 898h52v1h-52zM469.2 939h52v1h-52zM469.2 948h52v1h-52zM469.2 975h52v1h-52zM469.2 1151h52v1h-52zM469.2 1161h52v1h-52zM469.2 1168h52v1h-52zM469.2 1170h52v1h-52zM469.2 1179h52v1h-52zM469.2 1195h52v1h-52zM469.2 1199h52v1h-52zM469.2 1205h52v1h-52zM469.2 1211h52v1h-52zM469.2 1244h52v1h-52zM469.2 1249h52v1h-52zM469.2 1251h52v1h-52zM469.2 1253h52v1h-52zM521.2 631h52v1h-52zM521.2 687h52v1h-52zM521.2 756h52v1h-52zM521.2 812h52v1h-52zM521.2 848h52v1h-52zM521.2 1167h52v1h-52zM521.2 1170h52v2h-52zM521.2 1175h52v1h-52zM521.2 1181h52v2h-52zM521.2 1186h52v1h-52zM521.2 1189h52v1h-52zM521.2 1206h52v1h-52zM521.2 1220h52v1h-52zM521.2 1225h52v1h-52zM521.2 1227h52v1h-52zM521.2 1243h52v1h-52zM521.2 1249h52v2h-52zM573.2 629h52v1h-52zM573.2 641h52v1h-52zM573.2 650h52v1h-52zM573.2 653h52v1h-52zM573.2 687h52v1h-52zM573.2 816h52v1h-52zM573.2 818h52v1h-52zM573.2 967h52v1h-52zM573.2 1214h52v1h-52zM625.2 634h52v1h-52zM625.2 677h52v1h-52zM625.2 698h52v1h-52zM625.2 746h52v1h-52zM625.2 908h52v1h-52zM625.2 1161h52v1h-52z" fill="#FCE4C0"/>
<path d="M209.2 882h52v1h-52zM209.2 978h52v1h-52zM209.2 1074h52v1h-52zM209.2 1114h52v1h-52zM209.2 1183h52v1h-52zM573.2 775h52v1h-52zM573.2 1064h52v1h-52zM625.2 1121h52v1h-52z" fill="#E4C6A8"/>
<path d="M209.2 884h52v1h-52z" fill="#F0B478"/>
<path d="M209.2 885h52v1h-52zM521.2 1059h52v1h-52zM521.2 1113h52v1h-52zM573.2 1150h52v1h-52z" fill="#D8BAAE"/>
<path d="M209.2 886h52v1h-52zM209.2 924h52v1h-52zM209.2 1004h52v1h-52zM209.2 1051h52v1h-52zM209.2 1067h52v1h-52zM209.2 1106h52v1h-52zM209.2 1139h52v1h-52zM209.2 1187h52v1h-52zM365.2 848h52v1h-52zM365.2 880h52v1h-52zM521.2 952h52v1h-52zM521.2 994h52v1h-52zM573.2 748h52v1h-52zM573.2 1008h52v1h-52zM573.2 1058h52v1h-52zM625.2 1018h52v1h-52zM625.2 1196h52v1h-52z" fill="#F0CCA8"/>
<path d="M209.2 887h52v1h-52zM209.2 981h52v1h-52zM209.2 1020h52v1h-52zM209.2 1161h52v1h-52zM573.2 1068h52v1h-52z" fill="#EAB47E"/>
<path d="M209.2 889h52v1h-52zM209.2 958h52v1h-52zM209.2 1041h52v1h-52zM209.2 1219h52v1h-52zM209.2 1243h52v1h-52zM469.2 938h52v1h-52zM521.2 849h52v1h-52zM521.2 945h52v1h-52zM521.2 951h52v1h-52zM573.2 809h52v1h-52zM573.2 857h52v1h-52zM573.2 927h52v1h-52zM573.2 976h52v1h-52zM573.2 1001h52v1h-52zM573.2 1076h52v1h-52zM625.2 727h52v1h-52zM625.2 972h52v1h-52zM625.2 979h52v1h-52z" fill="#F6BA72"/>
<path d="M209.2 890h52v1h-52zM573.2 1115h52v1h-52z" fill="#D8A88A"/>
<path d="M209.2 893h52v1h-52zM209.2 899h52v1h-52zM209.2 1016h52v1h-52zM573.2 1015h52v1h-52zM573.2 1116h52v1h-52z" fill="#F0BA84"/>
<path d="M209.2 894h52v1h-52zM521.2 989h52v1h-52zM521.2 1083h52v1h-52zM573.2 791h52v1h-52zM573.2 1004h52v1h-52zM625.2 984h52v1h-52zM625.2 1138h52v1h-52z" fill="#E4C0A2"/>
<path d="M209.2 895h52v1h-52zM313.2 685h52v1h-52zM313.2 970h52v1h-52zM365.2 852h52v1h-52zM365.2 871h52v1h-52zM365.2 883h52v1h-52zM365.2 995h52v2h-52zM365.2 1057h52v1h-52zM365.2 1115h52v1h-52zM365.2 1189h52v1h-52zM417.2 801h52v1h-52zM417.2 857h52v1h-52zM417.2 862h52v1h-52zM469.2 828h52v1h-52zM469.2 895h52v1h-52zM469.2 974h52v1h-52zM521.2 736h52v1h-52zM521.2 780h52v1h-52zM521.2 824h52v1h-52zM521.2 899h52v1h-52zM521.2 937h52v1h-52zM573.2 635h52v1h-52zM573.2 766h52v1h-52zM573.2 868h52v1h-52zM573.2 1255h52v1h-52zM625.2 789h52v1h-52zM625.2 794h52v1h-52zM625.2 866h52v1h-52z" fill="#F6DEBA"/>
<path d="M209.2 896h52v1h-52zM209.2 1057h52v1h-52zM209.2 1160h52v1h-52zM313.2 804h52v1h-52zM365.2 889h52v1h-52zM469.2 815h52v1h-52zM521.2 915h52v1h-52zM625.2 740h52v1h-52zM625.2 912h52v1h-52zM625.2 999h52v1h-52z" fill="#F0CC9C"/>
<path d="M209.2 898h52v1h-52zM365.2 792h52v1h-52zM521.2 1009h52v1h-52zM625.2 975h52v1h-52z" fill="#F6C072"/>
<path d="M209.2 901h52v1h-52zM209.2 990h52v1h-52zM209.2 1029h52v1h-52zM209.2 1112h52v1h-52zM209.2 1201h52v1h-52zM313.2 715h52v1h-52zM365.2 794h52v1h-52zM469.2 817h52v1h-52zM469.2 876h52v1h-52zM521.2 662h52v1h-52zM521.2 823h52v1h-52zM521.2 906h52v1h-52zM521.2 919h52v1h-52zM521.2 932h52v1h-52zM573.2 728h52v1h-52zM573.2 782h52v1h-52zM573.2 906h52v1h-52zM625.2 771h52v1h-52zM625.2 847h52v1h-52z" fill="#F6D2A8"/>
<path d="M209.2 903h52v1h-52zM209.2 1026h52v1h-52zM209.2 1069h52v1h-52zM469.2 958h52v1h-52zM521.2 742h52v1h-52zM573.2 689h52v1h-52zM573.2 733h52v1h-52zM573.2 792h52v1h-52zM573.2 1009h52v1h-52zM573.2 1140h52v1h-52zM625.2 992h52v1h-52zM625.2 1000h52v1h-52zM625.2 1063h52v1h-52z" fill="#F0D2AE"/>
<path d="M209.2 904h52v1h-52zM365.2 786h52v1h-52zM365.2 802h52v1h-52zM417.2 863h52v1h-52zM573.2 856h52v1h-52zM573.2 973h52v1h-52zM573.2 978h52v1h-52zM573.2 1066h52v1h-52zM625.2 735h52v1h-52zM625.2 949h52v1h-52z" fill="#FCC07E"/>
<path d="M209.2 908h52v1h-52zM209.2 951h52v1h-52zM209.2 994h52v1h-52zM209.2 1002h52v1h-52zM209.2 1024h52v1h-52zM209.2 1030h52v1h-52zM209.2 1249h52v1h-52zM521.2 924h52v1h-52zM521.2 931h52v1h-52zM573.2 804h52v1h-52zM573.2 880h52v1h-52zM573.2 995h52v1h-52zM573.2 1108h52v1h-52zM625.2 887h52v1h-52zM625.2 951h52v1h-52zM625.2 1016h52v1h-52z" fill="#F0C696"/>
<path d="M209.2 909h52v1h-52zM209.2 971h52v1h-52zM209.2 1138h52v1h-52zM209.2 1198h52v1h-52zM521.2 992h52v1h-52zM521.2 1013h52v1h-52zM573.2 803h52v1h-52zM573.2 1029h52v1h-52zM573.2 1035h52v1h-52zM625.2 1100h52v1h-52zM625.2 1107h52v1h-52z" fill="#F0C69C"/>
<path d="M209.2 911h52v1h-52zM313.2 648h52v1h-52zM573.2 743h52v1h-52zM573.2 1080h52v1h-52zM625.2 690h52v1h-52z" fill="#FCD2A8"/>
<path d="M209.2 912h52v1h-52zM209.2 940h52v1h-52zM209.2 1034h52v1h-52zM209.2 1042h52v1h-52zM209.2 1050h52v1h-52zM209.2 1071h52v1h-52zM209.2 1079h52v1h-52zM209.2 1086h52v1h-52zM209.2 1168h52v1h-52zM209.2 1199h52v1h-52zM261.2 761h52v1h-52zM261.2 776h52v1h-52zM261.2 798h52v1h-52zM261.2 1005h52v1h-52zM261.2 1028h52v1h-52zM261.2 1037h52v1h-52zM261.2 1044h52v1h-52zM261.2 1060h52v1h-52zM261.2 1071h52v1h-52zM261.2 1073h52v1h-52zM261.2 1076h52v1h-52zM261.2 1099h52v1h-52zM261.2 1123h52v1h-52zM261.2 1138h52v1h-52zM261.2 1140h52v1h-52zM261.2 1149h52v1h-52zM261.2 1153h52v1h-52zM261.2 1173h52v1h-52zM261.2 1183h52v1h-52zM261.2 1197h52v1h-52zM261.2 1214h52v1h-52zM261.2 1225h52v1h-52zM261.2 1239h52v1h-52zM313.2 662h52v1h-52zM313.2 673h52v1h-52zM313.2 772h52v1h-52zM313.2 951h52v1h-52zM313.2 985h52v1h-52zM313.2 1012h52v1h-52zM313.2 1057h52v1h-52zM313.2 1079h52v1h-52zM313.2 1082h52v1h-52zM313.2 1108h52v1h-52zM313.2 1112h52v1h-52zM313.2 1127h52v1h-52zM313.2 1133h52v1h-52zM313.2 1162h52v1h-52zM313.2 1184h52v1h-52zM313.2 1195h52v1h-52zM365.2 643h52v1h-52zM365.2 664h52v1h-52zM365.2 667h52v1h-52zM365.2 677h52v1h-52zM365.2 679h52v1h-52zM365.2 769h52v1h-52zM365.2 799h52v1h-52zM365.2 863h52v1h-52zM365.2 884h52v1h-52zM365.2 887h52v1h-52zM365.2 1029h52v1h-52zM365.2 1038h52v1h-52zM365.2 1060h52v1h-52zM365.2 1062h52v1h-52zM365.2 1107h52v1h-52zM365.2 1109h52v1h-52zM365.2 1111h52v1h-52zM365.2 1159h52v1h-52zM365.2 1174h52v1h-52zM365.2 1192h52v1h-52zM417.2 649h52v1h-52zM417.2 655h52v1h-52zM417.2 674h52v1h-52zM417.2 707h52v1h-52zM417.2 768h52v1h-52zM417.2 779h52v2h-52zM417.2 785h52v1h-52zM417.2 797h52v1h-52zM417.2 805h52v2h-52zM417.2 818h52v1h-52zM417.2 847h52v1h-52zM417.2 849h52v1h-52zM417.2 856h52v1h-52zM417.2 872h52v2h-52zM417.2 896h52v1h-52zM417.2 899h52v1h-52zM417.2 1037h52v1h-52zM417.2 1066h52v1h-52zM417.2 1070h52v1h-52zM417.2 1073h52v1h-52zM417.2 1079h52v1h-52zM417.2 1095h52v1h-52zM417.2 1108h52v1h-52zM417.2 1179h52v1h-52zM417.2 1202h52v1h-52zM417.2 1223h52v1h-52zM417.2 1232h52v1h-52zM417.2 1240h52v1h-52zM417.2 1243h52v1h-52zM469.2 625h52v1h-52zM469.2 636h52v1h-52zM469.2 692h52v1h-52zM469.2 716h52v1h-52zM469.2 726h52v1h-52zM469.2 743h52v1h-52zM469.2 745h52v1h-52zM469.2 751h52v1h-52zM469.2 807h52v1h-52zM469.2 840h52v1h-52zM469.2 842h52v1h-52zM469.2 860h52v1h-52zM469.2 864h52v1h-52zM469.2 867h52v1h-52zM469.2 928h52v1h-52zM469.2 937h52v1h-52zM469.2 954h52v1h-52zM469.2 979h52v1h-52zM469.2 1156h52v1h-52zM469.2 1187h52v1h-52zM521.2 629h52v1h-52zM521.2 636h52v1h-52zM521.2 653h52v1h-52zM521.2 690h52v1h-52zM521.2 719h52v1h-52zM521.2 808h52v1h-52zM521.2 854h52v1h-52zM521.2 858h52v1h-52zM521.2 867h52v1h-52zM521.2 874h52v1h-52zM521.2 922h52v1h-52zM521.2 927h52v1h-52zM521.2 929h52v1h-52zM521.2 954h52v1h-52zM521.2 1160h52v1h-52zM521.2 1173h52v1h-52zM521.2 1197h52v1h-52zM573.2 631h52v1h-52zM573.2 633h52v1h-52zM573.2 649h52v1h-52zM573.2 652h52v1h-52zM573.2 664h52v1h-52zM573.2 667h52v2h-52zM573.2 670h52v1h-52zM573.2 684h52v1h-52zM573.2 723h52v1h-52zM573.2 730h52v1h-52zM573.2 768h52v1h-52zM573.2 788h52v1h-52zM573.2 864h52v1h-52zM573.2 876h52v1h-52zM573.2 890h52v1h-52zM573.2 907h52v1h-52zM573.2 909h52v1h-52zM573.2 924h52v1h-52zM573.2 1011h52v1h-52zM573.2 1041h52v1h-52zM625.2 676h52v1h-52zM625.2 696h52v1h-52zM625.2 716h52v1h-52zM625.2 759h52v1h-52zM625.2 846h52v1h-52zM625.2 859h52v1h-52zM625.2 871h52v1h-52zM625.2 901h52v1h-52z" fill="#FCD8AE"/>
<path d="M209.2 913h52v1h-52zM209.2 991h52v1h-52zM209.2 1017h52v1h-52zM209.2 1052h52v1h-52zM209.2 1099h52v1h-52zM209.2 1123h52v1h-52zM209.2 1125h52v1h-52zM209.2 1212h52v1h-52zM209.2 1236h52v1h-52zM261.2 1085h52v1h-52zM365.2 673h52v1h-52zM365.2 687h52v1h-52zM365.2 743h52v1h-52zM365.2 847h52v1h-52zM365.2 911h52v1h-52zM365.2 1035h52v1h-52zM365.2 1183h52v1h-52zM365.2 1193h52v1h-52zM365.2 1211h52v1h-52zM417.2 730h52v1h-52zM417.2 762h52v1h-52zM417.2 858h52v1h-52zM417.2 1057h52v1h-52zM417.2 1148h52v1h-52zM469.2 849h52v1h-52zM521.2 819h52v1h-52zM521.2 838h52v1h-52zM521.2 935h52v1h-52zM573.2 789h52v1h-52zM573.2 956h52v1h-52zM573.2 1038h52v1h-52zM625.2 652h52v1h-52zM625.2 654h52v1h-52zM625.2 931h52v1h-52zM625.2 947h52v1h-52zM625.2 1083h52v1h-52z" fill="#FCC67E"/>
<path d="M209.2 914h52v1h-52z" fill="#F0AE54"/>
<path d="M209.2 916h52v1h-52zM209.2 954h52v1h-52zM209.2 966h52v1h-52zM209.2 1108h52v1h-52zM209.2 1119h52v1h-52zM209.2 1134h52v1h-52zM209.2 1189h52v1h-52zM209.2 1205h52v2h-52zM209.2 1246h52v1h-52zM261.2 1003h52v1h-52zM313.2 1035h52v1h-52zM365.2 678h52v1h-52zM365.2 713h52v1h-52zM365.2 1058h52v2h-52zM417.2 737h52v1h-52zM417.2 877h52v1h-52zM417.2 880h52v1h-52zM417.2 882h52v1h-52zM417.2 902h52v1h-52zM417.2 1208h52v1h-52zM469.2 845h52v1h-52zM469.2 878h52v1h-52zM469.2 882h52v1h-52zM469.2 969h52v1h-52zM521.2 846h52v1h-52zM573.2 663h52v1h-52zM573.2 776h52v1h-52zM573.2 805h52v1h-52zM573.2 862h52v1h-52zM573.2 869h52v1h-52zM573.2 873h52v1h-52zM573.2 891h52v1h-52zM573.2 962h52v1h-52zM625.2 752h52v1h-52zM625.2 821h52v1h-52zM625.2 834h52v1h-52zM625.2 868h52v1h-52zM625.2 876h52v1h-52zM625.2 888h52v1h-52zM625.2 971h52v1h-52z" fill="#FCCC96"/>
<path d="M209.2 918h52v1h-52zM209.2 923h52v1h-52z" fill="#EABA90"/>
<path d="M209.2 920h52v1h-52zM209.2 943h52v1h-52zM417.2 845h52v1h-52zM469.2 861h52v1h-52zM521.2 820h52v1h-52zM573.2 843h52v1h-52zM573.2 887h52v1h-52zM573.2 932h52v1h-52zM573.2 938h52v1h-52zM573.2 969h52v1h-52zM625.2 806h52v1h-52zM625.2 950h52v1h-52zM625.2 956h52v1h-52zM625.2 961h52v2h-52z" fill="#F6B460"/>
<path d="M209.2 921h52v1h-52z" fill="#FCBA66"/>
<path d="M209.2 926h52v1h-52zM209.2 961h52v1h-52zM209.2 1103h52v1h-52zM209.2 1221h52v1h-52zM365.2 697h52v1h-52zM365.2 748h52v1h-52zM417.2 903h52v1h-52zM573.2 908h52v1h-52zM625.2 870h52v1h-52zM625.2 872h52v1h-52zM625.2 963h52v1h-52z" fill="#FCBA6C"/>
<path d="M209.2 927h52v1h-52zM209.2 980h52v1h-52zM209.2 996h52v1h-52zM209.2 1061h52v1h-52zM209.2 1064h52v1h-52zM209.2 1136h52v1h-52zM209.2 1224h52v1h-52zM573.2 711h52v1h-52zM573.2 824h52v1h-52zM573.2 1053h52v1h-52zM573.2 1083h52v1h-52zM573.2 1134h52v1h-52zM573.2 1149h52v1h-52zM625.2 1003h52v1h-52zM625.2 1026h52v1h-52z" fill="#EAC096"/>
<path d="M209.2 929h52v1h-52zM209.2 988h52v1h-52zM521.2 671h52v1h-52z" fill="#E4AE7E"/>
<path d="M209.2 932h52v1h-52z" fill="#DEC0A2"/>
<path d="M209.2 936h52v1h-52zM209.2 1142h52v1h-52zM521.2 1089h52v1h-52zM625.2 1006h52v1h-52zM625.2 1091h52v1h-52z" fill="#DEBA9C"/>
<path d="M209.2 937h52v1h-52zM417.2 829h52v1h-52zM417.2 850h52v1h-52zM573.2 848h52v1h-52zM573.2 966h52v1h-52z" fill="#F6B46C"/>
<path d="M209.2 938h52v1h-52zM209.2 1202h52v1h-52zM521.2 1097h52v1h-52zM573.2 688h52v1h-52zM573.2 717h52v1h-52zM625.2 788h52v1h-52zM625.2 1007h52v1h-52zM625.2 1080h52v1h-52zM625.2 1095h52v1h-52z" fill="#EAC6A2"/>
<path d="M209.2 939h52v1h-52zM209.2 1019h52v1h-52zM209.2 1047h52v1h-52zM209.2 1252h52v1h-52zM521.2 997h52v1h-52zM573.2 1117h52v1h-52z" fill="#EAC090"/>
<path d="M209.2 941h52v1h-52zM209.2 945h52v1h-52zM209.2 959h52v1h-52zM209.2 1001h52v1h-52zM209.2 1076h52v1h-52zM209.2 1241h52v1h-52zM365.2 782h52v1h-52zM469.2 879h52v1h-52zM521.2 816h52v1h-52zM521.2 962h52v1h-52zM573.2 626h52v1h-52zM573.2 861h52v1h-52zM573.2 982h52v1h-52zM573.2 1007h52v1h-52zM573.2 1021h52v1h-52zM573.2 1024h52v1h-52zM573.2 1112h52v1h-52zM625.2 772h52v1h-52zM625.2 801h52v1h-52zM625.2 832h52v1h-52zM625.2 919h52v1h-52zM625.2 932h52v1h-52z" fill="#F6C07E"/>
<path d="M209.2 942h52v1h-52zM209.2 1005h52v1h-52zM521.2 975h52v1h-52zM573.2 965h52v1h-52z" fill="#F0C084"/>
<path d="M209.2 944h52v1h-52zM209.2 960h52v1h-52zM209.2 1075h52v1h-52zM209.2 1169h52v1h-52zM209.2 1227h52v1h-52zM209.2 1238h52v1h-52zM209.2 1240h52v1h-52zM365.2 1036h52v1h-52zM417.2 736h52v1h-52zM417.2 784h52v1h-52zM521.2 861h52v1h-52zM521.2 936h52v1h-52zM573.2 826h52v1h-52zM573.2 837h52v1h-52zM573.2 974h52v1h-52zM573.2 1151h52v1h-52zM625.2 737h52v1h-52zM625.2 890h52v1h-52zM625.2 933h52v1h-52z" fill="#F6C68A"/>
<path d="M209.2 946h52v1h-52zM521.2 850h52v1h-52zM521.2 907h52v1h-52zM573.2 858h52v1h-52zM573.2 952h52v1h-52zM625.2 822h52v1h-52z" fill="#F0AE5A"/>
<path d="M209.2 948h52v1h-52zM313.2 723h52v1h-52zM521.2 870h52v1h-52z" fill="#F0D2A8"/>
<path d="M209.2 950h52v1h-52zM209.2 1226h52v1h-52zM209.2 1255h52v1h-52zM521.2 995h52v1h-52zM573.2 700h52v1h-52zM573.2 1031h52v1h-52zM573.2 1039h52v1h-52zM573.2 1105h52v1h-52zM625.2 1030h52v1h-52z" fill="#EAC69C"/>
<path d="M209.2 955h52v1h-52z" fill="#D8B496"/>
<path d="M209.2 957h52v1h-52zM209.2 1028h52v1h-52zM209.2 1163h52v1h-52zM209.2 1215h52v1h-52zM209.2 1233h52v1h-52zM469.2 813h52v1h-52zM469.2 848h52v1h-52zM521.2 973h52v1h-52zM521.2 996h52v1h-52zM573.2 911h52v1h-52zM573.2 1111h52v1h-52zM625.2 964h52v1h-52z" fill="#F6C078"/>
<path d="M209.2 962h52v1h-52zM573.2 930h52v1h-52zM573.2 944h52v1h-52z" fill="#F0AE60"/>
<path d="M209.2 963h52v1h-52zM365.2 1097h52v1h-52zM417.2 827h52v1h-52zM417.2 848h52v1h-52zM469.2 787h52v1h-52zM521.2 993h52v1h-52zM573.2 937h52v1h-52zM573.2 957h52v1h-52zM573.2 1101h52v1h-52zM625.2 855h52v1h-52zM625.2 928h52v1h-52zM625.2 970h52v1h-52z" fill="#F6B466"/>
<path d="M209.2 967h52v1h-52zM209.2 985h52v1h-52zM209.2 1018h52v1h-52zM417.2 815h52v1h-52zM417.2 833h52v1h-52zM573.2 922h52v1h-52zM573.2 936h52v1h-52zM625.2 869h52v1h-52z" fill="#F6AE54"/>
<path d="M209.2 968h52v1h-52zM573.2 1052h52v1h-52zM573.2 1127h52v1h-52zM625.2 1113h52v1h-52z" fill="#D8BAA2"/>
<path d="M209.2 969h52v1h-52zM209.2 1040h52v1h-52zM209.2 1117h52v1h-52zM209.2 1211h52v1h-52zM313.2 922h52v1h-52zM365.2 695h52v1h-52zM365.2 698h52v1h-52zM365.2 746h52v1h-52zM365.2 1053h52v1h-52zM417.2 771h52v2h-52zM417.2 825h52v1h-52zM417.2 1161h52v1h-52zM417.2 1191h52v1h-52zM469.2 816h52v1h-52zM469.2 826h52v1h-52zM521.2 853h52v1h-52zM521.2 908h52v1h-52zM573.2 752h52v1h-52zM573.2 798h52v1h-52zM573.2 854h52v1h-52zM573.2 943h52v1h-52zM573.2 1100h52v1h-52zM625.2 828h52v1h-52zM625.2 838h52v1h-52zM625.2 853h52v1h-52zM625.2 903h52v1h-52zM625.2 918h52v1h-52zM625.2 952h52v1h-52zM625.2 1081h52v1h-52z" fill="#FCC078"/>
<path d="M209.2 970h52v1h-52zM209.2 987h52v1h-52zM209.2 1102h52v1h-52zM209.2 1153h52v1h-52zM365.2 916h52v1h-52zM469.2 940h52v1h-52zM521.2 979h52v1h-52zM573.2 762h52v1h-52zM573.2 825h52v1h-52zM573.2 846h52v1h-52zM573.2 1152h52v1h-52zM625.2 1042h52v1h-52z" fill="#F6C690"/>
<path d="M209.2 973h52v1h-52zM365.2 838h52v1h-52zM521.2 1098h52v1h-52zM573.2 644h52v1h-52zM573.2 860h52v1h-52z" fill="#F6CCA2"/>
<path d="M209.2 979h52v1h-52zM209.2 1003h52v1h-52z" fill="#DEAE84"/>
<path d="M209.2 995h52v1h-52zM573.2 991h52v1h-52zM573.2 1019h52v1h-52zM625.2 991h52v1h-52zM625.2 1120h52v1h-52z" fill="#DEC6B4"/>
<path d="M209.2 997h52v1h-52z" fill="#E4AE84"/>
<path d="M209.2 1000h52v1h-52zM209.2 1053h52v1h-52zM209.2 1060h52v1h-52zM365.2 809h52v1h-52zM365.2 853h52v1h-52zM469.2 1019h52v1h-52zM573.2 734h52v1h-52zM573.2 1020h52v1h-52zM573.2 1113h52v1h-52z" fill="#EACCA8"/>
<path d="M209.2 1006h52v1h-52zM209.2 1077h52v1h-52zM625.2 1019h52v1h-52z" fill="#E4B47E"/>
<path d="M209.2 1007h52v1h-52zM521.2 1062h52v1h-52zM625.2 1125h52v1h-52z" fill="#D2B4A8"/>
<path d="M209.2 1012h52v1h-52zM209.2 1046h52v1h-52zM313.2 1084h52v1h-52zM365.2 705h52v1h-52zM365.2 778h52v1h-52zM417.2 735h52v1h-52zM417.2 846h52v1h-52zM469.2 853h52v1h-52zM573.2 999h52v1h-52zM573.2 1010h52v1h-52zM573.2 1114h52v1h-52zM625.2 1109h52v1h-52z" fill="#FCC072"/>
<path d="M209.2 1014h52v1h-52zM209.2 1128h52v1h-52zM573.2 990h52v1h-52zM573.2 1129h52v1h-52zM625.2 1037h52v1h-52zM625.2 1098h52v1h-52z" fill="#E4AE78"/>
<path d="M209.2 1015h52v1h-52zM365.2 830h52v1h-52zM521.2 1086h52v1h-52zM573.2 665h52v1h-52zM573.2 741h52v1h-52zM573.2 764h52v1h-52zM573.2 1030h52v1h-52zM573.2 1059h52v1h-52zM625.2 987h52v1h-52zM625.2 1015h52v1h-52z" fill="#F0C090"/>
<path d="M209.2 1021h52v1h-52zM209.2 1135h52v1h-52zM365.2 820h52v1h-52zM573.2 675h52v1h-52zM573.2 695h52v1h-52zM573.2 988h52v1h-52zM573.2 1075h52v1h-52zM625.2 1005h52v1h-52zM625.2 1108h52v1h-52z" fill="#EAC6A8"/>
<path d="M209.2 1022h52v1h-52zM209.2 1208h52v1h-52zM313.2 925h52v1h-52zM521.2 1085h52v1h-52zM573.2 989h52v1h-52zM625.2 1082h52v1h-52z" fill="#F0C08A"/>
<path d="M209.2 1023h52v1h-52zM365.2 1076h52v1h-52zM521.2 859h52v1h-52zM573.2 838h52v1h-52z" fill="#F0B46C"/>
<path d="M209.2 1025h52v1h-52zM573.2 758h52v1h-52zM625.2 1078h52v1h-52zM625.2 1134h52v1h-52z" fill="#E4B484"/>
<path d="M209.2 1027h52v1h-52zM521.2 753h52v1h-52zM521.2 984h52v1h-52zM521.2 1060h52v1h-52zM625.2 1172h52v1h-52z" fill="#D8C0BA"/>
<path d="M209.2 1031h52v1h-52zM209.2 1130h52v1h-52zM313.2 694h52v1h-52zM573.2 1154h52v1h-52z" fill="#E4CCB4"/>
<path d="M209.2 1033h52v1h-52zM625.2 1165h52v1h-52z" fill="#DECCC6"/>
<path d="M209.2 1035h52v1h-52zM573.2 761h52v1h-52zM625.2 1069h52v1h-52z" fill="#D8BAB4"/>
<path d="M209.2 1038h52v1h-52z" fill="#CC9072"/>
<path d="M209.2 1039h52v1h-52zM209.2 1045h52v1h-52zM469.2 970h52v1h-52zM573.2 794h52v1h-52z" fill="#F0C690"/>
<path d="M209.2 1048h52v1h-52zM469.2 931h52v1h-52z" fill="#F6C696"/>
<path d="M209.2 1054h52v1h-52zM209.2 1209h52v1h-52zM365.2 900h52v1h-52zM573.2 771h52v1h-52zM573.2 793h52v1h-52zM573.2 834h52v1h-52zM573.2 889h52v1h-52zM573.2 1036h52v1h-52zM573.2 1133h52v1h-52zM625.2 767h52v1h-52zM625.2 797h52v1h-52zM625.2 831h52v1h-52zM625.2 927h52v1h-52z" fill="#F6C684"/>
<path d="M209.2 1087h52v1h-52zM365.2 836h52v1h-52zM573.2 779h52v1h-52zM573.2 785h52v1h-52zM573.2 1057h52v1h-52zM573.2 1082h52v1h-52zM625.2 986h52v1h-52zM625.2 1058h52v1h-52zM625.2 1071h52v1h-52z" fill="#DEC0A8"/>
<path d="M209.2 1090h52v1h-52zM209.2 1181h52v1h-52zM261.2 920h52v1h-52zM261.2 930h52v1h-52zM313.2 649h52v1h-52zM417.2 822h52v1h-52zM417.2 887h52v1h-52zM417.2 1051h52v1h-52zM469.2 929h52v1h-52zM469.2 971h52v1h-52zM469.2 1245h52v1h-52zM521.2 707h52v1h-52zM521.2 826h52v1h-52zM521.2 832h52v1h-52zM521.2 834h52v1h-52zM521.2 881h52v1h-52zM521.2 949h52v2h-52zM573.2 778h52v1h-52zM573.2 884h52v1h-52zM573.2 898h52v2h-52zM573.2 915h52v1h-52zM625.2 709h52v1h-52zM625.2 714h52v1h-52zM625.2 743h52v1h-52zM625.2 800h52v1h-52zM625.2 885h52v1h-52zM625.2 895h52v1h-52z" fill="#F6D8B4"/>
<path d="M209.2 1091h52v1h-52zM469.2 991h52v1h-52zM521.2 1044h52v1h-52zM625.2 1105h52v1h-52zM625.2 1139h52v1h-52z" fill="#CCA89C"/>
<path d="M209.2 1092h52v1h-52zM209.2 1101h52v1h-52zM209.2 1122h52v1h-52zM365.2 1077h52v1h-52zM365.2 1087h52v1h-52zM417.2 766h52v1h-52zM469.2 945h52v1h-52zM521.2 811h52v1h-52zM521.2 841h52v1h-52zM521.2 880h52v1h-52zM521.2 884h52v1h-52zM521.2 887h52v1h-52zM521.2 916h52v1h-52zM573.2 651h52v1h-52zM573.2 753h52v1h-52zM573.2 777h52v1h-52zM573.2 897h52v1h-52zM573.2 921h52v1h-52zM573.2 934h52v1h-52zM573.2 950h52v1h-52zM573.2 998h52v1h-52zM573.2 1077h52v1h-52zM625.2 791h52v1h-52zM625.2 824h52v1h-52zM625.2 858h52v1h-52z" fill="#F6CC96"/>
<path d="M209.2 1096h52v1h-52zM573.2 833h52v1h-52zM573.2 902h52v1h-52z" fill="#EAB472"/>
<path d="M209.2 1100h52v1h-52zM469.2 916h52v1h-52zM469.2 956h52v1h-52zM521.2 839h52v1h-52zM521.2 894h52v1h-52zM521.2 904h52v1h-52zM521.2 964h52v1h-52zM625.2 762h52v1h-52zM625.2 904h52v1h-52zM625.2 1045h52v1h-52z" fill="#F6D8BA"/>
<path d="M209.2 1107h52v1h-52z" fill="#F0C096"/>
<path d="M209.2 1109h52v1h-52z" fill="#C69C90"/>
<path d="M209.2 1115h52v1h-52zM521.2 1082h52v1h-52zM625.2 1028h52v1h-52zM625.2 1068h52v1h-52zM625.2 1093h52v1h-52zM625.2 1164h52v1h-52z" fill="#D2C0C0"/>
<path d="M209.2 1120h52v1h-52zM573.2 1071h52v1h-52zM625.2 1115h52v1h-52z" fill="#E4C09C"/>
<path d="M209.2 1121h52v1h-52z" fill="#D8A26C"/>
<path d="M209.2 1124h52v1h-52zM573.2 1061h52v1h-52z" fill="#CCA290"/>
<path d="M209.2 1126h52v1h-52zM209.2 1143h52v1h-52zM573.2 1090h52v1h-52zM573.2 1126h52v1h-52zM625.2 1102h52v1h-52z" fill="#EABA84"/>
<path d="M209.2 1131h52v1h-52z" fill="#DEA87E"/>
<path d="M209.2 1137h52v1h-52zM261.2 631h52v1h-52zM261.2 635h52v1h-52zM261.2 640h52v1h-52zM261.2 642h52v1h-52zM261.2 644h52v1h-52zM261.2 646h52v1h-52zM261.2 651h52v1h-52zM261.2 671h52v1h-52zM261.2 676h52v2h-52zM261.2 691h52v1h-52zM261.2 717h52v1h-52zM261.2 732h52v1h-52zM261.2 749h52v1h-52zM261.2 753h52v2h-52zM261.2 769h52v1h-52zM261.2 774h52v1h-52zM261.2 779h52v1h-52zM261.2 793h52v1h-52zM261.2 796h52v1h-52zM261.2 948h52v1h-52zM261.2 1012h52v1h-52zM261.2 1096h52v1h-52zM261.2 1107h52v1h-52zM261.2 1130h52v1h-52zM261.2 1190h52v1h-52zM261.2 1212h52v1h-52zM261.2 1244h52v1h-52zM261.2 1248h52v1h-52zM313.2 700h52v1h-52zM313.2 737h52v1h-52zM313.2 743h52v1h-52zM313.2 983h52v1h-52zM313.2 1020h52v1h-52zM313.2 1044h52v1h-52zM313.2 1091h52v1h-52zM313.2 1126h52v1h-52zM313.2 1140h52v1h-52zM313.2 1151h52v1h-52zM313.2 1181h52v1h-52zM313.2 1227h52v2h-52zM365.2 634h52v1h-52zM365.2 663h52v1h-52zM365.2 1023h52v1h-52zM365.2 1044h52v1h-52zM365.2 1086h52v1h-52zM365.2 1130h52v1h-52zM365.2 1141h52v1h-52zM365.2 1217h52v1h-52zM365.2 1223h52v2h-52zM365.2 1253h52v1h-52zM417.2 645h52v1h-52zM417.2 686h52v1h-52zM417.2 698h52v1h-52zM417.2 838h52v1h-52zM417.2 1109h52v1h-52zM417.2 1121h52v1h-52zM417.2 1128h52v1h-52zM417.2 1131h52v1h-52zM417.2 1248h52v1h-52zM469.2 630h52v1h-52zM469.2 680h52v1h-52zM469.2 683h52v1h-52zM469.2 687h52v1h-52zM469.2 699h52v1h-52zM469.2 724h52v1h-52zM469.2 729h52v1h-52zM469.2 738h52v1h-52zM469.2 775h52v1h-52zM469.2 780h52v1h-52zM469.2 788h52v1h-52zM469.2 790h52v1h-52zM469.2 887h52v1h-52zM469.2 902h52v1h-52zM469.2 1152h52v1h-52zM469.2 1158h52v1h-52zM469.2 1182h52v1h-52zM469.2 1198h52v1h-52zM469.2 1204h52v1h-52zM469.2 1209h52v1h-52zM469.2 1217h52v1h-52zM469.2 1220h52v1h-52zM469.2 1239h52v2h-52zM469.2 1243h52v1h-52zM469.2 1246h52v1h-52zM469.2 1250h52v1h-52zM521.2 805h52v1h-52zM521.2 856h52v1h-52zM521.2 953h52v1h-52zM521.2 1163h52v1h-52zM521.2 1251h52v1h-52zM573.2 722h52v1h-52zM573.2 815h52v1h-52zM573.2 1216h52v1h-52zM625.2 643h52v1h-52zM625.2 682h52v2h-52zM625.2 724h52v1h-52zM625.2 729h52v2h-52zM625.2 779h52v1h-52zM625.2 825h52v1h-52zM625.2 893h52v1h-52z" fill="#FCEAD2"/>
<path d="M209.2 1144h52v1h-52zM469.2 922h52v1h-52zM469.2 953h52v1h-52zM521.2 896h52v1h-52zM573.2 627h52v1h-52zM573.2 705h52v1h-52zM573.2 904h52v1h-52zM573.2 925h52v1h-52zM573.2 1109h52v1h-52zM625.2 692h52v1h-52zM625.2 739h52v1h-52zM625.2 881h52v1h-52zM625.2 955h52v1h-52zM625.2 1079h52v1h-52z" fill="#F6CC90"/>
<path d="M209.2 1147h52v1h-52zM261.2 938h52v1h-52zM313.2 766h52v1h-52zM313.2 769h52v1h-52zM313.2 792h52v1h-52zM365.2 870h52v1h-52zM365.2 999h52v1h-52zM521.2 724h52v1h-52zM521.2 744h52v1h-52zM521.2 761h52v1h-52zM521.2 770h52v1h-52z" fill="#EAD8CC"/>
<path d="M209.2 1150h52v1h-52zM521.2 1106h52v1h-52zM573.2 1037h52v1h-52z" fill="#D2BAAE"/>
<path d="M209.2 1151h52v1h-52zM365.2 819h52v1h-52zM365.2 825h52v1h-52zM573.2 774h52v1h-52zM625.2 1020h52v1h-52z" fill="#F0D8C6"/>
<path d="M209.2 1155h52v1h-52z" fill="#C6A2A8"/>
<path d="M209.2 1158h52v1h-52z" fill="#D8AE96"/>
<path d="M209.2 1162h52v1h-52zM209.2 1172h52v1h-52zM521.2 775h52v1h-52zM573.2 739h52v1h-52zM573.2 795h52v1h-52zM573.2 1144h52v1h-52zM625.2 998h52v1h-52zM625.2 1073h52v1h-52zM625.2 1156h52v1h-52zM625.2 1195h52v1h-52z" fill="#E4C6AE"/>
<path d="M209.2 1167h52v1h-52zM209.2 1197h52v1h-52zM261.2 634h52v1h-52zM261.2 655h52v1h-52zM261.2 661h52v1h-52zM261.2 679h52v1h-52zM261.2 698h52v2h-52zM261.2 707h52v1h-52zM261.2 718h52v1h-52zM261.2 729h52v3h-52zM261.2 738h52v1h-52zM261.2 778h52v1h-52zM261.2 780h52v2h-52zM261.2 799h52v1h-52zM261.2 801h52v1h-52zM261.2 989h52v1h-52zM261.2 1013h52v1h-52zM261.2 1016h52v1h-52zM261.2 1031h52v1h-52zM261.2 1077h52v1h-52zM261.2 1109h52v1h-52zM261.2 1113h52v1h-52zM261.2 1148h52v1h-52zM261.2 1167h52v2h-52zM261.2 1172h52v1h-52zM261.2 1208h52v1h-52zM261.2 1215h52v2h-52zM261.2 1218h52v1h-52zM261.2 1232h52v1h-52zM313.2 633h52v1h-52zM313.2 639h52v1h-52zM313.2 642h52v1h-52zM313.2 647h52v1h-52zM313.2 651h52v1h-52zM313.2 654h52v1h-52zM313.2 709h52v1h-52zM313.2 732h52v1h-52zM313.2 759h52v1h-52zM313.2 781h52v1h-52zM313.2 986h52v1h-52zM313.2 990h52v1h-52zM313.2 994h52v1h-52zM313.2 1017h52v1h-52zM313.2 1019h52v1h-52zM313.2 1024h52v1h-52zM313.2 1031h52v1h-52zM313.2 1037h52v1h-52zM313.2 1094h52v1h-52zM313.2 1097h52v1h-52zM313.2 1100h52v1h-52zM313.2 1119h52v1h-52zM313.2 1121h52v1h-52zM313.2 1150h52v1h-52zM313.2 1153h52v1h-52zM313.2 1164h52v1h-52zM313.2 1175h52v1h-52zM313.2 1191h52v1h-52zM313.2 1205h52v1h-52zM313.2 1210h52v1h-52zM313.2 1212h52v1h-52zM313.2 1217h52v1h-52zM313.2 1237h52v1h-52zM313.2 1240h52v1h-52zM313.2 1253h52v1h-52zM365.2 654h52v3h-52zM365.2 659h52v1h-52zM365.2 666h52v1h-52zM365.2 676h52v1h-52zM365.2 683h52v1h-52zM365.2 711h52v1h-52zM365.2 716h52v1h-52zM365.2 724h52v2h-52zM365.2 731h52v1h-52zM365.2 735h52v1h-52zM365.2 758h52v1h-52zM365.2 770h52v1h-52zM365.2 773h52v1h-52zM365.2 775h52v2h-52zM365.2 817h52v1h-52zM365.2 886h52v1h-52zM365.2 890h52v1h-52zM365.2 901h52v1h-52zM365.2 912h52v1h-52zM365.2 915h52v1h-52zM365.2 1009h52v1h-52zM365.2 1072h52v1h-52zM365.2 1074h52v1h-52zM365.2 1105h52v1h-52zM365.2 1114h52v1h-52zM365.2 1124h52v1h-52zM365.2 1133h52v1h-52zM365.2 1149h52v1h-52zM365.2 1161h52v1h-52zM365.2 1178h52v2h-52zM365.2 1202h52v1h-52zM365.2 1213h52v1h-52zM365.2 1218h52v1h-52zM365.2 1236h52v1h-52zM365.2 1241h52v1h-52zM365.2 1245h52v2h-52zM417.2 624h52v1h-52zM417.2 638h52v1h-52zM417.2 651h52v2h-52zM417.2 664h52v1h-52zM417.2 678h52v1h-52zM417.2 681h52v1h-52zM417.2 703h52v1h-52zM417.2 723h52v1h-52zM417.2 745h52v1h-52zM417.2 747h52v1h-52zM417.2 796h52v1h-52zM417.2 811h52v1h-52zM417.2 832h52v1h-52zM417.2 836h52v1h-52zM417.2 839h52v1h-52zM417.2 865h52v1h-52zM417.2 883h52v1h-52zM417.2 889h52v1h-52zM417.2 891h52v1h-52zM417.2 906h52v1h-52zM417.2 1034h52v1h-52zM417.2 1039h52v1h-52zM417.2 1064h52v1h-52zM417.2 1084h52v1h-52zM417.2 1098h52v2h-52zM417.2 1165h52v1h-52zM417.2 1168h52v1h-52zM417.2 1190h52v1h-52zM417.2 1210h52v1h-52zM417.2 1212h52v1h-52zM417.2 1225h52v1h-52zM417.2 1229h52v1h-52zM417.2 1236h52v1h-52zM417.2 1239h52v1h-52zM417.2 1252h52v1h-52zM469.2 628h52v2h-52zM469.2 645h52v1h-52zM469.2 654h52v1h-52zM469.2 689h52v1h-52zM469.2 697h52v1h-52zM469.2 715h52v1h-52zM469.2 720h52v1h-52zM469.2 744h52v1h-52zM469.2 768h52v2h-52zM469.2 777h52v1h-52zM469.2 829h52v1h-52zM469.2 873h52v1h-52zM469.2 877h52v1h-52zM469.2 903h52v1h-52zM469.2 932h52v1h-52zM469.2 1178h52v1h-52zM469.2 1192h52v1h-52zM521.2 644h52v2h-52zM521.2 652h52v1h-52zM521.2 669h52v1h-52zM521.2 695h52v1h-52zM521.2 712h52v1h-52zM521.2 810h52v1h-52zM521.2 879h52v1h-52zM521.2 902h52v1h-52zM521.2 933h52v1h-52zM521.2 1180h52v1h-52zM521.2 1196h52v1h-52zM521.2 1204h52v1h-52zM521.2 1208h52v1h-52zM521.2 1210h52v1h-52zM521.2 1214h52v1h-52zM521.2 1221h52v1h-52zM521.2 1224h52v1h-52zM521.2 1231h52v1h-52zM521.2 1237h52v1h-52zM521.2 1240h52v1h-52zM573.2 625h52v1h-52zM573.2 634h52v1h-52zM573.2 640h52v1h-52zM573.2 659h52v1h-52zM573.2 662h52v1h-52zM573.2 686h52v1h-52zM573.2 714h52v1h-52zM573.2 724h52v1h-52zM573.2 750h52v1h-52zM573.2 878h52v1h-52zM573.2 892h52v1h-52zM573.2 1222h52v1h-52zM573.2 1238h52v1h-52zM573.2 1249h52v1h-52zM573.2 1254h52v1h-52zM625.2 628h52v1h-52zM625.2 632h52v1h-52zM625.2 641h52v1h-52zM625.2 649h52v1h-52zM625.2 663h52v1h-52zM625.2 671h52v1h-52zM625.2 708h52v1h-52zM625.2 723h52v1h-52zM625.2 796h52v1h-52zM625.2 804h52v1h-52zM625.2 810h52v1h-52zM625.2 861h52v1h-52zM625.2 880h52v1h-52zM625.2 882h52v1h-52zM625.2 906h52v1h-52z" fill="#FCDEBA"/>
<path d="M209.2 1171h52v1h-52zM209.2 1230h52v1h-52zM573.2 783h52v1h-52zM573.2 1002h52v1h-52zM573.2 1103h52v1h-52z" fill="#FCBA72"/>
<path d="M209.2 1176h52v1h-52zM313.2 706h52v1h-52zM521.2 796h52v1h-52zM521.2 1002h52v1h-52zM573.2 1135h52v1h-52zM625.2 1053h52v1h-52z" fill="#DEC6C0"/>
<path d="M209.2 1180h52v1h-52zM469.2 983h52v1h-52zM521.2 676h52v1h-52zM573.2 642h52v1h-52zM625.2 1117h52v1h-52z" fill="#EAD2B4"/>
<path d="M209.2 1184h52v2h-52zM313.2 679h52v1h-52zM365.2 879h52v1h-52zM365.2 1091h52v1h-52zM417.2 830h52v1h-52zM417.2 916h52v1h-52zM469.2 934h52v1h-52zM521.2 829h52v1h-52zM521.2 966h52v1h-52zM573.2 772h52v1h-52zM573.2 814h52v1h-52zM573.2 949h52v1h-52zM573.2 1049h52v1h-52zM573.2 1131h52v1h-52zM625.2 874h52v1h-52zM625.2 1070h52v1h-52z" fill="#F6D29C"/>
<path d="M209.2 1192h52v1h-52zM573.2 1028h52v1h-52zM573.2 1048h52v1h-52zM625.2 1086h52v1h-52z" fill="#D2A88A"/>
<path d="M209.2 1193h52v1h-52zM209.2 1200h52v1h-52zM417.2 837h52v1h-52zM469.2 727h52v1h-52zM469.2 980h52v1h-52zM521.2 624h52v1h-52zM521.2 632h52v1h-52zM521.2 680h52v1h-52zM521.2 921h52v1h-52zM573.2 1224h52v1h-52zM625.2 782h52v1h-52zM625.2 877h52v1h-52zM625.2 936h52v1h-52z" fill="#FCD8B4"/>
<path d="M209.2 1194h52v1h-52z" fill="#D8AE84"/>
<path d="M209.2 1218h52v1h-52zM469.2 841h52v1h-52zM573.2 910h52v1h-52zM573.2 923h52v1h-52zM625.2 736h52v1h-52zM625.2 977h52v1h-52z" fill="#F0A84E"/>
<path d="M209.2 1222h52v1h-52zM469.2 822h52v1h-52zM521.2 928h52v1h-52zM521.2 942h52v1h-52zM521.2 967h52v1h-52zM573.2 819h52v1h-52zM573.2 933h52v1h-52zM625.2 953h52v1h-52z" fill="#F6C084"/>
<path d="M209.2 1223h52v1h-52zM625.2 1004h52v1h-52z" fill="#E4BA9C"/>
<path d="M209.2 1242h52v1h-52zM469.2 986h52v1h-52zM521.2 1109h52v1h-52zM625.2 1043h52v1h-52z" fill="#BAA2AE"/>
<path d="M261.2 630h52v1h-52zM261.2 632h52v1h-52zM261.2 639h52v1h-52zM261.2 643h52v1h-52zM261.2 648h52v2h-52zM261.2 674h52v1h-52zM261.2 678h52v1h-52zM261.2 682h52v1h-52zM261.2 715h52v2h-52zM261.2 726h52v1h-52zM261.2 734h52v1h-52zM261.2 737h52v1h-52zM261.2 764h52v1h-52zM261.2 784h52v1h-52zM261.2 990h52v1h-52zM261.2 1010h52v1h-52zM261.2 1017h52v2h-52zM261.2 1021h52v1h-52zM261.2 1088h52v1h-52zM261.2 1120h52v1h-52zM261.2 1135h52v1h-52zM261.2 1182h52v1h-52zM261.2 1184h52v1h-52zM261.2 1210h52v1h-52zM261.2 1236h52v1h-52zM313.2 786h52v1h-52zM313.2 1010h52v1h-52zM313.2 1043h52v1h-52zM313.2 1059h52v1h-52zM313.2 1122h52v1h-52zM313.2 1129h52v1h-52zM313.2 1170h52v1h-52zM313.2 1223h52v1h-52zM313.2 1230h52v1h-52zM313.2 1252h52v1h-52zM365.2 644h52v1h-52zM365.2 706h52v1h-52zM365.2 789h52v1h-52zM365.2 795h52v1h-52zM365.2 891h52v1h-52zM365.2 899h52v1h-52zM365.2 988h52v1h-52zM365.2 1094h52v1h-52zM365.2 1156h52v1h-52zM365.2 1188h52v1h-52zM365.2 1247h52v1h-52zM417.2 626h52v1h-52zM417.2 641h52v1h-52zM417.2 646h52v1h-52zM417.2 650h52v1h-52zM417.2 653h52v2h-52zM417.2 659h52v1h-52zM417.2 667h52v1h-52zM417.2 706h52v1h-52zM417.2 710h52v1h-52zM417.2 713h52v1h-52zM417.2 716h52v1h-52zM417.2 724h52v1h-52zM417.2 734h52v1h-52zM417.2 741h52v1h-52zM417.2 756h52v1h-52zM417.2 807h52v1h-52zM417.2 915h52v1h-52zM417.2 1032h52v1h-52zM417.2 1048h52v1h-52zM417.2 1077h52v1h-52zM417.2 1112h52v1h-52zM417.2 1124h52v1h-52zM417.2 1150h52v1h-52zM417.2 1186h52v1h-52zM417.2 1234h52v1h-52zM469.2 632h52v1h-52zM469.2 682h52v1h-52zM469.2 686h52v1h-52zM469.2 690h52v2h-52zM469.2 834h52v1h-52zM469.2 856h52v1h-52zM469.2 870h52v1h-52zM469.2 888h52v1h-52zM469.2 977h52v1h-52zM469.2 1176h52v1h-52zM469.2 1183h52v1h-52zM469.2 1207h52v1h-52zM521.2 638h52v1h-52zM521.2 656h52v1h-52zM521.2 659h52v1h-52zM521.2 692h52v1h-52zM521.2 895h52v1h-52zM521.2 1165h52v1h-52zM521.2 1177h52v1h-52zM521.2 1179h52v1h-52zM521.2 1209h52v1h-52zM521.2 1211h52v1h-52zM573.2 661h52v1h-52zM573.2 749h52v1h-52zM625.2 624h52v1h-52zM625.2 631h52v1h-52zM625.2 636h52v1h-52zM625.2 668h52v1h-52zM625.2 678h52v1h-52zM625.2 734h52v1h-52zM625.2 769h52v1h-52z" fill="#FCEACC"/>
<path d="M261.2 641h52v1h-52zM261.2 755h52v1h-52zM313.2 1005h52v1h-52zM313.2 1146h52v1h-52zM313.2 1182h52v1h-52zM365.2 637h52v1h-52zM365.2 896h52v1h-52zM365.2 1012h52v1h-52zM365.2 1173h52v1h-52zM417.2 644h52v1h-52zM417.2 687h52v1h-52zM417.2 1111h52v1h-52zM469.2 1186h52v1h-52zM521.2 1174h52v1h-52zM521.2 1255h52v1h-52zM625.2 697h52v1h-52z" fill="#FCF0DE"/>
<path d="M261.2 647h52v1h-52zM261.2 675h52v1h-52zM261.2 714h52v1h-52zM261.2 719h52v1h-52zM261.2 740h52v1h-52zM261.2 744h52v1h-52zM261.2 746h52v2h-52zM261.2 763h52v1h-52zM261.2 946h52v1h-52zM261.2 984h52v1h-52zM261.2 994h52v1h-52zM261.2 1000h52v1h-52zM261.2 1025h52v1h-52zM261.2 1122h52v1h-52zM261.2 1185h52v1h-52zM261.2 1209h52v1h-52zM261.2 1211h52v1h-52zM313.2 1051h52v1h-52zM313.2 1103h52v1h-52zM313.2 1145h52v1h-52zM313.2 1154h52v1h-52zM313.2 1176h52v1h-52zM313.2 1186h52v1h-52zM313.2 1243h52v1h-52zM313.2 1255h52v1h-52zM365.2 811h52v1h-52zM365.2 909h52v1h-52zM365.2 914h52v1h-52zM365.2 1082h52v1h-52zM365.2 1120h52v1h-52zM365.2 1144h52v1h-52zM365.2 1152h52v1h-52zM365.2 1162h52v1h-52zM417.2 632h52v1h-52zM417.2 637h52v1h-52zM417.2 680h52v1h-52zM417.2 690h52v2h-52zM417.2 704h52v1h-52zM417.2 1030h52v1h-52zM417.2 1062h52v1h-52zM417.2 1140h52v1h-52zM417.2 1214h52v1h-52zM469.2 725h52v1h-52zM469.2 730h52v1h-52zM469.2 742h52v1h-52zM469.2 863h52v1h-52zM469.2 1167h52v1h-52zM469.2 1218h52v1h-52zM521.2 710h52v1h-52zM521.2 733h52v1h-52zM521.2 735h52v1h-52zM521.2 737h52v1h-52zM521.2 784h52v1h-52zM521.2 1247h52v1h-52zM573.2 1219h52v1h-52zM625.2 640h52v1h-52zM625.2 777h52v1h-52z" fill="#FCEAD8"/>
<path d="M261.2 653h52v2h-52zM261.2 673h52v1h-52zM261.2 685h52v1h-52zM261.2 720h52v1h-52zM261.2 722h52v1h-52zM261.2 745h52v1h-52zM261.2 766h52v1h-52zM261.2 772h52v1h-52zM261.2 1110h52v1h-52zM261.2 1124h52v1h-52zM261.2 1129h52v1h-52zM261.2 1235h52v1h-52zM261.2 1255h52v1h-52zM313.2 643h52v1h-52zM313.2 656h52v1h-52zM313.2 708h52v1h-52zM313.2 728h52v1h-52zM313.2 758h52v1h-52zM313.2 999h52v1h-52zM313.2 1025h52v1h-52zM313.2 1028h52v1h-52zM313.2 1128h52v1h-52zM313.2 1130h52v1h-52zM313.2 1180h52v1h-52zM313.2 1239h52v1h-52zM313.2 1244h52v2h-52zM313.2 1248h52v1h-52zM365.2 756h52v1h-52zM365.2 759h52v1h-52zM365.2 1027h52v1h-52zM365.2 1155h52v1h-52zM365.2 1172h52v1h-52zM365.2 1185h52v1h-52zM365.2 1249h52v1h-52zM417.2 633h52v1h-52zM417.2 643h52v1h-52zM417.2 661h52v1h-52zM417.2 685h52v1h-52zM417.2 752h52v1h-52zM417.2 773h52v1h-52zM417.2 798h52v1h-52zM417.2 910h52v1h-52zM417.2 1050h52v1h-52zM417.2 1092h52v1h-52zM417.2 1113h52v1h-52zM417.2 1117h52v1h-52zM417.2 1123h52v1h-52zM417.2 1133h52v2h-52zM417.2 1155h52v1h-52zM417.2 1241h52v1h-52zM469.2 647h52v2h-52zM469.2 731h52v1h-52zM469.2 747h52v1h-52zM469.2 750h52v1h-52zM469.2 753h52v1h-52zM469.2 770h52v1h-52zM469.2 824h52v1h-52zM469.2 835h52v1h-52zM469.2 960h52v1h-52zM469.2 965h52v1h-52zM469.2 1119h52v1h-52zM469.2 1190h52v1h-52zM469.2 1210h52v1h-52zM469.2 1215h52v1h-52zM521.2 640h52v1h-52zM521.2 863h52v1h-52zM521.2 1226h52v1h-52zM521.2 1252h52v1h-52zM573.2 1221h52v1h-52zM625.2 705h52v2h-52zM625.2 864h52v1h-52z" fill="#FCE4CC"/>
<path d="M261.2 680h52v1h-52zM261.2 725h52v1h-52zM261.2 741h52v1h-52zM261.2 1245h52v2h-52zM313.2 756h52v1h-52zM313.2 973h52v1h-52zM365.2 1003h52v1h-52zM365.2 1008h52v1h-52zM365.2 1186h52v1h-52zM365.2 1248h52v1h-52zM417.2 1091h52v1h-52zM417.2 1120h52v1h-52zM469.2 694h52v1h-52zM469.2 771h52v1h-52zM469.2 799h52v1h-52zM469.2 905h52v1h-52zM521.2 815h52v1h-52zM573.2 1234h52v1h-52zM573.2 1240h52v1h-52zM573.2 1250h52v1h-52zM625.2 666h52v1h-52zM625.2 849h52v1h-52z" fill="#F6F0E4"/>
<path d="M261.2 694h52v1h-52zM261.2 756h52v1h-52zM261.2 917h52v1h-52zM261.2 932h52v1h-52zM261.2 1243h52v1h-52zM313.2 953h52v1h-52zM313.2 964h52v1h-52zM365.2 873h52v1h-52zM365.2 987h52v1h-52zM365.2 993h52v1h-52zM365.2 1018h52v1h-52zM365.2 1146h52v1h-52zM417.2 1040h52v1h-52zM469.2 675h52v1h-52zM469.2 732h52v1h-52zM469.2 1120h52v1h-52zM521.2 793h52v1h-52zM573.2 1248h52v1h-52z" fill="#F6F0EA"/>
<path d="M261.2 721h52v1h-52zM261.2 759h52v1h-52zM261.2 771h52v1h-52zM261.2 949h52v1h-52zM261.2 952h52v1h-52zM261.2 1042h52v1h-52zM313.2 676h52v1h-52zM313.2 713h52v1h-52zM313.2 757h52v1h-52zM313.2 1038h52v1h-52zM365.2 1090h52v1h-52zM365.2 1137h52v1h-52zM365.2 1143h52v1h-52zM365.2 1168h52v1h-52zM417.2 688h52v1h-52zM417.2 718h52v1h-52zM417.2 886h52v1h-52zM469.2 688h52v1h-52zM469.2 696h52v1h-52zM469.2 740h52v1h-52zM469.2 746h52v1h-52zM469.2 755h52v1h-52zM469.2 760h52v1h-52zM469.2 774h52v1h-52zM469.2 803h52v1h-52zM469.2 894h52v1h-52zM469.2 913h52v1h-52zM469.2 920h52v1h-52zM469.2 952h52v1h-52zM469.2 961h52v1h-52zM469.2 1117h52v1h-52zM469.2 1124h52v1h-52zM469.2 1139h52v1h-52zM469.2 1153h52v1h-52zM521.2 765h52v1h-52zM521.2 837h52v1h-52zM521.2 883h52v1h-52zM521.2 943h52v1h-52zM573.2 1220h52v1h-52zM625.2 673h52v1h-52zM625.2 793h52v1h-52zM625.2 841h52v1h-52z" fill="#F6EADE"/>
<path d="M261.2 739h52v1h-52zM261.2 752h52v1h-52zM261.2 792h52v1h-52zM261.2 897h52v1h-52zM261.2 926h52v1h-52zM261.2 953h52v1h-52zM261.2 987h52v1h-52zM261.2 1004h52v1h-52zM261.2 1091h52v1h-52zM261.2 1106h52v1h-52zM261.2 1116h52v1h-52zM313.2 624h52v1h-52zM313.2 719h52v1h-52zM313.2 996h52v1h-52zM365.2 754h52v1h-52zM365.2 814h52v1h-52zM365.2 905h52v1h-52zM365.2 982h52v1h-52zM365.2 1001h52v1h-52zM365.2 1005h52v1h-52zM365.2 1255h52v1h-52zM417.2 835h52v1h-52zM417.2 1118h52v1h-52zM469.2 678h52v1h-52zM469.2 728h52v1h-52zM469.2 739h52v1h-52zM469.2 910h52v1h-52zM469.2 942h52v1h-52zM469.2 972h52v1h-52zM469.2 1148h52v1h-52zM521.2 686h52v1h-52zM521.2 694h52v1h-52zM521.2 731h52v1h-52zM521.2 840h52v1h-52zM521.2 891h52v1h-52zM573.2 660h52v1h-52zM573.2 1215h52v1h-52zM573.2 1239h52v1h-52zM625.2 748h52v1h-52zM625.2 886h52v1h-52zM625.2 902h52v1h-52z" fill="#F6EAD8"/>
<path d="M261.2 750h52v1h-52zM261.2 767h52v1h-52zM365.2 1020h52v1h-52zM365.2 1252h52v1h-52zM469.2 674h52v1h-52zM469.2 698h52v1h-52zM469.2 893h52v1h-52z" fill="#F6F0DE"/>
<path d="M261.2 791h52v1h-52zM261.2 955h52v1h-52zM261.2 999h52v1h-52zM313.2 689h52v1h-52zM313.2 734h52v1h-52zM313.2 754h52v1h-52zM313.2 945h52v2h-52zM313.2 957h52v1h-52zM313.2 984h52v1h-52zM365.2 791h52v1h-52zM365.2 907h52v1h-52zM365.2 1028h52v1h-52zM417.2 895h52v1h-52zM417.2 1126h52v1h-52zM417.2 1129h52v1h-52zM469.2 772h52v1h-52zM469.2 925h52v1h-52zM469.2 1123h52v1h-52zM521.2 641h52v1h-52zM521.2 681h52v1h-52zM521.2 709h52v1h-52zM521.2 866h52v1h-52zM521.2 871h52v1h-52zM521.2 957h52v2h-52zM625.2 637h52v1h-52zM625.2 695h52v1h-52zM625.2 707h52v1h-52zM625.2 745h52v1h-52z" fill="#F6E4D2"/>
<path d="M261.2 806h52v1h-52zM261.2 837h52v1h-52zM313.2 895h52v1h-52zM365.2 920h52v1h-52zM365.2 929h52v1h-52zM417.2 1013h52v1h-52zM469.2 1053h52v1h-52zM469.2 1056h52v1h-52zM469.2 1060h52v1h-52zM469.2 1088h52v1h-52zM521.2 1128h52v1h-52zM521.2 1141h52v1h-52zM625.2 1238h52v1h-52z" fill="#6C4E9C"/>
<path d="M261.2 810h52v1h-52zM365.2 968h52v1h-52zM469.2 1090h52v1h-52zM521.2 1137h52v1h-52zM625.2 1254h52v1h-52z" fill="#7860A8"/>
<path d="M261.2 817h52v1h-52zM261.2 867h52v1h-52zM313.2 874h52v1h-52zM469.2 1092h52v1h-52zM469.2 1101h52v1h-52zM521.2 1046h52v1h-52zM521.2 1074h52v1h-52z" fill="#A296C6"/>
<path d="M261.2 818h52v1h-52zM313.2 890h52v1h-52zM365.2 931h52v1h-52zM573.2 1183h52v1h-52z" fill="#664890"/>
<path d="M261.2 823h52v1h-52z" fill="#9C8AC0"/>
<path d="M261.2 831h52v1h-52z" fill="#7866A2"/>
<path d="M261.2 835h52v1h-52z" fill="#7E66AE"/>
<path d="M261.2 838h52v1h-52zM261.2 855h52v1h-52zM261.2 858h52v1h-52zM261.2 860h52v1h-52zM313.2 849h52v1h-52zM313.2 900h52v1h-52z" fill="#9684BA"/>
<path d="M261.2 839h52v1h-52z" fill="#908ABA"/>
<path d="M261.2 840h52v1h-52zM261.2 845h52v1h-52zM261.2 861h52v1h-52zM261.2 866h52v1h-52zM261.2 875h52v1h-52zM313.2 903h52v1h-52zM313.2 910h52v1h-52zM313.2 914h52v2h-52zM365.2 954h52v1h-52zM417.2 942h52v1h-52zM417.2 1020h52v1h-52zM469.2 1063h52v1h-52z" fill="#9C90C0"/>
<path d="M261.2 842h52v1h-52zM365.2 957h52v1h-52zM417.2 1004h52v1h-52zM469.2 1086h52v1h-52z" fill="#846CAE"/>
<path d="M261.2 843h52v1h-52z" fill="#8A72B4"/>
<path d="M261.2 864h52v1h-52zM313.2 876h52v1h-52zM365.2 951h52v1h-52zM365.2 955h52v1h-52zM365.2 961h52v1h-52zM469.2 1107h52v1h-52zM469.2 1110h52v1h-52z" fill="#A29CC6"/>
<path d="M261.2 868h52v1h-52zM313.2 820h52v1h-52zM313.2 836h52v1h-52zM313.2 847h52v1h-52zM313.2 852h52v1h-52zM417.2 918h52v1h-52zM417.2 939h52v2h-52zM417.2 947h52v1h-52zM417.2 956h52v1h-52zM417.2 975h52v1h-52zM521.2 1050h52v1h-52z" fill="#C6C6DE"/>
<path d="M261.2 870h52v1h-52zM313.2 857h52v1h-52zM417.2 1019h52v1h-52zM469.2 1112h52v1h-52zM521.2 1049h52v1h-52zM521.2 1112h52v1h-52z" fill="#A89CC6"/>
<path d="M261.2 871h52v1h-52zM313.2 842h52v1h-52zM313.2 851h52v1h-52zM313.2 880h52v1h-52zM365.2 967h52v1h-52zM417.2 1021h52v1h-52zM469.2 1093h52v2h-52zM469.2 1097h52v2h-52zM469.2 1108h52v1h-52zM469.2 1116h52v1h-52z" fill="#A8A2CC"/>
<path d="M261.2 872h52v1h-52zM313.2 818h52v1h-52zM313.2 841h52v1h-52zM313.2 872h52v1h-52zM417.2 965h52v1h-52zM417.2 971h52v1h-52z" fill="#BABAD8"/>
<path d="M261.2 873h52v1h-52zM313.2 848h52v1h-52zM313.2 858h52v1h-52zM417.2 972h52v1h-52zM469.2 1104h52v1h-52z" fill="#C0C0DE"/>
<path d="M261.2 874h52v1h-52zM261.2 877h52v1h-52zM261.2 880h52v1h-52zM313.2 812h52v1h-52zM313.2 814h52v1h-52zM313.2 821h52v1h-52zM313.2 854h52v1h-52zM313.2 877h52v3h-52zM313.2 882h52v1h-52zM365.2 970h52v1h-52zM417.2 923h52v1h-52zM417.2 936h52v1h-52zM417.2 941h52v1h-52zM417.2 950h52v1h-52zM417.2 968h52v1h-52zM469.2 1114h52v1h-52z" fill="#B4AED2"/>
<path d="M261.2 876h52v1h-52zM261.2 882h52v1h-52zM313.2 840h52v1h-52zM417.2 951h52v1h-52zM417.2 1027h52v1h-52zM469.2 1115h52v1h-52z" fill="#AEA8D2"/>
<path d="M261.2 879h52v1h-52zM313.2 837h52v1h-52zM313.2 867h52v1h-52zM313.2 870h52v1h-52zM365.2 963h52v1h-52zM417.2 935h52v1h-52zM417.2 970h52v1h-52z" fill="#BAB4D2"/>
<path d="M261.2 881h52v1h-52zM313.2 808h52v1h-52zM313.2 823h52v1h-52zM313.2 866h52v1h-52zM313.2 869h52v1h-52zM417.2 920h52v1h-52zM417.2 932h52v2h-52zM417.2 938h52v1h-52zM417.2 944h52v3h-52zM417.2 952h52v2h-52z" fill="#CCCCE4"/>
<path d="M261.2 883h52v1h-52zM313.2 809h52v1h-52z" fill="#D2CCDE"/>
<path d="M261.2 884h52v1h-52zM313.2 819h52v1h-52zM313.2 826h52v1h-52zM313.2 853h52v1h-52zM313.2 859h52v1h-52zM417.2 973h52v1h-52z" fill="#CCC6DE"/>
<path d="M261.2 885h52v1h-52zM261.2 960h52v1h-52zM313.2 806h52v1h-52zM313.2 813h52v1h-52zM313.2 862h52v1h-52zM313.2 965h52v1h-52zM313.2 976h52v1h-52zM417.2 928h52v1h-52zM417.2 959h52v1h-52z" fill="#D2D2E4"/>
<path d="M261.2 886h52v1h-52zM261.2 899h52v1h-52zM261.2 966h52v1h-52zM261.2 971h52v1h-52zM261.2 980h52v1h-52zM313.2 830h52v1h-52zM313.2 832h52v1h-52zM313.2 860h52v1h-52zM313.2 865h52v1h-52zM313.2 943h52v1h-52zM313.2 968h52v1h-52zM313.2 979h52v2h-52zM365.2 994h52v1h-52zM417.2 979h52v1h-52z" fill="#D8D8EA"/>
<path d="M261.2 887h52v1h-52zM261.2 945h52v1h-52zM261.2 954h52v1h-52zM365.2 904h52v1h-52zM365.2 983h52v2h-52zM365.2 1010h52v1h-52zM365.2 1147h52v1h-52zM469.2 900h52v1h-52zM469.2 1133h52v1h-52zM469.2 1145h52v1h-52zM521.2 750h52v1h-52zM625.2 747h52v1h-52z" fill="#F6EAE4"/>
<path d="M261.2 888h52v1h-52zM261.2 893h52v1h-52zM261.2 906h52v1h-52zM261.2 935h52v1h-52zM261.2 944h52v1h-52zM469.2 1127h52v1h-52zM469.2 1129h52v1h-52z" fill="#EAE4EA"/>
<path d="M261.2 889h52v1h-52zM261.2 943h52v1h-52zM313.2 751h52v1h-52zM313.2 778h52v1h-52zM625.2 756h52v1h-52z" fill="#E4DEDE"/>
<path d="M261.2 890h52v1h-52z" fill="#DEE4F0"/>
<path d="M261.2 891h52v1h-52zM417.2 957h52v1h-52z" fill="#E4E4E4"/>
<path d="M261.2 892h52v1h-52zM261.2 911h52v1h-52zM261.2 922h52v1h-52zM261.2 1014h52v1h-52zM313.2 801h52v1h-52zM313.2 949h52v1h-52zM313.2 969h52v1h-52zM313.2 1000h52v1h-52zM365.2 1002h52v1h-52zM417.2 740h52v1h-52zM469.2 886h52v1h-52zM521.2 794h52v1h-52zM521.2 804h52v1h-52zM521.2 860h52v1h-52zM573.2 1223h52v1h-52z" fill="#F0EAE4"/>
<path d="M261.2 894h52v2h-52zM313.2 868h52v1h-52zM313.2 932h52v1h-52zM365.2 1004h52v1h-52z" fill="#DED8E4"/>
<path d="M261.2 898h52v1h-52z" fill="#D8D2DE"/>
<path d="M261.2 900h52v1h-52zM365.2 990h52v1h-52zM521.2 864h52v1h-52zM521.2 963h52v1h-52z" fill="#EAE4DE"/>
<path d="M261.2 901h52v1h-52zM261.2 915h52v1h-52zM261.2 970h52v1h-52zM313.2 748h52v1h-52zM313.2 802h52v1h-52zM313.2 937h52v1h-52zM313.2 941h52v1h-52zM365.2 1016h52v2h-52zM469.2 926h52v1h-52zM469.2 1130h52v1h-52zM469.2 1143h52v1h-52zM521.2 679h52v1h-52zM521.2 718h52v1h-52z" fill="#F0E4DE"/>
<path d="M261.2 902h52v1h-52zM261.2 937h52v1h-52z" fill="#E4E4EA"/>
<path d="M261.2 903h52v1h-52zM261.2 905h52v1h-52zM261.2 910h52v1h-52zM313.2 938h52v1h-52zM365.2 985h52v1h-52zM417.2 892h52v1h-52zM417.2 913h52v1h-52zM469.2 752h52v1h-52zM625.2 688h52v1h-52z" fill="#F0F0F0"/>
<path d="M261.2 904h52v1h-52zM261.2 958h52v1h-52zM313.2 833h52v1h-52zM417.2 958h52v1h-52z" fill="#E4EAF0"/>
<path d="M261.2 908h52v1h-52zM417.2 955h52v1h-52z" fill="#DEDEF0"/>
<path d="M261.2 909h52v1h-52zM365.2 903h52v1h-52zM469.2 915h52v1h-52zM469.2 1140h52v1h-52zM521.2 813h52v1h-52z" fill="#F6E4D8"/>
<path d="M261.2 912h52v1h-52zM261.2 942h52v1h-52zM261.2 964h52v1h-52zM313.2 795h52v1h-52zM313.2 864h52v1h-52zM313.2 947h52v1h-52zM313.2 950h52v1h-52zM313.2 959h52v1h-52zM417.2 967h52v1h-52zM417.2 981h52v1h-52zM469.2 805h52v1h-52z" fill="#DEDEEA"/>
<path d="M261.2 913h52v1h-52zM313.2 966h52v2h-52zM313.2 971h52v1h-52zM313.2 978h52v1h-52zM365.2 1011h52v1h-52zM417.2 969h52v1h-52zM469.2 1135h52v1h-52z" fill="#E4E4F0"/>
<path d="M261.2 914h52v1h-52zM261.2 923h52v1h-52zM261.2 972h52v1h-52zM261.2 977h52v2h-52zM313.2 810h52v1h-52zM313.2 921h52v1h-52zM313.2 931h52v1h-52zM313.2 935h52v1h-52zM313.2 954h52v1h-52zM313.2 960h52v1h-52zM313.2 977h52v1h-52zM365.2 1015h52v1h-52zM469.2 804h52v1h-52zM469.2 1146h52v1h-52zM521.2 774h52v1h-52z" fill="#EAE4E4"/>
<path d="M261.2 916h52v1h-52z" fill="#EADEE4"/>
<path d="M261.2 918h52v1h-52zM261.2 950h52v1h-52zM313.2 711h52v1h-52zM313.2 770h52v1h-52zM313.2 934h52v1h-52zM313.2 958h52v1h-52zM417.2 911h52v1h-52zM469.2 907h52v1h-52zM521.2 732h52v1h-52zM521.2 752h52v1h-52zM521.2 956h52v1h-52z" fill="#EADED8"/>
<path d="M261.2 921h52v1h-52zM261.2 934h52v1h-52zM261.2 1034h52v1h-52zM313.2 636h52v1h-52zM313.2 657h52v1h-52zM313.2 669h52v1h-52zM313.2 681h52v1h-52zM313.2 724h52v1h-52zM313.2 767h52v1h-52zM313.2 924h52v1h-52zM365.2 810h52v1h-52zM365.2 812h52v1h-52zM365.2 822h52v1h-52zM365.2 833h52v1h-52zM365.2 864h52v1h-52zM365.2 892h52v1h-52zM365.2 898h52v1h-52zM365.2 908h52v1h-52zM365.2 1025h52v1h-52zM417.2 701h52v1h-52zM417.2 878h52v1h-52zM417.2 888h52v1h-52zM469.2 741h52v1h-52zM469.2 796h52v1h-52zM469.2 866h52v1h-52zM469.2 890h52v1h-52zM469.2 901h52v1h-52zM469.2 927h52v1h-52zM469.2 936h52v1h-52zM521.2 639h52v1h-52zM521.2 788h52v1h-52zM521.2 836h52v1h-52zM521.2 876h52v1h-52zM521.2 890h52v1h-52zM521.2 898h52v1h-52zM521.2 955h52v1h-52zM573.2 681h52v1h-52zM573.2 894h52v1h-52zM625.2 715h52v1h-52zM625.2 757h52v1h-52zM625.2 836h52v1h-52zM625.2 911h52v1h-52z" fill="#F6DEC0"/>
<path d="M261.2 924h52v1h-52zM261.2 929h52v1h-52zM261.2 962h52v1h-52zM313.2 940h52v1h-52zM365.2 992h52v1h-52zM417.2 1153h52v1h-52zM469.2 884h52v1h-52zM469.2 963h52v1h-52zM469.2 1122h52v1h-52zM469.2 1126h52v1h-52zM469.2 1131h52v1h-52zM469.2 1138h52v1h-52zM521.2 941h52v1h-52zM573.2 1218h52v1h-52zM573.2 1241h52v1h-52zM625.2 646h52v1h-52z" fill="#F0EAEA"/>
<path d="M261.2 927h52v1h-52z" fill="#F0D8B4"/>
<path d="M261.2 931h52v1h-52zM261.2 933h52v1h-52zM261.2 973h52v1h-52zM313.2 981h52v1h-52zM365.2 1000h52v1h-52zM417.2 961h52v1h-52zM469.2 1132h52v1h-52zM469.2 1142h52v1h-52zM521.2 939h52v1h-52z" fill="#EAEAF0"/>
<path d="M261.2 936h52v1h-52zM313.2 831h52v1h-52z" fill="#DED8EA"/>
<path d="M261.2 940h52v1h-52zM417.2 894h52v1h-52zM469.2 950h52v1h-52zM469.2 973h52v1h-52zM469.2 1128h52v1h-52zM469.2 1149h52v1h-52zM573.2 1243h52v1h-52z" fill="#F0EADE"/>
<path d="M261.2 941h52v1h-52zM313.2 829h52v1h-52z" fill="#CCC6D8"/>
<path d="M261.2 947h52v1h-52zM313.2 929h52v1h-52zM365.2 1014h52v1h-52zM365.2 1024h52v1h-52zM469.2 773h52v1h-52zM469.2 1125h52v1h-52zM469.2 1136h52v1h-52zM521.2 926h52v1h-52zM573.2 1217h52v1h-52zM573.2 1231h52v3h-52zM573.2 1247h52v1h-52zM573.2 1253h52v1h-52zM625.2 761h52v1h-52zM625.2 799h52v1h-52z" fill="#EAEAEA"/>
<path d="M261.2 951h52v1h-52zM313.2 805h52v1h-52zM521.2 739h52v1h-52zM521.2 764h52v1h-52zM521.2 1058h52v1h-52z" fill="#D2C6CC"/>
<path d="M261.2 956h52v1h-52zM365.2 843h52v1h-52zM573.2 1252h52v1h-52zM625.2 1166h52v1h-52z" fill="#EAD8D2"/>
<path d="M261.2 957h52v1h-52zM261.2 961h52v1h-52zM417.2 921h52v1h-52zM417.2 930h52v1h-52zM417.2 954h52v1h-52zM417.2 960h52v1h-52z" fill="#D2CCE4"/>
<path d="M261.2 959h52v1h-52z" fill="#E4DEEA"/>
<path d="M261.2 963h52v1h-52zM261.2 974h52v1h-52zM313.2 822h52v1h-52zM313.2 839h52v1h-52zM313.2 843h52v1h-52zM313.2 845h52v1h-52zM313.2 850h52v1h-52zM417.2 919h52v1h-52zM417.2 922h52v1h-52zM417.2 924h52v2h-52zM417.2 927h52v1h-52zM417.2 934h52v1h-52zM417.2 962h52v1h-52zM417.2 964h52v1h-52zM417.2 974h52v1h-52zM417.2 978h52v1h-52zM521.2 1079h52v1h-52z" fill="#C6C0DE"/>
<path d="M261.2 965h52v1h-52zM313.2 807h52v1h-52zM313.2 855h52v1h-52z" fill="#CCCCDE"/>
<path d="M261.2 967h52v1h-52z" fill="#D8D2EA"/>
<path d="M261.2 968h52v1h-52zM261.2 976h52v1h-52zM313.2 962h52v1h-52z" fill="#D8D2E4"/>
<path d="M261.2 969h52v1h-52zM521.2 675h52v1h-52zM625.2 749h52v1h-52z" fill="#E4D8DE"/>
<path d="M261.2 975h52v1h-52zM313.2 774h52v1h-52zM573.2 703h52v1h-52z" fill="#E4D8D8"/>
<path d="M261.2 979h52v1h-52zM313.2 815h52v1h-52zM313.2 825h52v1h-52zM313.2 834h52v2h-52zM365.2 980h52v2h-52zM417.2 966h52v1h-52zM469.2 1113h52v1h-52z" fill="#BAB4D8"/>
<path d="M261.2 981h52v1h-52zM365.2 1019h52v1h-52z" fill="#E4DEE4"/>
<path d="M261.2 988h52v1h-52zM313.2 635h52v1h-52zM313.2 753h52v1h-52zM365.2 839h52v1h-52zM365.2 1022h52v1h-52zM469.2 802h52v1h-52zM469.2 914h52v1h-52zM469.2 917h52v1h-52zM469.2 921h52v1h-52zM469.2 944h52v1h-52zM521.2 643h52v1h-52zM521.2 704h52v1h-52zM521.2 720h52v1h-52zM521.2 800h52v1h-52zM521.2 888h52v1h-52zM573.2 895h52v1h-52zM625.2 760h52v1h-52z" fill="#F0E4D8"/>
<path d="M261.2 995h52v1h-52z" fill="#FCC678"/>
<path d="M261.2 998h52v1h-52zM313.2 699h52v1h-52zM313.2 800h52v1h-52zM365.2 1139h52v1h-52zM365.2 1145h52v1h-52zM417.2 890h52v1h-52zM417.2 1042h52v1h-52zM417.2 1061h52v1h-52zM469.2 706h52v1h-52zM469.2 734h52v1h-52zM469.2 798h52v1h-52zM469.2 806h52v1h-52zM469.2 955h52v1h-52zM469.2 1137h52v1h-52zM469.2 1242h52v1h-52zM521.2 628h52v1h-52zM521.2 714h52v1h-52zM521.2 892h52v1h-52zM573.2 1227h52v1h-52zM573.2 1230h52v1h-52zM573.2 1236h52v1h-52zM625.2 647h52v1h-52zM625.2 686h52v1h-52zM625.2 763h52v1h-52zM625.2 786h52v1h-52zM625.2 900h52v1h-52z" fill="#F6EAD2"/>
<path d="M313.2 661h52v1h-52z" fill="#FCEADE"/>
<path d="M313.2 667h52v1h-52zM313.2 775h52v1h-52zM313.2 788h52v1h-52z" fill="#DED2D2"/>
<path d="M313.2 680h52v1h-52zM313.2 790h52v2h-52zM313.2 936h52v1h-52zM313.2 942h52v1h-52zM313.2 956h52v1h-52zM417.2 912h52v1h-52zM469.2 892h52v1h-52zM469.2 951h52v1h-52zM469.2 959h52v1h-52zM521.2 730h52v1h-52zM521.2 757h52v1h-52zM521.2 766h52v1h-52zM521.2 875h52v1h-52zM521.2 889h52v1h-52zM521.2 893h52v1h-52zM521.2 944h52v1h-52zM521.2 947h52v1h-52zM521.2 1087h52v1h-52zM573.2 707h52v1h-52z" fill="#F0DECC"/>
<path d="M313.2 684h52v1h-52zM521.2 726h52v1h-52zM573.2 1055h52v1h-52zM625.2 1076h52v1h-52z" fill="#D8C0C0"/>
<path d="M313.2 692h52v1h-52zM573.2 844h52v1h-52z" fill="#EADECC"/>
<path d="M313.2 701h52v1h-52zM313.2 731h52v1h-52zM313.2 796h52v1h-52zM313.2 963h52v1h-52zM365.2 991h52v1h-52zM417.2 937h52v1h-52z" fill="#D8D8E4"/>
<path d="M313.2 716h52v1h-52zM313.2 718h52v1h-52zM313.2 755h52v1h-52zM313.2 771h52v1h-52zM313.2 794h52v1h-52zM365.2 807h52v1h-52zM365.2 829h52v1h-52zM365.2 865h52v1h-52zM469.2 904h52v1h-52zM469.2 1150h52v1h-52zM521.2 698h52v1h-52zM521.2 785h52v1h-52zM521.2 806h52v1h-52zM521.2 847h52v1h-52zM521.2 961h52v1h-52zM573.2 624h52v1h-52zM573.2 669h52v1h-52zM573.2 694h52v1h-52zM573.2 727h52v1h-52zM573.2 849h52v1h-52zM573.2 893h52v1h-52z" fill="#F0D8C0"/>
<path d="M313.2 720h52v1h-52zM521.2 729h52v1h-52zM521.2 1011h52v1h-52zM521.2 1090h52v1h-52zM521.2 1107h52v1h-52zM573.2 1119h52v1h-52zM625.2 1087h52v1h-52zM625.2 1097h52v1h-52zM625.2 1143h52v1h-52zM625.2 1151h52v1h-52z" fill="#DEC6BA"/>
<path d="M313.2 738h52v1h-52zM313.2 799h52v1h-52zM313.2 939h52v1h-52zM365.2 897h52v1h-52zM365.2 1106h52v1h-52zM417.2 893h52v1h-52zM469.2 889h52v1h-52zM469.2 930h52v1h-52zM469.2 1134h52v1h-52zM469.2 1144h52v1h-52zM521.2 635h52v1h-52zM521.2 642h52v1h-52zM521.2 767h52v1h-52zM521.2 791h52v1h-52zM625.2 669h52v1h-52zM625.2 700h52v1h-52zM625.2 718h52v1h-52zM625.2 722h52v1h-52zM625.2 731h52v2h-52zM625.2 878h52v1h-52z" fill="#F6DEC6"/>
<path d="M313.2 739h52v1h-52zM313.2 761h52v1h-52zM365.2 855h52v1h-52zM365.2 878h52v1h-52zM417.2 904h52v1h-52zM573.2 729h52v1h-52zM625.2 787h52v1h-52zM625.2 1099h52v1h-52z" fill="#F6D2AE"/>
<path d="M313.2 744h52v1h-52zM469.2 801h52v1h-52zM469.2 1147h52v1h-52zM521.2 650h52v1h-52zM521.2 948h52v1h-52zM625.2 742h52v1h-52z" fill="#F0E4D2"/>
<path d="M313.2 749h52v1h-52zM313.2 763h52v1h-52zM313.2 793h52v1h-52zM521.2 666h52v1h-52zM521.2 706h52v1h-52zM521.2 723h52v1h-52zM521.2 778h52v1h-52zM521.2 783h52v1h-52zM573.2 756h52v1h-52z" fill="#E4D2C6"/>
<path d="M313.2 762h52v1h-52zM521.2 1054h52v1h-52zM625.2 1060h52v1h-52z" fill="#C6BACC"/>
<path d="M313.2 764h52v1h-52z" fill="#E4D8CC"/>
<path d="M313.2 779h52v1h-52zM521.2 711h52v1h-52zM521.2 748h52v1h-52zM521.2 797h52v1h-52z" fill="#DED2D8"/>
<path d="M313.2 782h52v1h-52z" fill="#D2C6D8"/>
<path d="M313.2 787h52v1h-52zM521.2 738h52v1h-52z" fill="#E4D2D2"/>
<path d="M313.2 789h52v1h-52z" fill="#D2C6D2"/>
<path d="M313.2 797h52v1h-52zM521.2 1115h52v1h-52zM573.2 1095h52v1h-52z" fill="#DECCCC"/>
<path d="M313.2 798h52v1h-52z" fill="#C0BACC"/>
<path d="M313.2 811h52v1h-52zM313.2 844h52v1h-52zM313.2 871h52v1h-52zM313.2 873h52v1h-52zM313.2 961h52v1h-52zM365.2 962h52v1h-52zM417.2 926h52v1h-52zM417.2 929h52v1h-52zM417.2 931h52v1h-52zM417.2 943h52v1h-52zM417.2 977h52v1h-52zM521.2 1038h52v1h-52z" fill="#C0BAD8"/>
<path d="M313.2 816h52v1h-52z" fill="#BABAD2"/>
<path d="M313.2 817h52v1h-52z" fill="#C0B4D2"/>
<path d="M313.2 824h52v1h-52zM313.2 875h52v1h-52zM365.2 964h52v2h-52z" fill="#AEA2CC"/>
<path d="M313.2 827h52v1h-52zM313.2 838h52v1h-52z" fill="#C6C0D8"/>
<path d="M313.2 828h52v1h-52z" fill="#C0C0D8"/>
<path d="M313.2 846h52v1h-52zM313.2 881h52v1h-52zM313.2 916h52v1h-52zM417.2 948h52v1h-52zM417.2 1015h52v1h-52z" fill="#AEA8CC"/>
<path d="M313.2 861h52v1h-52zM469.2 957h52v1h-52z" fill="#F6F0F0"/>
<path d="M313.2 863h52v1h-52zM521.2 772h52v1h-52z" fill="#CCC6D2"/>
<path d="M313.2 902h52v1h-52z" fill="#A8A2C6"/>
<path d="M313.2 907h52v1h-52z" fill="#8A72AE"/>
<path d="M313.2 918h52v1h-52z" fill="#F6D2B4"/>
<path d="M313.2 926h52v1h-52zM365.2 808h52v1h-52zM365.2 846h52v1h-52z" fill="#F0DEC0"/>
<path d="M313.2 933h52v1h-52zM521.2 798h52v1h-52zM521.2 802h52v1h-52z" fill="#D8CCD8"/>
<path d="M313.2 955h52v1h-52zM365.2 1042h52v1h-52z" fill="#FCF0D8"/>
<path d="M313.2 972h52v1h-52zM365.2 1013h52v1h-52z" fill="#F0EAF0"/>
<path d="M313.2 975h52v1h-52zM521.2 701h52v1h-52zM521.2 787h52v1h-52zM625.2 1189h52v1h-52z" fill="#EADEDE"/>
<path d="M365.2 821h52v1h-52zM521.2 782h52v1h-52zM573.2 692h52v1h-52zM573.2 770h52v1h-52zM573.2 1044h52v1h-52zM573.2 1085h52v1h-52zM625.2 1009h52v1h-52zM625.2 1152h52v1h-52z" fill="#DECCC0"/>
<path d="M365.2 850h52v1h-52zM469.2 990h52v1h-52zM573.2 1102h52v1h-52zM625.2 1131h52v1h-52z" fill="#D8A884"/>
<path d="M365.2 872h52v1h-52z" fill="#F6E4C0"/>
<path d="M365.2 925h52v1h-52zM469.2 1035h52v1h-52z" fill="#664296"/>
<path d="M365.2 926h52v1h-52zM417.2 1012h52v1h-52z" fill="#785AA2"/>
<path d="M365.2 928h52v1h-52z" fill="#7E66A2"/>
<path d="M365.2 958h52v1h-52z" fill="#C0BADE"/>
<path d="M365.2 960h52v1h-52zM365.2 971h52v1h-52zM469.2 1100h52v1h-52z" fill="#9C96C0"/>
<path d="M365.2 978h52v1h-52zM469.2 1103h52v1h-52z" fill="#8478AE"/>
<path d="M365.2 997h52v1h-52zM417.2 963h52v1h-52zM469.2 912h52v1h-52z" fill="#DEDEE4"/>
<path d="M365.2 1006h52v1h-52zM521.2 825h52v1h-52z" fill="#F0EAD8"/>
<path d="M365.2 1071h52v1h-52zM469.2 843h52v1h-52zM573.2 960h52v1h-52zM625.2 920h52v1h-52z" fill="#F6AE5A"/>
<path d="M365.2 1113h52v1h-52zM417.2 725h52v1h-52zM625.2 785h52v1h-52zM625.2 925h52v1h-52z" fill="#F6DEB4"/>
<path d="M365.2 1251h52v1h-52zM417.2 1119h52v1h-52zM417.2 1122h52v1h-52z" fill="#FCF0E4"/>
<path d="M417.2 738h52v1h-52zM469.2 935h52v1h-52zM521.2 946h52v1h-52zM573.2 901h52v1h-52zM625.2 889h52v1h-52z" fill="#F6D8A8"/>
<path d="M417.2 808h52v1h-52z" fill="#FCCC9C"/>
<path d="M417.2 861h52v1h-52zM573.2 847h52v1h-52zM625.2 946h52v1h-52z" fill="#F0BA7E"/>
<path d="M417.2 949h52v1h-52z" fill="#AEAED2"/>
<path d="M417.2 976h52v1h-52z" fill="#B4B4D2"/>
<path d="M417.2 980h52v1h-52z" fill="#B4AECC"/>
<path d="M417.2 987h52v1h-52z" fill="#4E1E7E"/>
<path d="M417.2 995h52v1h-52zM469.2 1048h52v1h-52z" fill="#664E96"/>
<path d="M417.2 1011h52v1h-52z" fill="#6C5490"/>
<path d="M417.2 1022h52v1h-52z" fill="#B4B4D8"/>
<path d="M417.2 1028h52v1h-52z" fill="#A89CCC"/>
<path d="M417.2 1193h52v1h-52z" fill="#FCD290"/>
<path d="M469.2 757h52v1h-52zM573.2 964h52v1h-52z" fill="#EA963C"/>
<path d="M469.2 844h52v1h-52z" fill="#F09C3C"/>
<path d="M469.2 850h52v1h-52zM521.2 920h52v1h-52zM573.2 807h52v1h-52zM573.2 948h52v1h-52zM573.2 971h52v1h-52z" fill="#F6AE60"/>
<path d="M469.2 855h52v1h-52z" fill="#FCB466"/>
<path d="M469.2 885h52v1h-52z" fill="#EAE4D8"/>
<path d="M469.2 908h52v1h-52zM469.2 1154h52v1h-52zM625.2 754h52v1h-52z" fill="#F0F0EA"/>
<path d="M469.2 984h52v1h-52z" fill="#967EA8"/>
<path d="M469.2 985h52v1h-52z" fill="#9C8AAE"/>
<path d="M469.2 987h52v1h-52z" fill="#BAAED2"/>
<path d="M469.2 988h52v1h-52z" fill="#9C84A8"/>
<path d="M469.2 989h52v1h-52zM469.2 1022h52v1h-52zM521.2 1033h52v1h-52zM625.2 1062h52v1h-52zM625.2 1169h52v1h-52z" fill="#C0A8B4"/>
<path d="M469.2 992h52v1h-52z" fill="#D2BAB4"/>
<path d="M469.2 993h52v1h-52zM469.2 1014h52v1h-52zM625.2 1155h52v1h-52z" fill="#B49CA8"/>
<path d="M469.2 994h52v1h-52z" fill="#D2A89C"/>
<path d="M469.2 995h52v1h-52zM521.2 1040h52v1h-52zM521.2 1045h52v1h-52z" fill="#9C8ABA"/>
<path d="M469.2 996h52v1h-52zM625.2 1048h52v1h-52z" fill="#AEA2C0"/>
<path d="M469.2 997h52v1h-52zM521.2 1104h52v1h-52zM625.2 1213h52v1h-52z" fill="#AEA2C6"/>
<path d="M469.2 998h52v1h-52z" fill="#9C90BA"/>
<path d="M469.2 999h52v1h-52zM521.2 722h52v1h-52zM521.2 1101h52v1h-52z" fill="#CCC0C6"/>
<path d="M469.2 1000h52v1h-52zM625.2 1112h52v1h-52z" fill="#C6AEB4"/>
<path d="M469.2 1001h52v1h-52zM469.2 1028h52v1h-52zM521.2 759h52v1h-52zM521.2 1003h52v1h-52zM521.2 1012h52v1h-52zM521.2 1024h52v1h-52zM573.2 797h52v1h-52zM625.2 983h52v1h-52zM625.2 1041h52v1h-52zM625.2 1208h52v1h-52z" fill="#CCAEA8"/>
<path d="M469.2 1002h52v1h-52zM625.2 1154h52v1h-52z" fill="#D8CCD2"/>
<path d="M469.2 1003h52v1h-52z" fill="#AE8A96"/>
<path d="M469.2 1004h52v1h-52zM521.2 758h52v1h-52zM521.2 1018h52v1h-52zM573.2 1042h52v1h-52zM573.2 1046h52v1h-52z" fill="#D2C0C6"/>
<path d="M469.2 1005h52v1h-52z" fill="#AEA2BA"/>
<path d="M469.2 1007h52v1h-52zM521.2 1031h52v1h-52zM625.2 1065h52v1h-52z" fill="#CCB4B4"/>
<path d="M469.2 1008h52v1h-52z" fill="#B49CA2"/>
<path d="M469.2 1009h52v1h-52zM521.2 1026h52v1h-52z" fill="#AE90A2"/>
<path d="M469.2 1010h52v1h-52zM521.2 1041h52v1h-52z" fill="#B49CB4"/>
<path d="M469.2 1012h52v1h-52zM469.2 1026h52v1h-52zM521.2 1027h52v1h-52z" fill="#BAA8BA"/>
<path d="M469.2 1015h52v1h-52zM521.2 982h52v1h-52zM625.2 1090h52v1h-52z" fill="#DEBAA8"/>
<path d="M469.2 1016h52v1h-52z" fill="#CC9C84"/>
<path d="M469.2 1017h52v1h-52zM521.2 745h52v1h-52zM625.2 1200h52v1h-52z" fill="#C6B4C0"/>
<path d="M469.2 1018h52v1h-52zM521.2 776h52v1h-52zM625.2 1146h52v1h-52zM625.2 1193h52v1h-52z" fill="#D2BABA"/>
<path d="M469.2 1020h52v1h-52zM521.2 1053h52v1h-52zM521.2 1116h52v1h-52z" fill="#B4A2BA"/>
<path d="M469.2 1021h52v1h-52z" fill="#CCA8A8"/>
<path d="M469.2 1023h52v1h-52zM573.2 1078h52v1h-52z" fill="#D8C6C0"/>
<path d="M469.2 1024h52v1h-52z" fill="#8A6CA2"/>
<path d="M469.2 1025h52v1h-52z" fill="#C69C9C"/>
<path d="M469.2 1027h52v1h-52zM573.2 765h52v1h-52zM573.2 796h52v1h-52zM573.2 1000h52v1h-52zM573.2 1087h52v1h-52zM625.2 1017h52v1h-52z" fill="#DEBAA2"/>
<path d="M469.2 1038h52v1h-52z" fill="#5A367E"/>
<path d="M469.2 1064h52v1h-52z" fill="#907EBA"/>
<path d="M469.2 1109h52v1h-52z" fill="#B4A8D2"/>
<path d="M521.2 651h52v1h-52z" fill="#D2AEA2"/>
<path d="M521.2 655h52v1h-52zM573.2 787h52v1h-52zM573.2 1017h52v1h-52zM625.2 1192h52v1h-52z" fill="#EAD8C0"/>
<path d="M521.2 658h52v1h-52zM521.2 801h52v1h-52z" fill="#E4CCC6"/>
<path d="M521.2 697h52v1h-52zM521.2 789h52v1h-52zM521.2 959h52v1h-52z" fill="#E4D2C0"/>
<path d="M521.2 715h52v1h-52z" fill="#DED2CC"/>
<path d="M521.2 725h52v1h-52zM521.2 1056h52v1h-52z" fill="#D8C0B4"/>
<path d="M521.2 728h52v1h-52z" fill="#F0DED8"/>
<path d="M521.2 734h52v1h-52zM521.2 1020h52v1h-52zM521.2 1051h52v1h-52z" fill="#D2BAC0"/>
<path d="M521.2 746h52v1h-52z" fill="#E4DED8"/>
<path d="M521.2 751h52v1h-52z" fill="#EAD2C6"/>
<path d="M521.2 762h52v1h-52z" fill="#D8CCCC"/>
<path d="M521.2 769h52v1h-52z" fill="#CCC0CC"/>
<path d="M521.2 773h52v1h-52zM573.2 757h52v1h-52z" fill="#E4D2CC"/>
<path d="M521.2 779h52v1h-52z" fill="#DED8D8"/>
<path d="M521.2 799h52v1h-52z" fill="#BAA8C6"/>
<path d="M521.2 900h52v1h-52zM521.2 909h52v1h-52zM521.2 911h52v1h-52zM625.2 784h52v1h-52zM625.2 954h52v1h-52z" fill="#F6BA78"/>
<path d="M521.2 901h52v1h-52z" fill="#E4AE72"/>
<path d="M521.2 912h52v1h-52zM573.2 940h52v1h-52z" fill="#E4A860"/>
<path d="M521.2 913h52v1h-52zM573.2 836h52v1h-52z" fill="#E49C4E"/>
<path d="M521.2 969h52v1h-52z" fill="#EABA7E"/>
<path d="M521.2 970h52v1h-52zM573.2 830h52v1h-52zM573.2 963h52v1h-52z" fill="#F0BA78"/>
<path d="M521.2 978h52v1h-52zM573.2 914h52v1h-52z" fill="#F0C07E"/>
<path d="M521.2 981h52v1h-52zM573.2 939h52v1h-52zM625.2 830h52v1h-52z" fill="#F0A248"/>
<path d="M521.2 983h52v1h-52zM625.2 1029h52v1h-52z" fill="#C0A2A2"/>
<path d="M521.2 985h52v1h-52zM573.2 1147h52v1h-52zM625.2 985h52v1h-52zM625.2 996h52v1h-52zM625.2 1124h52v1h-52z" fill="#D2AE9C"/>
<path d="M521.2 986h52v1h-52z" fill="#D8B4A8"/>
<path d="M521.2 987h52v1h-52z" fill="#A890A8"/>
<path d="M521.2 988h52v1h-52z" fill="#D2B4AE"/>
<path d="M521.2 990h52v1h-52zM521.2 1035h52v1h-52z" fill="#B4969C"/>
<path d="M521.2 991h52v1h-52z" fill="#BAB4CC"/>
<path d="M521.2 1000h52v1h-52zM625.2 1002h52v1h-52z" fill="#E4B490"/>
<path d="M521.2 1004h52v1h-52z" fill="#E4B496"/>
<path d="M521.2 1006h52v1h-52zM573.2 715h52v1h-52zM573.2 1003h52v1h-52zM573.2 1016h52v1h-52zM573.2 1033h52v1h-52zM625.2 1148h52v1h-52z" fill="#D8B49C"/>
<path d="M521.2 1008h52v1h-52zM521.2 1039h52v1h-52zM625.2 1104h52v1h-52z" fill="#C0A8AE"/>
<path d="M521.2 1016h52v1h-52zM573.2 1132h52v1h-52zM625.2 1111h52v1h-52z" fill="#F0C6A2"/>
<path d="M521.2 1017h52v1h-52zM625.2 1142h52v1h-52zM625.2 1170h52v1h-52z" fill="#C6A8A2"/>
<path d="M521.2 1019h52v1h-52z" fill="#C0A2A8"/>
<path d="M521.2 1022h52v1h-52z" fill="#C6AEBA"/>
<path d="M521.2 1023h52v1h-52z" fill="#BAA2A8"/>
<path d="M521.2 1025h52v1h-52zM625.2 1178h52v1h-52zM625.2 1191h52v1h-52z" fill="#A890AE"/>
<path d="M521.2 1030h52v1h-52zM521.2 1036h52v1h-52z" fill="#C6A2A2"/>
<path d="M521.2 1032h52v1h-52zM625.2 1064h52v1h-52z" fill="#D2C6C6"/>
<path d="M521.2 1034h52v1h-52zM573.2 1092h52v1h-52zM625.2 1050h52v1h-52z" fill="#D8C0AE"/>
<path d="M521.2 1037h52v1h-52z" fill="#A284A2"/>
<path d="M521.2 1042h52v1h-52z" fill="#A896B4"/>
<path d="M521.2 1043h52v1h-52z" fill="#C6BAC6"/>
<path d="M521.2 1047h52v1h-52z" fill="#C0A2AE"/>
<path d="M521.2 1048h52v1h-52z" fill="#AE9CBA"/>
<path d="M521.2 1052h52v1h-52z" fill="#A296C0"/>
<path d="M521.2 1055h52v1h-52zM521.2 1070h52v1h-52z" fill="#C0B4C6"/>
<path d="M521.2 1057h52v1h-52z" fill="#A88AA2"/>
<path d="M521.2 1063h52v1h-52z" fill="#A896BA"/>
<path d="M521.2 1064h52v1h-52z" fill="#BAA2B4"/>
<path d="M521.2 1065h52v1h-52zM573.2 983h52v1h-52zM625.2 1046h52v1h-52zM625.2 1056h52v1h-52z" fill="#DEB49C"/>
<path d="M521.2 1066h52v1h-52z" fill="#AE96A8"/>
<path d="M521.2 1067h52v1h-52zM625.2 1072h52v1h-52z" fill="#C0AEC0"/>
<path d="M521.2 1069h52v1h-52zM521.2 1080h52v1h-52z" fill="#D2C0BA"/>
<path d="M521.2 1071h52v1h-52z" fill="#BAAEC0"/>
<path d="M521.2 1073h52v1h-52z" fill="#B4A8C6"/>
<path d="M521.2 1075h52v1h-52zM625.2 1209h52v2h-52z" fill="#A89CC0"/>
<path d="M521.2 1076h52v1h-52z" fill="#9C8AB4"/>
<path d="M521.2 1077h52v1h-52zM625.2 1205h52v1h-52z" fill="#A28AAE"/>
<path d="M521.2 1081h52v1h-52zM521.2 1108h52v1h-52z" fill="#BAAEC6"/>
<path d="M521.2 1084h52v1h-52zM625.2 1141h52v1h-52zM625.2 1160h52v1h-52z" fill="#DEB490"/>
<path d="M521.2 1088h52v1h-52zM521.2 1092h52v1h-52z" fill="#C09C96"/>
<path d="M521.2 1091h52v1h-52z" fill="#C69C84"/>
<path d="M521.2 1093h52v1h-52z" fill="#C6AEA8"/>
<path d="M521.2 1094h52v1h-52z" fill="#BAA8AE"/>
<path d="M521.2 1095h52v1h-52z" fill="#C6AEAE"/>
<path d="M521.2 1099h52v1h-52z" fill="#C09C8A"/>
<path d="M521.2 1100h52v1h-52z" fill="#A87E96"/>
<path d="M521.2 1102h52v1h-52zM573.2 742h52v1h-52zM573.2 984h52v1h-52zM625.2 1038h52v1h-52zM625.2 1145h52v1h-52zM625.2 1176h52v1h-52z" fill="#D8BAA8"/>
<path d="M521.2 1103h52v1h-52zM521.2 1105h52v1h-52z" fill="#C0B4C0"/>
<path d="M521.2 1110h52v1h-52z" fill="#CCBAC0"/>
<path d="M521.2 1111h52v1h-52z" fill="#8A72A8"/>
<path d="M521.2 1114h52v1h-52zM625.2 1194h52v1h-52z" fill="#A290BA"/>
<path d="M521.2 1122h52v1h-52z" fill="#4E2472"/>
<path d="M521.2 1134h52v1h-52z" fill="#6C4896"/>
<path d="M573.2 677h52v1h-52zM573.2 759h52v1h-52zM625.2 1049h52v1h-52z" fill="#DEC0AE"/>
<path d="M573.2 698h52v1h-52zM573.2 1050h52v1h-52z" fill="#DEC6AE"/>
<path d="M573.2 716h52v1h-52z" fill="#EAC0A2"/>
<path d="M573.2 719h52v1h-52zM625.2 1177h52v1h-52zM625.2 1202h52v1h-52z" fill="#DEC0B4"/>
<path d="M573.2 744h52v1h-52zM573.2 1098h52v1h-52z" fill="#F0B472"/>
<path d="M573.2 767h52v1h-52zM625.2 1055h52v1h-52z" fill="#D8B4A2"/>
<path d="M573.2 769h52v1h-52zM573.2 1124h52v1h-52zM625.2 1089h52v1h-52zM625.2 1106h52v1h-52z" fill="#E4C0A8"/>
<path d="M573.2 790h52v1h-52zM573.2 1081h52v1h-52z" fill="#D8AE90"/>
<path d="M573.2 806h52v1h-52zM573.2 955h52v1h-52z" fill="#E49030"/>
<path d="M573.2 829h52v1h-52zM573.2 945h52v1h-52z" fill="#F0B466"/>
<path d="M573.2 831h52v1h-52z" fill="#E49642"/>
<path d="M573.2 832h52v1h-52z" fill="#D88424"/>
<path d="M573.2 835h52v1h-52zM573.2 842h52v1h-52zM573.2 850h52v1h-52zM625.2 960h52v1h-52zM625.2 973h52v1h-52z" fill="#F0A854"/>
<path d="M573.2 845h52v1h-52zM573.2 865h52v1h-52z" fill="#F0A85A"/>
<path d="M573.2 853h52v1h-52z" fill="#F0BA72"/>
<path d="M573.2 855h52v1h-52zM573.2 874h52v1h-52z" fill="#EA9636"/>
<path d="M573.2 859h52v1h-52z" fill="#D2842A"/>
<path d="M573.2 863h52v1h-52zM625.2 776h52v1h-52z" fill="#F0AE66"/>
<path d="M573.2 870h52v1h-52zM625.2 850h52v1h-52z" fill="#EAA24E"/>
<path d="M573.2 875h52v1h-52z" fill="#EAA860"/>
<path d="M573.2 916h52v1h-52zM573.2 929h52v1h-52z" fill="#F0A242"/>
<path d="M573.2 918h52v1h-52z" fill="#EAB46C"/>
<path d="M573.2 919h52v1h-52z" fill="#E49636"/>
<path d="M573.2 920h52v1h-52z" fill="#DE8A24"/>
<path d="M573.2 926h52v1h-52zM625.2 944h52v1h-52z" fill="#F6B45A"/>
<path d="M573.2 928h52v1h-52zM573.2 935h52v1h-52z" fill="#EA9C42"/>
<path d="M573.2 947h52v1h-52z" fill="#EAA854"/>
<path d="M573.2 953h52v1h-52z" fill="#EA9C48"/>
<path d="M573.2 954h52v1h-52z" fill="#D27E1E"/>
<path d="M573.2 958h52v1h-52z" fill="#EA9C36"/>
<path d="M573.2 970h52v1h-52zM625.2 976h52v1h-52z" fill="#EAA85A"/>
<path d="M573.2 972h52v1h-52zM573.2 975h52v1h-52z" fill="#DE9642"/>
<path d="M573.2 977h52v1h-52z" fill="#E49C48"/>
<path d="M573.2 979h52v1h-52zM625.2 981h52v1h-52z" fill="#F6BA66"/>
<path d="M573.2 981h52v1h-52z" fill="#EA9630"/>
<path d="M573.2 992h52v1h-52zM625.2 1074h52v1h-52z" fill="#D8C6BA"/>
<path d="M573.2 993h52v1h-52zM625.2 1150h52v1h-52z" fill="#D2A284"/>
<path d="M573.2 1012h52v1h-52z" fill="#EAC08A"/>
<path d="M573.2 1014h52v1h-52z" fill="#CCB4A8"/>
<path d="M573.2 1069h52v1h-52z" fill="#EACCA2"/>
<path d="M573.2 1074h52v1h-52z" fill="#D8BA9C"/>
<path d="M573.2 1086h52v1h-52zM625.2 1101h52v1h-52z" fill="#E4BA8A"/>
<path d="M573.2 1091h52v1h-52z" fill="#BA908A"/>
<path d="M573.2 1099h52v1h-52zM625.2 1085h52v1h-52z" fill="#EAB478"/>
<path d="M573.2 1107h52v1h-52z" fill="#D2A27E"/>
<path d="M573.2 1120h52v1h-52z" fill="#D2C0CC"/>
<path d="M573.2 1121h52v1h-52z" fill="#AE9CB4"/>
<path d="M573.2 1137h52v1h-52z" fill="#CCA296"/>
<path d="M573.2 1142h52v1h-52z" fill="#C6BAC0"/>
<path d="M573.2 1143h52v1h-52z" fill="#D2AE96"/>
<path d="M573.2 1172h52v1h-52z" fill="#48186C"/>
<path d="M573.2 1246h52v1h-52z" fill="#F0E4E4"/>
<path d="M625.2 916h52v1h-52z" fill="#F0A24E"/>
<path d="M625.2 930h52v1h-52z" fill="#FCB460"/>
<path d="M625.2 957h52v1h-52z" fill="#EAA254"/>
<path d="M625.2 958h52v1h-52z" fill="#DE9C54"/>
<path d="M625.2 959h52v1h-52z" fill="#F0C68A"/>
<path d="M625.2 989h52v1h-52z" fill="#D8AE8A"/>
<path d="M625.2 995h52v1h-52zM625.2 1180h52v1h-52z" fill="#E4C6BA"/>
<path d="M625.2 1001h52v1h-52z" fill="#FCCC84"/>
<path d="M625.2 1039h52v1h-52zM625.2 1163h52v1h-52zM625.2 1168h52v1h-52z" fill="#C0BAD2"/>
<path d="M625.2 1040h52v1h-52z" fill="#D8AE9C"/>
<path d="M625.2 1044h52v1h-52z" fill="#C6A290"/>
<path d="M625.2 1047h52v1h-52z" fill="#CCAEAE"/>
<path d="M625.2 1066h52v1h-52zM625.2 1175h52v1h-52z" fill="#BA9CA8"/>
<path d="M625.2 1084h52v1h-52z" fill="#D29C72"/>
<path d="M625.2 1088h52v1h-52z" fill="#C09C9C"/>
<path d="M625.2 1094h52v1h-52zM625.2 1179h52v1h-52z" fill="#B49CBA"/>
<path d="M625.2 1110h52v1h-52z" fill="#CCA28A"/>
<path d="M625.2 1118h52v1h-52zM625.2 1147h52v1h-52z" fill="#CCA896"/>
<path d="M625.2 1122h52v1h-52z" fill="#BA9090"/>
<path d="M625.2 1126h52v1h-52z" fill="#C0A29C"/>
<path d="M625.2 1127h52v1h-52z" fill="#DEA26C"/>
<path d="M625.2 1128h52v1h-52z" fill="#BA96A2"/>
<path d="M625.2 1129h52v1h-52z" fill="#D2B4A2"/>
<path d="M625.2 1130h52v1h-52z" fill="#C6A29C"/>
<path d="M625.2 1132h52v1h-52z" fill="#C6A296"/>
<path d="M625.2 1133h52v1h-52z" fill="#D2A896"/>
<path d="M625.2 1135h52v1h-52z" fill="#CCA29C"/>
<path d="M625.2 1137h52v1h-52z" fill="#C6A89C"/>
<path d="M625.2 1144h52v1h-52z" fill="#9C7E96"/>
<path d="M625.2 1167h52v1h-52z" fill="#EACCBA"/>
<path d="M625.2 1173h52v1h-52z" fill="#B4A2C0"/>
<path d="M625.2 1174h52v1h-52z" fill="#CCBABA"/>
<path d="M625.2 1181h52v1h-52z" fill="#9C7EAE"/>
<path d="M625.2 1183h52v1h-52z" fill="#BA9CA2"/>
<path d="M625.2 1184h52v1h-52z" fill="#90729C"/>
<path d="M625.2 1185h52v1h-52z" fill="#CCC0D2"/>
<path d="M625.2 1186h52v1h-52z" fill="#CCA8A2"/>
<path d="M625.2 1187h52v1h-52z" fill="#AEA8C6"/>
<path d="M625.2 1188h52v1h-52z" fill="#BA9696"/>
<path d="M625.2 1197h52v1h-52z" fill="#BAA2BA"/>
<path d="M625.2 1198h52v1h-52z" fill="#9684B4"/>
<path d="M625.2 1201h52v1h-52z" fill="#967EB4"/>
<path d="M625.2 1203h52v1h-52z" fill="#9C78A2"/>
<path d="M625.2 1204h52v1h-52z" fill="#AE96B4"/>
<path d="M625.2 1206h52v1h-52z" fill="#B49CAE"/>
<path d="M625.2 1207h52v1h-52z" fill="#9C84A2"/>
<path d="M625.2 1211h52v1h-52z" fill="#C0B4CC"/>
<path d="M625.2 1212h52v1h-52z" fill="#A290B4"/>
<path d="M625.2 1217h52v1h-52zM625.2 1221h52v1h-52z" fill="#30064E"/>
<path d="M625.2 1231h52v1h-52z" fill="#3C1260"/>
</g>
<defs><linearGradient id="lg" x1="0" x2="0" y1="0" y2="1">
<stop offset="0.000" stop-color="#5E3990"/>
<stop offset="0.050" stop-color="#6F559E"/>
<stop offset="0.100" stop-color="#7F72AB"/>
<stop offset="0.150" stop-color="#9287BA"/>
<stop offset="0.200" stop-color="#A59CC8"/>
<stop offset="0.250" stop-color="#B6B0D5"/>
<stop offset="0.300" stop-color="#C4C2DE"/>
<stop offset="0.350" stop-color="#D3D3E7"/>
<stop offset="0.400" stop-color="#DFE1EE"/>
<stop offset="0.450" stop-color="#EBECF2"/>
<stop offset="0.500" stop-color="#F6F7F7"/>
<stop offset="0.550" stop-color="#FAEFE0"/>
<stop offset="0.600" stop-color="#FCE6C7"/>
<stop offset="0.650" stop-color="#FEDCAD"/>
<stop offset="0.700" stop-color="#FECD8E"/>
<stop offset="0.750" stop-color="#FDBE6F"/>
<stop offset="0.800" stop-color="#F6AB51"/>
<stop offset="0.850" stop-color="#EB9733"/>
<stop offset="0.900" stop-color="#E08315"/>
<stop offset="0.950" stop-color="#D0730F"/>
<stop offset="1.000" stop-color="#BF630A"/>
</linearGradient></defs>
<rect x="68.1" y="1111.6" width="28" height="138.7" fill="url(#lg)"/>
<text x="67.19" y="1098.00" font-size="14.7">Expression</text>
<path d="M68.1 1119.6h5.5M96.1 1119.6h-5.5" stroke="#fff" stroke-opacity="0.6" stroke-width="0.8"/>
<text x="103.73" y="1124.40" font-size="13.5">2</text>
<path d="M68.1 1150.6h5.5M96.1 1150.6h-5.5" stroke="#fff" stroke-opacity="0.6" stroke-width="0.8"/>
<text x="103.39" y="1155.40" font-size="13.5">1</text>
<path d="M68.1 1181.4h5.5M96.1 1181.4h-5.5" stroke="#fff" stroke-opacity="0.6" stroke-width="0.8"/>
<text x="103.86" y="1186.20" font-size="13.5">0</text>
<path d="M68.1 1212.4h5.5M96.1 1212.4h-5.5" stroke="#fff" stroke-opacity="0.6" stroke-width="0.8"/>
<text x="103.99" y="1217.20" font-size="13.5">-1</text>
<path d="M68.1 1242.8h5.5M96.1 1242.8h-5.5" stroke="#fff" stroke-opacity="0.6" stroke-width="0.8"/>
<text x="103.99" y="1247.60" font-size="13.5">-2</text>
<text x="247.70" y="1280.00" font-size="19.6" text-anchor="end" transform="rotate(-45 247.70 1280.00)">Germ</text>
<text x="299.70" y="1280.00" font-size="19.6" text-anchor="end" transform="rotate(-45 299.70 1280.00)">BPG</text>
<text x="351.70" y="1280.00" font-size="19.6" text-anchor="end" transform="rotate(-45 351.70 1280.00)">EPG</text>
<text x="403.70" y="1280.00" font-size="19.6" text-anchor="end" transform="rotate(-45 403.70 1280.00)">GI.</text>
<text x="455.70" y="1280.00" font-size="19.6" text-anchor="end" transform="rotate(-45 455.70 1280.00)">Sm.</text>
<text x="507.70" y="1280.00" font-size="19.6" text-anchor="end" transform="rotate(-45 507.70 1280.00)">Endo.</text>
<text x="559.70" y="1280.00" font-size="19.6" text-anchor="end" transform="rotate(-45 559.70 1280.00)">PV.</text>
<text x="611.70" y="1280.00" font-size="19.6" text-anchor="end" transform="rotate(-45 611.70 1280.00)">T cells</text>
<text x="663.70" y="1280.00" font-size="19.6" text-anchor="end" transform="rotate(-45 663.70 1280.00)">Macro.</text>
</g>
<g id="pd">
<text x="740.10" y="599.10" font-size="40">d</text>
<text x="959.66" y="610.90" font-size="19.9">Representative marker gene expression</text>
<text x="789.70" y="636.90" font-size="13" fill="#E01E26"><tspan font-style="italic">DAZL</tspan></text>
<text x="779.49" y="655.68" font-size="13" fill="#E01E26"><tspan font-style="italic">SYCP3</tspan></text>
<text x="777.67" y="674.45" font-size="13" fill="#E01E26"><tspan font-style="italic">SMC1B</tspan></text>
<text x="783.36" y="693.23" font-size="13" fill="#E01E26"><tspan font-style="italic">STK31</tspan></text>
<text x="771.07" y="712.00" font-size="13" fill="#E01E26"><tspan font-style="italic">SOHLH1</tspan></text>
<text x="785.18" y="730.78" font-size="13" fill="#F58231"><tspan font-style="italic">WNT6</tspan></text>
<text x="784.20" y="749.56" font-size="13" fill="#F58231"><tspan font-style="italic">CRYM</tspan></text>
<text x="795.93" y="768.33" font-size="13" fill="#F58231"><tspan font-style="italic">CLU</tspan></text>
<text x="779.55" y="787.11" font-size="13" fill="#F58231"><tspan font-style="italic">CTRB2</tspan></text>
<text x="787.68" y="805.88" font-size="13" fill="#F58231"><tspan font-style="italic">ENO1</tspan></text>
<text x="782.06" y="824.66" font-size="13" fill="#8FD3E8"><tspan font-style="italic">KRT19</tspan></text>
<text x="789.08" y="843.44" font-size="13" fill="#8FD3E8"><tspan font-style="italic">KRT8</tspan></text>
<text x="789.76" y="862.21" font-size="13" fill="#8FD3E8"><tspan font-style="italic">LHX9</tspan></text>
<text x="785.34" y="880.99" font-size="13" fill="#8FD3E8"><tspan font-style="italic">GNG2</tspan></text>
<text x="781.18" y="899.76" font-size="13" fill="#8FD3E8"><tspan font-style="italic">FRAS1</tspan></text>
<text x="773.22" y="918.54" font-size="13" fill="#87288F"><tspan font-style="italic">COL3A1</tspan></text>
<text x="793.82" y="937.32" font-size="13" fill="#87288F"><tspan font-style="italic">DCN</tspan></text>
<text x="773.22" y="956.09" font-size="13" fill="#87288F"><tspan font-style="italic">COL1A1</tspan></text>
<text x="792.39" y="974.87" font-size="13" fill="#87288F"><tspan font-style="italic">OGN</tspan></text>
<text x="794.57" y="993.64" font-size="13" fill="#87288F"><tspan font-style="italic">LUM</tspan></text>
<text x="781.25" y="1012.42" font-size="13" fill="#DDAA66"><tspan font-style="italic">ACTA2</tspan></text>
<text x="786.58" y="1031.20" font-size="13" fill="#DDAA66"><tspan font-style="italic">RGS5</tspan></text>
<text x="779.62" y="1049.97" font-size="13" fill="#DDAA66"><tspan font-style="italic">TAGLN</tspan></text>
<text x="769.64" y="1068.75" font-size="13" fill="#8CC863"><tspan font-style="italic">PECAM1</tspan></text>
<text x="779.72" y="1087.52" font-size="13" fill="#8CC863"><tspan font-style="italic">APOA1</tspan></text>
<text x="786.77" y="1106.30" font-size="13" fill="#8CC863"><tspan font-style="italic">LMO2</tspan></text>
<text x="775.43" y="1125.08" font-size="13" fill="#2CA02C"><tspan font-style="italic">MMRN1</tspan></text>
<text x="783.81" y="1143.85" font-size="13" fill="#2CA02C"><tspan font-style="italic">LYVE1</tspan></text>
<text x="779.00" y="1162.63" font-size="13" fill="#2CA02C"><tspan font-style="italic">PROX1</tspan></text>
<text x="784.43" y="1181.40" font-size="13" fill="#3CBBA4"><tspan font-style="italic">SRGN</tspan></text>
<text x="782.71" y="1200.18" font-size="13" fill="#3CBBA4"><tspan font-style="italic">CTSW</tspan></text>
<text x="787.68" y="1218.96" font-size="13" fill="#3CBBA4"><tspan font-style="italic">RGS1</tspan></text>
<text x="769.84" y="1237.73" font-size="13" fill="#2A2D72"><tspan font-style="italic">FCER1G</tspan></text>
<text x="769.97" y="1256.51" font-size="13" fill="#2A2D72"><tspan font-style="italic">FCGR3A</tspan></text>
<path d="M874.0 623V1260M1027.0 623V1260M1103.0 623V1260M1249.0 623V1260M1256.0 623V1260M1328.0 623V1260M1338.0 623V1260M1351.0 623V1260M1431.0 623V1260" stroke="#8C8C8C" stroke-width="1.1" stroke-dasharray="1.3 2.5" fill="none"/>
<path d="M835 640.1v-12.5h1v-1h1v1h1v-3.5h2v.5h1v5.5h1v-3.5h1v-1h1v2.5h1v-1.5h1v-2.5h1v1h1v1h1v-1h1v3h2v-3h1v2.5h1v-2h1v-.5h1v-.5h1v3h1v2h1v-4.5h1v1h1v-1h1v-1h1v5h1v-5.5h1v2.5h3v-1h1v2h1v1h1v1.5h1v-2.5h1v3h1v10zM835 658.9v-6.5h1v-5.5h1v-4.5h1v6.5h1v-6.5h1v7h1v-4.5h1v3.5h1v-6h1v5h1v6h1v-9.5h1v-1h1v3.5h3v-4h1v5.5h1v.5h1v-5.5h1v9h1v-6.5h1v4h1v-3.5h1v2.5h1v-6h1v3.5h1v3h1v-6h1v2.5h1v5h1v-2h1v-5h1v3h1v7.5h1v-10h1v3h1v5h1v-4.5h1v11.5zM835 677.7v-13h1v-.5h1v-.5h1v.5h1v-3h1v4h1v-1h1v-.5h4v-2h1v3.5h1v-.5h1v.5h1v-3h1v-.5h1v2.5h2v-.5h1v-.5h1v1.5h1v-1h2v-.5h1v2.5h1v-1h2v-.5h1v2.5h1v-1.5h1v-.5h3v-3.5h1v2.5h1v-.5h1v1.5h1v-.5h1v13.5zM835 696.4v-13.5h1v1.5h1v.5h1v-1h1v.5h1v1.5h1v-.5h1v2.5h1v-2h1v-3h1v2h1v-1.5h1v2h3v-1.5h1v.5h1v-1.5h1v1h1v-1h1v2h1v-2h1v2h1v-3h1v2h2v-2h1v1.5h1v.5h1v1h1v-1.5h1v3h1v1h1v-5.5h1v2.5h1v-1.5h1v1.5h1v-1.5h1v1.5h1v12zM835 715.2v-11.5h1v-4h1v2.5h1v1h1v-1.5h1v1h1v2.5h1v-1h1v-4h1v3h1v-2.5h1v1h1v-.5h1v3h1v-2.5h3v1.5h1v-1.5h1v.5h1v-1h1v-1h1v.5h1v1.5h1v.5h1v-1h1v1h1v-1h1v1h1v-2.5h1v1.5h3v1.5h1v-3.5h1v2.5h1v-3h1v3h1v1h1v12zM835 734v-11.5h1v11.5h1v-14.5h1v4.5h1v10h4v-8h1v8h2v-4h1v4h3v-9h1v5h1v4h2v-2.5h1v2.5h1v-4.5h1v-1h1v3.5h1v2h1v-2h1v-3h1v.5h1v4.5h1v-4h1v.5h1v2h1v-3.5h1v-6h1v2h1v-3h1v9.5h1v2.5h1v-1.5h1v1.5zM835 752.8v-8h2v2h1v-2.5h2v.5h1v-1h1v2h1v.5h2v-.5h1v1.5h2v-2.5h1v2h1v.5h1v.5h1v-.5h1v-.5h2v2h1v-5.5h1v4.5h1v-5h1v4.5h1v1.5h1v-4h1v3.5h1v-1.5h1v1h1v-1.5h1v1.5h1v-2h1v-2.5h1v2.5h1v1.5h1v-1.5h2v1h1v6zM835 771.5v-2h1v-4.5h3v.5h1v-4h1v2h1v.5h1v1h1v1.5h1v-2h1v4h1v-2.5h1v-3h1v3h1v2h1v-3.5h1v1h1v1h1v.5h1v.5h1v-6.5h1v5h1v-2.5h1v1.5h1v1h1v-2h1v2h1v-.5h1v1h1v.5h1v-1h1v2h2v-2h1v-.5h2v4h1v-4.5h1v6.5zM835 790.3v-6.5h1v4.5h1v-2h1v1.5h1v-2h1v-2h1v.5h1v-1.5h1v4.5h1v-6h1v4h1v2h1v-.5h1v-6.5h1v7h1v-.5h1v3.5h1v-6.5h1v.5h1v-1.5h1v2.5h1v2.5h1v-3.5h1v3.5h1v.5h1v-1.5h1v-3.5h1v2h1v.5h1v.5h1v1.5h1v-3h1v2h1v-1.5h1v-1.5h1v2.5h1v3h1v-1.5h1v2.5h1zM835 809.1v-7.5h1v-3h1v3.5h1v-2h2v3h1v-.5h1v-2.5h1v2h1v1h1v-1h1v.5h1v-1h1v1.5h1v-1h2v2h1v-2.5h1v-.5h1v-1.5h1v.5h1v3.5h1v-2.5h1v-1.5h1v2h2v-2h1v2h2v-1h1v3.5h1v-3h1v-2h1v.5h2v-1h1v2.5h1v-.5h1v1h1v7.5zM835 827.9v-6h1v-1h1v1.5h1v.5h1v-1h1v-3h1v1.5h1v-.5h1v1.5h2v.5h1v-1.5h1v3h2v-2.5h1v3h1v-1.5h1v-2.5h1v-1h1v4h1v-2h1v-.5h1v3h1v-3h1v1.5h3v1.5h3v-2h1v1h1v.5h1v1.5h1v-4.5h2v-1.5h1v4h1v-3.5h1v9zM835 846.6v-4.5h1v1.5h1v-8.5h1v4.5h1v-7h1v9.5h1v-4h1v3.5h1v-1.5h1v4h1v.5h1v2h1v-9h1v6h1v-6.5h1v6.5h1v-3h1v2h1v-4.5h1v-8h1v2.5h1v2.5h2v6h1v-5h1v1h1v-.5h1v3.5h1v6.5h1v-3h1v-.5h1v-5h1v1.5h1v-3h1v7h2v1h1v-7h1v5.5h1v3.5zM835 865.4v-1.5h1v-4.5h1v6h1v-3.5h1v3.5h2v-4.5h1v1h1v-5h1v8.5h2v-8h1v4h1v-4.5h1v.5h1v3.5h1v1.5h1v3h1v-6h1v2.5h1v3.5h1v-4.5h1v-6.5h1v7.5h1v1h1v2.5h1v-6h1v6h1v-2.5h1v2.5h1v-4h1v-2.5h1v-3h1v2.5h1v-1h1v8h2v-4h1v-.5h1v4.5zM835 884.2v-4h2v4h2v-1.5h1v-.5h1v.5h1v-2.5h1v4h2v-2.5h1v2.5h1v-4.5h1v1.5h1v-2.5h1v1h1v4.5h1v-3h1v3h1v-4h1v4h1v-6h1v-4.5h1v8h1v-1.5h1v4h1v-6h1v6h1v-4h1v4h2v-13h1v10h1v-2h1v5h1v-7h1v2h1v5h1v-8.5h1v8.5zM835 903h1v-4.5h2v1.5h1v3h1v-3h1v-2.5h1v-1h1v4.5h1v2h1v-16.5h1v7.5h1v2.5h1v5h1v1.5h1v-3h1v-.5h1v-4h1v-8h1v4h1v8.5h1v3h1v-8h1v3h1v-5.5h1v10.5h1v-7.5h1v3h1v1.5h1v-2.5h1v-2h1v-1h1v8.5h1v-2h1v2h1v-3.5h1v-2h1v2h1v3.5h1zM835 921.7v-6h1v.5h2v-1h1v3.5h1v-3h1v1h1v-.5h1v1.5h1v-3h1v2h1v-2h1v2h1v2.5h1v-3.5h1v-1.5h1v1h1v-.5h1v.5h1v2h1v-3h1v2h1v-.5h1v.5h1v-1h1v1h1v-.5h1v1.5h1v-.5h1v-5.5h1v3h3v.5h1v-.5h1v-3.5h1v4.5h1v4h1v-7.5h1v10zM835 940.5v-7h1v.5h1v-.5h1v2h1v.5h1v-2h1v.5h1v1.5h1v-2.5h2v.5h1v-4h1v4.5h1v-1.5h1v-1.5h1v3.5h1v.5h1v-1.5h1v-1.5h1v1h1v-.5h1v-2h1v2.5h1v1.5h1v-4h1v3h1v-1h1v3h1v-4.5h1v3.5h1v-2.5h1v-2.5h1v6h1v-4h1v3.5h1v-2.5h1v1.5h1v-.5h1v-4h1v10.5zM835 959.3v-7h1v1.5h1v.5h1v-1h1v-3h1v3.5h1v-2h1v-1h1v5h1v-4h1v-.5h2v.5h1v-.5h1v3h1v-4h1v.5h1v.5h1v2.5h1v-4h1v4.5h2v-1.5h1v2.5h1v-1.5h3v-1.5h1v.5h1v-1h1v-1.5h1v.5h1v2.5h1v-2h1v3.5h1v-.5h1v-1.5h1v-.5h1v-1h1v8zM835 978.1v-2h1v-13.5h1v13h1v-.5h1v-.5h1v-5h1v2.5h1v1.5h1v1.5h1v-.5h1v-1h1v1h1v-1h1v4.5h1v-3h1v-2.5h1v2h1v-.5h1v1.5h2v2.5h2v-7.5h1v1h1v-1.5h1v8h1v-3h1v3h1v-4h1v-1h1v1.5h1v1.5h1v-1.5h1v-3.5h1v1.5h1v-2h1v7.5h1v-5.5h1v-2.5h1v8zM835 996.8v-7h1v7h1v-6.5h1v2h1v4.5h15v-14h1v14h3v-8.5h1v8.5h2v-1.5h1v1.5h2v-1.5h1v1.5h2v-16.5h1v16.5h1v-10.5h1v5.5h1v5h3zM835 1015.6v-2.5h1v-4h1v6.5h1v-1.5h1v1.5h1v-4h1v1.5h1v2.5h1v-8.5h1v8.5h2v-2.5h1v2.5h1v-3.5h1v-1.5h1v5h1v-5h1v5h1v-10h1v10h1v-11h1v8h1v3h1v-1h1v-.5h1v-3.5h1v3.5h1v1.5h1v-7h1v5h1v2h1v-1.5h1v-8.5h1v10h1v-2h1v2h1v-1.5h1v1.5h1v-4h1v4zM835 1034.4h2v-4h1v4h2v-6h1v2.5h1v3.5h8v-3.5h1v1.5h1v2h2v-3.5h1v-6h1v9.5h6v-11.5h1v11.5h1v-2h1v2h8v-14.5h1v14.5zM835 1053.2v-2h1v2h5v-10.5h1v10.5h8v-2h1v2h3v-2.5h1v-9h1v8.5h1v3h3v-1.5h1v1.5h2v-14h1v14h3v-9.5h1v9.5h2v-4h1v4h3zM835 1071.9v-4.5h1v1.5h1v-2.5h1v5.5h2v-7.5h1v7.5h2v-9h1v2h1v7h1v-8.5h1v8.5h3v-10h1v4h1v3h1v3h2v-2.5h1v-2.5h1v-3h1v8h1v-2.5h1v-1.5h1v4h1v-2.5h1v2.5h2v-3.5h1v-2.5h1v6h1v-6.5h1v6.5h2v-8.5h1v2.5h1v6h1zM835 1090.7v-2h1v2h8v-11h1v11h3v-2h1v2h12v-4h1v4h5v-4h1v4h4v-5.5h1v-.5h1v6zM835 1109.5v-9h1v9h2v-5h1v-.5h1v-6h1v4h1v6.5h1v-9.5h1v6h1v.5h1v-1.5h1v2.5h1v3h1v-3h1v-1h1v4h1v-1.5h1v-2.5h1v-.5h1v-.5h1v.5h1v4.5h1v-7.5h1v7.5h1v-3h1v-1h1v4h2v-7.5h1v-1h1v5h1v-2h1v-.5h1v6h1v-7h1v7h1v-5h1v5h1zM835 1128.3h12v-10.5h1v10.5h2v-3.5h1v3.5h2v-2.5h1v2.5h1v-3.5h1v3.5h10v-11.5h1v11.5h7zM835 1147.1v-2.5h1v-1h1v3.5h5v-7h1v7h1v-4h1v-1.5h1v-2h1v7.5h5v-3.5h1v3.5h1v-4.5h1v4.5h1v-3h1v-1h1v4h15v-2.5h1v2.5zM835 1165.8v-5.5h1v.5h1v5h2v-2.5h1v2.5h3v-7.5h1v1h1v6.5h2v-3h1v3h4v-3h1v3h3v-7h1v7h3v-2h1v2h5v-4h1v4h1v-9.5h1v9.5h3v-7h1v7h1zM835 1184.6h1v-2.5h1v.5h1v2h3v-1.5h1v1.5h4v-3.5h1v1.5h1v-.5h1v2.5h5v-7h1v2h1v5h1v-5.5h1v5.5h2v-1h1v1h4v-2.5h1v2.5h6v-1.5h1v1.5h1zM835 1203.4h1v-6h1v6h36v-2.5h1v2.5zM835 1222.2h2v-4.5h1v4.5h2v-3h1v3h2v-4.5h1v4.5h1v-3.5h1v3.5h1v-4h1v4h2v-1h1v-3.5h1v4.5h6v-5h1v-.5h1v5.5h7v-5.5h1v1h1v4.5h1v-3h1v-6h1v6.5h1v.5h1v2zM835 1240.9h9v-4.5h1v4.5h17v-4.5h1v4.5h11zM835 1259.7h5v-9.5h1v9.5h3v-1.5h1v1.5h4v-6.5h1v6.5h2v-2.5h1v2.5h2v-6h1v6h1v-8h1v-3.5h1v11.5h1v-7.5h1v7.5h1v-9.5h1v9.5h3v-4h1v4h7z" fill="#E01E26"/>
<path d="M874 640.1h2v-2h1v-3.5h1v5.5h13v-1.5h1v-.5h1v2h2v-1.5h1v1.5h4v-2h1v2h4v-4h1v-.5h1v4.5h1v-1.5h1v1.5h10v-2.5h1v1h1v1.5h1v-3.5h1v3.5h3v-5.5h1v5.5h2v-4h1v4h11v-3h1v1.5h1v1.5h1v-6.5h1v6.5h3v-4.5h1v4.5h3v-2.5h1v2.5h4v-8.5h1v8.5h3v-1h1v1h1v-5.5h2v4h1v1.5h5v-1.5h1v1.5h8v-4.5h1v4.5h2v-2.5h1v2.5h20v-1h1v-4.5h1v5.5h9v-4h1v4h6v-6.5h1v6.5h4zM874 658.9v-2h1v-.5h1v2.5h3v-1h1v1h1v-2.5h2v-2h1v1h1v3.5h4v-2h1v2h3v-2.5h1v.5h1v1h1v-1.5h1v.5h1v2h1v-2.5h2v-1.5h1v2h1v2h2v-4.5h1v2h1v1h1v1.5h6v-3.5h1v1.5h1v2h2v-1h1v-4.5h1v5.5h4v-2h1v1h1v1h2v-1.5h1v1.5h4v-1.5h1v1.5h2v-2h1v1h1v1h1v-4h1v-1.5h1v3.5h1v1h1v1h1v-2.5h1v-3.5h1v1h1v5h3v-4h1v4h3v-2.5h1v.5h1v-.5h1v2.5h1v-4.5h1v1.5h1v1.5h1v1.5h3v-4h1v2h1v-.5h1v1h1v1.5h1v-5.5h1v5.5h1v-1.5h2v-1h2v1.5h1v-.5h1v-4h1v5.5h1v-3.5h1v3.5h1v-1.5h1v-1h1v2.5h6v-3.5h1v2.5h1v1h2v-2h1v2h1v-2h1v2h2v-1h1v-3.5h1v4.5h3v-1h1v1h1v-3h1v1.5h1v1.5h1v-2h1v-1.5h1v2.5h1v1h1v-1h1v1h1v-5.5h1v2.5h1v.5h1v2.5h3v-3.5h1v2.5h1v-1h1v2h4zM874 677.7v-2.5h1v-1h1v1h1v-8h1v8h1v-4.5h1v-1.5h1v6.5h1v2h1v-2.5h1v-1h1v-.5h1v2.5h1v1.5h1v-1.5h1v-.5h1v.5h1v1.5h1v-1h1v-1h1v1h1v-1h1v1h1v-2.5h1v-2h1v4h1v.5h1v-3.5h1v4.5h2v-4.5h1v2.5h1v2h1v-2h1v2h1v-1h1v-1h1v-1.5h1v.5h1v1h1v2h1v-3.5h1v2.5h1v-2h2v-.5h1v1h1v1.5h1v-1h3v-.5h1v-1.5h1v1.5h1v1h1v-1h1v-.5h1v3h1v-1h1v-1h1v1h1v-1.5h1v-.5h1v3h1v-5.5h1v5.5h1v-1.5h1v-1.5h1v2h1v-1.5h1v.5h1v2h1v-1h1v-.5h1v-1h1v-1.5h1v.5h1v3.5h1v-1h1v1h1v-1h1v-.5h1v.5h1v-1h1v.5h1v-1h1v.5h1v2h2v-1h1v-15.5h1v16.5h3v-2h1v2h1v-3h1v1.5h1v-1.5h1v.5h1v1h1v-1.5h1v.5h1v-.5h2v2h1v-1.5h1v-2h2v2.5h1v-1.5h1v1.5h2v1h1v-2.5h1v2h1v.5h1v1h1v-1h1v-2.5h2v2h2v1.5h1v-2.5h1v-3.5h1v5h1v-1h1v-2.5h1v3.5h1v-.5h1v1.5h1v-3.5h1v3.5h1v-4.5h1v2.5h2v2h1v-2h1v-2h2v2h1v-2h1v2.5h1v-3h1v4.5h1v-1h1v1h1v-1h1v1h2v-1.5h1v1.5h1zM874 696.4v-3.5h1v3.5h2v-3h1v3h3v-3h1v-1.5h1v4.5h6v-8.5h1v8.5h1v-3h1v3h2v-1h1v1h3v-2h1v2h2v-5.5h1v5.5h3v-3h1v3h2v-4.5h1v4.5h2v-2.5h2v-1h1v3.5h2v-15h1v15h1v-6h1v6h1v-2.5h1v-2h2v4.5h1v-4.5h1v-3h1v-.5h1v4h1v-4h1v8h3v-11.5h1v11.5h4v-2.5h1v2.5h5v-3h1v-2.5h1v5.5h1v-3.5h1v3.5h1v-2h1v2h3v-2.5h1v-3h1v5.5h5v-4h1v4h1v-5h1v1h1v4h3v-8.5h1v8.5h6v-4h1v4h2v-5h1v5h1v-2.5h1v-3h1v5.5h1v-8.5h1v3.5h1v5h3v-3.5h1v-1h1v4.5h4v-5h1v5h3v-1.5h1v1.5h1v-7.5h1v4h1v3.5h5v-6.5h1v4.5h1v.5h1v-2h1v-2.5h1v6h1v-4.5h1v2.5h1v-.5h1v-3h1v5.5h2v-3.5h1v1h1v2.5h4v-3.5h1v2h1v1.5h2zM874 715.2h2v-3.5h1v3.5h2v-3h1v3h1v-1.5h1v-8h1v9.5h1v-2.5h1v-2.5h1v2h1v-1.5h1v-1h1v5.5h3v-2.5h1v2.5h3v-5h1v5h4v-4.5h1v-3h1v4h2v1h1v2.5h4v-7.5h1v7.5h2v-3h1v-2.5h1v5.5h2v-2h1v-4h1v6h2v-5.5h1v1.5h1v2h1v-5h1v1.5h1v-2.5h1v-1h1v7h1v2h1v-5h1v-2h1v4.5h1v-1h1v3.5h1v-2h1v2h2v-5.5h1v2h1v2h1v-.5h1v-5.5h1v7.5h2v-4h1v1.5h1v2.5h2v-11h1v11h1v-3h1v3h3v-1.5h1v-1h1v2.5h1v-3h1v3h3v-1.5h1v1.5h1v-5h1v-7h1v9h1v3h1v-2h1v-.5h1v2.5h1v-6h1v6h2v-5.5h1v1h1v4.5h3v-6.5h1v6.5h2v-2.5h1v-2h1v4.5h1v-7h1v7h1v-1.5h1v-3h1v4.5h3v-3h1v3h1v-3.5h1v3.5h1v-7.5h1v2h1v5.5h2v-8h1v8h1v-2h1v.5h1v1.5h4v-10.5h1v10.5h1v-6h1v4h1v2h1v-7.5h1v3.5h1v4h2v-3h1v-1h1v1h1v-3.5h1v6.5h2v-4.5h1v-4h1v5h1v1h1v2.5zM874 734v-11h1v-.5h1v1h1v-2h1v-.5h1v.5h1v4h1v-4h1v.5h1v-1.5h1v2h1v.5h1v1.5h1v-2h1v-4h1v7h1v-3.5h1v3.5h1v-1h1v-3h1v-1h1v4h1v-2.5h1v-.5h1v1h1v-.5h1v-1h1v3.5h1v-1.5h1v1h1v-3h1v2h2v-2h1v4h1v-3.5h1v2.5h1v-3.5h1v2h1v-1h1v.5h1v3h1v-1.5h1v-.5h1v-3.5h1v6h1v-4h1v-3h1v3.5h1v.5h1v-1h1v.5h1v1.5h1v-1.5h2v1.5h1v-2.5h1v1.5h1v1h1v.5h1v-1h1v-1h1v-.5h1v.5h3v.5h1v-1h1v-1h1v1h1v1.5h1v-1h1v.5h1v-1h1v.5h1v1h1v-2h1v.5h1v.5h1v-1h1v1.5h1v1.5h1v-3.5h1v.5h1v1.5h1v-1.5h1v3h1v-2.5h1v-.5h1v1h1v.5h1v1.5h2v-2h1v.5h1v-.5h1v-.5h2v1.5h1v.5h1v-2.5h1v2h1v-1.5h3v1.5h1v-2h1v1h1v-1.5h1v1h1v-1.5h1v2h2v1h1v-2h1v2h1v1h1v-2h1v.5h1v-3h1v2h1v-1h1v6h1v-1.5h1v-3.5h2v-.5h1v1h1v2.5h1v-4.5h1v1.5h1v.5h1v.5h1v-1.5h1v2h1v-.5h1v-1.5h1v1h1v2h1v-2.5h1v1.5h1v2.5h1v-2.5h1v.5h1v3h1v-3.5h1v.5h1v-1.5h1v1h1v-2h1v.5h1v.5h1v-1h1v13zM874 752.8v-13.5h1v-3h1v2h1v.5h1v-2.5h1v5.5h1v-.5h1v1.5h1v-4.5h1v1.5h1v-2h1v2.5h1v1.5h1v-3h1v2h1v-1.5h2v1h1v-1h1v1h1v-1h1v1h1v.5h1v-1.5h1v1.5h2v-.5h1v-3.5h1v3h1v-.5h1v-.5h1v.5h1v1h1v-.5h2v1.5h1v3h1v.5h1v-6h1v1.5h1v-2.5h1v1.5h1v1h1v-1h1v1.5h1v-2h1v.5h1v.5h1v-.5h3v1h1v-1.5h1v-.5h1v3.5h1v-4.5h1v4h1v-1h2v-1h1v1.5h1v-2.5h1v3h1v-4.5h1v3h1v-1h1v5h1v-4h1v.5h1v2.5h1v-3.5h1v2h1v-3.5h1v4h1v-1.5h1v-1.5h1v.5h1v.5h1v1h1v-2h1v.5h1v-1h1v-2h1v3.5h1v-2.5h1v2.5h2v-.5h2v5h1v-4.5h1v.5h1v-3.5h2v3.5h1v-.5h1v-1h1v1.5h1v-.5h1v1h1v-1h1v1.5h1v-2.5h1v-2h1v1.5h2v2h2v-.5h1v1h2v-1h2v-1h1v-1.5h1v2h1v.5h1v-1h1v2h1v-.5h2v-1.5h1v-.5h1v2h1v-1.5h1v.5h1v-1.5h1v5h1v-3.5h1v1.5h1v.5h1v-3.5h1v2.5h1v-1.5h1v1h1v.5h2v-2.5h1v1.5h1v1h1v-3.5h1v4.5h1v2h1v-6h1v2h1v.5h1v1.5h1v-.5h1v-.5h1v-1.5h1v-1h1v2h1v-2h1v15zM874 771.5v-14h1v2h1v-1h1v3h1v-2.5h1v-.5h1v-1.5h1v2.5h1v-2.5h1v1.5h1v.5h1v.5h1v-.5h1v-1.5h1v6h1v-4.5h2v.5h1v-1h1v1.5h1v3h1v-2.5h1v-4.5h1v4h1v-2h1v1.5h1v-1.5h1v1h1v2h1v1.5h1v-5.5h1v3h1v-3h1v1h1v-.5h2v1h2v.5h1v-1h1v2h1v-1h1v-1.5h1v-1h1v2h1v-.5h1v1.5h1v-4.5h1v9h1v-5h1v-3h1v3.5h1v-1.5h1v-1h1v1.5h1v1.5h1v-2.5h1v1h1v-3h1v2.5h2v1.5h1v-1.5h1v-.5h2v1.5h1v2h1v-2h1v-.5h1v.5h2v-.5h1v1.5h1v-2.5h1v.5h3v1.5h1v-1h1v-1h1v.5h1v.5h1v1.5h1v-1h1v-.5h1v-.5h1v1.5h1v-1.5h1v1.5h1v-1.5h1v1.5h1v.5h1v-1.5h1v2.5h1v2h1v-5.5h1v1h1v-.5h2v1.5h1v1h1v-2.5h1v1.5h1v1h1v2.5h1v-2h1v-5h1v7h1v-5h1v1h1v-1h1v2h1v-1.5h1v-.5h1v1h1v2h1v-3h1v1.5h1v-.5h1v1.5h1v-2h1v.5h1v-1h2v1.5h1v-.5h1v-2h1v-.5h1v2h1v-.5h1v-3h1v4h1v-3h1v4.5h1v-2.5h1v.5h1v4.5h1v-4h1v-2.5h1v1.5h1v1h1v-1.5h1v2h1v-.5h1v-.5h1v-1.5h1v3h1v-.5h2v-1h2v-1h1v1.5h1v12.5zM874 790.3v-11.5h1v.5h1v1.5h1v-2h2v-.5h1v2.5h1v-2.5h1v2h1v1.5h1v-1h1v-3h1v2.5h1v.5h1v-2h1v3.5h1v-4h1v3.5h1v-.5h1v-1h1v-3.5h1v4h1v-3h1v1h1v1.5h1v2h1v-2.5h2v-2h1v4h1v-3.5h1v4h1v-2h1v-.5h1v2.5h1v-3h1v-3.5h1v1.5h1v2h1v-.5h1v3h2v-.5h1v-3.5h1v2h1v1h1v-2h1v2.5h1v2.5h1v-8h1v5h1v-1h1v.5h1v-4.5h1v4.5h2v-.5h1v1.5h1v-1.5h1v-.5h1v2h1v-3h1v1h1v4.5h1v-3h1v1.5h1v-1.5h1v-1.5h2v-1.5h1v-4h1v2h1v4.5h1v.5h1v.5h2v-1.5h1v1h1v-1h2v-3.5h1v4.5h1v-5h1v2.5h1v2.5h1v-1h1v2h1v-1h1v.5h1v-2.5h1v.5h1v-1h1v1.5h1v-.5h1v3h1v-4.5h1v2h1v4.5h1v-4h1v-1h1v-3h1v7h1v-3.5h1v4h1v-4h1v1h1v-3.5h1v-1h1v3.5h1v1.5h1v-1.5h1v-2h1v4.5h1v-3h1v3.5h1v-3.5h2v3h1v-3.5h1v5.5h1v-3.5h1v-.5h1v-3.5h1v4h1v-1h1v1h1v-3.5h1v1.5h1v1.5h1v-.5h1v-1.5h1v3h1v.5h1v-1.5h1v2h1v-2h1v3h1v-2.5h2v-.5h1v.5h1v.5h1v-3.5h1v2.5h1v-3.5h1v5h1v-3.5h1v1.5h1v-3h1v.5h1v3h2v-6h1v16zM874 809.1v-15.5h1v1.5h1v.5h1v-1h2v.5h1v-1h3v.5h1v-2h1v1.5h1v.5h1v.5h2v-.5h2v-2h1v.5h1v2h1v-.5h1v-1h1v1.5h1v-1h1v-1.5h1v5.5h1v-4.5h1v.5h1v5h1v-5h1v5h1v-4.5h1v4h1v-3.5h1v-2.5h1v2.5h1v-.5h4v1h2v-1.5h1v-.5h2v2h1v-1h1v-1h1v2h1v-3h1v2h1v1h1v-1h1v2.5h1v-2h1v-1h1v.5h1v1.5h1v3h1v-5.5h1v1.5h1v1h1v-2h1v-1h1v2h1v-2h1v1h1v.5h1v-1.5h1v1h1v-1.5h1v5h1v-3.5h2v1h1v-1.5h2v1h1v-.5h1v1.5h1v-1.5h1v-.5h1v.5h1v1h1v-.5h1v-.5h1v1.5h1v-1h1v-.5h1v.5h1v-2h1v1.5h1v-.5h1v1.5h1v-1.5h2v.5h2v1.5h1v-.5h1v-.5h2v4h1v-3h1v-3h1v1h1v1.5h1v3.5h1v-6h1v1.5h1v-.5h1v.5h2v2h1v-1.5h1v-2h1v3h1v-3h1v2.5h3v-2.5h1v3h3v-3h1v.5h1v1h1v.5h1v-.5h1v1.5h1v-.5h1v-.5h1v-1.5h1v2h1v-.5h1v-.5h1v4h1v-3.5h1v-1.5h1v3.5h1v-3h1v-.5h1v-.5h1v6h1v-4h1v1h1v-1h2v-1.5h2v.5h2v15.5zM874 827.9v-10h1v-1.5h1v1h1v-3h1v2h1v1.5h1v-1.5h1v.5h2v-.5h1v-3h1v4.5h1v1h1v-3h1v1h1v.5h1v.5h1v-1.5h1v2h1v-5h1v2.5h1v1h1v1h2v-2h1v2h1v.5h1v-1.5h1v1h1v-1.5h1v2h1v-1.5h1v-1.5h1v2h1v.5h1v-.5h2v-1.5h2v-1h1v1.5h1v4.5h1v-3.5h1v-1.5h1v-1h1v.5h1v1h1v3h1v-1.5h1v1h1v-3h1v-1.5h1v1h1v1.5h1v-1h1v1h1v1.5h1v-1.5h1v2.5h1v-5h1v.5h1v2.5h1v1h1v-2.5h1v.5h1v.5h1v1h1v-2.5h2v3.5h1v-1h1v-1.5h1v-1.5h1v.5h1v1.5h1v-1h2v1h1v-.5h1v1h1v-2.5h1v2h1v-2h1v2h1v-1.5h1v1.5h1v-2h2v3h1v-3h1v3h2v-1h1v-1h1v1h1v1h1v-1.5h1v-2h1v3h1v4h1v-5h1v1.5h1v-1h1v-2h1v2h1v-1.5h1v-.5h1v1h1v3.5h1v-4h1v-.5h1v.5h1v.5h1v3h2v-2.5h1v-1.5h1v1.5h2v1.5h2v-1.5h1v1h1v2h1v-2h1v2.5h1v-2.5h1v-.5h2v2h2v-2.5h1v-.5h1v2h2v-1.5h1v-.5h1v1h1v-.5h1v.5h3v-2h1v2.5h1v-1.5h1v4.5h1v-4.5h1v-4.5h1v5.5h1v-3h1v3h1v1.5h1v-3h1v12.5zM874 846.6v-12h1v-1h1v2.5h1v-4h1v3.5h1v-1.5h1v1.5h1v.5h1v-.5h1v-2h1v.5h1v1.5h1v-2h1v1.5h1v3h1v-3.5h1v-1h1v3.5h1v-1h1v-.5h1v-2.5h1v1.5h1v2.5h1v-3h1v-4h1v4.5h1v-.5h1v-1h1v5.5h1v-4.5h1v5h1v-2h1v-4h1v3.5h1v1h1v-2.5h1v-.5h1v.5h1v3h1v-3h1v-.5h1v1.5h1v-1h2v2h1v-4h1v2.5h1v-1h1v-3h1v2h1v5.5h1v-2.5h1v-2h1v1.5h1v.5h1v-.5h1v1.5h1v-.5h1v-2.5h1v3h1v-5h1v2.5h1v.5h2v-1.5h1v.5h2v1h1v-2.5h2v1.5h1v2.5h1v-6h1v1h2v.5h1v-.5h1v-1.5h1v2h1v-2h1v2.5h1v-.5h1v-1h1v-1.5h1v3.5h1v-2.5h1v.5h1v1h1v1.5h1v-1.5h1v1.5h1v-1.5h1v2.5h1v-1h1v-1h1v5h1v-3h2v3h1v-2.5h1v2h1v-2.5h2v.5h2v1h1v-1.5h2v-.5h2v.5h1v-1.5h1v1.5h1v-1h1v.5h1v1.5h2v-1.5h1v-.5h1v2h1v2h1v-.5h1v-2h1v-.5h1v1h2v-1.5h1v1h3v1.5h1v-4h1v2.5h1v.5h1v-.5h1v-1h1v.5h1v1h1v-1.5h1v-3h1v5.5h1v.5h1v-1.5h1v-1h1v1h1v.5h1v-2h2v1h1v.5h1v-4h1v-2h1v3h1v13.5zM874 865.4v-10h1v-.5h1v2.5h2v-4h1v.5h1v1h1v1h1v-2.5h1v3h1v2h1v-2h1v-3h1v.5h1v2h1v-.5h1v-1h1v.5h1v3h1v-3.5h1v-1h1v3h1v-1.5h1v-1h1v1h1v-1h1v2.5h1v-1h2v-.5h2v.5h1v.5h1v-1.5h1v1.5h1v2h1v-2h1v-2h1v-2.5h1v2.5h1v.5h1v3h1v.5h1v-4h1v-.5h1v-1h1v6.5h1v-4h1v1.5h1v-2h1v2h2v-.5h1v.5h1v-2h1v-2h1v4h2v-1.5h1v.5h1v.5h1v-1h1v.5h1v-.5h2v1h1v.5h2v-2.5h1v1h1v3.5h1v-1h1v-6.5h1v4.5h1v-1.5h1v1h2v2.5h1v-2h1v.5h2v-1.5h1v1.5h1v-2h1v2h1v-2h1v1.5h1v.5h1v.5h1v-2h1v3.5h1v-3h1v1h1v-1h1v1h1v-1.5h1v1.5h1v1h1v-2h1v-.5h1v3.5h2v-2h1v2h1v-4h2v-4.5h1v6.5h1v3h1v-3h1v-1.5h1v1.5h1v-2.5h1v4h1v-2.5h2v-.5h1v1h1v1h1v-3.5h1v2h1v-1h1v-.5h1v3.5h1v-.5h1v-2h1v1.5h2v-.5h1v.5h1v-2.5h1v1.5h1v.5h1v-1h1v-1.5h1v3h1v-1h1v-1.5h1v-3h1v6.5h1v-3h1v3h1v-2h1v-.5h1v-1.5h1v2h1v-.5h1v2.5h2v-3h2v1.5h1v3.5h1v6.5zM874 884.2v-7.5h1v-1h1v.5h1v-3h1v.5h3v2h1v-2.5h1v3.5h1v-3h1v1.5h1v-1h1v3h1v-1h1v-.5h1v-6.5h1v5.5h1v1.5h1v.5h1v-3h2v-2h1v1h1v-.5h1v2.5h1v-2.5h1v1.5h1v-.5h2v2h1v-1.5h1v.5h1v-1h1v2.5h1v-3.5h1v2.5h1v2h1v1h1v-2h1v-2.5h1v1h1v.5h1v-1h2v1.5h1v.5h1v-.5h1v2h1v-2.5h1v1h1v-2.5h1v-.5h1v5.5h1v-4.5h1v-4.5h1v3h1v1.5h1v-1h1v2.5h1v-3h1v3h1v-.5h2v-6h1v8h1v-.5h1v-.5h2v-1h1v.5h1v2.5h1v-2.5h1v-4.5h1v1.5h1v2h1v-.5h1v-1.5h1v1h1v1h1v.5h1v1.5h1v-4h1v3h1v-.5h1v-1h1v1h1v-1h1v.5h1v.5h2v-.5h1v2h1v-2h2v-.5h1v2.5h1v-4h1v1h1v1h1v1h1v-1h2v-.5h1v2.5h1v-1h1v.5h1v-2.5h2v4.5h1v-.5h1v-2h1v.5h1v-1h1v-.5h1v1h1v-1h1v-1h1v1h1v-4.5h1v6.5h1v-2h1v-.5h1v4.5h1v-4.5h1v-.5h1v1h1v4h1v-2.5h1v.5h1v-2h1v.5h1v1h2v-2.5h1v2.5h1v-2.5h1v-.5h1v2h1v-.5h1v-.5h1v1h1v-1h2v-.5h1v4.5h1v-3h1v-2h1v-1.5h1v2.5h1v2h2v.5h1v8zM874 903v-7.5h2v1.5h2v2h1v-5h1v2h1v3.5h1v-3.5h1v-.5h1v.5h1v1h1v-2h1v2h1v-1.5h2v-1.5h1v2h1v2h1v-.5h1v2h1v-1h1v-1.5h1v-.5h1v.5h1v-1.5h1v2.5h1v-.5h1v-4h1v3h1v-1.5h1v-.5h1v-3h1v4h1v1h1v-2.5h1v3.5h1v-2.5h1v6.5h1v-4.5h1v-1.5h1v.5h1v3h1v-2h1v2.5h1v-2.5h1v-4.5h1v2h1v-1h1v2h1v-1.5h1v2h1v2h1v-1.5h1v-.5h2v2h1v-2h1v-1.5h1v1.5h1v-1.5h1v2.5h1v-2h1v1.5h2v2h2v-.5h1v-2.5h1v.5h1v-1.5h1v1.5h1v2h1v-1h1v-2h1v3.5h1v-1.5h1v2h1v-1.5h1v-2.5h1v3h1v-2h2v4.5h1v-.5h1v-3h2v.5h1v-5h1v5h1v-2.5h1v1.5h1v-.5h1v.5h1v1h1v-4.5h2v3.5h1v1.5h1v-.5h1v-2h1v3.5h1v-2h1v1h1v1.5h1v-4.5h1v2.5h1v-.5h1v-2.5h1v.5h1v-1h1v1h1v.5h1v-.5h1v3h1v-2h1v2h1v-2h1v-1.5h1v6.5h1v-7h1v2.5h1v3.5h1v-3h1v-1h1v1.5h1v-.5h1v-4h1v4h1v-.5h1v.5h1v-1h1v2.5h1v-1h1v-4.5h1v3h1v2h2v-1h1v-3.5h2v2.5h1v3h1v-1h1v-2h1v1h1v-1.5h1v-.5h1v2h2v2.5h1v-2.5h1v-1h1v7zM874 921.7v-6h1v2.5h1v.5h1v-3h1v1.5h1v-2.5h1v.5h1v4h1v-1h1v-1.5h1v4h1v-5h1v1.5h2v-.5h1v1.5h1v2.5h1v-5h2v.5h1v-1.5h1v2h1v-1h1v.5h1v1.5h1v-1.5h1v2.5h1v-3.5h3v2.5h1v-1h1v2h1v-4h1v3.5h1v-1h1v2h1v-3h1v5.5h1v-1.5h1v-6h1v-.5h1v2.5h2v1h1v1.5h1v.5h1v-3.5h1v-.5h1v4.5h1v-5h1v1.5h1v-.5h1v.5h1v1h1v-.5h1v-1.5h1v1h1v2h1v-1h1v1h1v-2h1v2.5h1v-1.5h1v2.5h1v-3h1v1h1v-1h1v-2h1v1h1v2.5h1v-3.5h1v1.5h1v.5h2v2h1v-.5h1v-1h1v-1.5h1v6h1v-4.5h2v-.5h1v-2h1v3h1v-4.5h1v4.5h1v-.5h2v-1h1v-.5h1v2h1v-2h1v2.5h1v-1h1v.5h1v-.5h1v-1.5h1v-1.5h1v7.5h1v-4.5h2v3h1v-5h1v2h1v.5h2v-8.5h1v7h1v.5h1v-3h1v2.5h1v2h1v-3h1v6.5h1v-4.5h2v2h1v-1h1v-2h1v-2h1v2.5h1v1h1v1h1v3h1v-4h1v-4.5h1v3.5h1v5h1v-7.5h1v2h1v2h1v-2.5h1v.5h1v2.5h1v1h1v-3.5h1v4.5h1v-5.5h1v1.5h1v-2.5h1v4h1v-.5h1v-2h1v3h1v-.5h1v-1h1v-1h1v.5h1v2h1v.5h1v-3h2v5.5zM874 940.5v-6h2v1h1v-.5h1v-1h1v.5h1v-.5h2v-2.5h1v4.5h1v-2.5h1v-1.5h1v3h1v2h1v-2.5h1v-3h1v3.5h1v-2h1v1h1v-1h1v-1.5h1v.5h1v4h1v-2h1v-1h1v2h1v-1h1v-.5h1v1h1v.5h1v3.5h1v-6h1v2.5h1v-5h1v5h1v-1h1v.5h1v1h1v-1.5h1v.5h1v-3h1v4h1v-3h1v1h1v1h1v1h1v-.5h1v-1h1v1h1v1h1v-1.5h1v-1.5h1v2h1v-2h1v3h1v-2h1v.5h1v1h1v-1.5h1v1h1v2.5h1v-4h1v-1h1v2h1v-1h1v-2.5h1v3.5h1v-.5h3v.5h1v-3h1v1.5h1v1.5h1v-.5h1v1.5h1v-1h1v.5h2v-2.5h1v4h1v-3h1v-3h1v4.5h2v2h1v-5.5h1v4.5h2v-3.5h1v.5h1v1.5h1v.5h1v-1.5h2v2.5h1v.5h1v-.5h1v.5h1v-3h2v1.5h1v1h1v-1h1v-.5h1v-1h1v1h1v-2h1v3.5h1v-2h3v1.5h1v-1h1v-2h1v4h1v-1h1v-1h1v-1h1v1.5h1v-.5h2v-1h1v.5h1v2h1v-4h1v4.5h1v-2h1v.5h1v-2h1v2.5h1v-1.5h1v-1.5h1v3.5h1v-.5h1v-2h1v-.5h1v1.5h1v-.5h4v-.5h1v3h1v-2h1v2.5h1v-1.5h1v-4h1v4.5h1v.5h1v-5h1v3h1v1h1v5zM874 959.3v-7.5h1v2.5h1v1h1v-2h1v-1h1v2.5h1v-2.5h1v1h1v-1h1v1h1v-1h1v3.5h1v-1.5h1v-3h1v1h1v3h2v-3h1v1.5h1v.5h1v-1h1v-3.5h1v3h1v-.5h1v3.5h1v-2h1v-5h1v5h1v-2.5h1v2h1v-1h1v1h1v4h1v-5h1v1.5h1v-2.5h1v2h1v-.5h1v-2.5h1v.5h1v1.5h1v4h1v-3h1v-2.5h1v1.5h1v.5h1v1.5h1v.5h1v-.5h1v-4.5h1v3h1v-1.5h1v2.5h1v-.5h1v-1h1v-.5h1v1.5h2v-.5h1v2.5h1v-2.5h2v-1.5h1v2h1v.5h1v1.5h1v-2h1v.5h1v-2.5h1v2.5h1v-2.5h1v.5h2v2h1v-1h1v-.5h1v1h1v-1h1v-2h1v2.5h1v4h1v-3h1v-4h1v1.5h1v4h1v-.5h3v-1h1v.5h1v-3h1v.5h1v1.5h1v.5h1v1.5h1v-3.5h1v1.5h1v-.5h1v1.5h1v-4h1v2h1v2.5h1v-2.5h1v-1h1v-.5h1v1.5h1v1.5h1v1h1v-2h1v1h1v-.5h1v2.5h1v-5.5h1v2h1v.5h1v1.5h1v-1.5h2v-1h1v2h1v.5h1v-1.5h1v1h1v-2.5h1v2h1v2.5h1v-3.5h1v-3h1v3h1v-.5h1v.5h1v3h1v-2.5h1v1.5h1v.5h1v1h1v-4.5h1v-1h1v3h1v-1.5h1v3.5h1v-2.5h1v1h2v.5h1v-2.5h1v3.5h1v-2h1v-1h1v.5h1v2h1v-1.5h1v-3.5h1v9.5zM874 978.1v-7h1v-2h1v7h1v-10h1v7.5h1v3.5h2v1h2v-10.5h1v8.5h1v-1h1v.5h1v.5h1v-3h1v2.5h1v.5h1v2h2v-2h1v-.5h1v2.5h1v-2h1v-7.5h1v5h1v3.5h1v-1.5h1v-1.5h1v2h1v-1.5h1v3.5h2v-2h1v-1.5h1v3.5h1v-1h1v-3h1v.5h1v.5h2v-4h1v3.5h1v3.5h2v-4h1v4h1v-6h1v-.5h1v-1.5h1v8h4v-4h1v1.5h1v2.5h1v-3.5h1v3.5h1v-10h1v5.5h1v3.5h1v-.5h1v-.5h1v2h1v-5h1v-1.5h1v5h1v-2.5h1v.5h1v.5h1v-4.5h1v2.5h1v5h3v-4h1v-.5h1v-3h1v.5h1v1.5h1v.5h1v5h1v-2h1v-6h1v-.5h1v5h1v2h1v1.5h1v-8h1v5h1v-1.5h1v-12h1v13.5h1v3h1v-6.5h1v5h1v1.5h1v-3h1v-7h1v10h2v-7h1v1h1v-1.5h1v5h1v.5h1v.5h2v-1.5h1v3h4v-1h1v1h1v-4.5h1v-7.5h1v12h1v-4h1v4h3v-2.5h1v2.5h1v-2h1v-2.5h1v4.5h4v-2h1v2h3v-1.5h2v-1.5h1v.5h1v2.5h1v-7.5h1v4.5h1v1h1v-6h1v6h1v-1.5h1v-1h1v4.5h1v-5h1v5h4v-1.5h1v1.5zM874 996.8v-6.5h2v-9.5h1v9h1v1.5h1v1.5h1v-2.5h1v3.5h1v-.5h1v-4.5h1v8h1v-8h1v4h1v-5.5h2v4.5h1v-2h2v7h1v-9h1v4.5h1v2.5h1v-3h1v5h1v-2h1v-14.5h1v16.5h1v-1.5h1v-2h1v.5h2v.5h2v-1.5h1v4h1v-2.5h1v-14h1v12h2v4.5h2v-5.5h1v2.5h1v-10h1v7h1v-.5h1v-5h1v11.5h4v-6.5h1v6.5h1v-1.5h1v1.5h1v-3.5h2v1h1v-2h1v1h1v3.5h2v-1.5h1v1.5h2v-2.5h1v2.5h1v-9.5h1v7h2v-7h1v9.5h1v-2h1v-1.5h1v3.5h1v-1.5h1v1.5h2v-3h1v-3h1v3h1v3h4v-2.5h1v.5h1v-1h1v2h1v-3.5h1v4.5h3v-1.5h1v1.5h1v-1.5h3v.5h1v-8h1v7h1v2h2v-3.5h1v3.5h2v-3h1v-1.5h1v4.5h1v-6.5h1v6.5h1v-3.5h1v1h1v2.5h2v-7.5h1v3h1v1h1v2h1v-9.5h1v8h1v3h8v-1h1v-.5h1v1.5h1v-3.5h1v3.5h4v-5h1v5h1v-1.5h1v-5.5h1v5h1v-.5h1v2.5h1v-2.5h1v2.5h4v-3h1v.5h1v.5h1v2h1zM874 1015.6v-3.5h1v-2h1v5.5h2v-6.5h1v3.5h1v3h1v-1h1v1h1v-1.5h1v1.5h2v-3.5h1v1h1v2.5h2v-3.5h2v-5h1v8.5h1v-5.5h1v3h1v2.5h4v-4.5h1v4.5h2v-2.5h1v2.5h1v-5.5h1v3.5h1v-1h1v1h1v-.5h1v2.5h1v-11.5h1v11.5h1v-2.5h2v2.5h3v-8h1v5h1v-.5h1v1.5h1v2h1v-3.5h1v2.5h1v-2.5h1v3.5h2v-3.5h1v-2.5h1v.5h1v5.5h3v-3h1v2h1v-1h3v-1.5h2v3.5h3v-3.5h1v-2h1v-4h1v3h1v6.5h3v-2.5h1v2.5h2v-2h1v2h3v-1.5h2v-2h1v3.5h1v-3h1v1h1v-.5h1v2.5h1v-6h1v6h3v-2.5h1v-4.5h1v7h1v-8h1v8h1v-1.5h1v-2h1v3.5h2v-4h1v1.5h1v-1.5h1v1.5h1v-1h1v3.5h1v-2.5h1v-6.5h1v9h1v-5h1v5h1v-1.5h2v1.5h6v-8h1v8h2v-7.5h1v7.5h1v-5h1v5h2v-2h1v2h1v-7h1v2h1v1.5h1v-5h1v3h1v-11h1v15h1v-3h1v2h1v2.5h1v-2.5h1v2.5h2v-8h1v8h1v-2h1v2h1v-4h1v.5h1v3.5zM874 1034.4h1v-5h1v2h1v-.5h1v-2.5h1v1.5h1v-2h1v2h1v-.5h1v-2h1v-1h1v3h2v.5h1v-1h1v-.5h1v2h1v-2.5h1v2.5h1v-.5h2v-1.5h1v2h1v1h1v-2h1v.5h1v-1.5h2v-1.5h1v7.5h1v-6h1v3.5h1v-6h1v5h1v-1h1v.5h1v-1.5h1v1h1v-1h1v.5h1v5h1v-3.5h1v-1h1v-.5h1v-1h2v1.5h1v-.5h1v.5h1v.5h1v-3h1v2.5h1v-3h1v-3h1v6.5h1v-1h1v-2.5h1v.5h1v4.5h1v-1.5h1v2h1v-5.5h1v5h1v-2.5h1v2.5h1v-1.5h1v.5h1v-1.5h1v-1h3v.5h1v2h1v-.5h1v-1.5h1v4h1v-3h1v-1.5h1v2h1v.5h1v-1h1v-3h1v1h1v3h1v-2.5h2v1h1v-.5h1v2h1v-1h1v1h3v-2h1v-1h2v1h1v.5h1v5h1v-4h1v-.5h1v-.5h1v-2h1v4.5h1v-2.5h3v.5h1v2h1v-.5h1v-5h1v5h1v-3.5h1v.5h1v1h1v1.5h1v-2.5h1v.5h1v2.5h1v-3h1v.5h1v-1.5h1v2h1v-.5h1v.5h1v-.5h1v-3h1v3.5h2v1.5h1v-1h1v1h1v-2.5h1v4h1v-2.5h2v1h1v3.5h1v-3.5h2v1.5h1v-3h1v-2h1v2h1v3h1v-4.5h1v.5h1v1h1v-3h1v4h1v-1.5h1v1.5h1v1h1v3zM874 1053.2h2v-3h1v-.5h1v3.5h1v-6.5h1v4h1v-1.5h1v4h1v-3.5h1v3.5h1v-5h1v-11.5h1v15h1v-5.5h1v5.5h1v-8h1v3h1v2.5h1v2.5h1v-1.5h1v.5h2v2.5h2v-5h1v5h3v-10h1v5.5h1v4.5h1v-3h1v3h2v-3.5h1v.5h1v-1.5h1v3h1v-4h1v2.5h1v3h2v-3h1v-1h2v1h1v3h1v-3h1v-10h1v7h1v3.5h2v-.5h1v3h3v-4.5h1v4.5h3v-1h1v-2.5h1v-3.5h1v5h1v2h1v-7h1v3h2v4h1v-2.5h1v-.5h1v3h1v-4h1v4h2v-10.5h1v7.5h1v-3h1v3h1v1h1v2h1v-6.5h1v6.5h2v-2h1v-4h1v2.5h1v1.5h1v.5h1v-3.5h1v5h1v-8h1v5h1v-.5h1v3.5h2v-5.5h1v-2.5h1v.5h1v-.5h1v2h1v-1.5h1v7.5h2v-4h1v4h1v-5h1v5h1v-2h1v2h3v-4h2v4h1v-7h1v7h3v-3h1v-2h1v5h1v-10h1v8.5h1v1.5h1v-3h1v3h1v-5h1v5h2v-14h1v14h1v-2.5h1v2.5h1v-1.5h1v1.5h1v-6.5h1v1.5h1v2h1v-9h1v12h2v-1.5h1v-.5h1v-2.5h1v4.5h1v-1.5h1v-.5h1v-4h1v3h1v3h1v-4.5h1v4.5zM874 1071.9v-3.5h1v3.5h6v-3.5h1v3.5h2v-4.5h1v4.5h5v-1h1v-2h1v-2h1v5h1v-16.5h1v16.5h3v-1h1v1h1v-5h1v5h1v-2.5h1v2.5h2v-2h1v2h3v-5.5h1v4.5h1v-1h1v2h3v-5h1v5h1v-3h1v1h1v2h2v-1.5h1v1.5h4v-4h1v4h1v-4.5h1v4.5h1v-2h1v2h8v-3.5h1v3.5h2v-4.5h1v4.5h1v-2.5h1v-5.5h1v8h1v-8.5h1v5h1v-.5h1v1.5h1v2.5h1v-7.5h1v7.5h8v-3h1v3h3v-2h1v2h2v-4.5h1v3h1v1.5h3v-1.5h1v1.5h2v-2h1v.5h2v1.5h3v-3.5h1v3.5h1v-2.5h1v2.5h3v-1h2v-1h1v-5h1v6h1v-6.5h1v7.5h1v-2.5h1v2.5h15v-4h1v4h2v-2h1v2h9v-4.5h1v4.5h1v-1.5h1v1.5zM874 1090.7v-4h1v1h1v1h1v-1h1v-1h1v1.5h1v.5h1v1h1v-.5h1v.5h1v-6h1v5h1v.5h1v.5h1v-.5h1v1.5h1v-1h1v-.5h1v-.5h1v.5h1v.5h1v-1.5h1v-1.5h1v2.5h1v1.5h1v-1.5h1v-2h1v1.5h1v-1h1v1h1v2h1v-5h1v4h2v-.5h1v-2.5h1v3h2v-.5h1v.5h1v-.5h1v-1.5h1v.5h1v1.5h1v-1.5h1v2.5h1v-1h1v-2.5h1v3.5h1v-1.5h1v.5h1v-4h1v5h2v-1h1v-1h1v2h2v-2h2v1h1v1h1v-1.5h1v-.5h2v1h2v-.5h1v.5h2v1h1v-1h1v-2h1v3h1v-1h3v1h2v-2.5h1v1.5h1v-.5h1v1.5h1v-1h1v-1.5h1v1h1v.5h1v-3.5h1v4.5h1v-2.5h1v1.5h1v1h1v-2h2v1h1v1h1v-1h2v-.5h1v1.5h1v-2.5h1v1.5h1v-3h1v2.5h1v-.5h1v2h1v-1.5h1v.5h3v-1.5h1v.5h1v.5h1v1.5h1v-2h2v.5h1v.5h2v-.5h2v.5h1v-1h1v.5h1v1.5h1v-2h1v1h1v-.5h1v-1h1v.5h1v-3h1v3.5h1v-1h2v1.5h4v-4h1v3.5h1v.5h1v-1h1v2h2v-2.5h2v2.5h1v-1h5v1h1zM874 1109.5v-1.5h2v-1h1v-2.5h1v3h1v2h1v-2h1v-1h1v3h1v-1.5h1v1.5h3v-3.5h1v3.5h3v-12h1v8h1v.5h1v-3h1v6.5h5v-2.5h1v2.5h2v-1h1v1h1v-1h1v-1.5h1v-1h1v3.5h1v-7h1v3h1v2.5h1v1.5h3v-4h1v4h2v-2h1v2h1v-2.5h1v2.5h5v-3.5h1v2.5h1v1h1v-2h1v1h1v1h1v-2.5h1v2.5h1v-1.5h1v-3.5h1v2h1v1h1v-6h1v4.5h1v3.5h1v-2h1v.5h1v1.5h1v-2.5h1v2.5h1v-1h1v-.5h1v-1.5h1v-4h1v7h1v-2.5h1v1h1v1.5h1v-4.5h1v2.5h1v.5h1v-.5h1v.5h1v-3.5h1v3.5h1v1.5h1v-5h1v5h1v-1.5h2v-2.5h1v2h1v1h1v1h2v-1h1v-.5h1v1.5h5v-3h1v1.5h1v1.5h2v-2h1v-1.5h1v3.5h3v-1h1v-4.5h1v5.5h2v-3.5h1v3.5h1v-2h1v2h2v-3h1v-.5h1v1.5h1v-4.5h1v6.5h1v-2h1v-2h1v4h1v-1.5h1v1.5h5v-1h1v1h1v-1.5h1v-1h2v2.5h1v-2.5h1v.5h1v2h1v-3h1v1.5h1v1.5h4v-5h1v5h1zM874 1128.3h10v-2h1v2h5v-5h1v5h9v-3.5h1v3.5h19v-2h1v2h9v-4h1v4h2v-11.5h1v11.5h4v-10h1v10h5v-2.5h1v2.5h14v-3.5h1v3.5h6v-2.5h1v2.5h41v-3h1v3h3v-2h1v2h14zM874 1147.1h1v-4h1v4h31v-1.5h1v1.5h8v-1.5h1v1.5h4v-5.5h1v5.5h10v-4.5h1v4.5h10v-3h1v3h2v-4h1v4h10v-4.5h1v4.5h11v-3h1v3h3v-1.5h1v1.5h48v-2.5h1v2.5h4zM874 1165.8v-2.5h1v2.5h1v-4.5h1v4.5h2v-2.5h1v.5h1v-.5h1v-1h1v3.5h1v-2h1v2h1v-2.5h1v2.5h1v-4.5h1v-1h1v1h1v2.5h2v2h2v-3h1v-1h1v2.5h1v1.5h1v-5.5h1v.5h1v-.5h1v5.5h1v-4h1v4h1v-3.5h1v3.5h2v-1h1v-3h1v4h1v-1h1v-3h1v1.5h3v-4h1v6.5h1v-4h1v1h1v-1h1v.5h1v1.5h1v2h1v-3h1v-4h1v7h2v-6.5h1v4h2v.5h1v2h1v-4h1v2.5h1v-.5h2v2h1v-1.5h2v-2.5h2v4h1v-2.5h1v2.5h1v-3h1v3h1v-2h1v-1h1v-1.5h2v4.5h1v-5.5h1v1.5h2v1.5h1v-.5h2v3h2v-2h1v2h1v-2h2v2h2v-4.5h1v1.5h2v1.5h1v-.5h1v.5h1v-3.5h1v2h1v3h1v-5h1v-2h1v2h1v5h2v-4.5h1v4.5h2v-2.5h1v2.5h2v-3.5h1v-2.5h1v5h1v1h3v-3h1v-1h1v4h2v-3h3v-.5h2v3.5h2v-5.5h1v3.5h1v-3h1v5h2v-2h1v-1h1v-.5h1v3.5h2v-5h1v1.5h1v-.5h1v-2.5h1v6.5h2v-2h1v2h1v-2.5h2v2.5h1v-2.5h1v2.5h1v-2.5h1v2.5zM874 1184.6h7v-4h1v4h1v-4h1v4h3v-4h1v4h6v-1.5h1v1.5h2v-1h1v1h1v-1h1v1h2v-3.5h1v1.5h1v-3.5h1v5.5h2v-3h1v3h2v-2.5h2v2.5h3v-1h1v1h2v-1.5h1v1.5h2v-2.5h1v2.5h3v-1h1v1h2v-1h1v1h2v-2.5h1v2.5h2v-3.5h1v3.5h3v-1.5h1v1.5h2v-4h1v1h1v-2.5h1v2h1v3.5h3v-3h1v3h1v-2.5h1v.5h1v2h2v-1.5h1v1.5h1v-3h1v3h1v-3h1v2h1v1h1v-2h1v2h1v-2h1v2h1v-4h1v4h5v-1h1v-1h1v-.5h1v2.5h3v-2h1v2h1v-1h1v-.5h1v-2h1v2.5h1v-2h1v3h2v-1.5h1v1.5h1v-6h1v6h2v-2h1v2h2v-2h1v-.5h1v2.5h1v-2h1v2h5v-2.5h1v2.5h4v-8.5h1v8.5h4v-1.5h1v1.5h2v-4h1v2h2v-2.5h1v4.5h2v-3h1v3h2v-1.5h1v1.5h1zM874 1203.4h37v-7.5h1v7.5h37v-1h1v1h9v-3h1v3h41v-5h1v5h8v-4h1v4h16zM874 1222.2h1v-2h1v2h5v-2.5h1v2.5h6v-4.5h1v-8h1v12.5h3v-1.5h1v1.5h4v-2h1v2h2v-7h1v7h10v-3h1v3h7v-5h1v5h3v-2.5h1v2.5h1v-10h1v10h2v-4h1v4h1v-3h1v-2.5h1v2h1v3.5h3v-2.5h1v2.5h1v-5.5h1v-3h1v8.5h2v-1h1v1h2v-2.5h1v1.5h1v-5.5h1v6.5h2v-4.5h1v2h1v2.5h1v-4h1v4h3v-6h1v6h1v-3.5h1v3.5h3v-5h1v-4.5h1v5h1v4.5h1v-3h1v-7h1v10h2v-3h1v3h7v-1.5h1v1.5h1v-9.5h1v9.5h4v-4h1v3h1v1h3v-1.5h1v1.5h8v-4.5h1v4.5h1v-5.5h1v5.5h5v-1h1v1h1v-2h1v2h2v-1h1v1h1v-2.5h1v-5h1v5h1v2.5h6v-2.5h1v2.5h1zM874 1240.9h1v-3h1v3h1v-2h1v2h6v-3.5h1v3.5h3v-4h1v-7h1v9h1v2h1v-4h1v4h2v-5h1v5h4v-1.5h1v1.5h2v-1.5h1v-6.5h1v8h1v-4.5h1v4.5h1v-5h1v.5h1v4.5h5v-4h1v.5h1v-8h1v7.5h1v4h4v-3.5h1v3.5h1v-6.5h1v6.5h2v-2h1v-1h1v3h2v-8h1v2.5h1v4h1v1.5h2v-16.5h1v13h1v3.5h2v-2.5h1v2.5h1v-2.5h1v2.5h2v-12.5h1v12.5h2v-4h1v1h1v3h2v-8.5h1v8.5h2v-6.5h1v6.5h3v-5.5h1v-11h1v16.5h4v-2.5h1v.5h1v2h1v-10.5h1v10.5h2v-3h1v3h9v-3.5h1v3.5h1v-6h1v6h2v-2.5h1v-12h1v14.5h3v-3.5h1v3.5h2v-5h1v5h3v-4.5h1v-2.5h1v4.5h1v2.5h12v-9h1v6h1v3h4v-2.5h1v2.5h1v-6.5h1v6.5h2v-1.5h1v1.5h1zM874 1259.7h6v-2h1v2h1v-5.5h1v4.5h1v-2.5h1v3.5h13v-2h1v2h3v-6h1v.5h1v5.5h3v-2.5h1v2.5h2v-4h1v4h2v-4.5h1v2h1v2.5h2v-1.5h1v1.5h2v-2.5h1v2.5h1v-2.5h1v2.5h1v-3.5h1v.5h1v3h1v-3h1v-1h1v-1h1v3h2v-.5h1v2.5h3v-5.5h1v2.5h1v-2h1v5h2v-2h1v2h3v-4.5h1v4.5h4v-2.5h2v2.5h1v-1.5h1v1.5h1v-2h1v2h3v-3.5h1v1h1v-2.5h1v1.5h1v3.5h1v-1h1v-.5h1v1.5h3v-6h1v2.5h1v3.5h1v-12h1v10.5h1v1.5h1v-1h1v-6.5h1v7.5h2v-2.5h1v2.5h1v-3.5h1v3.5h1v-13.5h1v13.5h1v-2h1v-2h1v2h1v-.5h1v2.5h1v-2h1v2h2v-1.5h1v.5h1v-5.5h1v4.5h2v-.5h1v2.5h1v-1.5h1v-6.5h1v8h3v-2.5h1v2.5h1v-4h1v4h1v-7.5h1v7.5h2v-2.5h1v-3.5h1v4.5h1v-1.5h2v3h1v-3.5h1v3.5h2v-5h1v5h1v-3.5h1v3.5h3z" fill="#F58231"/>
<path d="M1027 640.1h9v-2h1v2h3v-1.5h1v1.5h15v-1.5h1v1.5h2v-2h1v2h4v-1h1v1h4v-3.5h1v3.5h5v-1.5h1v1.5h6v-1.5h1v1.5h1v-2h1v2h7v-1h1v-3h1v4h9zM1027 658.9h2v-1h1v1h7v-3h1v3h11v-1.5h1v1.5h12v-1.5h1v-.5h1v2h10v-1h1v-1h1v2h2v-4h1v4h6v-1h1v1h2v-1h1v1h12v-2.5h1v2.5h1zM1027 677.7h2v-1.5h1v1.5h2v-3.5h1v3.5h1v-2.5h1v2.5h1v-2.5h1v-4.5h1v7h1v-4.5h1v2h1v2.5h1v-1h1v-3h1v-1h1v5h1v-3.5h1v-2h1v5.5h2v-4h1v4h1v-3.5h1v1.5h1v-3h1v1.5h1v1h1v2.5h1v-6h1v6h4v-11h1v11h1v-2h1v-8.5h1v10.5h3v-3h1v-2h1v3h1v2h3v-5h1v5h1v-5.5h1v5.5h3v-2.5h1v2.5h1v-5h2v2.5h1v.5h1v2h2v-7.5h1v5h2v-.5h1v1h1v2h6v-3.5h1v3.5h1zM1027 696.4v-1h1v1h7v-1.5h1v1.5h1v-3.5h1v3.5h1v-3.5h1v3.5h1v-1.5h1v1.5h8v-6.5h1v2.5h1v4h22v-7h1v5.5h1v1.5h3v-1.5h1v1.5h10v-4.5h1v4.5h1v-2.5h1v2.5h2v-1.5h1v1.5h5v-1h1v-2h1v3zM1027 715.2h6v-4.5h1v-2.5h1v7h1v-4.5h1v4.5h1v-2.5h1v2.5h1v-2.5h1v2.5h3v-4.5h1v4.5h1v-4.5h1v4.5h5v-2.5h1v2.5h1v-2h1v2h1v-3.5h1v3.5h3v-5.5h1v5.5h9v-5h1v5h1v-3h1v3h2v-8h1v5h1v3h3v-3h1v3h5v-3h1v3h3v-3h1v3h1v-2.5h1v2.5h2v-6h1v6h4v-2.5h1v2.5h2zM1027 734v-6.5h1v1.5h1v-1.5h1v1.5h1v-4.5h1v3h1v-1.5h1v2h1v2h1v-3h1v1.5h1v-2h1v-1h1v.5h2v2h1v-2h1v1.5h1v1h2v-2h1v1.5h1v-.5h1v1h1v-2h1v2.5h1v-4.5h1v3.5h1v-1h1v4h1v-5.5h1v2h1v-.5h1v1.5h1v1.5h1v-1.5h1v-2.5h2v3.5h1v-2h1v1.5h1v-1.5h1v-2.5h2v.5h1v2h1v-1h1v2.5h1v-1h1v2h1v-5h1v1.5h1v4h1v-2h1v-.5h1v-4h1v6.5h1v-3h1v.5h1v-2h1v.5h1v2.5h1v-4.5h1v4h1v-3h1v3h1v-4.5h1v2h1v1.5h1v.5h1v.5h1v1h1v-1.5h1v-1h1v-2h1v1.5h1v7.5zM1027 752.8v-4.5h1v-2h1v-1.5h1v.5h1v-1.5h1v2h1v1.5h1v-1.5h1v1.5h1v-3h1v4h1v-3.5h1v1.5h1v-1h1v-1.5h1v2.5h1v-.5h1v1h1v1h1v-3h1v1h1v-1h1v.5h1v.5h1v-.5h2v-.5h1v4h1v-3h1v2.5h1v-4h1v2.5h1v-6h1v6.5h1v-.5h1v1.5h1v-1h1v.5h1v-4h1v4h1v-3.5h2v1.5h1v-1h1v-.5h1v1h1v.5h1v-3.5h1v4.5h1v-.5h2v1h1v-2.5h1v-.5h1v-.5h1v4.5h1v-3h1v2h2v-2h1v2h1v.5h1v-.5h1v.5h1v-1.5h2v1.5h1v-1h1v1.5h1v-3.5h1v-2h1v-2h1v6h1v-.5h1v-1h2v7.5zM1027 771.5v-12.5h1v-.5h2v-1.5h1v2h1v-1h1v-3h1v2.5h2v1h1v2h1v3h1v-4h1v1h1v2h1v-5h1v1.5h1v-1.5h1v3.5h1v-1h1v.5h1v-1h1v-1.5h1v3.5h1v.5h1v-3h1v5.5h1v-4.5h1v1h1v1h1v-2h1v-1.5h1v2h1v.5h1v-.5h1v-.5h1v3.5h1v-8h1v4h1v.5h1v2h1v-3h1v1.5h1v-.5h1v4.5h1v-4.5h1v1.5h1v-1.5h1v.5h1v-.5h1v3h1v1h1v-4h1v1.5h1v-.5h1v.5h1v-1h1v2.5h1v-1h1v-1.5h1v3.5h1v1.5h1v-4h1v1h1v-4.5h1v5.5h1v-1h1v-2h1v1h1v-1h1v2h2v-3h1v3h1v1.5h1v-3.5h1v11zM1027 790.3v-1h1v-1.5h1v.5h1v2h2v-1h1v-3.5h1v-5.5h1v6.5h1v-1.5h1v3.5h1v1.5h1v-4.5h1v-1.5h1v.5h1v3.5h1v2h1v-4.5h1v3.5h1v1h3v-9.5h1v8.5h1v-3h1v4h2v-1h1v1h1v-1.5h1v-3.5h1v5h1v-1.5h1v.5h1v-4.5h1v3.5h1v-2h1v4h1v-2h1v-2.5h1v1.5h1v3h1v-4.5h1v4.5h1v-2h1v2h1v-1h1v1h1v-2h1v2h1v-2h1v2h1v-2.5h1v2.5h3v-3h1v1h1v.5h1v-.5h1v-1.5h1v2h1v-3h1v4.5h4v-8h1v5h1v1h1v2h1v-3.5h1v3.5h2v-1.5h1v1.5h1zM1027 809.1v-13h2v1h1v-3h1v1h1v1.5h1v-1h1v1.5h2v-1h1v2.5h1v-1.5h1v-.5h1v-1h1v.5h1v-1.5h1v3.5h1v-2h2v.5h1v-1h1v1.5h1v-1.5h3v-1.5h1v1h1v2h1v-.5h1v-1h1v-3h1v5h1v-1.5h1v.5h1v-2h1v1.5h1v.5h1v-1.5h1v1h1v1h1v-1h1v.5h2v-.5h1v-2h1v1.5h1v-2h1v3h1v-1h1v1.5h1v-2.5h1v1.5h1v1.5h1v-2.5h1v2.5h1v-3h1v5.5h1v-4h1v.5h1v-3.5h1v3h1v-1.5h1v1.5h1v-1.5h1v3h2v-3.5h1v2.5h1v-1.5h1v2h1v-.5h2v-.5h1v.5h1v1h1v-1h1v12.5zM1027 827.9v-14h1v-1.5h1v1.5h2v1.5h1v-2h1v2h1v-.5h1v-2h2v1.5h1v-1.5h1v2h1v-2h1v.5h1v-.5h1v-1.5h2v2.5h1v-1.5h1v-.5h1v2.5h1v-.5h1v-1h1v-.5h1v-1h1v3h1v-3h1v2h1v-2h1v1.5h1v.5h3v-2h1v6h2v-4h1v.5h1v-2.5h2v.5h1v1h1v4.5h1v-3.5h1v-1.5h1v-1h1v2h1v-.5h1v.5h2v.5h1v3.5h1v-4h1v-2h1v1h1v.5h1v1h1v-1.5h1v5.5h1v-6.5h1v.5h1v2h1v-.5h1v-.5h1v1h1v-1h1v-.5h2v-1h1v2.5h1v-2h1v2.5h1v-.5h1v-2.5h2v16.5zM1027 846.6v-14.5h1v-.5h1v.5h1v1.5h2v-1.5h1v.5h1v-2.5h1v3h1v-1.5h1v1.5h1v-.5h1v.5h2v-2h1v1.5h1v-1h1v1h1v3.5h1v-1h1v-1h1v-1.5h1v-1h1v.5h1v.5h1v4h1v-3h1v-1.5h1v2h1v-1h1v-1h1v-1h1v1h1v-2h1v3.5h1v-2.5h1v6h1v-4h2v-1.5h1v1h1v-1h1v2h1v-.5h1v-.5h2v-2.5h1v3h1v-1h1v-1h1v2.5h1v-1.5h1v4.5h1v-5.5h1v5.5h1v-3h1v-1h1v.5h1v1h1v-.5h1v-2h1v.5h1v1h1v-1h1v1h1v-.5h1v1h1v-2.5h1v6.5h1v-6h1v-.5h2v3.5h1v2.5h1v-3h1v-1.5h1v14zM1027 865.4v-14.5h1v-1.5h1v.5h1v-.5h1v3.5h1v-2.5h1v1.5h2v-1h1v.5h1v3h1v-3.5h1v1h1v-.5h1v.5h1v-2.5h1v3.5h1v-2h1v1h1v-.5h2v-1h2v3.5h1v-4.5h1v1h1v5h1v-5h1v.5h1v-1h1v.5h2v.5h1v2h1v-.5h1v-2.5h3v2h1v-1h1v-.5h1v1.5h1v-1h1v3h1v-2.5h1v-1.5h1v1h1v-.5h1v1h1v-1.5h1v2h1v-1h1v-.5h1v-1.5h1v.5h1v1h1v.5h1v-.5h1v1h1v-2h1v1h1v4.5h1v-4.5h1v-.5h1v.5h2v1.5h1v-2h1v.5h1v-1.5h1v1.5h1v-.5h1v1h1v-2h2v.5h1v16zM1027 884.2v-8.5h1v-2h1v4h1v-3h1v-.5h1v-2.5h1v4h1v-3h2v2h1v-3.5h1v3h1v1h1v-2h1v2.5h2v-1.5h2v-2h1v2.5h1v2.5h2v-2.5h1v2h1v-1h1v-1.5h1v1h1v.5h1v-1h2v-5h1v1.5h1v1.5h1v-2h1v-.5h1v1h1v-.5h1v.5h1v-1h1v1.5h1v1h1v-1.5h1v-.5h1v2h1v3h1v-5.5h1v-1.5h1v2.5h2v.5h1v-2h1v.5h1v.5h1v1.5h1v.5h1v-2h1v1h2v-2h1v1.5h1v-.5h1v1.5h1v-.5h1v-.5h1v1h2v.5h1v-1h1v-2.5h2v3.5h1v3h1v-5h1v-1.5h1v1h1v1.5h1v12.5zM1027 903v-8h1v-4.5h1v2h1v-2h1v1.5h1v-2.5h1v3h1v.5h1v.5h1v-2.5h1v-4.5h1v3.5h1v4.5h1v-1.5h1v-1h1v2h1v-7.5h1v5.5h1v1h1v-1.5h1v-4.5h1v6h1v2.5h1v-6.5h1v4h1v-1h1v.5h1v-2h1v1h1v2.5h2v-.5h1v2h1v-4h1v-3h1v4.5h1v-.5h1v2.5h1v-1h1v1.5h2v-2h1v2.5h1v-5.5h1v.5h1v.5h1v4h1v-4h1v-2.5h1v2.5h1v-1h1v-1h2v2.5h1v-3h1v-.5h1v4h1v3.5h1v-6.5h1v-3h1v7.5h1v-2.5h1v.5h1v-1.5h1v1.5h1v1.5h1v-.5h1v1h1v1h1v-5.5h1v7h1v-8.5h1v3h1v-1h1v2.5h1v1h1v9.5zM1027 921.7h1v-2h1v.5h2v-7h1v4h2v-2.5h1v2h1v1h1v2h1v2h1v-1.5h1v-2h1v-7h1v4.5h2v1.5h1v4.5h1v-4.5h1v.5h1v2.5h1v-2.5h1v-3h1v-3h1v7.5h2v-1.5h1v1.5h1v2.5h1v-2.5h1v.5h1v-1h2v-.5h1v1.5h1v2h1v-4h1v2h1v-3.5h1v4h1v-1h1v-3.5h1v2.5h1v1.5h1v-1.5h1v-1h1v2h1v2.5h1v-1h1v1h2v-3.5h1v3.5h1v-1h1v1h1v-4h1v2h1v-3.5h1v4.5h1v-1h1v-.5h1v-8.5h1v5h1v4.5h1v-1h1v-5h1v4.5h1v.5h1v-6.5h1v.5h1v7h1v-.5h1v1h1v-1.5h1v1.5h1v1zM1027 940.5v-2.5h1v1.5h1v-7.5h1v2h1v1.5h1v-2.5h1v5h2v-6.5h1v7.5h1v-9.5h1v6h1v3h1v-7h1v9h1v-1h1v-4.5h1v3.5h1v-9.5h1v7.5h1v-3h1v3.5h1v1.5h1v-2.5h1v-11.5h1v13h1v1.5h1v-1.5h1v-13.5h1v16.5h1v-7h1v-2.5h1v2.5h1v2.5h1v-1h1v-2h1v7.5h1v-2.5h1v-1h1v3.5h1v-5h1v-3.5h1v4.5h1v4h1v-5.5h1v-1.5h1v3h1v4h1v-10.5h1v9h1v-1.5h1v.5h1v-4h1v1h2v-1.5h1v5h1v-7.5h1v4h1v4h1v1.5h1v-4.5h1v-6.5h1v8h1v3h1v-4.5h1v-5h1v3.5h1v2h1v4h1v-5.5h1v2h1v.5h1v1h1v2h2zM1027 959.3v-8.5h1v.5h1v1h1v1h1v-.5h1v-1.5h1v1.5h1v-.5h1v-1h1v1.5h1v-1h1v.5h1v-1.5h1v4.5h1v-3.5h1v-2h1v.5h1v-1.5h1v3h2v2h1v2.5h1v-2.5h1v-.5h1v1.5h1v.5h1v-3h1v2h1v-2h1v1h1v.5h1v-5h1v4h1v-4.5h1v2.5h1v3h1v1h1v-.5h1v-4.5h1v2.5h1v2.5h1v-2.5h1v-2h1v1.5h1v-.5h1v3.5h1v-3.5h1v.5h1v4h1v-4.5h1v.5h1v2.5h2v-3.5h1v3h1v.5h1v-3h1v4h2v-4.5h2v2h1v.5h1v1h1v-5h1v2h2v2h1v-1.5h1v.5h2v-1h1v.5h2v2.5h1v-2.5h1v7.5zM1027 978.1v-7.5h1v2h1v2h1v3.5h2v-3.5h1v-1.5h1v-2.5h1v5.5h2v-1h1v3h1v-2.5h1v.5h2v2h1v-11h1v9.5h1v-4h1v4h1v-.5h1v2h1v-1h1v1h1v-2.5h1v2.5h1v-1.5h1v-1.5h1v3h1v-1h1v-.5h1v-1h1v2.5h1v-2h1v-2h1v-1.5h1v-.5h1v6h1v-2.5h1v-4h1v6.5h2v-3h1v3h1v-4.5h1v3h1v-1.5h1v-1h1v4h2v-5.5h1v4h1v-2h1v3.5h2v-6.5h1v-3h1v5.5h1v-3.5h1v-3.5h1v11h1v-4h1v-3h1v5h2v1h1v-4.5h1v2h1v-3.5h1v-.5h1v6.5h1v-1h1v-1h1v-7h1v1.5h1v4.5h1v4zM1027 996.8v-3h1v3h1v-3.5h1v3.5h1v-9.5h1v9.5h1v-4h1v2h1v2h1v-5.5h1v5.5h2v-1.5h1v-.5h1v2h1v-2h1v2h1v-7.5h1v3h1v4.5h1v-1.5h1v-.5h1v2h1v-3.5h1v3.5h2v-2.5h1v2.5h1v-4.5h1v1h1v-13h1v16.5h1v-3.5h1v-.5h1v3h1v-3.5h1v4.5h5v-3.5h1v3.5h4v-6h1v6h3v-2.5h1v-1h1v.5h1v3h3v-4h1v4h5v-2h1v2h3v-3.5h1v3.5h1v-2h1v.5h1v1.5h2v-2.5h1v2.5h2v-1.5h1v1.5zM1027 1015.6h8v-2h1v.5h1v-.5h2v1h1v-.5h1v-.5h1v2h1v-3h1v.5h1v-3.5h1v6h3v-2.5h1v2.5h3v-3h1v-.5h1v3.5h1v-2.5h1v-2h1v3h1v1.5h3v-2.5h1v-.5h1v3h1v-3h1v3h1v-4h2v4h5v-4h1v4h3v-4h1v4h2v-6.5h1v6.5h2v-3h1v-1.5h1v4.5h4v-4h1v-1h1v5h1v-5h1v2h1v1h1v-1h1v3h1v-2h1v-1h1v3h2v-6h1v6zM1027 1034.4h9v-1.5h1v1.5h14v-1.5h1v1.5h2v-1h1v1h1v-2h1v2h1v-2h1v2h5v-1h1v1h10v-4.5h1v4.5h6v-1h1v1h8v-1.5h1v1.5h9v-1h1v1h1zM1027 1053.2h3v-3h1v1h1v2h1v-2h1v2h5v-2h1v2h8v-1h1v1h6v-3.5h1v3.5h1v-3h1v3h1v-1.5h1v-1.5h1v1h1v2h1v-2.5h1v2.5h1v-2.5h1v2.5h7v-2h1v2h2v-1.5h1v1.5h3v-1h1v1h7v-2.5h1v1h1v-.5h1v-.5h1v2.5h2v-4h1v3h1v1h3v-1.5h1v1.5h2v-2.5h1v2.5zM1027 1071.9v-1h1v-2.5h1v3.5h7v-7.5h1v7.5h11v-3.5h1v1h1v2.5h2v-4h1v4h4v-3.5h1v-.5h1v4h1v-1h1v-3h1v4h1v-5h1v5h1v-5h1v5h1v-1.5h1v1.5h1v-3h2v3h3v-3.5h1v1h1v2.5h2v-3.5h1v3.5h1v-1.5h1v1.5h10v-5h1v2.5h1v-2h1v4.5h5v-2h1v2h3zM1027 1090.7h1v-3h1v3h1v-5h1v5h1v-3.5h1v3.5h3v-1.5h2v1.5h4v-2h1v-1h1v2h1v-.5h1v1.5h3v-1h1v-.5h1v1.5h1v-2h1v.5h1v.5h1v-1h1v2h1v-2.5h1v-.5h1v.5h1v1.5h1v-1h1v-1h1v1.5h1v-2h1v-.5h1v2h1v2h1v-1.5h1v-2h1v2h1v.5h1v-1h1v2h3v-2h1v2h1v-1.5h1v1.5h1v-3.5h1v3.5h1v-5.5h1v4h1v1.5h4v-1.5h1v1.5h1v-3h1v3h4v-1.5h1v-1.5h1v3h2v-2h1v2h1v-5h1v3.5h1v1.5zM1027 1109.5v-1h2v1h1v-5h1v5h1v-1.5h1v1.5h3v-3.5h1v3.5h2v-1.5h1v1.5h5v-2.5h1v-4h1v6.5h3v-2h1v2h1v-1.5h1v-1h1v1.5h1v1h2v-1h1v1h1v-1.5h1v1.5h1v-4h1v4h3v-6.5h1v6.5h2v-3h1v3h1v-1h1v1h1v-1.5h2v1.5h1v-1h1v-2.5h1v1h1v2.5h2v-2.5h1v2.5h5v-4.5h1v3.5h1v1h7v-2.5h1v2.5h1v-1h1v-6h1v7h2v-1h1v-2h1v3zM1027 1128.3h14v-1h1v1h4v-1h1v1h13v-2h1v2h10v-1h1v1h9v-1h1v1h1v-1h1v1h9v-1h1v-.5h1v1.5h8zM1027 1147.1h7v-2h1v2h1v-6h1v6h5v-2h1v2h5v-2.5h1v2.5h15v-2h1v2h2v-4.5h1v4.5h1v-4h1v4h11v-2h1v-1h1v3h5v-4h1v4h1v-2h1v2h8v-2.5h1v-2h1v4.5h2zM1027 1165.8h1v-1h1v1h8v-2h1v2h3v-5h1v5h3v-2h1v2h3v-3h1v3h13v-1.5h1v1.5h1v-1.5h1v1.5h1v-3h1v3h2v-3h1v1.5h1v1.5h3v-1h1v1h5v-2h1v1h1v1h10v-3h2v3h3v-2h1v2h3v-7.5h1v7.5zM1027 1184.6v-2.5h1v2.5h2v-1.5h1v1.5h1v-1.5h1v1.5h2v-2h1v2h1v-4h1v4h7v-4h1v4h12v-1h1v1h4v-3h1v3h4v-2h1v2h7v-4.5h1v3.5h1v1h3v-2.5h1v2.5h4v-1h1v1h1v-4.5h1v4.5h13v-2.5h1v2.5zM1027 1203.4h4v-1.5h1v1.5h19v-1h1v1h29v-1h1v1h21zM1027 1222.2h1v-4h1v4h3v-3h1v3h9v-1.5h1v-.5h1v2h1v-2.5h1v2.5h1v-1.5h1v-.5h1v2h1v-2h2v2h1v-2h1v.5h1v.5h1v1h3v-1h1v-1.5h1v2.5h5v-2.5h2v2.5h2v-4h1v4h2v-1.5h1v-1.5h1v3h2v-1h1v1h1v-2h1v-.5h1v2.5h6v-1.5h1v1.5h2v-1h3v1h1v-1.5h1v1.5h2v-5.5h1v5.5h3v-3h1v3h1zM1027 1240.9v-2.5h1v2.5h1v-4h1v-1.5h1v1.5h1v4h1v-3h1v1.5h1v-1.5h1v3h1v-4.5h1v4.5h1v-8h1v2.5h1v4h1v-.5h1v2h2v-3h1v-1h1v4h2v-2h1v-1.5h1v3.5h2v-3.5h1v.5h1v-7.5h1v10.5h5v-1.5h1v1.5h2v-5.5h1v5.5h5v-2.5h1v2.5h1v-2.5h1v2.5h8v-1h2v1h1v-3h1v1.5h1v-2h1v3.5h7v-1.5h1v-.5h1v2h1v-2h1v-2.5h1v1h1v3.5h3zM1027 1259.7v-5h1v2.5h1v2.5h1v-2h1v2h1v-1h1v-.5h1v-.5h1v2h3v-2h2v2h1v-1h1v1h1v-2.5h1v1h2v1.5h4v-1h1v1h1v-2.5h1v2.5h3v-1.5h1v1.5h2v-1h1v1h3v-1h1v-3h1v4h4v-4h1v4h1v-1.5h1v-1.5h1v3h5v-2h1v2h5v-1h1v1h1v-1.5h1v1.5h2v-1.5h1v1.5h6v-3.5h1v2.5h1v1h5z" fill="#8FD3E8"/>
<path d="M1103 640.1h6v-3h1v3h3v-4.5h1v4.5h6v-2h1v2h14v-2.5h1v2.5h2v-2h1v2h8v-2.5h1v2.5h16v-2h1v-.5h1v2.5h11v-7h1v7h1v-1.5h1v.5h1v1h25v-4h1v1h1v3h9v-4.5h1v4.5h31zM1103 658.9h5v-1h1v-1.5h1v2.5h24v-2.5h1v2.5h5v-3.5h1v3.5h13v-3.5h1v3.5h5v-1.5h1v1.5h21v-9h1v7h1v2h29v-3.5h1v3.5h1v-1h1v1h6v-3.5h1v2.5h1v1h4v-1h1v1h4v-2.5h1v1.5h1v1h9v-1h1v1h4zM1103 677.7h1v-2.5h1v-2h1v-1.5h1v6h3v-1.5h1v1.5h1v-1.5h1v1.5h3v-13h1v13h1v-2h1v2h1v-11h1v11h8v-2.5h1v2.5h4v-10h1v10h6v-2h1v2h2v-7h1v7h8v-7.5h1v7.5h8v-2h1v2h3v-6h1v-.5h1v6.5h3v-9h1v9h4v-2.5h1v2.5h12v-8h1v8h5v-4h1v2h1v2h3v-1.5h1v1.5h8v-1.5h1v1.5h1v-3h1v3h1v-6h1v4h1v-.5h1v2.5h1v-1.5h1v-3.5h1v5h2v-2h1v2h5v-1.5h1v1.5h16v-2h1v2h4zM1103 696.4h4v-5.5h1v5.5h5v-12h1v12h1v-2h1v-2.5h1v4.5h1v-4.5h1v4.5h13v-3h1v3h14v-1.5h1v-1.5h1v3h1v-3h1v3h10v-8.5h1v8.5h1v-9.5h1v9.5h2v-7h1v7h3v-3.5h1v3.5h3v-2.5h1v2.5h1v-3h1v3h4v-8h1v8h10v-7h1v7h6v-6h1v-1.5h1v7.5h5v-3.5h1v3.5h2v-14.5h1v6.5h1v5h1v-.5h1v-.5h1v4h5v-14h1v14h6v-8h1v8h20v-3h1v3h1zM1103 715.2v-2h1v2h11v-4h1v4h2v-4h1v4h1v-1h1v1h3v-2h1v-3h1v-6.5h1v9.5h1v-3h1v5h2v-4h1v4h4v-2h1v-2.5h1v-2.5h1v7h1v-4.5h2v4.5h4v-7.5h1v7.5h2v-3.5h1v3.5h1v-4.5h1v4.5h2v-7h1v7h15v-4h1v-1.5h1v5.5h1v-3.5h1v3.5h4v-2h1v-2h1v4h2v-5h1v5h4v-4.5h1v4.5h1v-6.5h1v-1h1v7.5h7v-1.5h1v1.5h6v-2.5h1v-.5h1v.5h1v-1.5h1v4h1v-2.5h1v2.5h2v-3h1v-2h1v5h1v-4h1v4h2v-4.5h1v4.5h1v-1h1v1h5v-4h1v4h4v-4h1v4h6v-3h1v3h9zM1103 734v-2h1v-.5h1v-5.5h1v6.5h1v-2h1v1h1v2.5h1v-4.5h1v1h1v-1.5h1v-5.5h1v10.5h1v-3h1v-9h1v10h1v2h1v-2.5h2v2.5h1v-3h1v-8h1v11h1v-4.5h1v2.5h1v-14.5h1v12.5h1v-1.5h1v2h1v1.5h1v-1.5h1v3.5h1v-6.5h1v6.5h1v-9h1v5.5h1v-1.5h1v-.5h1v2h1v.5h1v3h2v-4.5h1v4.5h2v-5h1v1.5h1v-3.5h1v7h1v-2.5h1v.5h1v-1h1v-1.5h1v-.5h1v-.5h1v5.5h1v-2.5h1v-4.5h1v1.5h1v.5h1v2h1v-7.5h1v6.5h1v1.5h1v-6h1v-8h1v8.5h1v2.5h1v1.5h1v4h1v-3h1v2h1v1h1v-2.5h1v2.5h3v-3h1v-4h1v3h1v4h4v-6.5h1v4.5h2v-5h1v7h1v-1.5h1v-.5h1v.5h1v1.5h3v-1.5h1v-1.5h2v-1.5h1v2.5h1v-1.5h1v-3.5h1v7h1v-6.5h1v1.5h1v.5h1v-.5h1v2.5h1v-4.5h1v5h1v-1h2v-1h1v4h1v-3.5h1v3.5h2v-5h1v.5h2v1.5h1v-4h1v4h1v3h1v-2.5h1v.5h1v-2.5h1v1h1v2h1v-3.5h1v-3.5h1v6h1v-5.5h1v8h2v-4h1v2.5h1v-2h1v2.5h1v-5.5h1v6.5h1v-14.5h1v8.5h1v6h1v-4h1v4h1v-5h1v5zM1103 752.8v-3.5h1v-1h1v1.5h1v-1.5h1v-.5h1v-.5h1v3h2v-2h2v4.5h1v-5h1v2h1v3h1v-4.5h1v-1h1v5.5h1v-4.5h1v-1.5h1v2.5h1v-1.5h2v-.5h1v1h1v-.5h1v1.5h2v-.5h1v1.5h1v-3h1v.5h2v1h1v-1h1v2h1v-1.5h1v-.5h1v.5h1v-1h1v1h1v-1h1v2h1v-3h1v2h1v-1h1v2h2v-2h1v-1h1v2.5h1v-.5h1v-1.5h1v1.5h1v2.5h1v-3.5h1v5.5h1v-4h1v-2.5h1v1.5h3v-1h1v.5h1v.5h1v2.5h1v-1h1v-2h1v5.5h2v-3h1v-.5h1v-3h1v1h1v-.5h1v-2.5h1v3.5h1v2h1v-2h1v.5h1v-.5h1v-1.5h1v2h2v1.5h1v-3.5h1v-1h1v7.5h1v-6.5h1v.5h1v3.5h1v-3h1v5.5h1v-4.5h3v-1.5h1v2h2v-.5h1v1.5h1v3h1v-3h1v-2.5h1v-.5h1v.5h1v2h1v3.5h1v-3h2v-1h3v1h1v-1h1v-1h1v-.5h1v1.5h1v.5h1v-.5h1v1h1v.5h1v-4h1v2h1v-2h1v3.5h2v-2h1v.5h1v-2h1v-.5h1v2h1v2h1v-.5h2v-.5h1v4h1v-5.5h1v1.5h2v-2h2v2.5h1v3.5h1v-4.5h1v1h1v-1.5h1v5zM1103 771.5h1v-5h1v1h1v-.5h1v-1.5h1v2h1v-.5h1v-1h1v-1.5h1v3.5h1v2h1v-3.5h1v-1h1v.5h1v1h2v2h1v-2h1v-1.5h3v-.5h1v-.5h1v2h1v-2h1v2h1v-3.5h1v5h1v-4.5h1v2.5h2v.5h1v1h1v-2h1v-1h1v2.5h1v-2h1v1.5h1v-.5h1v-.5h1v1.5h1v-3h1v1.5h1v6h1v-2.5h1v-4.5h1v.5h2v-.5h1v2.5h1v-3.5h1v8h1v-5h1v.5h1v-1h2v-1h1v2h1v-3h1v2.5h1v-1h1v2h2v1.5h1v-5.5h1v2.5h1v2h1v-1h1v.5h1v-.5h1v-.5h1v2h1v-2h1v-.5h2v-2h1v3.5h1v-1h1v-1.5h1v3h1v-2h1v-.5h1v-2.5h1v3h1v-1h1v.5h1v1h1v1.5h1v-2h1v.5h1v-3h1v6.5h1v-2.5h2v.5h1v-3.5h1v3h1v-.5h1v4.5h1v-5h1v-.5h2v-1h1v.5h2v.5h1v1h1v-3h1v3.5h1v-.5h1v-5h1v5h1v4.5h1v-7h1v4h1v-3.5h1v1.5h1v1h1v1h1v-1.5h1v-1.5h1v.5h1v-.5h4v.5h1v5.5h1v-5h1v-.5h1v-1.5h1v-1.5h1v3h1v-2h1v2.5h1v-.5h1v-.5h3v6h1v-2h1v-4.5h1v2.5h1v-3h1v2h1v2h1v3zM1103 790.3v-7h1v4h1v.5h1v2.5h1v-4h1v1h1v-2h1v3h1v-.5h1v1h1v1.5h1v-3h1v3h1v-3h2v-2h1v3.5h1v-1h1v-2.5h1v1h1v2.5h1v-3h1v2.5h1v1h1v-4h1v1.5h1v-.5h1v2h1v-3.5h1v3h1v-.5h1v2h1v-.5h1v1.5h1v-1.5h1v.5h1v1h2v-1.5h1v-1h2v1.5h1v-.5h1v-5.5h1v-.5h1v5h1v-.5h1v3h1v-1h1v-1.5h1v-4h1v4h1v-1h1v3.5h1v-5.5h1v5.5h1v-1.5h1v.5h1v-1h1v2h2v-3h1v3h3v-1h1v-1h1v-2h1v4h1v-3h1v3h1v-7h1v3h1v2h1v2h1v-6h1v4.5h1v-.5h1v2h1v-4.5h1v1.5h1v-.5h2v1h1v.5h1v2h1v-2.5h1v2.5h2v-1.5h1v.5h1v-1.5h1v.5h3v-2h1v2h2v-.5h2v.5h1v-.5h1v2.5h1v-3h1v-2.5h1v1h1v4.5h1v-1h1v-3h1v1h1v1h1v-2.5h1v.5h1v1h2v-.5h1v2.5h1v-.5h1v-5h1v6.5h1v-3h1v2h1v1h1v-1h1v1h1v-2.5h1v-6.5h1v4.5h1v2h1v1h1v1.5h1v-5.5h1v5.5h1v-4.5h1v2.5h1v-2.5h1v2h1v-1h1v1h1v1h1v-.5h1v1h1v1h2v-2h1v-2h1v4zM1103 809.1v-8h2v.5h1v.5h1v-.5h1v-1.5h1v1.5h1v-.5h1v1.5h1v-1.5h1v1.5h1v-3.5h1v1h1v-.5h1v2h1v-5h1v5.5h1v-2h1v3h1v-6h1v4.5h1v-1.5h1v1h1v-.5h1v.5h1v-2h1v1.5h1v.5h1v.5h1v-.5h1v-1h1v-1h1v1.5h1v3h1v-.5h1v-3.5h1v1.5h1v1h2v-5h1v4.5h1v-.5h1v1h1v-1h1v.5h1v-3.5h1v2.5h1v-4h1v8.5h1v-5h1v1.5h1v-2h1v4.5h1v-4.5h1v.5h1v1.5h1v.5h2v-1.5h1v.5h1v1h1v-1.5h1v1.5h1v.5h1v1.5h1v-2.5h1v-.5h1v-5h1v2h1v2h1v.5h1v-1h1v2h1v-1h2v-.5h1v1h1v3.5h1v-2.5h1v-3h1v1.5h1v-1h1v4h1v-1h1v.5h1v-3.5h1v1.5h1v.5h1v-2h1v.5h1v1.5h1v-3h1v1.5h1v-.5h1v.5h2v-.5h1v2.5h1v-.5h1v-1h1v-1h1v-.5h1v.5h1v2h1v-2.5h1v1h1v1.5h1v-.5h1v1.5h1v-2.5h1v3h1v-1h1v-2h1v-.5h1v3.5h1v-.5h1v-2.5h1v2h1v-2h1v1h1v-.5h1v-1.5h1v2.5h2v-2h1v2h1v-3h1v3h1v-3h1v3.5h1v-2h1v1.5h1v1.5h1v-.5h2v-4h1v1h1v.5h1v2h1v-3.5h1v3h1v-1.5h1v.5h1v3h1v-4h1v1h1v8.5zM1103 827.9v-2.5h1v-1h1v2h1v1.5h1v-2h1v2h1v-2h1v-1.5h1v1.5h1v1h1v-6h1v4.5h1v-1h1v-.5h1v1h1v3h1v-3.5h1v-.5h1v-2h1v4.5h1v-2h1v3.5h2v-2h1v-1.5h1v2h1v-4h1v3h1v-2.5h1v4h2v-2.5h1v-1h1v1h1v3.5h1v-8h1v-1h1v9h1v-1h1v-3.5h1v.5h1v2.5h1v-.5h1v-1h1v-1h1v4h1v-4.5h1v4.5h1v-2h1v-6h1v5h1v.5h3v2.5h1v-3h1v1h1v-6h1v-5h1v10.5h1v2.5h1v-7h1v4h1v3h1v-3.5h1v-9h1v10.5h1v2h1v-3.5h1v3.5h1v-5h1v5h1v-3.5h1v1.5h1v.5h1v-.5h1v-2h1v.5h1v1.5h1v-8.5h1v7.5h1v-1h1v-3h1v4h2v3h1v-3.5h1v2.5h1v-3.5h1v-1h1v3.5h1v-11.5h1v13.5h1v-2.5h1v2.5h1v-2h1v.5h1v1.5h1v-2h1v-1h1v-.5h1v1.5h1v1h1v-1h1v-2.5h1v4.5h1v-2.5h1v-1.5h1v-2.5h1v6.5h2v-1.5h1v-7.5h1v6.5h1v2.5h1v-5.5h1v3h1v-1h1v2h1v-1h1v.5h1v2h1v-7h1v7h1v-2h1v2h1v-3h1v-1.5h1v4.5h2v-2.5h1v-1.5h1v2h1v-2h1v2h1v2h1v-4.5h1v1h1v-.5h1v4h2v-1.5h1v-.5h1v2h1v-16.5h1v16.5h1zM1103 846.6v-2h1v-4h1v.5h1v-2h1v2.5h1v-3.5h1v4h1v1h1v1.5h1v-.5h2v-5h1v4.5h1v.5h1v2.5h1v-2.5h1v-4h1v6.5h1v-2.5h1v-.5h1v-.5h1v-.5h1v1h1v1h1v-6h1v3h1v2h1v-1h2v2.5h1v-2.5h1v2h1v-5h1v3.5h1v1.5h1v.5h1v1.5h1v-3.5h1v-2.5h1v3h1v-7.5h1v4.5h1v3h1v3h1v-8h1v4h1v1.5h1v-10.5h1v13h1v-2.5h1v-7h1v4h1v2.5h1v.5h1v1h1v-3h1v-1.5h1v4.5h1v-2.5h1v-2.5h1v4h1v1h1v1.5h1v-3.5h1v-1h1v3h1v-1.5h1v-1.5h1v-1h2v5.5h1v-4h2v-2.5h1v-.5h1v2.5h1v-3h1v4.5h1v-3.5h1v1.5h1v-2h1v4.5h1v-.5h1v1h1v-1.5h1v2h1v-4h1v4.5h1v-3h1v-2.5h1v4h1v-2.5h1v3.5h1v1.5h1v-5h1v1.5h1v2h1v-7.5h1v7h1v-1h1v3h1v-7h1v1h1v2.5h1v-8h1v7.5h1v2.5h2v-1.5h1v3h1v-2.5h1v-6h1v-2h1v9h1v1.5h3v-5h1v2.5h1v-1.5h2v2h1v-1.5h1v1h1v-2.5h1v3.5h1v-3h1v4.5h1v-3.5h1v1.5h1v2h1v-3h1v-1h1v3h1v-1.5h1v.5h1v-1h1v-13.5h1v11h1v5.5h1v-3h1v-9.5h1v10h1v-1.5h1v4h1v-3.5h1v3.5zM1103 865.4v-5.5h1v-1.5h2v2h1v.5h1v-1h1v2h1v-2h1v1h1v-1.5h1v-.5h1v.5h1v-1h1v3h1v-4.5h1v5h1v-3h1v-2h1v1.5h1v1h1v1h1v1h1v1h1v-1.5h1v-3h1v2h1v-1h1v-1.5h1v1h1v.5h1v-.5h1v3.5h1v-3.5h1v1h3v1.5h1v-1.5h1v-2.5h1v1.5h1v1h1v-1h1v2h1v-1.5h1v2h1v-1.5h1v-2h1v2h1v-2h1v5h1v-5h1v1h1v-2h1v2.5h1v-2.5h1v3h2v-1.5h1v2.5h1v-3.5h1v1.5h1v2.5h1v-2.5h1v1h1v-1.5h1v.5h1v-1.5h1v1.5h1v-.5h2v.5h1v.5h3v1.5h2v-1h1v-1h1v1h1v-1.5h1v4h1v-4h1v5.5h1v-4.5h1v-2h1v4h1v-.5h1v2h1v-4h2v1.5h1v.5h1v-1h1v1h1v-1.5h1v-.5h1v2h1v-2h1v-.5h1v.5h1v-.5h1v-.5h1v1h1v-1.5h1v3h1v2.5h1v-1.5h1v-4.5h1v1.5h1v.5h1v1h1v-2h1v2.5h1v-2h1v.5h1v-1.5h1v-1.5h1v1.5h1v1.5h1v-.5h1v1h1v3h1v-2h2v-.5h2v-1h1v1h1v-4h1v2.5h1v4h1v-3.5h1v.5h1v1.5h1v-1h1v-1h1v-1h1v4h1v-2.5h1v2h1v-1h1v-4h1v5h1v1h1v-1.5h1v-1h1v6zM1103 884.2v-4.5h1v-3.5h1v2.5h1v-1h1v1.5h1v-.5h1v-.5h3v1.5h1v-1.5h1v-.5h1v2.5h1v-2h1v1.5h1v1h1v-2.5h1v2h1v-.5h1v2h1v-2.5h1v1h1v-2.5h1v-1h1v2h1v-1.5h1v1.5h2v1.5h1v-1.5h2v1h1v-1.5h1v.5h1v-.5h1v1h1v-1h1v2h1v-6.5h1v7.5h1v-2h1v-1h1v-1h1v4h1v-5.5h1v4h1v-.5h1v-.5h1v1h1v-1.5h1v1h1v1h1v-3h1v-.5h1v2h1v1h1v-.5h1v-2h1v3.5h1v-1.5h1v-1.5h1v3h1v1h1v-3.5h1v1h1v.5h1v-2h2v-.5h1v1.5h1v-1h1v4.5h1v-3h1v-1.5h1v3h1v-1h1v-.5h1v2.5h1v-3.5h2v-4.5h1v5.5h2v2.5h1v-1h1v-.5h1v-1h1v1.5h1v-1h1v-1h1v-2h1v-1.5h1v4.5h1v1h2v-.5h1v-1h1v-1h2v2h1v-2h1v-.5h1v.5h1v1.5h1v-1.5h1v2.5h1v-.5h1v-1.5h1v1h1v-.5h1v1h1v-2h1v2.5h1v-1.5h1v1.5h1v-2h1v-1h1v1.5h1v-.5h3v.5h1v-2h1v3h1v-2h1v-1.5h1v1h2v-.5h1v1.5h1v1.5h1v-2h1v-.5h1v1.5h1v2h1v-1.5h1v-1h1v-.5h1v1h1v1.5h1v-1h1v-.5h1v.5h1v2h1v-1.5h1v-3h1v7zM1103 903v-5.5h1v5.5h2v-4h1v1.5h1v2.5h3v-4h1v4h1v-2.5h1v2.5h1v-7.5h1v2h1v5.5h1v-1.5h1v1.5h2v-2h1v-4h1v4.5h1v-.5h1v-1.5h1v3.5h4v-4.5h1v2h1v2.5h2v-1h1v-6.5h1v5.5h1v2h1v-2.5h1v-.5h1v3h2v-2.5h1v1h1v-4h1v2h4v3.5h4v-4.5h1v-.5h1v5h1v-2h1v1h1v1h1v-2h1v2h2v-6.5h1v1.5h1v5h1v-2.5h1v2.5h1v-3h1v2h1v1h1v-2.5h1v1h1v-1.5h1v3h1v-4h1v4h1v-1h1v-.5h1v-.5h1v1h1v-1.5h1v2.5h1v-1.5h2v-.5h1v-.5h1v1h2v-.5h1v2h5v-1.5h1v-1.5h1v1h1v2h1v-3.5h1v3.5h2v-5h1v5h3v-2h1v.5h1v-1h1v2.5h1v-3h2v.5h1v.5h1v-2h1v.5h1v1.5h1v2h2v-5.5h1v2.5h1v3h1v-3h1v.5h1v-2.5h1v2.5h1v1h1v1.5h2v-2h1v-1.5h1v-3h1v3h1v2.5h1v1h1v-3h1v3h1v-5h1v2h1v3h1v-5h1v5h2v-1.5h1v-5.5h1v4.5h1v1h1v-1h1v2.5h1v-1h1v1zM1103 921.7v-14.5h1v1h1v4h1v-4.5h1v1.5h1v2.5h1v-2h1v-2.5h1v2h1v3h1v-3.5h1v-1.5h1v1.5h2v-1h2v2h1v-1h3v-.5h1v.5h1v-.5h1v-.5h1v1.5h1v-1h1v-1h1v1h1v-2h1v1.5h1v4h1v-3h1v-2h1v2h1v3h1v-3h1v-.5h1v-1h1v-1h1v2h1v1h1v.5h1v-.5h2v-2h1v1h1v.5h1v.5h1v3h1v-7h1v1.5h1v.5h1v2.5h1v-.5h1v.5h1v-1h2v1h1v-2h1v1.5h2v-1.5h1v-1.5h1v2.5h3v.5h1v-2h1v1h1v3.5h1v-2.5h1v-1h1v1.5h1v-4.5h1v4h1v1h1v-.5h1v-1.5h2v1.5h1v-2.5h1v2h4v-3h1v2h1v.5h1v-1h1v2h1v-3h1v2h1v1h1v-2h1v1.5h1v-1h2v2h1v-3h1v.5h1v4h1v-4h1v2.5h1v-1.5h1v-1h1v-1h1v2.5h1v-.5h1v1.5h1v-.5h1v-1.5h1v-.5h2v1.5h1v-1h1v-.5h1v.5h1v1.5h1v-2.5h1v1h1v.5h1v2h1v-2h1v1h1v-2h1v.5h1v1h1v-1h1v1h1v-1h1v.5h1v1h1v-1.5h1v.5h1v3h1v-2.5h1v.5h1v-1h1v1.5h1v-.5h2v3.5h1v-6.5h2v4.5h1v-1.5h1v12zM1103 940.5v-14.5h1v-1h1v1h1v1.5h1v-.5h1v-3h1v3h2v-3h1v2.5h1v1h1v-2h1v1.5h1v-1h1v1.5h1v-3.5h1v2.5h1v-1h2v-1.5h1v3h1v-1h1v-.5h1v-1.5h1v2h2v.5h1v3.5h1v-4.5h1v.5h1v.5h1v1h1v-3h1v-.5h1v1.5h1v1.5h1v-1h1v1.5h1v-1.5h1v1h1v-1.5h2v.5h1v-1h1v2.5h1v-1h1v-1h2v-.5h1v1.5h1v1h1v-2.5h1v2h2v-2h1v2h1v-.5h1v-.5h1v-1h1v2h1v-.5h1v-2h1v3h1v-1.5h1v-2h1v7.5h1v-5h1v-1h1v1h2v-.5h1v1h1v-1.5h1v1h1v-.5h1v2h1v-2h1v.5h1v-.5h1v-2h1v2.5h1v-.5h1v.5h2v-1h1v1.5h2v-1.5h1v2h1v-2h2v1.5h1v-2h1v2.5h1v-1.5h1v-2h1v3h1v-1.5h1v1.5h1v-2h1v2h2v-1.5h1v.5h1v-2h1v1.5h1v2h1v-.5h1v-1h1v1.5h1v-3h1v-.5h1v.5h1v2h1v-1.5h1v2.5h1v-1h1v-1h1v1.5h1v-2.5h1v2h2v-2.5h1v1.5h2v.5h1v-.5h1v1h1v-.5h1v-2h1v4h1v2h2v-4.5h3v.5h1v1.5h1v-2.5h2v1.5h1v.5h1v-1h1v.5h2v-2h1v16zM1103 959.3v-13h1v-.5h2v-.5h1v-.5h1v2.5h1v3h1v.5h1v-2.5h1v-4h1v.5h1v-.5h1v2h1v-.5h1v-.5h1v3h1v-3h1v-.5h1v1.5h1v-1h1v.5h1v-2h1v2.5h1v1.5h1v-1h1v-2h1v1.5h1v-1h1v-.5h1v-.5h1v2h1v1.5h1v-1.5h2v-.5h1v2h1v-1h1v-2h1v-.5h1v3h1v-2.5h1v3h1v-2h1v-2h1v2h1v5h1v-4.5h1v-.5h1v-3h1v3h1v-1h1v1h1v1h1v-.5h1v-3.5h1v3.5h1v-1.5h1v.5h1v-.5h2v.5h1v.5h1v-3h1v1.5h2v-.5h1v5.5h1v-1.5h1v-2h1v-1.5h1v3h1v-3.5h1v2.5h2v-.5h1v1h1v1.5h1v-1h1v-2.5h1v-1h1v2.5h1v-.5h1v2h1v-2h1v3.5h1v-2h1v-.5h1v-3h1v5.5h1v.5h1v-4h3v1h1v-2h3v-1h1v1h1v3.5h1v-2.5h1v-1h1v1h1v-.5h1v.5h1v1h1v-1.5h1v-2h1v3h1v-1h1v1h1v.5h1v.5h1v-1h1v-1h1v-.5h1v-2h1v3h1v-1.5h1v1.5h1v-.5h1v-.5h1v5.5h1v-5.5h1v-1h1v3h1v-1h1v-1h2v.5h1v.5h2v-3h1v3.5h1v-1.5h1v.5h1v2h1v-1h1v-3.5h1v1h1v2h1v-1h1v-1h1v.5h1v2h1v-.5h1v13.5zM1103 978.1v-11h1v-2h1v1.5h1v-2.5h1v1h1v1h1v-2h1v1.5h1v1h1v.5h1v-5.5h1v6h1v-1h1v-1.5h1v.5h1v5h1v-4h1v-1h1v.5h1v-1h1v4.5h1v-4h1v1h1v-2.5h1v1.5h1v.5h3v-2h1v2.5h1v-2h1v.5h2v-.5h1v.5h2v1h1v-.5h1v4.5h1v1h1v-6.5h1v.5h1v2.5h1v2.5h1v-1h1v-6.5h1v2.5h1v.5h1v4h1v-3.5h2v1h1v-2h1v1h1v-.5h1v1.5h1v-1.5h1v-2h1v3.5h1v-.5h1v-2.5h1v3h1v-1.5h1v1h1v-1.5h2v3.5h1v-5.5h1v4h1v-.5h1v-1h1v5h1v-6.5h1v6h1v-1.5h1v-.5h1v-2.5h1v1h1v-.5h1v1.5h2v.5h1v-2.5h1v1h1v-1h2v-.5h1v2h1v-5h1v3h2v-.5h1v1.5h1v-2h1v3.5h1v-1h1v-2h2v1.5h1v3.5h1v1h1v-3.5h1v-1.5h1v-1h2v.5h1v.5h1v.5h1v1.5h1v-1.5h1v-1h1v1h1v-1h1v2h1v2.5h1v-4h1v2h1v-2h1v-1h2v2.5h1v-2.5h1v.5h1v.5h1v-.5h1v.5h1v4h1v-1h1v-3.5h1v-.5h1v.5h1v2h1v-.5h1v-.5h1v-.5h1v4.5h1v-3h1v-2h1v1.5h1v2h1v-7h1v8h1v-4h1v.5h2v-.5h1v12.5zM1103 996.8v-11.5h1v-1.5h1v3h1v-3h1v4.5h1v-5h1v1.5h1v-.5h1v-1.5h1v5.5h1v-4.5h1v2h1v-1h3v1h1v-2h1v2h1v-2.5h1v-.5h1v2h1v-1.5h1v.5h1v-.5h1v1.5h1v2h1v1h1v-4h1v1h2v-1.5h2v.5h1v.5h1v.5h1v-2h1v-2.5h1v3h1v.5h2v-.5h2v-2h1v3h1v1.5h1v-3h1v-1h1v1.5h1v1h1v-.5h1v3.5h1v-4h1v2h2v1h1v-2.5h2v2.5h1v-1.5h1v-1h1v2h1v-1.5h2v-1h1v3h1v1.5h1v-3h1v-.5h2v-1h2v-.5h1v1h1v-.5h1v1h2v2.5h1v2.5h1v1h1v-2h1v.5h1v-1h1v2h1v-1h2v1.5h1v-3h1v.5h1v-.5h1v.5h2v.5h1v-1.5h1v.5h1v1.5h1v-1h1v1.5h1v-2.5h1v3h1v-.5h1v2h1v1h1v-5h2v-1h1v3h1v-.5h2v.5h1v-2.5h1v4.5h1v-2h1v-.5h1v-1.5h2v2h1v1h1v-1.5h1v1h2v-.5h1v1.5h1v-1h2v.5h1v-6h1v4h1v-1.5h1v4h2v-2h1v.5h2v-2.5h1v-3.5h1v4.5h1v-1h2v1.5h1v-.5h1v.5h1v-3h1v5h1v-.5h1v-3h1v3.5h1v6.5zM1103 1015.6v-5h2v-2.5h1v-.5h2v1h1v.5h1v3h1v-3h1v1.5h1v-.5h1v2h1v-2.5h1v1h1v-1h1v-2.5h1v-3h1v-2h1v9h1v-3.5h1v2.5h1v-2h1v1.5h1v1.5h1v-1.5h1v-1h1v1h1v2h1v-3.5h1v1h1v.5h1v-1.5h1v2.5h1v-2h1v-.5h1v1h1v-1.5h1v.5h1v1.5h1v2h1v-1h1v-3h1v2h1v-1h1v2h1v-2.5h1v1h1v3h1v-2.5h1v-1.5h2v3h1v-6.5h1v6h1v-2.5h1v1.5h1v-2.5h1v3.5h1v-3h1v4h1v-3.5h1v1h1v2h1v-3.5h1v1h1v-.5h1v.5h1v3h1v-3.5h1v2.5h3v-2.5h1v3.5h1v-2.5h1v-2h2v5.5h1v-3h1v.5h1v-.5h1v.5h1v-1h1v.5h1v-2h1v3h1v-.5h1v2h1v-1.5h1v-1h1v.5h1v-2h1v2h1v-1.5h1v2.5h1v-1h1v1.5h1v-2h1v-1.5h1v2.5h1v.5h1v-4.5h1v1.5h1v1.5h1v-1.5h1v1h1v-.5h1v-.5h1v2h1v1h1v-1h1v-1.5h1v.5h2v-1.5h1v-.5h1v-.5h1v4h1v.5h1v-1.5h1v-3h1v4.5h1v-3h1v-.5h1v2.5h1v-.5h1v1.5h1v-1.5h1v-.5h1v1h2v-2.5h1v3h1v-1.5h1v-2.5h1v1.5h2v2.5h2v-3.5h1v1.5h1v-1h1v1.5h1v1.5h1v-2.5h1v-.5h1v8zM1103 1034.4h1v-1h1v-2.5h2v1.5h1v-2.5h1v2h1v-2h1v3.5h1v1h1v-2.5h1v-4.5h1v.5h1v6.5h1v-2h1v-1h1v-3h1v6h1v-6.5h1v-1.5h1v1h1v7h1v-2.5h1v-.5h1v3h1v-10.5h1v9.5h1v1h1v-3.5h1v3.5h2v-3h1v-1.5h1v1.5h1v-3.5h1v6.5h5v-13h1v4h1v9h3v-2.5h1v-.5h1v3h2v-1h1v-6h1v7h3v-4h2v-2.5h1v6.5h1v-3h1v3h1v-4h1v4h1v-7h1v3.5h1v3.5h3v-3.5h1v3.5h1v-2h1v-3h1v5h1v-5.5h1v3.5h1v2h1v-7h2v3.5h1v3.5h2v-3.5h1v.5h1v1.5h1v-12.5h1v11h1v3h1v-2h1v2h1v-3h1v3h1v-3.5h1v-4.5h1v-.5h1v8.5h2v-2.5h1v2.5h1v-2h1v2h2v-9.5h1v6h1v3.5h1v-4.5h1v4.5h1v-3h1v3h1v-2h1v2h1v-3h1v3h2v-7.5h1v7.5h1v-2.5h1v2.5h2v-3.5h1v3.5h2v-3h1v3h1v-2h1v2h1v-5.5h1v3.5h1v1h1v-6h1v3.5h1v-8h1v2.5h1v9h2v-1.5h1v-1h1v-3h1v5.5h2v-4h1v-2h1v6h1v-2h1v2h1v-4.5h1v4.5h1v-7.5h1v7.5zM1103 1053.2v-5h1v4h1v1h1v-2.5h2v-2h1v4.5h1v-3.5h1v-.5h1v-3h1v3h1v4h1v-3h1v-.5h1v3.5h1v-4.5h1v1h1v1.5h1v-1h1v3h1v-1.5h1v-1.5h1v-.5h1v-2h1v5.5h1v-2.5h2v-2.5h1v1h1v1h1v3h2v-1.5h1v-2.5h1v-3.5h1v.5h1v-2.5h1v-2h1v8.5h1v1.5h1v-1.5h1v3h1v-2.5h1v-.5h1v-6.5h1v1.5h1v-1.5h1v4.5h1v5h1v-3.5h1v-6h1v7h1v-.5h1v-1h1v-2h1v3.5h1v-1.5h1v-1h1v-2.5h1v4h1v1h1v-.5h1v-1.5h1v2.5h1v-1h1v.5h2v-3.5h1v6h1v-3h1v-2h1v2h1v-1h1v-.5h1v.5h1v-.5h1v.5h1v2.5h1v-3h1v.5h2v1h1v1h1v-4h1v3.5h1v-5h1v-1.5h1v4h1v1h1v2.5h1v-3.5h1v3h1v-6.5h1v-.5h1v-2h1v-1h1v6h1v3h1v-1.5h1v2h1v-2h1v-3.5h2v6.5h1v-4.5h1v-6.5h1v6.5h1v-2h1v5h1v-4.5h1v-1h1v3h1v1.5h1v2h1v-2.5h1v-.5h1v-5h1v3.5h1v-1h1v3.5h1v-1h1v-1h1v-.5h1v3h1v-3.5h1v.5h1v-1h1v.5h1v-.5h2v2h1v.5h1v-2h1v-.5h1v2h2v-1.5h1v-2h1v4.5h1v-1.5h1v-1.5h1v.5h1v-4.5h1v5h1v-2h1v4h1v4.5zM1103 1071.9h2v-1h1v1h3v-3h1v3h11v-1.5h1v1.5h2v-2h1v-5.5h1v7.5h3v-2h1v2h6v-3h1v3h1v-2h1v2h6v-2h1v2h3v-4.5h1v1.5h1v3h3v-4.5h1v-2h1v5.5h1v1h7v-6h1v6h7v-6h1v6h4v-5h1v5h6v-5.5h1v5.5h3v-4.5h1v4.5h2v-3h1v3h7v-2h1v2h6v-3.5h1v3.5h7v-3.5h1v3.5h8v-2.5h1v2.5h9v-2h1v-3h1v5h2v-2.5h1v2.5h1v-3.5h2v-.5h1v-.5h1v4.5h1v-2.5h1v2.5h4zM1103 1090.7v-2.5h1v-3.5h1v3h1v3h2v-11.5h1v7.5h1v2h1v-.5h1v1.5h2v1h3v-4h1v1h1v.5h1v2.5h1v-2.5h1v2.5h3v-3.5h1v1.5h2v1h1v-.5h1v1.5h2v-1h1v-1.5h1v2.5h4v-6h1v3h1v.5h1v1h2v-3.5h1v1.5h1v1.5h1v2h2v-2.5h1v1.5h1v-2h1v-4h1v7h1v-2h1v-1h3v3h2v-13h1v10.5h1v2.5h1v-3.5h1v1.5h1v2h1v-1.5h2v1.5h3v-3h1v3h1v-2.5h1v1h1v-7.5h1v9h1v-4h1v4h1v-2h1v.5h1v1.5h1v-6h1v2.5h1v3.5h2v-2h1v2h1v-3h1v2h1v1h1v-1h1v1h1v-1h1v-.5h2v1.5h1v-1.5h1v1.5h5v-2.5h1v2.5h1v-4.5h1v3.5h2v1h3v-1.5h2v-1h1v-5h1v6.5h1v1h1v-2.5h1v2.5h1v-1.5h1v1.5h2v-3.5h1v2h1v-1h1v1h1v-1h1v.5h1v1h1v1h1v-2.5h1v2.5h1v-2h1v2h2v-5h1v3h1v-1.5h1v3.5h2v-2h1v1h1v1h1v-1.5h1v1.5h6zM1103 1109.5h1v-5.5h1v3.5h1v-.5h1v2.5h4v-2h1v2h1v-2h1v2h3v-1h1v-1.5h1v2.5h4v-2h1v2h3v-2h1v.5h1v-4h1v5.5h2v-4h1v-1.5h1v5.5h1v-4.5h2v2h1v2.5h2v-3.5h1v3.5h1v-3h1v3h1v-6h1v4h1v-1h2v3h2v-4h1v4h3v-5h1v2h1v3h2v-2h1v.5h1v1.5h2v-1h1v-5.5h1v6.5h2v-10.5h1v7h1v3.5h1v-1.5h1v1.5h1v-5h1v5h1v-4h1v4h1v-2.5h1v2.5h6v-2.5h1v2.5h2v-3.5h1v3.5h1v-2.5h1v2.5h1v-3h1v-1.5h1v-2.5h1v7h1v-2.5h1v-5h1v7.5h2v-3.5h1v3.5h2v-13h1v11.5h1v.5h1v1h4v-1.5h1v-1.5h1v-2.5h1v5.5h2v-6h1v4h1v2h4v-4h1v4h2v-6.5h1v6.5h1v-9.5h1v9.5h2v-5.5h1v5.5h4v-3h1v3h1v-5.5h1v5.5h1v-4h1v4h2v-5h1v2h1v3h2v-9h1v9h1v-1.5h1v-3.5h1v4h1v-.5h1v1.5h1zM1103 1128.3h8v-5.5h1v5.5h11v-3h1v3h3v-1.5h1v1.5h8v-1.5h1v1.5h14v-2.5h1v1h1v1.5h4v-2.5h1v2.5h24v-5h1v5h1v-1h1v1h28v-2h1v2h35zM1103 1147.1h9v-4.5h1v4.5h33v-1.5h1v1.5h3v-4h1v4h48v-5h1v5h2v-1.5h1v1.5h6v-3h1v3h15v-4h1v4h23zM1103 1165.8v-3h1v-1.5h1v2.5h1v-1.5h1v.5h1v.5h1v.5h1v-2h1v1.5h1v-6h1v7.5h1v-3.5h1v.5h1v2h1v.5h1v-.5h1v-1.5h1v2.5h1v-1.5h1v-.5h1v-.5h1v2h1v-1h1v-1.5h1v.5h1v1h1v1.5h1v-.5h1v-5.5h1v4h1v3h1v-3.5h1v2h1v-2h1v3.5h1v-1h1v-2.5h1v-13h1v15h1v-3h1v3h1v.5h1v-3h1v4h1v-7h1v4h1v-2h1v1.5h1v1.5h1v.5h2v-1.5h1v-1h1v2h2v.5h1v-2h1v-1h1v3h1v1.5h2v-4.5h1v2.5h1v-1h1v-1h1v2.5h1v1.5h2v-2h1v2h1v-2h1v-.5h1v-2h1v1.5h1v-.5h1v2h1v1.5h1v-4.5h1v4.5h2v-2.5h1v-.5h1v3h1v-3.5h1v-1.5h1v3.5h1v-3.5h1v5h1v-2h1v-2h1v4h1v-3.5h1v1h2v-2h1v1h1v-1h1v4.5h1v-4h1v4h1v-4.5h1v4.5h3v-2h1v-1h1v3h2v-5h1v3.5h1v-1h1v1h1v-.5h1v-1h1v.5h1v-2.5h1v2.5h1v.5h1v-1.5h1v1h1v2.5h2v-2.5h1v-3.5h1v6h1v-3h1v2h1v1h2v-3.5h1v2h1v-4h1v1h1v1.5h1v-.5h1v3.5h1v-2.5h1v2.5h1v-3.5h1v3.5h1v-11h1v7.5h1v2h1v-3h1v4.5h2zM1103 1184.6v-6.5h1v2h1v4.5h3v-5h1v2.5h1v-2h1v4.5h6v-1h1v-1.5h1v2.5h1v-3h1v3h2v-7.5h1v4h1v1h1v1h1v1.5h2v-13.5h1v13.5h1v-3h1v-1.5h1v.5h1v-1.5h2v5.5h1v-1h1v-4h1v5h1v-3h1v3h2v-2h1v-.5h1v-1h1v3.5h2v-2h1v2h1v-4h1v4h1v-2h1v-8h1v9h1v1h2v-2.5h1v2.5h1v-8h1v8h5v-3h1v3h1v-2h1v.5h1v1.5h2v-3.5h1v3.5h2v-4h1v2.5h1v-2.5h1v2.5h1v-.5h1v2h2v-2h1v2h7v-1.5h1v-1.5h1v3h2v-2h2v-1.5h1v2h1v1.5h1v-1.5h1v1.5h1v-3h1v-.5h1v.5h1v-8.5h1v8.5h1v1h1v2h1v-1.5h1v-9h1v10.5h1v-1.5h1v1.5h1v-2h1v2h1v-2.5h1v.5h1v2h1v-4.5h1v1.5h1v3h3v-2.5h1v2.5h5v-4.5h1v4.5h2v-2h2v2h2v-1.5h1v1.5h4v-1.5h1v-1.5h1v3h2v-2.5h1v2.5h2v-4h1v2.5h1v1.5zM1103 1203.4h3v-3h1v3h2v-1h1v1h2v-1.5h1v1.5h1v-5.5h1v5.5h44v-1.5h1v1.5h3v-1h1v1h26v-2h1v2h15v-1h1v1h10v-4.5h1v4.5h6v-2h1v2h14v-3.5h1v3.5h9zM1103 1222.2v-2.5h1v2.5h1v-2.5h1v2.5h3v-4.5h1v4.5h3v-2h1v2h1v-2h1v-1h1v3h8v-6h1v1h1v3.5h1v-3h1v4.5h4v-2h1v2h2v-1.5h1v1.5h1v-6.5h1v6.5h2v-4.5h1v4.5h1v-2.5h1v2.5h3v-2h1v-4h1v6h1v-2.5h1v2.5h1v-5.5h1v5.5h4v-2.5h1v2.5h3v-2.5h1v-1h1v1h1v2.5h1v-5h1v5h1v-3.5h1v3.5h1v-10h1v8h1v-.5h1v1.5h1v1h5v-2.5h1v2.5h1v-4.5h1v2h1v2.5h6v-5.5h1v3h1v-1.5h1v-1.5h1v5.5h2v-3.5h1v1.5h1v-1.5h1v3.5h2v-1h1v1h2v-3h1v-2h1v5h2v-3.5h1v3.5h3v-2.5h1v2.5h1v-2h1v1h1v1h3v-4.5h1v4.5h3v-3.5h1v3.5h2v-1.5h1v-4.5h1v6h1v-2h1v-4.5h1v6.5h4v-4.5h1v.5h1v4h1v-2.5h1v-1h1v-.5h1v4h3v-5h1v5h4v-8.5h1v8.5h1zM1103 1240.9h5v-9h1v9h2v-6h1v6h2v-4.5h1v1h1v3.5h3v-3.5h1v3.5h3v-2h1v-1.5h1v3.5h1v-3h1v3h4v-8h1v8h2v-2.5h1v-3.5h1v6h1v-2.5h1v2.5h8v-6h1v6h3v-3.5h1v3.5h7v-2.5h1v-4.5h1v7h4v-5.5h1v5.5h1v-2.5h1v2.5h1v-10.5h1v10.5h11v-5.5h1v3h1v2.5h2v-13h1v13h4v-5.5h1v5.5h2v-1.5h1v1.5h2v-11.5h1v9.5h2v2h2v-5h1v2h1v3h1v-3.5h1v3.5h1v-2.5h1v2.5h2v-2h1v-5.5h1v4h1v3.5h1v-5h1v5h1v-1.5h2v1.5h5v-3.5h1v3.5h2v-7h1v3h1v-4h1v8h2v-2h1v2h4v-8h1v5h1v3h2v-13h1v13h1v-4.5h1v4.5h7v-3.5h1v3.5zM1103 1259.7h1v-1.5h1v1.5h12v-1h1v1h5v-4.5h1v4.5h9v-6h1v6h1v-2h1v2h9v-4.5h1v4.5h1v-1.5h1v1.5h1v-5h1v5h5v-1h1v-1.5h1v2.5h3v-2h1v2h11v-4h1v2.5h1v1.5h3v-1h1v1h6v-2.5h1v1.5h1v-2h1v3h2v-5h1v5h1v-1.5h1v-4h1v5.5h4v-1.5h1v.5h1v1h3v-4h1v4h9v-1.5h1v1.5h2v-2.5h1v2.5h1v-2.5h1v2.5h5v-1.5h1v-.5h1v2h2v-1.5h1v1.5h4v-2h1v2h7v-1.5h1v-1h1v2.5h1v-1.5h1v-.5h1v-1h1v3h3z" fill="#87288F"/>
<path d="M1249 640.1v-5.5h.5v5.5h1.5v-16.5h.5v16.5h.5v-10h.5v-3h.5v13h.5v-9h.5v3h.5v-1h.5v-.5h.5v2h.5v5.5zM1249 696.4v-2.5h.5v2.5h1.5v-5.5h.5v5.5h2.5v-14h.5v1.5h.5v12.5h.5v-8.5h.5v8.5zM1249 715.2h.5v-9h.5v9h3.5v-4h.5v2.5h.5v1.5h1.5zM1249 734v-11h.5v2h.5v-1h.5v-1h.5v-.5h.5v2.5h1v-.5h.5v2h.5v-1h.5v-2.5h1v.5h.5v2h.5v8.5zM1249 752.8v-4h.5v-1.5h.5v1h.5v-1.5h.5v-1.5h.5v1.5h.5v-1h.5v.5h.5v3.5h.5v-1h.5v-3h.5v3.5h.5v-4h.5v3.5h.5v4zM1249 771.5v-8h.5v2h.5v.5h.5v-1.5h.5v-1h.5v-1h.5v.5h.5v1.5h1v-1h.5v1h.5v2h.5v.5h.5v-2.5h.5v7zM1249 790.3v-4h.5v2.5h.5v-7h.5v5.5h.5v-2.5h.5v5.5h.5v-2h.5v-14.5h.5v11.5h.5v1.5h.5v1h.5v-1h.5v-1.5h.5v2.5h.5v2.5zM1249 809.1v-8.5h.5v-7h.5v8h.5v1.5h.5v-1.5h.5v1h.5v-1h.5v2h.5v-1h.5v-.5h.5v-1h.5v-1h.5v3h.5v-.5h.5v6.5zM1249 827.9v-9.5h.5v-.5h.5v8h.5v-1h.5v-.5h.5v-9.5h.5v9h.5v-5h.5v9h.5v-10h.5v6h.5v-9.5h.5v7h.5v3.5h.5v3zM1249 846.6v-9.5h.5v3.5h.5v2h.5v-3h.5v.5h.5v-.5h.5v-.5h.5v4h.5v-2.5h.5v1h.5v-.5h.5v-1.5h.5v-.5h1v7.5zM1249 865.4v-5.5h.5v-1h.5v-.5h.5v.5h.5v.5h.5v-1h.5v1.5h.5v-1h.5v.5h.5v1h1v-4h1v2.5h.5v6.5zM1249 884.2v-9.5h.5v2h.5v-2h.5v-1.5h.5v1.5h.5v-.5h.5v.5h.5v2h.5v.5h.5v-2.5h.5v2.5h.5v-2.5h.5v-1h.5v3h.5v7.5zM1249 903v-5h.5v-1.5h.5v3h.5v1h.5v-9h.5v8h.5v2h.5v-1.5h.5v-.5h.5v-.5h.5v.5h.5v3.5h.5v-4h.5v4h.5zM1249 921.7v-12.5h.5v-.5h.5v-.5h.5v1.5h.5v-1h.5v.5h.5v-.5h.5v1h.5v-2.5h.5v1.5h.5v-2h.5v3h.5v-1.5h.5v-1h.5v14.5zM1249 940.5v-11h.5v.5h.5v.5h.5v1h.5v-2.5h1v4.5h.5v-4.5h.5v.5h1v.5h.5v-1h.5v3.5h.5v-2h.5v10zM1249 959.3v-14.5h.5v1h.5v1.5h.5v-1h.5v1h.5v-.5h.5v-1.5h.5v-.5h.5v.5h1v2h.5v-4.5h.5v3h1v13.5zM1249 978.1v-8.5h.5v-4h.5v3h.5v-2h1v-1.5h.5v2.5h.5v1.5h.5v-2.5h.5v1.5h.5v-2.5h.5v1.5h.5v-1.5h.5v-.5h.5v13zM1249 996.8v-5h.5v-4.5h.5v6.5h.5v-1h.5v-7h.5v2.5h.5v2h1v2.5h.5v-4.5h.5v6h.5v-5.5h.5v-8h.5v11h.5v5zM1249 1015.6v-15h.5v1h.5v-2.5h.5v2h.5v-1h.5v-.5h1v5h.5v-5h1v2h.5v-1.5h1.5v15.5zM1249 1034.4v-16h.5v.5h.5v-1h.5v1.5h.5v1.5h.5v-1h.5v-.5h.5v-1.5h1v.5h.5v2h.5v-2.5h1v1h.5v15.5zM1249 1053.2v-14h.5v-2.5h.5v2.5h.5v-.5h.5v-1h.5v1h.5v-.5h1v1.5h.5v-.5h.5v-2.5h.5v2.5h.5v.5h.5v-3h.5v16.5zM1249 1071.9h1.5v-2h.5v2h1v-1h.5v1h2v-2.5h.5v2.5h1zM1249 1090.7h1v-1h1v-3h.5v4h.5v-1h.5v-2.5h.5v2.5h.5v1h1v-1h.5v1h.5v-3h.5v3zM1249 1109.5v-6.5h.5v1.5h.5v1h.5v-1h.5v-1h1v1h.5v-1.5h.5v5.5h.5v-3h.5v-1.5h1v2.5h.5v-1h.5v4zM1249 1147.1h4v-1h.5v1h1.5v-1.5h.5v1.5h.5zM1249 1165.8v-1h.5v1h.5v-1.5h.5v1.5h4.5v-1.5h.5v-.5h.5v2zM1249 1184.6v-1.5h.5v1.5h1v-2h.5v1h.5v1h.5v-2.5h.5v.5h.5v2h2v-1.5h.5v1.5h.5zM1249 1222.2h1v-1.5h.5v1.5h.5v-2.5h.5v1h.5v-2h.5v3.5h.5v-4.5h.5v1h.5v3.5h.5v-3.5h.5v1.5h.5v-1.5h.5v3.5zM1249 1240.9v-5h.5v1h.5v4h1.5v-5.5h.5v3h.5v2.5h.5v-4h.5v4h.5v-3.5h1v3.5h.5v-2h.5v2zM1249 1259.7h1v-2h.5v2h.5v-5h.5v3.5h.5v-6h.5v7.5h3.5z" fill="#DDAA66"/>
<path d="M1256 640.1v-8h1v8h1v-3.5h1v3.5h5v-15.5h1v15.5h21v-2.5h1v2.5h6v-12.5h1v12.5h3v-1.5h1v-3h1v4.5h13v-7h1v7h1v-2.5h1v2.5h13zM1256 658.9h9v-1.5h1v1.5h13v-3.5h1v3.5h6v-3h1v3h2v-3.5h1v3.5h38zM1256 677.7h1v-1.5h1v-.5h1v2h3v-1.5h1v1.5h1v-6h1v6h4v-7.5h1v7.5h1v-3h1v3h4v-2.5h1v2.5h8v-1h1v1h3v-1.5h1v1.5h8v-2.5h1v2.5h1v-5.5h1v5.5h13v-3.5h1v3.5h1v-2.5h1v-.5h1v3h6v-6.5h1v6.5h3zM1256 696.4h18v-4h1v4h5v-1.5h1v1.5h3v-3h1v3h1v-13h1v13h22v-6h1v6h5v-12h1v12h7v-1.5h1v1.5h1v-4h1v4h2zM1256 715.2h14v-12h1v12h1v-3.5h1v3.5h2v-2.5h1v2.5h4v-4h1v4h1v-1.5h1v1.5h10v-8h1v8h4v-6.5h1v6.5h2v-11h1v11h6v-2.5h1v2.5h6v-4h1v.5h1v3.5h5v-3h1v3h2v-5.5h1v5.5h2zM1256 734v-4h2v4h1v-4h1v-6h1v7.5h1v2.5h1v-3h1v1h1v-2.5h1v4.5h3v-4h1v4h1v-3.5h1v3.5h1v-7h1v3h1v4h4v-1.5h1v1.5h1v-2h1v-.5h1v-.5h1v3h3v-7h1v-2h1v9h1v-2.5h1v2.5h3v-1h1v1h4v-5.5h1v5.5h1v-3h2v1.5h1v-8h1v9.5h2v-5.5h1v5.5h5v-3.5h1v3.5h3v-3h1v2h1v-.5h1v1.5h1v-4h1v2.5h1v1.5h1v-1.5h1v-1h1v-1h1v-.5h1v4zM1256 752.8v-3.5h2v3.5h1v-3.5h2v-.5h1v-2.5h1v2h1v-3h1v4.5h1v.5h1v1h1v-3h1v1.5h1v-3h1v3.5h1v.5h2v.5h1v-1.5h1v-2h1v-3.5h1v4.5h1v-1.5h1v1.5h1v-3h1v1h1v1.5h1v.5h1v.5h1v-.5h1v2h1v-2h2v2.5h1v-3h2v1.5h1v-2h1v3h1v-1.5h2v.5h1v1h2v-2h1v1.5h1v.5h1v.5h1v-2.5h1v-.5h1v1.5h1v-2h1v4h1v-6.5h1v4h1v-.5h1v2.5h2v-1h3v-5.5h1v5.5h1v-.5h1v-.5h1v1.5h2v-5h1v5.5h3v1.5zM1256 771.5v-4.5h1v1.5h1v1h1v-4h1v3h1v-.5h1v-1.5h1v1h1v1h1v3h1v-3.5h1v1.5h1v-2.5h2v4.5h1v-3.5h1v-2.5h1v-.5h1v-.5h1v-2.5h1v9.5h1v-6h1v2.5h2v.5h1v3h1v-3h1v-4h1v4.5h1v-1.5h1v-7.5h1v8h1v1h1v-.5h1v-4h1v2.5h1v-2.5h1v4.5h1v-4.5h1v2h2v-2.5h1v7.5h1v-1.5h3v-7h1v6.5h1v1h1v1h1v-2h1v-5.5h1v1.5h1v3h1v1.5h1v-2.5h1v2h1v2h2v-3h1v-5.5h1v1h1v1.5h1v4h1v-.5h1v1h1v-3h1v2h1v-1h1v2.5h1v-5.5h1v4.5h1v2zM1256 790.3v-3.5h1v3.5h4v-1.5h1v1.5h1v-3h1v1.5h1v1.5h4v-2.5h1v2.5h1v-1.5h1v1.5h5v-2h1v2h1v-4.5h1v4.5h3v-1h2v1h4v-2h1v-1.5h1v-1h1v-3h1v5h1v2.5h6v-1.5h1v.5h1v1h3v-2.5h1v-4.5h1v3h1v4h2v-3h1v2h1v1h1v-1h1v1h2v-1h1v-1h1v2h1v-2h1v1h1v1h2v-1.5h1v-1h1v2.5h1v-2.5h1v-.5h1v3zM1256 809.1v-8.5h1v1.5h1v-2h1v.5h2v-1.5h1v2h2v1.5h2v-2h1v-1h1v1.5h1v-1h1v2.5h1v-1h1v.5h1v1h1v.5h1v-3h1v-3h1v3.5h1v-1h1v.5h1v1h1v-2.5h1v3.5h1v-1h1v-3h1v2.5h2v-1h1v-.5h2v1.5h1v1.5h1v-1h2v-.5h1v2.5h1v-.5h1v-3h1v4h1v-3.5h1v1h1v-.5h1v-.5h2v-2.5h1v5.5h1v-2h1v1.5h1v-1h1v.5h1v-.5h1v-.5h2v1h1v.5h1v-3.5h2v2h2v2.5h1v-3.5h1v.5h1v2h1v-4h1v1h2v-.5h1v2h1v7.5zM1256 827.9h2v-5h1v5h1v-2h1v-4h1v2.5h1v1h2v2.5h2v-1.5h1v-1h1v2.5h2v-3.5h1v-13h1v12.5h1v4h4v-3.5h1v1h1v-1h1v3.5h2v-3h1v-.5h1v3.5h2v-4.5h1v2h1v1.5h1v1h1v-2h1v.5h1v1.5h2v-3.5h1v3.5h1v-2.5h1v2.5h1v-1.5h1v-2.5h1v-4.5h1v6.5h1v2h2v-1.5h1v-1.5h1v.5h1v-.5h2v3h1v-3.5h1v3.5h3v-4.5h1v3h2v1.5h3v-3h1v3h1v-7h1v5.5h1v1.5h2v-6h1v6zM1256 846.6v-4.5h1v-2.5h1v7h1v-1.5h1v1.5h2v-3h1v-6h1v6.5h1v2.5h5v-2.5h1v-1h2v-.5h2v4h1v-4h1v-4h1v8h1v-4h1v4h1v-3.5h1v-2.5h1v2.5h1v-1h1v2h2v2.5h1v-6h1v.5h1v2h1v1h1v-.5h2v1h1v.5h1v-.5h1v2h1v-3h1v3h1v-2.5h1v1h1v-1.5h1v3h1v-6h1v6h2v-2.5h1v-1h1v1h1v.5h1v-1h1v3h1v-3.5h1v3.5h3v-2.5h1v-.5h1v3h3v-3h1v3h1v-1.5h1v1.5h2v-1h1v1zM1256 865.4h1v-3h1v3h1v-4h1v4h1v-3.5h1v3.5h2v-8.5h1v4h1v4.5h1v-3h1v3h1v-3.5h1v3.5h1v-4h1v-1.5h1v4.5h1v1h3v-8h1v2.5h1v5.5h1v-3h1v3h1v-3.5h1v3.5h4v-3.5h1v3.5h1v-3h1v3h1v-2.5h1v1h1v1.5h11v-1.5h1v-1.5h1v3h1v-3h1v3h1v-5.5h1v5.5h2v-2h1v-5.5h1v7.5h1v-4h1v4h2v-5h1v5h2v-3h1v.5h1v2.5h4v-6h1v6zM1256 884.2v-6h1v-5h1v4.5h1v-2h1v1.5h1v2h1v-1h1v-.5h1v1h1v-.5h1v-1h1v2h1v-.5h1v-1h1v-2h1v2h1v-1h2v1.5h1v-2h1v1h1v3.5h1v-4.5h1v2h1v.5h1v.5h1v-1.5h2v2h1v-3.5h1v1.5h1v1.5h1v1.5h1v-3h2v1h1v-.5h1v-3.5h1v2h2v2h1v-3.5h1v1.5h1v.5h1v2h1v-2.5h1v2.5h1v-3.5h1v1.5h1v2h1v-2h1v-1.5h1v4.5h1v-2.5h1v.5h1v-1h1v1h1v-1h1v-.5h2v.5h1v-2.5h1v3h1v.5h1v.5h1v-2h1v1h1v-.5h1v-1.5h1v2.5h2v1.5h1v4.5zM1256 903h4v-3h1v3h10v-2.5h1v2.5h11v-4h1v4h2v-2h1v2h1v-4.5h1v4.5h1v-3h1v1.5h1v-7h1v8.5h2v-6.5h1v6.5h2v-3h1v-3.5h1v6.5h3v-4h1v1.5h1v2.5h4v-3.5h1v3.5h1v-3h1v3h1v-6.5h1v6.5h1v-2h1v2h2v-2h1v2h1v-1.5h1v.5h1v1h3v-2.5h1v2.5h2zM1256 921.7v-1.5h1v1.5h1v-3h1v1h1v-2.5h1v2.5h1v2h1v-8.5h1v5.5h1v.5h1v2.5h1v-5.5h1v-3.5h1v7h1v-3h1v-.5h1v-7h1v10h1v-2h1v4.5h1v-2h1v-2.5h1v4.5h1v-3.5h1v-.5h1v1h1v1h2v-.5h1v1.5h1v-.5h1v-4h1v3h1v2.5h1v-2h1v2h1v-2.5h2v2.5h1v-1.5h1v-3h1v-2h1v3.5h1v3h1v-2.5h1v-1h1v-7.5h1v8h1v1.5h1v1.5h1v-3h1v-1.5h1v-.5h1v2h1v.5h1v-5h2v2h1v2.5h1v2h1v1h1v-2.5h1v1h1v-1h1v.5h1v-1h1v3h1v-10.5h1v5h1v2h1v2h1v-.5h1v2zM1256 940.5v-4.5h1v4.5h1v-3.5h1v1h1v2.5h1v-2h1v-1.5h2v3.5h1v-2h1v2h1v-9h1v4.5h1v1.5h1v-1h1v4h1v-3h1v3h1v-5h1v3h2v-2h1v4h1v-3h1v-2.5h1v5.5h1v-4h1v4h1v-2h1v-3.5h1v2.5h1v3h1v-4.5h1v.5h1v-1h2v-4h1v4h1v1.5h1v-3h1v2.5h2v4h3v-2.5h1v-4.5h1v4h1v3h1v-11h1v-1.5h1v12.5h2v-4.5h1v-6.5h1v11h2v-1.5h1v-2.5h1v-4.5h1v3h1v1h1v-2h1v-10h1v16.5h1v-2h1v-5h1v4.5h1v-8.5h1v2h1v1.5h1v7.5h1zM1256 959.3v-3h1v2h1v-1.5h1v-5.5h1v-.5h1v5h1v-6h1v8h1v-2h1v.5h1v-5.5h1v5.5h1v1h1v-3.5h1v-2h1v3.5h1v-5.5h1v4h1v2h1v-2.5h1v3.5h2v-4h1v2.5h1v-3h1v5h1v-4h1v1.5h1v2h1v-.5h1v1h1v2h1v-2.5h3v-7h1v6h1v-1.5h1v-11.5h1v11.5h1v1.5h1v3.5h1v-2.5h1v-.5h1v-1h1v-.5h1v4.5h2v-6h1v2h1v1.5h1v-.5h1v-.5h1v1h1v1h2v-4h1v5.5h1v-2h1v2h1v-3.5h1v-2h1v-2.5h1v-3h1v-2.5h1v5h1v5h1v1h1v1h1v-.5h1v-1h2v3zM1256 978.1v-1.5h1v-1.5h1v.5h2v-2h1v4.5h1v-3.5h1v-2h1v2h1v3.5h1v-14h1v10h1v-5.5h1v9.5h1v-7h1v3.5h1v3.5h2v-5h1v5h1v-4h2v-.5h1v4.5h1v-2.5h1v2.5h1v-2h1v-.5h1v-1h1v3.5h1v-2h1v-1.5h1v3.5h1v-1h1v1h1v-1.5h1v-5.5h1v4.5h1v2.5h1v-3h1v.5h1v-5h1v7.5h2v-3.5h3v3.5h1v-3h1v3h1v-9.5h1v9.5h3v-6h1v3.5h1v2.5h1v-2h1v-5.5h1v4h1v-1.5h1v1.5h1v2h1v.5h1v-1.5h1v2.5h1v-1.5h1v-1.5h2v3h1v-1.5h1v-1.5h1v3zM1256 996.8v-10h1v-.5h1v-.5h1v3h1v1.5h1v-2.5h1v-.5h1v.5h1v-1h1v3h1v-4h1v3.5h1v1h1v-2h1v-1.5h1v-.5h1v.5h1v2h1v-.5h1v1.5h1v7h2v-9h1v.5h2v-1.5h1v3.5h1v6.5h1v-11h1v4h1v-2h1v-1.5h1v2h1v-1.5h1v1h1v1.5h1v-4.5h1v2.5h2v.5h1v2h1v-1.5h1v8.5h1v-11h1v2h1v1.5h1v-3.5h1v2h1v-1.5h1v1h1v2.5h1v-1h1v-2.5h1v1h1v6.5h1v.5h1v-1h1v-4.5h1v.5h1v7.5h1v-5h1v1h1v1h1v.5h1v-1.5h1v4h1v-1.5h1v-3.5h1v-.5h1v3.5h1v-6.5h1v4.5h1v4zM1256 1015.6h1v-5h1v-1h1v-1h1v2h1v2h1v3h2v-2.5h1v2.5h2v-6.5h1v6.5h1v-2.5h1v-2.5h2v5h1v-3.5h1v3.5h1v-5h1v2.5h1v-2h1v1h1v-3h1v4h1v-2.5h1v1.5h1v3.5h2v-2h1v-.5h1v2.5h1v-6h1v6h2v-2.5h1v2.5h1v-2.5h1v-9h1v11.5h1v-2.5h1v-1.5h2v4h5v-1h1v-3.5h1v-4h1v2.5h1v3h1v3h1v-8h1v6h1v-7.5h1v9.5h1v-4.5h1v1.5h1v3h1v-4.5h1v1.5h1v-2.5h1v5.5h1v-7.5h1v2h1v3.5h1v2h1v-5.5h1v4h1v-3h1v4.5zM1256 1034.4v-10h1v7h1v-3h1v2.5h1v-2.5h1v3h1v-1.5h1v-2h1v3h1v-7h1v7.5h1v-6h1v9h1v-5.5h1v.5h2v5h1v-3h1v-7.5h1v4h1v-.5h1v2.5h1v-.5h2v1.5h1v-3h1v4h1v-14h1v16.5h1v-11.5h1v11.5h1v-7h1v-3h1v10h1v-3h1v.5h1v-1h1v-1.5h1v.5h1v1h1v-2.5h1v6h1v-2.5h1v-4.5h1v-2.5h1v4h1v2.5h1v-1.5h1v4.5h2v-3h1v3h1v-4h1v-5.5h1v7.5h1v-4h1v1h1v-3.5h1v8.5h1v-5h1v3h2v-3.5h1v2h1v3.5h1v-8.5h1v8.5h2v-5.5h1v.5h1v-2h1v1.5h1v5.5zM1256 1053.2v-2.5h1v1.5h1v-3h1v1.5h1v-11h1v8h1v3.5h1v2h1v-9h1v-2h1v7.5h1v-2h2v5.5h1v-3h2v-.5h1v-2h1v-1h1v2h1v4.5h1v-5h1v3h1v1h1v-2.5h1v-1.5h1v-1h1v-4.5h1v6h1v1h2v-.5h1v-4h1v7h1v1h1v-4h1v-2h1v1h1v-5h1v7h1v-3.5h1v3.5h1v3h1v-14h1v14h2v-2.5h1v2.5h1v-1.5h1v1.5h2v-2.5h1v2.5h1v-4.5h1v2.5h1v-1.5h1v-9h1v7h1v3h1v.5h1v-4h1v1.5h1v4.5h1v-5.5h1v3.5h1v-.5h1v2.5h1v-7.5h1v5.5h1v-1.5h2v2.5h1v1zM1256 1071.9v-13h2v-1h1v1h1v3.5h1v-3h1v1h1v-3h1v1.5h1v.5h1v.5h1v-1.5h2v.5h1v.5h1v-1h1v3.5h1v-3h1v1.5h1v-.5h1v-2h1v1.5h1v-1h1v2h1v-1h1v3.5h1v-3.5h1v1h1v-3h1v-.5h1v-.5h1v-.5h1v3.5h1v.5h1v3.5h1v-4.5h1v-.5h1v4h1v-3.5h1v.5h1v-.5h1v1.5h1v-1.5h1v-1.5h1v-2h1v3h1v1h1v3.5h1v.5h1v-6h1v5h1v-3.5h1v-1.5h1v2h1v2h1v-2.5h1v-.5h1v3h1v-2h1v3.5h1v-1.5h1v-1h1v-1h1v-1.5h2v1.5h2v-1h1v1h1v-.5h1v1.5h1v-1h1v12.5zM1256 1090.7v-12.5h1v-1h1v-.5h1v1h1v.5h1v-1.5h1v-1h1v2.5h1v.5h2v-1h1v.5h1v-2.5h1v2.5h1v-2.5h1v2h2v2.5h1v-3h1v1h1v-3h1v-1h1v3.5h1v-.5h1v-.5h1v2h1v-1.5h1v-1h1v1.5h2v.5h1v-.5h2v-.5h1v-.5h1v2h1v-1.5h1v1h1v-1.5h2v1.5h1v-1h1v4h1v-4.5h1v2h1v.5h1v-1.5h2v-.5h1v-.5h1v1h1v.5h1v3.5h1v-5h1v1h1v-.5h1v1.5h1v-.5h1v-.5h1v2.5h1v-4h1v1h1v1.5h1v.5h1v-.5h1v-.5h1v-1.5h1v1h1v.5h1v-2h1v1.5h1v1h1v12zM1256 1109.5v-14h1v1.5h1v-1.5h1v1.5h1v-.5h1v-2.5h1v4h1v1.5h1v-2.5h1v-1h1v.5h1v3.5h1v-2.5h1v-.5h1v.5h2v-4h1v3.5h1v.5h1v-.5h1v-2h1v4.5h1v-4h1v-.5h1v1h1v2h1v-2.5h1v.5h1v2h1v-2.5h1v2h1v-2.5h1v-2h1v3.5h1v1h1v-1.5h1v1h1v-.5h1v-3.5h1v3.5h1v-.5h2v.5h1v4.5h1v-4h1v-.5h1v1.5h1v-.5h1v-1.5h1v1.5h1v-2.5h1v1h1v1.5h1v-1.5h1v2h1v-1.5h3v3h1v-3h1v-1h1v5.5h1v-4.5h2v1.5h1v2h1v-3h1v.5h2v.5h1v-2h1v-.5h1v14zM1256 1128.3v-2h1v-.5h2v1h1v-1.5h1v-.5h1v-.5h1v.5h1v.5h1v-.5h1v1.5h1v-.5h1v1.5h1v-1.5h1v-1h1v1h6v-.5h1v-1.5h1v3h1v-1.5h1v-1h1v1h1v1h2v-1.5h1v-1h1v2.5h1v.5h1v.5h1v-3.5h1v3.5h1v-2.5h2v-1.5h1v-1h1v1h1v1.5h2v-.5h2v.5h1v.5h1v-1h1v1h1v1.5h1v-.5h1v.5h1v-2.5h1v1h2v-1h1v2h1v-1h1v-3.5h1v3.5h1v.5h1v1h1v-1h2v-1h1v.5h1v-1.5h2v1h2v1h1v-2.5h1v5zM1256 1147.1v-3h1v3h2v-2h1v2h3v-8h1v4h1v1h1v.5h1v2.5h2v-2h1v-.5h1v-3h1v3.5h1v.5h1v1.5h1v-3.5h1v3.5h1v-2h1v-2h1v4h5v-3h1v-2h1v-1h1v6h1v-3h1v3h1v-3h1v3h1v-3h1v2h1v-1.5h1v2.5h4v-3.5h1v1h1v.5h1v-4.5h1v4h1v2.5h2v-2h1v.5h1v1.5h2v-2.5h1v2.5h1v-3.5h1v-1.5h1v3.5h1v1.5h1v-4.5h1v4.5h2v-2h1v2h8zM1256 1165.8h1v-4h1v-.5h1v4.5h2v-3.5h1v3.5h6v-4h1v-.5h1v4.5h1v-7.5h1v7.5h1v-3h1v-1.5h1v2h1v2.5h1v-3h1v3h1v-6.5h1v-3h1v6.5h1v-1h1v4h2v-2h1v-4.5h1v6.5h1v-3.5h1v3.5h2v-1h1v1h1v-6.5h1v6.5h1v-3h1v3h1v-8.5h1v8.5h1v-3.5h1v2.5h1v-1h1v2h1v-3h1v-3.5h1v6.5h1v-1.5h1v1.5h2v-4h1v.5h1v3.5h1v-8.5h1v8.5h1v-10h1v9h1v-2h1v-2h1v-5h1v6h1v1h1v3h1v-4h1v.5h1v3.5h1v-4h1v4h2zM1256 1184.6v-9h1v-2h1v1h1v-1h1v1h1v-3.5h1v3.5h1v.5h1v-.5h1v3.5h1v-4h1v-.5h1v-1h1v2.5h1v-.5h1v-.5h1v3.5h1v-4h1v-.5h1v-1h1v2h1v1.5h2v-.5h1v-1.5h1v1.5h1v-.5h1v-4h1v2.5h1v.5h1v3h1v1h1v-4.5h1v3h1v-1.5h1v-1h1v3.5h1v-2.5h1v-2h1v6.5h1v-2.5h1v-3h1v-1h1v3h1v.5h4v-3h1v1h1v.5h1v.5h1v1.5h1v-3h1v4h1v-4.5h1v2.5h1v-.5h3v-.5h1v1.5h1v1h1v-2h1v-.5h1v3h1v-2h1v.5h1v-3h1v.5h1v.5h1v-1h1v11.5zM1256 1203.4h47v-8h1v8h2v-5.5h1v5.5h21zM1256 1222.2h2v-7h1v7h21v-4h1v4h11v-6.5h1v6.5h5v-1.5h1v1.5h9v-3.5h1v3.5h15v-4h1v4h3zM1256 1240.9h5v-4h1v4h2v-1.5h1v1.5h1v-6h1v3h1v3h5v-5.5h1v5.5h8v-2.5h1v2.5h4v-3.5h1v3.5h3v-6h1v6h8v-4h1v4h4v-3.5h1v3.5h1v-5.5h1v5.5h11v-4h1v4h1v-3.5h1v-2h1v5.5h2v-16.5h1v16.5h2zM1256 1259.7v-3.5h1v3.5h3v-4.5h1v.5h1v4h2v-2.5h1v2.5h1v-7.5h1v7.5h3v-2.5h1v2.5h1v-6.5h1v1.5h1v5h4v-5h1v5h3v-2.5h1v2.5h2v-1.5h1v1.5h6v-2h1v2h2v-5h1v5h6v-5.5h1v1h1v4.5h2v-4.5h1v4.5h2v-2.5h1v2.5h3v-3h1v3h7v-2.5h1v2.5h6z" fill="#8CC863"/>
<path d="M1328 640.1h5.5v-6h.5v6h.5v-1h.5v1h1v-3h.5v3h1.5zM1328 658.9h.5v-4.5h.5v1h.5v-2h.5v2h.5v3.5h1.5v-3h.5v-2.5h.5v2.5h.5v3h.5v-2.5h.5v-4h.5v6.5h.5v-3.5h.5v3.5h.5v-6h.5v6h1zM1328 677.7v-8.5h.5v8.5h1v-7.5h.5v6.5h.5v-2.5h.5v1.5h.5v-2h.5v4h.5v-4h.5v-2h.5v2h.5v4h1.5v-5.5h.5v5.5h1v-3h.5v-1.5h.5v4.5zM1328 696.4h1v-4.5h.5v4.5h.5v-12.5h.5v12.5h1.5v-10h.5v10h.5v-3.5h.5v1h.5v2.5h2v-5h.5v5h.5v-10h.5v10h.5zM1328 715.2h10zM1328 734h2v-6h.5v2.5h.5v1h.5v-5h.5v7.5h.5v-6h.5v-2.5h.5v8.5h.5v-6h.5v6h.5v-2.5h.5v-.5h.5v-12h.5v3h.5v3h.5v7.5h.5v1.5zM1328 752.8v-5.5h.5v2.5h.5v-1h1.5v-3.5h.5v4.5h.5v-2.5h.5v2.5h.5v-3h.5v1.5h1v-.5h.5v-1h.5v1h.5v1.5h.5v-3h.5v2.5h1v1h.5v3zM1328 771.5v-2h.5v-3.5h.5v2.5h.5v-6.5h.5v4h1v2h.5v-1h.5v-1h.5v1h.5v-1.5h.5v1h.5v-.5h.5v-2h.5v1h.5v1h.5v-2h.5v2.5h.5v-2.5h.5v2h.5v5.5zM1328 790.3v-8h.5v8h1.5v-5.5h.5v5.5h1v-5h.5v.5h1v.5h.5v4h1v-2h.5v-2.5h.5v.5h.5v2h.5v-1h.5v-3.5h.5v6.5h.5zM1328 809.1v-7h.5v-2.5h.5v-3.5h.5v2.5h.5v1.5h.5v-1.5h1v.5h.5v-4h.5v7.5h.5v-3h.5v2h.5v-1.5h.5v-1h1v-2.5h.5v5.5h.5v-2h.5v-1h.5v1h.5v9zM1328 827.9v-5h.5v-1.5h.5v6.5h.5v-3.5h.5v1.5h.5v-2.5h.5v.5h.5v2h1v-1.5h.5v.5h1v-2.5h.5v5.5h.5v-3.5h.5v3.5h.5v-1h.5v1h.5v-7h.5v3h.5v4zM1328 846.6h.5v-1.5h.5v-4.5h.5v2.5h.5v3.5h.5v-3h.5v-.5h.5v3.5h.5v-5.5h.5v-1h.5v5.5h.5v-2h.5v-1.5h.5v4.5h1v-3.5h.5v-6.5h.5v10h.5v-4.5h.5v4.5h.5zM1328 865.4v-3h.5v-1.5h.5v3h.5v1.5h.5v-2.5h.5v1h.5v-3h.5v4.5h.5v-3.5h.5v-7.5h.5v6.5h.5v-7.5h.5v12h.5v-2h.5v-1h.5v.5h.5v-2h.5v3h.5v1.5h1zM1328 884.2v-9.5h.5v4.5h.5v-1h.5v1h.5v-.5h.5v-.5h1v-1h.5v.5h.5v1h.5v2h.5v-2.5h.5v2.5h.5v-.5h.5v-1.5h1v1h.5v1h.5v-3h.5v1h.5v5.5zM1328 903h.5v-4.5h.5v4.5h1v-7h.5v3.5h.5v-4h.5v7.5h1.5v-3.5h.5v3.5h1.5v-2h.5v2h1.5v-7.5h.5v6h.5v1.5zM1328 921.7v-11h.5v8.5h.5v1h.5v-4.5h.5v-1.5h.5v4h.5v3.5h.5v-5h.5v2h.5v1h.5v-1h.5v-4.5h.5v4.5h.5v1.5h.5v-2.5h.5v1h.5v-1h.5v1.5h.5v-2.5h.5v5h.5zM1328 940.5v-4h.5v-4.5h.5v2h.5v1h.5v.5h.5v-3h.5v3.5h.5v-1.5h.5v1.5h.5v1h.5v-1h.5v-1h.5v-3.5h.5v3h.5v3h.5v-1h.5v-.5h1v-3.5h.5v3h.5v5zM1328 959.3v-3.5h.5v-3h1v2h.5v-.5h2v-1.5h.5v1h.5v-1h.5v2.5h.5v-.5h.5v1h.5v-3.5h.5v2.5h1v1.5h.5v-3h1v6zM1328 978.1h1v-4.5h1v-2h.5v1.5h.5v1h.5v4h1v-1h.5v-4h.5v5h.5v-2h.5v2h.5v-10h.5v10h.5v-1.5h.5v1.5h1v-3h.5v3zM1328 1015.6v-2h.5v2h1v-3.5h.5v3.5h.5v-6h.5v-4h.5v6.5h.5v3.5h.5v-5.5h.5v5.5h.5v-1h.5v1h1.5v-10h.5v5.5h.5v4.5h.5v-1h.5v1h.5zM1328 1053.2h2v-1h.5v-1h.5v2h2.5v-3h.5v3h2.5v-7h.5v6h.5v-15h.5v16zM1328 1071.9v-7.5h.5v-.5h.5v-3h.5v1.5h.5v1h.5v-2h.5v3h.5v1h.5v-3.5h.5v-.5h1v1h.5v-4.5h.5v5.5h.5v-.5h.5v-2h.5v-.5h.5v.5h.5v2h.5v-1h.5v10zM1328 1090.7v-5.5h.5v-.5h.5v.5h1v-2h.5v1h.5v.5h.5v-4h.5v4h.5v.5h1v2.5h.5v-3.5h.5v2.5h.5v-1.5h.5v-.5h1v-1h.5v3h.5v.5h.5v3.5zM1328 1109.5v-15h.5v1h.5v1h.5v-1.5h1.5v-.5h.5v.5h.5v-1.5h.5v3h.5v3h.5v-6.5h.5v3h.5v.5h1v-.5h.5v-2.5h.5v4.5h.5v-3h1v14.5zM1328 1128.3v-13.5h.5v-2h.5v3h.5v-.5h.5v-2h.5v.5h.5v.5h.5v-2.5h.5v4.5h.5v-.5h.5v-1.5h.5v1h.5v-3h.5v2h.5v-.5h.5v1h.5v-.5h.5v1.5h.5v.5h.5v-1h.5v13zM1328 1147.1v-13.5h.5v1h.5v-2.5h1v1h.5v-2h.5v2.5h.5v-2h.5v2h.5v-1h.5v2.5h.5v-.5h.5v-1h.5v-1h.5v-.5h.5v2h.5v2h.5v-3h.5v1.5h.5v-2h.5v14.5zM1328 1165.8v-14.5h.5v.5h1v3h.5v-3.5h.5v-1.5h.5v-.5h.5v2h.5v4h.5v-3h.5v-2.5h.5v2.5h.5v1h.5v-1.5h1v-.5h.5v-.5h.5v.5h.5v-1h.5v.5h.5v15zM1328 1184.6v-3h.5v3h1v-5h.5v5h1.5v-5.5h.5v5.5h.5v-2h.5v2h1.5v-3h.5v-6.5h.5v9.5h2v-4h.5v4zM1328 1203.4h2.5v-1h.5v1h4v-1.5h.5v1.5h2.5zM1328 1222.2h.5v-2h.5v2h1v-2.5h.5v2.5h7.5zM1328 1240.9h1.5v-3h.5v3h5.5v-6h.5v-2h.5v2h.5v6h.5v-2.5h.5v2.5zM1328 1259.7v-3.5h.5v-9.5h.5v2h.5v6h.5v3.5h.5v-3h.5v.5h.5v.5h.5v-1h.5v-5.5h.5v-2h.5v-.5h.5v-3.5h.5v10h.5v1h.5v5h.5v-7.5h.5v.5h.5v7h.5v-11h.5v11z" fill="#2CA02C"/>
<path d="M1338 640.1h2v-1h.5v1h2v-7h.5v7h2v-2.5h.5v-3.5h.5v6h1.5v-1.5h.5v1.5h1.5v-2.5h.5v2.5h1zM1338 658.9h1.5v-3h.5v3h.5v-2h.5v2h.5v-1h.5v-6h.5v5h.5v-2h.5v1h.5v1h.5v-2.5h.5v4.5h.5v-2h.5v2h1v-6h.5v6h.5v-2.5h1v.5h.5v2h.5v-2h.5v2h.5zM1338 677.7h2v-3h.5v3h3v-4h.5v4h2.5v-4.5h.5v4.5h1.5v-2h.5v2h1.5v-1.5h.5v1.5zM1338 696.4h.5v-3.5h.5v3.5h1v-4.5h.5v4.5h1v-7h.5v7h4v-3h.5v1h.5v-2.5h.5v4.5h1.5v-8h.5v8h.5v-10.5h.5v10.5h.5zM1338 715.2h2v-3.5h.5v-2h.5v5.5h1v-4.5h.5v-2h.5v6.5h.5v-10.5h.5v10.5h2.5v-15.5h.5v15.5h.5v-6.5h.5v4h.5v-3h1v5.5h.5v-2.5h.5v-3h.5v5.5zM1338 734v-2.5h.5v-2h.5v1.5h.5v3h1.5v-1h.5v1h.5v-3h.5v3h.5v-3h.5v-1h.5v4h.5v-5h.5v5h1v-16.5h.5v16.5h1v-3h.5v3h1.5v-10h.5v6h1v4zM1338 752.8v-3.5h.5v-3h.5v1h.5v-2.5h.5v3h.5v-.5h.5v-3h.5v2h.5v1.5h.5v-1.5h.5v3h.5v-4h.5v-.5h.5v2.5h.5v-1h.5v2.5h.5v-.5h.5v-4h.5v2.5h.5v2.5h.5v-3h.5v-1.5h.5v5h.5v-2h.5v.5h.5v2h.5v2.5zM1338 771.5v-5.5h.5v3h.5v-3h.5v-1.5h.5v3.5h.5v-1.5h.5v3h.5v-9.5h.5v7h.5v-1h.5v-1h.5v3h.5v-1.5h.5v.5h.5v-.5h.5v-1.5h.5v1.5h.5v-3.5h.5v1h.5v.5h.5v-.5h.5v.5h.5v-2h.5v3.5h.5v-1.5h.5v2.5h.5v4.5zM1338 790.3v-1.5h.5v-7.5h.5v6.5h.5v2.5h.5v-2.5h.5v2.5h3v-4.5h.5v1h.5v.5h.5v-.5h1v3.5h2v-3h.5v1h.5v2h1.5v-1.5h.5v1.5zM1338 809.1v-11.5h.5v-1.5h.5v4h.5v-4h.5v1.5h.5v1.5h.5v-2.5h.5v1.5h.5v.5h.5v1.5h.5v-4h.5v2.5h.5v-5h.5v3h.5v-.5h.5v.5h.5v1h1v-1h.5v1h.5v2h.5v-2.5h.5v-.5h.5v.5h.5v.5h.5v-1.5h.5v13zM1338 827.9v-8h.5v6.5h.5v-1.5h.5v-1h.5v2h.5v-6.5h.5v6.5h.5v-1.5h.5v1h.5v2.5h.5v-4h.5v.5h.5v-4h.5v7.5h.5v-5h.5v2.5h.5v-2.5h.5v3h.5v2h.5v-5h1v-1.5h.5v6.5h.5v-8h1v5h.5v3zM1338 846.6h.5v-5h.5v5h.5v-6.5h.5v2h.5v2h.5v1h.5v-2.5h.5v-1.5h.5v2h.5v1.5h.5v.5h.5v-.5h.5v-2.5h.5v1.5h1v-2h.5v.5h.5v3h.5v1.5h.5v-11.5h.5v-5h.5v13h.5v3.5h.5v-9.5h.5v7h.5v2.5zM1338 865.4v-10.5h.5v10.5h.5v-6h.5v6h1v-2h.5v2h.5v-3.5h.5v-1.5h.5v5h1.5v-2.5h.5v2.5h1v-7.5h.5v-3.5h.5v9.5h.5v1.5h.5v-1.5h.5v-4.5h.5v6h.5v-4h.5v4h1v-4.5h.5v4.5zM1338 884.2v-9.5h.5v1.5h.5v-3.5h1v-.5h.5v2h.5v-4h.5v.5h.5v1.5h.5v1.5h1.5v-2h1v1h1v.5h.5v-1.5h.5v2h.5v1h.5v-1.5h.5v-1h.5v4h.5v-4.5h.5v5h.5v-4.5h.5v12zM1338 903h.5v-2h.5v2h2v-2.5h.5v2.5h.5v-4h.5v4h.5v-1.5h.5v-5h.5v6.5h1v-4h.5v.5h.5v3.5h2v-5.5h.5v5.5h.5v-4.5h.5v4.5h1.5zM1338 921.7v-6.5h.5v4.5h.5v-.5h.5v-5h.5v-2h.5v6h.5v-1h.5v.5h.5v-4h.5v2.5h.5v-1.5h.5v5.5h.5v1.5h1v-8h.5v8h.5v-12h.5v5.5h.5v4.5h.5v-11h.5v11.5h.5v-13h.5v9.5h.5v-2.5h.5v3.5h.5v-2h.5v6zM1338 940.5v-5.5h.5v5.5h.5v-16.5h.5v14.5h.5v-1h.5v-3h1v3h.5v3h1v-3h.5v-4h.5v7h1.5v-2h.5v-9.5h.5v9.5h.5v2h.5v-10h.5v4h.5v3.5h.5v2.5h.5v-16h.5v10.5h.5v3h.5v2.5zM1338 959.3v-14h.5v9h.5v1h.5v4h.5v-8.5h.5v5.5h.5v-4h.5v-4.5h.5v8.5h.5v-11h.5v9h.5v.5h.5v2h.5v-2h.5v2.5h.5v-5h.5v1.5h.5v-1.5h.5v-3.5h.5v-6h.5v4.5h.5v3.5h.5v6h.5v-.5h.5v-2h.5v-2.5h.5v7.5zM1338 978.1h.5v-7.5h.5v.5h.5v7h.5v-9h.5v5.5h.5v3.5h1v-8h.5v6h.5v-1h.5v3h1v-7.5h.5v-1.5h.5v5.5h.5v3.5h.5v-8h.5v-8.5h.5v10.5h.5v3h.5v-5h.5v8h.5v-6h.5v4h.5v-11.5h.5v13.5zM1338 996.8v-1.5h.5v-1.5h.5v3h1.5v-4.5h.5v1h.5v3.5h.5v-3.5h.5v1.5h.5v2h1v-1.5h.5v1.5h1v-5h.5v5h5zM1338 1015.6h2.5v-1.5h.5v1.5h1.5v-16.5h.5v16.5h2v-5.5h.5v-6.5h.5v9.5h.5v2.5h.5v-9.5h.5v9.5h3.5zM1338 1034.4h4v-6.5h.5v6.5h5.5v-5h.5v5h2v-4h.5v4zM1338 1053.2v-5h.5v5h3v-3.5h1v3.5h4.5v-3.5h.5v3.5h3.5zM1338 1071.9h1.5v-3.5h.5v3.5h.5v-2h.5v2h.5v-1.5h.5v1.5h1.5v-1.5h.5v1.5h.5v-2.5h.5v2.5h.5v-4.5h.5v4.5h2v-1h.5v1h1v-8h.5v8h1zM1338 1090.7v-5.5h.5v5.5h1.5v-4h.5v4h3.5v-1h.5v1h1v-14h.5v14h1.5v-11h.5v8.5h.5v2.5h2v-2.5h.5v2.5zM1338 1109.5v-4h.5v2h.5v-6h.5v1.5h.5v4h1v-1.5h.5v4h.5v-3h.5v.5h.5v2.5h1v-4h.5v4h2v-8.5h.5v4.5h1v-.5h.5v3h.5v1.5h.5v-1.5h.5v-8.5h.5v7.5h.5v2.5zM1338 1128.3h.5v-1h.5v1h.5v-3.5h.5v3.5h.5v-2.5h.5v2.5h1v-2.5h.5v-2h.5v4.5h.5v-2h.5v2h1v-2.5h.5v2.5h3v-1.5h.5v1.5h.5v-1h.5v-1h.5v-3h.5v5zM1338 1165.8h13zM1338 1184.6v-16.5h.5v2h.5v-1h1v-1h1.5v5h.5v-4h.5v.5h.5v.5h.5v1h.5v-2h.5v1.5h.5v-.5h.5v-2h.5v1.5h.5v.5h1v.5h1v4h.5v-4h.5v-.5h.5v-1h.5v1h.5v14.5zM1338 1203.4v-15h.5v4.5h.5v-3.5h.5v-.5h1v-1.5h.5v1.5h.5v4h.5v-6h.5v2h.5v-1.5h.5v4h.5v-4.5h.5v2h.5v-.5h.5v3.5h.5v-3h.5v-2h.5v3h.5v-.5h.5v-2.5h.5v1h.5v2h.5v-1h.5v-2h.5v2h.5v14.5zM1338 1222.2v-15h.5v2h.5v-1h.5v-.5h.5v2h.5v-.5h1v-1.5h.5v-1h.5v.5h.5v1.5h1v-.5h.5v1h.5v-1.5h.5v-2h.5v2.5h.5v-.5h1v.5h.5v-.5h1v1h.5v-1h.5v2.5h.5v-1h.5v13zM1338 1240.9h.5v-11h1v-5.5h.5v16.5h1v-5.5h.5v-2h.5v-1h.5v-8h.5v11.5h.5v1h.5v-12.5h.5v14h.5v-.5h.5v-4h.5v-.5h.5v7.5h.5v-5.5h.5v-4h.5v-7h.5v16.5h.5v-7h.5v-1.5h.5v-.5h.5v9h.5zM1338 1259.7v-6.5h.5v.5h1v-.5h.5v1h1v-2h.5v1h.5v2h.5v-3h.5v1.5h1v4.5h.5v-4.5h1v2.5h.5v-1h.5v-3.5h.5v2h.5v-.5h1v1.5h.5v-.5h.5v-1.5h.5v-.5h.5v1h.5v6.5z" fill="#3CBBA4"/>
<path d="M1351 640.1h11v-4h1v4h3v-4h1v4h2v-3.5h1v-.5h1v4h12v-3.5h1v3.5h5v-15.5h1v15.5h22v-12.5h1v12.5h1v-4.5h1v4.5h13v-4.5h1v4.5h2zM1351 658.9v-3.5h1v3.5h8v-4h1v-5.5h1v9.5h9v-6h1v6h2v-4.5h1v4.5h18v-2.5h1v2.5h8v-3.5h1v3.5h4v-4h1v4h1v-3.5h1v1.5h1v2h16v-5.5h1v5.5h3zM1351 677.7h2v-7h1v7h2v-2h1v2h1v-5.5h1v-11h1v16.5h2v-1h1v1h1v-5h1v5h1v-6h1v-1.5h1v7.5h1v-2h1v-.5h1v2.5h1v-2h1v2h1v-1.5h1v-.5h1v2h1v-4h1v2h1v-4.5h1v6.5h3v-5.5h1v2h1v.5h1v3h1v-2.5h1v-.5h1v3h2v-9.5h1v9.5h1v-4.5h1v4.5h1v-4h1v1.5h1v2.5h3v-3h1v-.5h1v.5h1v2h1v1h3v-4.5h1v4.5h3v-1h1v1h3v-3h1v3h6v-4h1v-4h2v8h1v-6.5h1v6.5h3v-3h1v3zM1351 696.4v-3h1v3h3v-2.5h1v2.5h12v-5.5h1v5.5h4v-4h1v4h2v-8.5h1v8.5h11v-4h1v4h6v-5h1v5h5v-3h1v3h7v-1h1v-7.5h1v8.5h5v-11h1v11h14zM1351 715.2h11v-4.5h1v4.5h4v-16.5h1v16.5h14v-3h1v3h4v-3h1v3h14v-3h1v-5.5h1v8.5h20v-10h1v10h3v-2h1v2h2zM1351 734h1v-7h1v2.5h2v-1h1v5.5h1v-5.5h1v2h1v3.5h1v-6h2v6h1v-5h1v5h3v-6.5h1v6.5h1v-3.5h1v-7.5h1v11h1v-7h1v2h1v5h1v-4.5h1v4.5h2v-3.5h1v3.5h2v-10h1v10h2v-6.5h1v4h1v1h1v1.5h1v-10.5h1v8.5h1v2h1v-6h1v6h1v-5.5h1v1h1v4.5h6v-5h1v-2.5h1v-2h1v7h1v2.5h1v-10.5h1v10.5h1v-4h1v-5.5h1v5.5h1v-2h1v-10h1v16h1v-1.5h1v1.5h1v-2.5h1v2.5h1v-5.5h1v5.5h2v-2.5h1v2.5h1v-8h1v5.5h1v-1h1v-.5h1v4h3v-3.5h1v3.5zM1351 752.8v-7.5h1v1.5h1v1.5h1v4.5h2v-2h1v-2h1v-1.5h1v5.5h1v-5h1v5h1v-2.5h1v2.5h1v-4.5h1v-.5h1v2h1v3h1v-4h1v4h1v-1h1v1h1v-4h1v3h1v-4.5h1v-1h1v6.5h1v-9.5h1v1h1v4h1v-1.5h1v-.5h1v5h1v-4.5h1v6h1v-4h1v2h1v-4.5h1v3.5h1v3h2v-2h1v-11h1v6h1v1h1v5h1v-6h1v7h1v-7.5h1v1h1v1.5h1v.5h1v1.5h2v-13.5h1v12.5h1v-.5h1v.5h1v1h2v3h2v-3.5h2v-1.5h1v1.5h1v1h1v-2h1v1h1v3.5h1v-2.5h1v-4.5h1v5h1v2h1v-1.5h1v-4h1v5.5h1v-4h1v2.5h1v-1h1v2.5h1zM1351 771.5v-4h1v4h1v-3h1v-1h1v-1h1v2h2v-2.5h1v1h1v-3.5h1v5h2v-1.5h1v-5h1v8h1v-8.5h1v5h1v-3.5h1v2.5h1v4h1v-12.5h1v10h1v1h1v3.5h1v-1h1v1h1v-5h1v-4h1v4.5h1v-3h1v2h1v2h1v-8.5h1v2h1v10h1v-1.5h1v-4h1v-2.5h1v4.5h1v-6h1v7h1v-1.5h2v4h1v-5.5h1v2h1v-6.5h1v10h2v-5.5h1v.5h1v3h1v-3h1v2h1v1.5h1v-6.5h1v1h1v1.5h1v1.5h1v-1h1v1.5h1v-2h1v2h1v-1h1v-2h1v3h1v-1.5h1v-3.5h1v8.5h2v-11h1v6.5h1v2h1v-1.5h1v-1h1v-1.5h1v3.5h1v-2h1v3h1v-5.5h1v7.5zM1351 790.3v-2h1v-1h1v3h1v-8h1v8h1v-2.5h2v2.5h3v-2h1v-4h1v3.5h1v.5h1v2h3v-2.5h1v-.5h1v2h1v1h1v-7.5h1v7.5h1v-2.5h1v2.5h2v-1.5h1v-3h1v-2.5h1v4.5h1v2.5h1v-10h1v1.5h1v8.5h2v-3h1v-.5h1v-.5h2v-3.5h1v5h1v1h1v1.5h1v-7h1v4h1v2h1v-1.5h1v2.5h1v-1.5h1v-1.5h1v-4h1v5.5h1v1.5h1v-4.5h1v4.5h5v-2.5h2v-2h1v1.5h1v2h1v1h1v-1h1v-1h1v2h1v-2.5h1v2.5h1v-2h3v-3h1v.5h1v2.5h1v-2h1v.5h1v3.5h1v-6.5h1v6.5zM1351 809.1v-10.5h1v1.5h1v-2.5h1v-1h1v.5h1v1.5h1v-1h1v1.5h1v-2h1v-1h2v-2h1v3h1v2h1v.5h1v-2.5h1v.5h1v1.5h1v1.5h1v-4h1v2h1v-3h1v2.5h1v-3h2v3h1v-1h1v4.5h1v-3h1v-.5h1v2.5h1v-3h1v1.5h2v-1.5h1v1.5h1v-2.5h2v-1.5h1v2.5h1v1h1v-.5h1v-1h1v-4h1v6h1v-2.5h1v1.5h1v1h1v-1.5h1v-.5h1v1.5h1v-4h1v2.5h1v1h1v1.5h1v-2h1v2h1v-4h1v2h1v-.5h1v1.5h1v1.5h1v-1.5h1v-3.5h1v3h1v-2h1v-.5h1v3h1v2h1v-2.5h1v-2h1v1h1v1h1v-1h1v2.5h1v-1.5h1v3h1v-8.5h1v5h1v-1h1v12.5zM1351 827.9v-1.5h1v1.5h2v-3.5h1v3.5h2v-6h1v6h5v-7.5h1v7.5h1v-2.5h1v-3.5h1v1.5h1v1h1v-4.5h1v8h3v-2h1v-2h1v4h2v-4.5h1v2.5h1v-4.5h1v3.5h1v-2h1v5h2v-2.5h1v-4.5h1v7h1v-12h1v12h1v-4h1v4h1v-6h1v-.5h1v6.5h1v-2h1v-5.5h1v5h1v2.5h2v-3h1v-9.5h1v12.5h1v-11h1v7h1v-1.5h1v3h1v-.5h1v-5h1v8h2v-8h1v3.5h1v4.5h2v-4.5h1v-2h1v6.5h1v-1.5h1v1.5h2v-3.5h1v3.5h1v-2h1v-2h1v-2.5h1v-7h1v13.5h1v-5.5h1v-11h1v16.5h2zM1351 846.6h3v-5h1v5h1v-4h1v4h1v-6.5h1v3h1v3.5h3v-6h1v2h2v2h1v-1.5h1v3.5h3v-2.5h1v-1.5h1v1h1v3h3v-5h1v5h1v-8.5h1v4.5h1v1.5h1v-2h1v4.5h1v-6.5h1v3h1v3.5h1v-2.5h1v-.5h1v-8h2v11h1v-5h1v1.5h1v-.5h1v-1.5h1v1h1v4.5h1v-6h1v6h1v-3.5h1v-3h1v-2h1v3h1v-6.5h1v6h1v1h1v3h1v2h1v-5.5h1v2h1v3.5h1v-2.5h1v2.5h1v-1h1v-8.5h1v7.5h1v-2.5h1v-1.5h1v1h1v-1.5h1v-10h1v14h1v2.5h1v-2.5h1v2.5h1v-8h1v6h1v-3h1v3h1v-1h1v3zM1351 865.4v-4.5h1v1.5h1v-4h1v7h3v-3.5h1v3.5h2v-6.5h1v6.5h2v-8h1v8h1v-6.5h1v6.5h1v-8h1v8h1v-1.5h1v-2h1v1.5h1v-4h1v6h3v-1.5h1v-3.5h1v5h1v-8h1v1h1v7h1v-5h1v-11.5h1v16.5h1v-1.5h1v1.5h1v-9h1v2h1v1h1v-1.5h1v2h1v5.5h1v-7h1v2.5h1v4.5h1v-13.5h1v11.5h1v-4h1v6h2v-6.5h1v6.5h2v-15h1v-1.5h1v13.5h1v-3.5h2v4.5h1v2h5v-3.5h1v-.5h1v1h1v3h1v-4.5h1v1.5h1v-3h1v6h1v-2h1v2h1v-1.5h1v1.5h2v-4h1v1h1v-3h1v6zM1351 884.2v-1.5h1v-12.5h1v11h1v-4.5h1v7.5h1v-4h2v1h1v-5h1v.5h1v4.5h1v-2h1v2h1v3h1v-7h1v2.5h1v1h1v-2h1v5.5h1v-5h1v-8h1v-3.5h1v14h1v-4.5h1v4h1v-3h1v-9.5h1v14.5h1v-1.5h1v-1.5h1v-3h2v-4h1v4h1v.5h1v6.5h1v-3h1v-2h1v1h1v-4.5h1v7h1v-1h1v-14h1v14h1v-6h1v3h1v3.5h1v-7h1v4.5h1v1h1v1h1v-2h2v2.5h1v-5h1v-1h1v5.5h1v-3h1v.5h1v.5h1v-.5h1v5h1v-2.5h1v.5h1v-6.5h1v8.5h1v-8.5h1v4h1v1.5h1v-1h1v-12.5h1v16.5h1v-2h1v2h1v-3h1v1.5h1v-10.5h1v9.5h1v-1h1v-3h1v6.5zM1351 903h6v-7h1v4.5h1v2.5h2v-3.5h1v3.5h3v-3h2v3h1v-5.5h1v5.5h2v-3.5h1v3.5h1v-1.5h2v1.5h1v-2.5h1v2.5h3v-3.5h1v3.5h4v-4.5h1v4.5h4v-3h1v3h1v-13h1v13h4v-3h1v-11h1v11.5h1v2.5h6v-1.5h1v1.5h1v-4h1v4h1v-3h1v-.5h1v-2.5h1v6h6v-1h1v1h1v-4.5h1v-1h1v-6h1v11.5h3v-3.5h1v-.5h1v-2.5h1v6.5h1zM1351 921.7v-4h2v-12.5h1v14.5h1v2h1v-5.5h1v5.5h1v-5.5h1v2h1v2h1v-6.5h1v-1h1v6.5h1v-1.5h1v.5h1v-1h1v4.5h2v-1h1v-1.5h1v-2.5h1v5h1v-5.5h1v2.5h1v-1h1v.5h2v-.5h1v1h1v-3.5h1v2.5h1v4h1v-3h1v-8.5h1v6h1v1h1v2h1v2.5h2v-1.5h1v-2h1v2h1v-5h1v-7h1v-3h1v12h1v-.5h1v5h2v-4h1v4h1v-2.5h1v.5h1v-1h1v-.5h1v1.5h1v-2h1v-8h1v6.5h2v2.5h1v-2h1v-3h1v8h1v-4h1v4h2v-4.5h1v1h1v2.5h1v-4.5h1v.5h1v-.5h1v-7.5h1v11h1v-2.5h1v-12h1v7.5h2v5.5h1v3.5zM1351 940.5v-6.5h1v6.5h2v-4h1v-5h1v2h1v7h1v-3.5h1v-6.5h1v-6.5h1v12.5h1v4h1v-4.5h1v-7.5h1v12h1v-16.5h1v5.5h1v5h1v-8.5h1v14.5h1v-9.5h1v9.5h1v-7h1v-1h1v8h1v-4.5h1v3h1v1.5h1v-16.5h1v9.5h1v7h1v-6.5h1v2.5h1v4h1v-11h1v11h1v-4h1v4h2v-3.5h1v1.5h1v2h1v-4.5h1v-4h1v2h1v2.5h1v-.5h1v-7.5h1v6.5h1v1h1v-2h1v6.5h1v-5h2v5h1v-6.5h1v-.5h1v-6.5h1v7.5h2v6h2v-2h1v-10h1v4h1v2.5h1v1.5h1v-.5h1v4.5h1v-15.5h1v14h1v-2.5h2v1.5h1v-5h1v4.5h1v3h1v-12h1v-2h1v5h1v9zM1351 959.3h1v-5h1v2.5h1v2.5h1v-5.5h2v3h1v-5.5h1v-6.5h1v13h1v-2.5h1v4h1v-9h1v-4.5h1v4.5h1v3h2v1h1v5h1v-3h1v-.5h1v3.5h1v-5.5h1v-3h2v-1.5h1v10h2v-4.5h1v-5.5h1v7h1v.5h1v2.5h1v-7.5h1v2h1v5.5h2v-3.5h1v-10.5h1v11h1v-13.5h1v16.5h3v-14h1v8.5h1v-5h1v-2h1v12.5h1v-3.5h1v-.5h1v.5h1v-9.5h1v.5h1v8h1v4.5h1v-10h1v10h1v-10h1v-6.5h1v16.5h1v-7h1v-8h1v8.5h1v2.5h2v-7.5h1v8.5h1v-2.5h1v1h1v-6h1v10.5h2v-16.5h2v9.5h1v2.5h1v-4h1v1.5h1v7h1zM1351 978.1v-6h1v6h1v-5.5h1v5.5h1v-3h1v3h1v-3h1v3h1v-4.5h1v4.5h2v-8h1v-2h1v10h4v-10h1v10h1v-2h1v-1.5h1v-4h1v5h1v-5.5h1v1.5h1v4.5h1v-3h1v.5h1v4.5h1v-6.5h2v6.5h3v-7.5h1v-6.5h1v8h1v2h1v2h1v-6.5h1v8.5h1v-5.5h1v5.5h1v-10h1v5.5h1v4.5h1v-8h1v8h2v-4.5h1v-4.5h1v9h1v-16.5h1v16.5h3v-6h2v6h1v-4.5h1v3h1v-6.5h1v8h2v-9.5h1v9.5h3v-2.5h1v-6.5h1v-6h1v10.5h1v4.5h1v-5.5h1v-.5h1v3h1v-13.5h1v13.5h1v3h1v-4h1v4zM1351 996.8h1v-5h1v-8h1v6.5h1v-1h1v4h1v3.5h1v-9h1v9h3v-3h1v3h6v-8h1v8h1v-3h2v-.5h1v3.5h1v-10h1v6.5h1v3.5h3v-2.5h1v-2.5h1v5h2v-6h1v3.5h1v2.5h6v-1.5h1v1.5h1v-4.5h1v4.5h3v-2.5h1v2.5h8v-1.5h1v-3h2v4.5h4v-1.5h1v1.5h16zM1351 1015.6h1v-3.5h1v3.5h3v-2.5h1v2.5h1v-16.5h1v14.5h1v2h3v-2h2v-3h1v3h1v2h2v-2.5h1v2.5h1v-4.5h1v4.5h4v-3.5h1v-3.5h1v7h1v-4h2v4h1v-3h1v3h1v-3h1v3h1v-3.5h1v-8.5h1v12h1v-1.5h1v-2h1v3.5h5v-4h1v4h2v-1.5h1v1.5h1v-5.5h1v-2h1v7.5h1v-2.5h2v2.5h1v-2.5h1v2.5h3v-1h1v1h2v-2.5h1v2.5h2v-4h1v-1h1v2h1v-5h1v5h1v-.5h1v3.5h1v-3.5h1v3.5h1v-3h1v3h4zM1351 1034.4h1v-3.5h1v3.5h7v-4h1v4h2v-1.5h1v-2h1v.5h1v-2.5h1v5.5h4v-6h1v4h1v2h1v-3h1v.5h1v1.5h1v1h1v-4h1v4h2v-4.5h2v4.5h4v-2h1v2h3v-4h1v4h3v-6h1v6h3v-4.5h1v4.5h3v-1.5h1v1.5h17v-2h1v2h2v-1h1v-1.5h1v.5h1v2h1v-2.5h1v-.5h1v3h1zM1351 1053.2h2v-2.5h1v2.5h2v-4.5h1v2.5h1v2h4v-1.5h1v1.5h4v-2h1v2h3v-2h1v-.5h1v2.5h2v-3h1v3h2v-7h1v7h1v-1h1v1h3v-7.5h1v7.5h1v-3h1v3h1v-1.5h1v1.5h2v-2h1v2h1v-4.5h1v4.5h2v-2h1v2h1v-2h1v2h1v-9h1v7h1v2h10v-2h1v-.5h2v2.5h8v-3h1v3h2v-2.5h1v2.5h1v-2h1v2h2zM1351 1071.9v-4.5h1v4.5h1v-5h1v-3.5h1v1.5h1v-.5h1v.5h1v2h1v-3.5h1v5.5h1v-.5h1v-1h1v-.5h1v1.5h1v-3h1v-.5h1v3.5h1v1h1v-1.5h1v1h1v.5h1v1.5h1v-5.5h1v6.5h1v-4.5h1v.5h1v-.5h1v2h1v-1.5h1v-3.5h1v3.5h2v4h1v-8h1v2.5h1v-4h1v5h1v.5h1v2h1v-1h1v-2.5h1v-.5h1v6h1v-5h1v-4.5h1v5.5h1v2h1v-2.5h1v1h1v-2.5h1v2h1v1h2v-.5h1v2h1v-1.5h1v-2.5h1v4.5h1v-7h1v5.5h1v-1h1v3.5h1v-7h1v7h2v-2h2v-1h1v-.5h1v-.5h2v1h1v-.5h2v-1.5h1v2h1v-3h1v3.5h1v-.5h1v-1.5h1v4.5zM1351 1090.7v-3.5h1v3.5h1v-8.5h1v3.5h1v5h1v-3h1v3h3v-4.5h1v4.5h2v-6h1v6h8v-7.5h1v3h1v4.5h2v-4.5h1v4.5h2v-2.5h1v2.5h1v-7.5h1v6h1v1.5h3v-7h1v7h1v-10h1v5.5h1v4.5h8v-2h1v2h8v-3.5h1v1h1v2.5h1v-2.5h1v2.5h1v-2h1v2h1v-6h1v6h1v-3.5h1v3.5h1v-2h1v2h1v-5.5h1v5.5h1v-7h1v7h1v-4h1v4h6zM1351 1109.5v-10h1v1h1v-1h1v-.5h1v3.5h1v.5h1v-4.5h1v2h1v1h1v-3h1v2h1v-1.5h1v1h1v-.5h1v1.5h1v-1h1v-1h1v-.5h1v1h1v2.5h1v-2.5h1v.5h1v-.5h1v1h1v-2.5h1v7h1v-4.5h1v1h1v-1.5h1v-2h1v2h1v-.5h2v1.5h1v1h1v-2h2v1h1v-.5h1v-.5h1v3.5h1v-3.5h1v3.5h1v-2.5h1v1.5h1v-2h1v-1h1v-.5h1v2h1v-3.5h1v3h2v-1.5h1v1.5h1v2h1v-2.5h1v-1h1v1.5h1v-2h1v1h1v.5h1v2.5h1v-.5h1v-1.5h2v-.5h1v2h1v-2.5h2v2h1v-.5h2v-1.5h1v-.5h1v2.5h1v-2h1v1.5h1v3.5h1v-5h1v1.5h1v8.5zM1351 1128.3h2v-2.5h1v2.5h2v-6.5h1v6.5h10v-2.5h1v2.5h2v-2h1v2h6v-2.5h1v-1.5h1v4h2v-4.5h1v4.5h10v-3h1v3h5v-2.5h1v2.5h5v-3.5h1v3.5h11v-3.5h1v3.5h1v-3h1v-.5h1v3.5h1v-6.5h1v4h1v2.5h8zM1351 1147.1v-7.5h1v-4.5h1v-4.5h1v4h1v-1h1v2h1v-5h1v4.5h1v3.5h1v1h1v3h1v-11.5h1v6h1v-3h1v2h1v-3.5h1v3h1v2.5h1v3h1v-4h1v5h1v-2h1v-4.5h1v-2h1v-.5h1v-1.5h1v1h1v1h1v4h1v3.5h1v.5h1v-1.5h1v-1h1v-3h1v-5.5h1v7h1v-2h1v-5h1v7h1v-7h1v2.5h1v2.5h1v4h1v-5h1v2.5h1v-3.5h1v1.5h1v5h1v-6h1v-3.5h1v4h1v3h1v-2h1v3h1v-5h1v7.5h1v-6.5h1v6h1v-9h1v4h1v6h1v-7.5h1v3.5h1v.5h1v-7h1v11h1v-3h1v2h1v-6.5h2v-4h1v7.5h1v-7.5h1v10.5h1v-6h1v5h1v-4.5h1v4.5h1v-7.5h1v-1.5h1v16zM1351 1165.8v-4h1v-1h1v5h11v-4h1v4h7v-6.5h1v6.5h1v-3h1v3h6v-4h2v4h4v-3h1v3h1v-3h1v3h4v-4h1v4h2v-8h1v2.5h1v5.5h10v-3.5h1v2.5h1v-2h1v3h1v-3.5h1v3.5h13v-3h1v3h1v-11.5h1v8h1v3.5zM1351 1184.6v-11.5h2v-1h1v2h1v1.5h1v-4h1v2.5h1v2h1v-2h3v.5h1v-2.5h1v1.5h1v.5h1v-1h1v2h1v-2.5h1v3h2v-1.5h1v-.5h1v1h2v-.5h1v-3h1v4h1v-2h3v1.5h1v-2h1v.5h1v2.5h1v-4.5h1v3.5h1v1h1v-.5h3v-2.5h1v1h1v-.5h2v3h1v-3.5h1v1.5h1v1.5h1v-1.5h1v2.5h1v-3h1v1.5h1v-4.5h1v-.5h1v4h2v-1.5h1v2h1v-1h1v-1.5h1v1.5h1v3h1v-3.5h1v-2h1v2h1v-1h1v3h1v-.5h1v1h1v-4.5h1v2.5h2v.5h1v-.5h1v-1h1v2h1v-1.5h1v2.5h1v-.5h1v-.5h1v10zM1351 1203.4h78v-1h1v1h1zM1351 1222.2v-13h1v-1h1v1h1v.5h1v-3.5h1v1h1v1.5h1v.5h1v-3h1v6h1v-3h1v.5h1v1.5h1v-2h1v.5h2v-1h1v-1.5h1v.5h1v1h1v3h1v-3.5h1v1.5h2v-1h1v2.5h1v-2.5h1v-.5h1v2h1v-3.5h1v2.5h1v1h1v2.5h1v-1.5h1v-1h1v-3h1v6h1v-4h2v1h1v-1.5h1v1h1v1.5h1v-1h1v-.5h1v1h1v-2h1v.5h1v2h1v-2.5h1v1.5h1v1h1v-1.5h1v-2h1v.5h1v2h1v-2.5h1v3h1v-.5h2v-2.5h1v6h1v-5h1v.5h2v-1h1v1.5h2v.5h1v-1.5h1v.5h1v1h1v.5h1v-2h2v1.5h1v-2.5h1v1h1v-1h1v3.5h1v11zM1351 1240.9v-15h1v.5h1v-1.5h1v2.5h1v-2.5h1v1.5h1v-2h1v2.5h1v-2.5h1v1h1v1h2v.5h1v-1h1v1h1v-2.5h1v2h3v.5h1v-1.5h1v2.5h1v-3.5h1v2h3v1h2v-.5h1v-1.5h1v5h1v-6h1v1.5h1v1h1v2h1v-1h1v-1h1v-1.5h1v-1h1v2h2v1.5h1v-2h2v1.5h1v-2h1v1h1v-.5h1v-1.5h1v1h2v.5h1v.5h1v-.5h1v-1.5h1v2h1v.5h1v-.5h3v1.5h1v-2h1v-.5h1v.5h1v.5h1v-1h2v.5h1v2h1v-3h1v2h1v-.5h2v-1h2v4.5h1v-4h1v1.5h1v-1h1v.5h1v14zM1351 1259.7v-10h1v-.5h1v-2.5h1v-1h1v-2.5h1v4h1v-1h1v-.5h1v-.5h1v.5h1v-.5h1v-.5h1v1.5h1v-1.5h3v3h1v-2h1v1h1v-1.5h1v-.5h1v-1.5h1v2h1v1h1v-1h2v-1h1v2h1v-1.5h1v-1.5h1v3.5h1v-.5h1v-2.5h1v1.5h1v-1h1v2h1v-.5h2v1.5h1v-2.5h1v3h1v-.5h1v-4h1v3h1v1h2v-1h3v-.5h1v5h1v-5h2v-2h1v3h1v-1.5h1v3.5h1v-1h1v-2h1v1.5h1v-.5h1v-1h1v.5h1v-1.5h1v.5h1v2h1v.5h1v-1.5h1v-1h1v-1.5h1v2h2v1.5h1v-1h2v-.5h1v1.5h1v-2h1v.5h2v14z" fill="#2A2D72"/>
<path d="M828.2 640.40H1432.4M828.2 659.18H1432.4M828.2 677.95H1432.4M828.2 696.73H1432.4M828.2 715.50H1432.4M828.2 734.28H1432.4M828.2 753.06H1432.4M828.2 771.83H1432.4M828.2 790.61H1432.4M828.2 809.38H1432.4M828.2 828.16H1432.4M828.2 846.94H1432.4M828.2 865.71H1432.4M828.2 884.49H1432.4M828.2 903.26H1432.4M828.2 922.04H1432.4M828.2 940.82H1432.4M828.2 959.59H1432.4M828.2 978.37H1432.4M828.2 997.14H1432.4M828.2 1015.92H1432.4M828.2 1034.70H1432.4M828.2 1053.47H1432.4M828.2 1072.25H1432.4M828.2 1091.02H1432.4M828.2 1109.80H1432.4M828.2 1128.58H1432.4M828.2 1147.35H1432.4M828.2 1166.13H1432.4M828.2 1184.90H1432.4M828.2 1203.68H1432.4M828.2 1222.46H1432.4M828.2 1241.23H1432.4M828.2 1260.01H1432.4" stroke="#000" stroke-width="1.5" fill="none"/>
<path d="M834.3 640.10V623.20M828.2 623.20H834.9M828.2 631.60H834.3M834.3 658.88V641.98M828.2 641.98H834.9M828.2 650.38H834.3M834.3 677.65V660.75M828.2 660.75H834.9M828.2 669.15H834.3M834.3 696.43V679.53M828.2 679.53H834.9M828.2 687.93H834.3M834.3 715.20V698.30M828.2 698.30H834.9M828.2 706.70H834.3M834.3 733.98V717.08M828.2 717.08H834.9M828.2 725.48H834.3M834.3 752.76V735.86M828.2 735.86H834.9M828.2 744.26H834.3M834.3 771.53V754.63M828.2 754.63H834.9M828.2 763.03H834.3M834.3 790.31V773.41M828.2 773.41H834.9M828.2 781.81H834.3M834.3 809.08V792.18M828.2 792.18H834.9M828.2 800.58H834.3M834.3 827.86V810.96M828.2 810.96H834.9M828.2 819.36H834.3M834.3 846.64V829.74M828.2 829.74H834.9M828.2 838.14H834.3M834.3 865.41V848.51M828.2 848.51H834.9M828.2 856.91H834.3M834.3 884.19V867.29M828.2 867.29H834.9M828.2 875.69H834.3M834.3 902.96V886.06M828.2 886.06H834.9M828.2 894.46H834.3M834.3 921.74V904.84M828.2 904.84H834.9M828.2 913.24H834.3M834.3 940.52V923.62M828.2 923.62H834.9M828.2 932.02H834.3M834.3 959.29V942.39M828.2 942.39H834.9M828.2 950.79H834.3M834.3 978.07V961.17M828.2 961.17H834.9M828.2 969.57H834.3M834.3 996.84V979.94M828.2 979.94H834.9M828.2 988.34H834.3M834.3 1015.62V998.72M828.2 998.72H834.9M828.2 1007.12H834.3M834.3 1034.40V1017.50M828.2 1017.50H834.9M828.2 1025.90H834.3M834.3 1053.17V1036.27M828.2 1036.27H834.9M828.2 1044.67H834.3M834.3 1071.95V1055.05M828.2 1055.05H834.9M828.2 1063.45H834.3M834.3 1090.72V1073.82M828.2 1073.82H834.9M828.2 1082.22H834.3M834.3 1109.50V1092.60M828.2 1092.60H834.9M828.2 1101.00H834.3M834.3 1128.28V1111.38M828.2 1111.38H834.9M828.2 1119.78H834.3M834.3 1147.05V1130.15M828.2 1130.15H834.9M828.2 1138.55H834.3M834.3 1165.83V1148.93M828.2 1148.93H834.9M828.2 1157.33H834.3M834.3 1184.60V1167.70M828.2 1167.70H834.9M828.2 1176.10H834.3M834.3 1203.38V1186.48M828.2 1186.48H834.9M828.2 1194.88H834.3M834.3 1222.16V1205.26M828.2 1205.26H834.9M828.2 1213.66H834.3M834.3 1240.93V1224.03M828.2 1224.03H834.9M828.2 1232.43H834.3M834.3 1259.71V1242.81M828.2 1242.81H834.9M828.2 1251.21H834.3" stroke="#000" stroke-width="1.2" fill="none"/>
<text x="862.60" y="1280.00" font-size="19.5" text-anchor="end" transform="rotate(-45 862.60 1280.00)">Germ</text>
<text x="957.00" y="1280.00" font-size="19.5" text-anchor="end" transform="rotate(-45 957.00 1280.00)">BPG</text>
<text x="1074.50" y="1280.00" font-size="19.5" text-anchor="end" transform="rotate(-45 1074.50 1280.00)">EPG</text>
<text x="1187.50" y="1276.50" font-size="19.5" text-anchor="end" transform="rotate(-45 1187.50 1276.50)">GI.</text>
<text x="1258.00" y="1275.50" font-size="19.5" text-anchor="end" transform="rotate(-45 1258.00 1275.50)">Sm.</text>
<text x="1304.00" y="1276.50" font-size="19.5" text-anchor="end" transform="rotate(-45 1304.00 1276.50)">Endo.</text>
<text x="1332.50" y="1278.00" font-size="19.5" text-anchor="end" transform="rotate(-45 1332.50 1278.00)">PV.</text>
<text x="1363.50" y="1279.00" font-size="19.5" text-anchor="end" transform="rotate(-45 1363.50 1279.00)">T cells</text>
<text x="1421.50" y="1276.00" font-size="19.5" text-anchor="end" transform="rotate(-45 1421.50 1276.00)">Macro.</text>
<path d="M1333.3 1261.9L1328.4 1268.1M1345.2 1261.9L1355.6 1269.4" stroke="#000" stroke-width="1.35" fill="none"/>
</g>
</svg></body></html>
